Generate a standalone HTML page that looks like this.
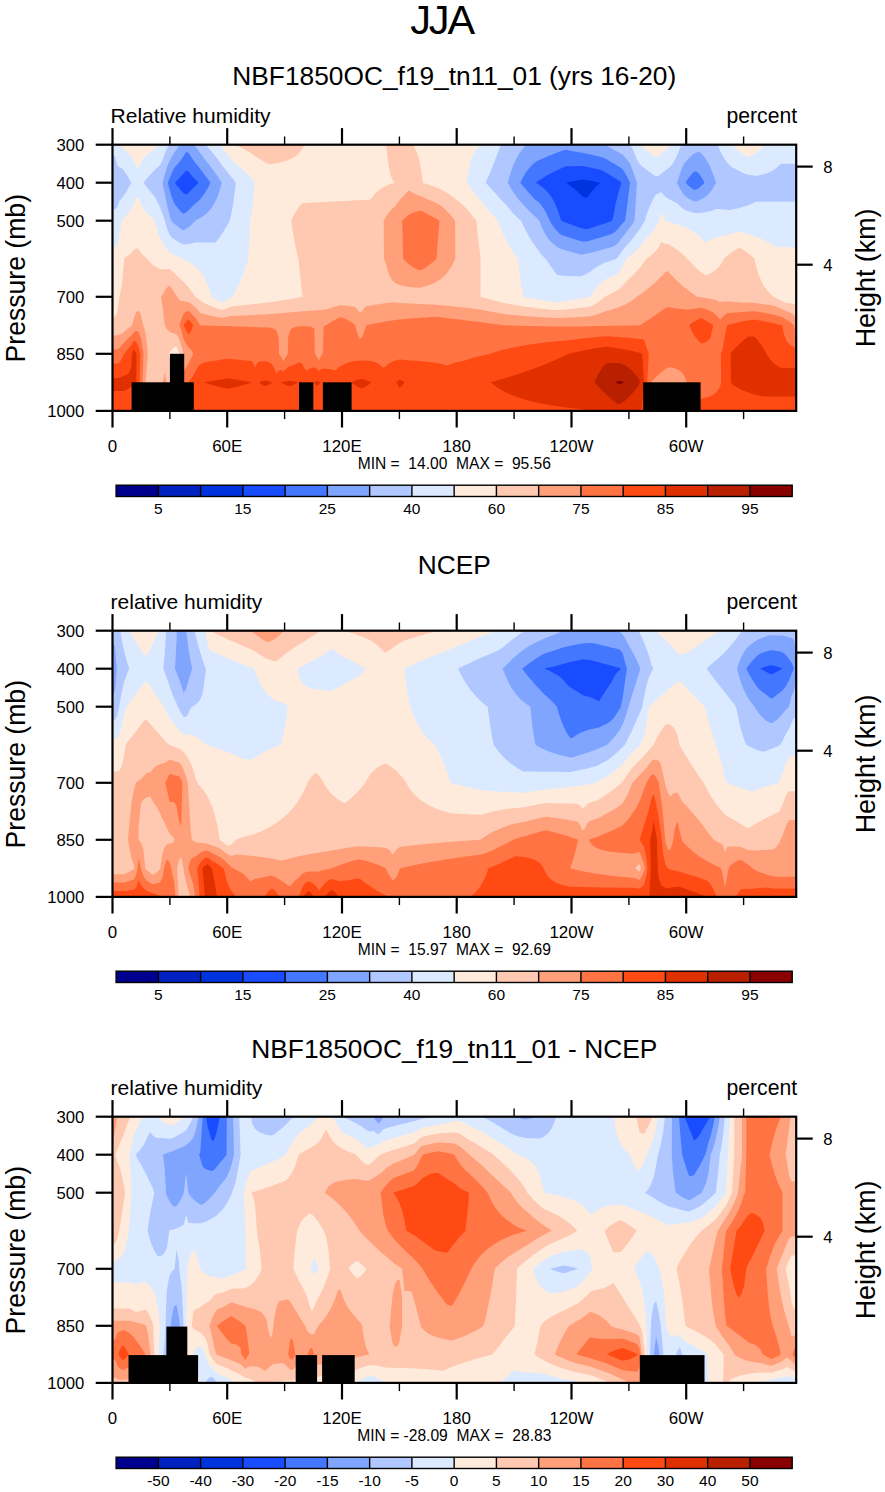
<!DOCTYPE html>
<html><head><meta charset="utf-8"><style>
html,body{margin:0;padding:0;background:#fff;}
svg{display:block;}
text{font-family:"Liberation Sans", sans-serif;fill:#000;}
</style></head><body>
<svg width="885" height="1492" viewBox="0 0 885 1492">
<rect width="885" height="1492" fill="#fff"/>
<text x="441.6" y="33.6" text-anchor="middle" font-size="41.5" letter-spacing="-2.2">JJA</text>
<clipPath id="c0"><rect x="112.5" y="144.7" width="683.7" height="266.2"/></clipPath>
<g clip-path="url(#c0)">
<path fill="#0033e0" fill-rule="evenodd" d="M112.5 144.7H796.2V410.9H112.5Z"/>
<path fill="#1a4cff" fill-rule="evenodd" d="M114.9 144.7 117.2 144.7 119.6 144.7 122.0 144.7 124.4 144.7 126.7 144.7 129.1 144.7 131.5 144.7 133.9 144.7 136.2 144.7 138.6 144.7 141.0 144.7 143.4 144.7 145.7 144.7 148.1 144.7 150.5 144.7 152.9 144.7 155.2 144.7 157.6 144.7 160.0 144.7 162.4 144.7 164.7 144.7 167.1 144.7 169.5 144.7 171.8 144.7 174.2 144.7 176.6 144.7 179.0 144.7 181.3 144.7 183.7 144.7 186.1 144.7 188.5 144.7 190.8 144.7 193.2 144.7 195.6 144.7 198.0 144.7 200.3 144.7 202.7 144.7 205.1 144.7 207.5 144.7 209.8 144.7 212.2 144.7 214.6 144.7 217.0 144.7 219.3 144.7 221.7 144.7 224.1 144.7 226.4 144.7 228.8 144.7 231.2 144.7 233.6 144.7 235.9 144.7 238.3 144.7 240.7 144.7 243.1 144.7 245.4 144.7 247.8 144.7 250.2 144.7 252.6 144.7 254.9 144.7 257.3 144.7 259.7 144.7 262.1 144.7 264.4 144.7 266.8 144.7 269.2 144.7 271.6 144.7 273.9 144.7 276.3 144.7 278.7 144.7 281.1 144.7 283.4 144.7 285.8 144.7 288.2 144.7 290.5 144.7 292.9 144.7 295.3 144.7 297.7 144.7 300.0 144.7 302.4 144.7 304.8 144.7 307.2 144.7 309.5 144.7 311.9 144.7 314.3 144.7 316.7 144.7 319.0 144.7 321.4 144.7 323.8 144.7 326.2 144.7 328.5 144.7 330.9 144.7 333.3 144.7 335.7 144.7 338.0 144.7 340.4 144.7 342.8 144.7 345.1 144.7 347.5 144.7 349.9 144.7 352.3 144.7 354.6 144.7 357.0 144.7 359.4 144.7 361.8 144.7 364.1 144.7 366.5 144.7 368.9 144.7 371.3 144.7 373.6 144.7 376.0 144.7 378.4 144.7 380.8 144.7 383.1 144.7 385.5 144.7 387.9 144.7 390.3 144.7 392.6 144.7 395.0 144.7 397.4 144.7 399.7 144.7 402.1 144.7 404.5 144.7 406.9 144.7 409.2 144.7 411.6 144.7 414.0 144.7 416.4 144.7 418.7 144.7 421.1 144.7 423.5 144.7 425.9 144.7 428.2 144.7 430.6 144.7 433.0 144.7 435.4 144.7 437.7 144.7 440.1 144.7 442.5 144.7 444.9 144.7 447.2 144.7 449.6 144.7 452.0 144.7 454.4 144.7 456.7 144.7 459.1 144.7 461.5 144.7 463.8 144.7 466.2 144.7 468.6 144.7 471.0 144.7 473.3 144.7 475.7 144.7 478.1 144.7 480.5 144.7 482.8 144.7 485.2 144.7 487.6 144.7 490.0 144.7 492.3 144.7 494.7 144.7 497.1 144.7 499.5 144.7 501.8 144.7 504.2 144.7 506.6 144.7 509.0 144.7 511.3 144.7 513.7 144.7 516.1 144.7 518.4 144.7 520.8 144.7 523.2 144.7 525.6 144.7 527.9 144.7 530.3 144.7 532.7 144.7 535.1 144.7 537.4 144.7 539.8 144.7 542.2 144.7 544.6 144.7 546.9 144.7 549.3 144.7 551.7 144.7 554.1 144.7 556.4 144.7 558.8 144.7 561.2 144.7 563.6 144.7 565.9 144.7 568.3 144.7 570.7 144.7 573.0 144.7 575.4 144.7 577.8 144.7 580.2 144.7 582.5 144.7 584.9 144.7 587.3 144.7 589.7 144.7 592.0 144.7 594.4 144.7 596.8 144.7 599.2 144.7 601.5 144.7 603.9 144.7 606.3 144.7 608.7 144.7 611.0 144.7 613.4 144.7 615.8 144.7 618.2 144.7 620.5 144.7 622.9 144.7 625.3 144.7 627.6 144.7 630.0 144.7 632.4 144.7 634.8 144.7 637.1 144.7 639.5 144.7 641.9 144.7 644.3 144.7 646.6 144.7 649.0 144.7 651.4 144.7 653.8 144.7 656.1 144.7 658.5 144.7 660.9 144.7 663.3 144.7 665.6 144.7 668.0 144.7 670.4 144.7 672.8 144.7 675.1 144.7 677.5 144.7 679.9 144.7 682.2 144.7 684.6 144.7 687.0 144.7 689.4 144.7 691.7 144.7 694.1 144.7 696.5 144.7 698.9 144.7 701.2 144.7 703.6 144.7 706.0 144.7 708.4 144.7 710.7 144.7 713.1 144.7 715.5 144.7 717.9 144.7 720.2 144.7 722.6 144.7 725.0 144.7 727.4 144.7 729.7 144.7 732.1 144.7 734.5 144.7 736.9 144.7 739.2 144.7 741.6 144.7 744.0 144.7 746.3 144.7 748.7 144.7 751.1 144.7 753.5 144.7 755.8 144.7 758.2 144.7 760.6 144.7 763.0 144.7 765.3 144.7 767.7 144.7 770.1 144.7 772.5 144.7 774.8 144.7 777.2 144.7 779.6 144.7 782.0 144.7 784.3 144.7 786.7 144.7 789.1 144.7 791.5 144.7 793.8 144.7 796.2 144.7 796.2 182.7 796.2 220.7 796.2 258.7 796.2 296.8 796.2 325.3 796.2 353.8 796.2 382.3 796.2 410.9 793.8 410.9 791.5 410.9 789.1 410.9 786.7 410.9 784.3 410.9 782.0 410.9 779.6 410.9 777.2 410.9 774.8 410.9 772.5 410.9 770.1 410.9 767.7 410.9 765.3 410.9 763.0 410.9 760.6 410.9 758.2 410.9 755.8 410.9 753.5 410.9 751.1 410.9 748.7 410.9 746.3 410.9 744.0 410.9 741.6 410.9 739.2 410.9 736.9 410.9 734.5 410.9 732.1 410.9 729.7 410.9 727.4 410.9 725.0 410.9 722.6 410.9 720.2 410.9 717.9 410.9 715.5 410.9 713.1 410.9 710.7 410.9 708.4 410.9 706.0 410.9 703.6 410.9 701.2 410.9 698.9 410.9 696.5 410.9 694.1 410.9 691.7 410.9 689.4 410.9 687.0 410.9 684.6 410.9 682.2 410.9 679.9 410.9 677.5 410.9 675.1 410.9 672.8 410.9 670.4 410.9 668.0 410.9 665.6 410.9 663.3 410.9 660.9 410.9 658.5 410.9 656.1 410.9 653.8 410.9 651.4 410.9 649.0 410.9 646.6 410.9 644.3 410.9 641.9 410.9 639.5 410.9 637.1 410.9 634.8 410.9 632.4 410.9 630.0 410.9 627.6 410.9 625.3 410.9 622.9 410.9 620.5 410.9 618.2 410.9 615.8 410.9 613.4 410.9 611.0 410.9 608.7 410.9 606.3 410.9 603.9 410.9 601.5 410.9 599.2 410.9 596.8 410.9 594.4 410.9 592.0 410.9 589.7 410.9 587.3 410.9 584.9 410.9 582.5 410.9 580.2 410.9 577.8 410.9 575.4 410.9 573.0 410.9 570.7 410.9 568.3 410.9 565.9 410.9 563.6 410.9 561.2 410.9 558.8 410.9 556.4 410.9 554.1 410.9 551.7 410.9 549.3 410.9 546.9 410.9 544.6 410.9 542.2 410.9 539.8 410.9 537.4 410.9 535.1 410.9 532.7 410.9 530.3 410.9 527.9 410.9 525.6 410.9 523.2 410.9 520.8 410.9 518.4 410.9 516.1 410.9 513.7 410.9 511.3 410.9 509.0 410.9 506.6 410.9 504.2 410.9 501.8 410.9 499.5 410.9 497.1 410.9 494.7 410.9 492.3 410.9 490.0 410.9 487.6 410.9 485.2 410.9 482.8 410.9 480.5 410.9 478.1 410.9 475.7 410.9 473.3 410.9 471.0 410.9 468.6 410.9 466.2 410.9 463.8 410.9 461.5 410.9 459.1 410.9 456.7 410.9 454.4 410.9 452.0 410.9 449.6 410.9 447.2 410.9 444.9 410.9 442.5 410.9 440.1 410.9 437.7 410.9 435.4 410.9 433.0 410.9 430.6 410.9 428.2 410.9 425.9 410.9 423.5 410.9 421.1 410.9 418.7 410.9 416.4 410.9 414.0 410.9 411.6 410.9 409.2 410.9 406.9 410.9 404.5 410.9 402.1 410.9 399.7 410.9 397.4 410.9 395.0 410.9 392.6 410.9 390.3 410.9 387.9 410.9 385.5 410.9 383.1 410.9 380.8 410.9 378.4 410.9 376.0 410.9 373.6 410.9 371.3 410.9 368.9 410.9 366.5 410.9 364.1 410.9 361.8 410.9 359.4 410.9 357.0 410.9 354.6 410.9 352.3 410.9 349.9 410.9 347.5 410.9 345.1 410.9 342.8 410.9 340.4 410.9 338.0 410.9 335.7 410.9 333.3 410.9 330.9 410.9 328.5 410.9 326.2 410.9 323.8 410.9 321.4 410.9 319.0 410.9 316.7 410.9 314.3 410.9 311.9 410.9 309.5 410.9 307.2 410.9 304.8 410.9 302.4 410.9 300.0 410.9 297.7 410.9 295.3 410.9 292.9 410.9 290.5 410.9 288.2 410.9 285.8 410.9 283.4 410.9 281.1 410.9 278.7 410.9 276.3 410.9 273.9 410.9 271.6 410.9 269.2 410.9 266.8 410.9 264.4 410.9 262.1 410.9 259.7 410.9 257.3 410.9 254.9 410.9 252.6 410.9 250.2 410.9 247.8 410.9 245.4 410.9 243.1 410.9 240.7 410.9 238.3 410.9 235.9 410.9 233.6 410.9 231.2 410.9 228.8 410.9 226.4 410.9 224.1 410.9 221.7 410.9 219.3 410.9 217.0 410.9 214.6 410.9 212.2 410.9 209.8 410.9 207.5 410.9 205.1 410.9 202.7 410.9 200.3 410.9 198.0 410.9 195.6 410.9 193.2 410.9 190.8 410.9 188.5 410.9 186.1 410.9 183.7 410.9 181.3 410.9 179.0 410.9 176.6 410.9 174.2 410.9 171.8 410.9 169.5 410.9 167.1 410.9 164.7 410.9 162.4 410.9 160.0 410.9 157.6 410.9 155.2 410.9 152.9 410.9 150.5 410.9 148.1 410.9 145.7 410.9 143.4 410.9 141.0 410.9 138.6 410.9 136.2 410.9 133.9 410.9 131.5 410.9 129.1 410.9 126.7 410.9 124.4 410.9 122.0 410.9 119.6 410.9 117.2 410.9 114.9 410.9 112.5 410.9 112.5 382.3 112.5 353.8 112.5 325.3 112.5 296.8 112.5 258.7 112.5 220.7 112.5 182.7 112.5 144.7 114.9 144.7ZM566.1 182.7 568.3 184.2 570.7 185.9 573.0 187.7 575.4 189.6 577.8 191.8 580.2 194.1 582.5 196.6 584.9 197.6 587.3 197.2 589.7 193.9 592.0 191.0 594.4 188.4 596.8 186.0 599.2 183.9 599.9 182.7 599.2 182.4 596.8 182.0 594.4 181.5 592.0 181.1 589.7 180.6 587.3 180.2 584.9 179.7 582.5 179.5 580.2 179.9 577.8 180.3 575.4 180.7 573.0 181.2 570.7 181.6 568.3 182.2 566.1 182.7Z"/>
<path fill="#4477ff" fill-rule="evenodd" d="M114.9 144.7 117.2 144.7 119.6 144.7 122.0 144.7 124.4 144.7 126.7 144.7 129.1 144.7 131.5 144.7 133.9 144.7 136.2 144.7 138.6 144.7 141.0 144.7 143.4 144.7 145.7 144.7 148.1 144.7 150.5 144.7 152.9 144.7 155.2 144.7 157.6 144.7 160.0 144.7 162.4 144.7 164.7 144.7 167.1 144.7 169.5 144.7 171.8 144.7 174.2 144.7 176.6 144.7 179.0 144.7 181.3 144.7 183.7 144.7 186.1 144.7 188.5 144.7 190.8 144.7 193.2 144.7 195.6 144.7 198.0 144.7 200.3 144.7 202.7 144.7 205.1 144.7 207.5 144.7 209.8 144.7 212.2 144.7 214.6 144.7 217.0 144.7 219.3 144.7 221.7 144.7 224.1 144.7 226.4 144.7 228.8 144.7 231.2 144.7 233.6 144.7 235.9 144.7 238.3 144.7 240.7 144.7 243.1 144.7 245.4 144.7 247.8 144.7 250.2 144.7 252.6 144.7 254.9 144.7 257.3 144.7 259.7 144.7 262.1 144.7 264.4 144.7 266.8 144.7 269.2 144.7 271.6 144.7 273.9 144.7 276.3 144.7 278.7 144.7 281.1 144.7 283.4 144.7 285.8 144.7 288.2 144.7 290.5 144.7 292.9 144.7 295.3 144.7 297.7 144.7 300.0 144.7 302.4 144.7 304.8 144.7 307.2 144.7 309.5 144.7 311.9 144.7 314.3 144.7 316.7 144.7 319.0 144.7 321.4 144.7 323.8 144.7 326.2 144.7 328.5 144.7 330.9 144.7 333.3 144.7 335.7 144.7 338.0 144.7 340.4 144.7 342.8 144.7 345.1 144.7 347.5 144.7 349.9 144.7 352.3 144.7 354.6 144.7 357.0 144.7 359.4 144.7 361.8 144.7 364.1 144.7 366.5 144.7 368.9 144.7 371.3 144.7 373.6 144.7 376.0 144.7 378.4 144.7 380.8 144.7 383.1 144.7 385.5 144.7 387.9 144.7 390.3 144.7 392.6 144.7 395.0 144.7 397.4 144.7 399.7 144.7 402.1 144.7 404.5 144.7 406.9 144.7 409.2 144.7 411.6 144.7 414.0 144.7 416.4 144.7 418.7 144.7 421.1 144.7 423.5 144.7 425.9 144.7 428.2 144.7 430.6 144.7 433.0 144.7 435.4 144.7 437.7 144.7 440.1 144.7 442.5 144.7 444.9 144.7 447.2 144.7 449.6 144.7 452.0 144.7 454.4 144.7 456.7 144.7 459.1 144.7 461.5 144.7 463.8 144.7 466.2 144.7 468.6 144.7 471.0 144.7 473.3 144.7 475.7 144.7 478.1 144.7 480.5 144.7 482.8 144.7 485.2 144.7 487.6 144.7 490.0 144.7 492.3 144.7 494.7 144.7 497.1 144.7 499.5 144.7 501.8 144.7 504.2 144.7 506.6 144.7 509.0 144.7 511.3 144.7 513.7 144.7 516.1 144.7 518.4 144.7 520.8 144.7 523.2 144.7 525.6 144.7 527.9 144.7 530.3 144.7 532.7 144.7 535.1 144.7 537.4 144.7 539.8 144.7 542.2 144.7 544.6 144.7 546.9 144.7 549.3 144.7 551.7 144.7 554.1 144.7 556.4 144.7 558.8 144.7 561.2 144.7 563.6 144.7 565.9 144.7 568.3 144.7 570.7 144.7 573.0 144.7 575.4 144.7 577.8 144.7 580.2 144.7 582.5 144.7 584.9 144.7 587.3 144.7 589.7 144.7 592.0 144.7 594.4 144.7 596.8 144.7 599.2 144.7 601.5 144.7 603.9 144.7 606.3 144.7 608.7 144.7 611.0 144.7 613.4 144.7 615.8 144.7 618.2 144.7 620.5 144.7 622.9 144.7 625.3 144.7 627.6 144.7 630.0 144.7 632.4 144.7 634.8 144.7 637.1 144.7 639.5 144.7 641.9 144.7 644.3 144.7 646.6 144.7 649.0 144.7 651.4 144.7 653.8 144.7 656.1 144.7 658.5 144.7 660.9 144.7 663.3 144.7 665.6 144.7 668.0 144.7 670.4 144.7 672.8 144.7 675.1 144.7 677.5 144.7 679.9 144.7 682.2 144.7 684.6 144.7 687.0 144.7 689.4 144.7 691.7 144.7 694.1 144.7 696.5 144.7 698.9 144.7 701.2 144.7 703.6 144.7 706.0 144.7 708.4 144.7 710.7 144.7 713.1 144.7 715.5 144.7 717.9 144.7 720.2 144.7 722.6 144.7 725.0 144.7 727.4 144.7 729.7 144.7 732.1 144.7 734.5 144.7 736.9 144.7 739.2 144.7 741.6 144.7 744.0 144.7 746.3 144.7 748.7 144.7 751.1 144.7 753.5 144.7 755.8 144.7 758.2 144.7 760.6 144.7 763.0 144.7 765.3 144.7 767.7 144.7 770.1 144.7 772.5 144.7 774.8 144.7 777.2 144.7 779.6 144.7 782.0 144.7 784.3 144.7 786.7 144.7 789.1 144.7 791.5 144.7 793.8 144.7 796.2 144.7 796.2 182.7 796.2 220.7 796.2 258.7 796.2 296.8 796.2 325.3 796.2 353.8 796.2 382.3 796.2 410.9 793.8 410.9 791.5 410.9 789.1 410.9 786.7 410.9 784.3 410.9 782.0 410.9 779.6 410.9 777.2 410.9 774.8 410.9 772.5 410.9 770.1 410.9 767.7 410.9 765.3 410.9 763.0 410.9 760.6 410.9 758.2 410.9 755.8 410.9 753.5 410.9 751.1 410.9 748.7 410.9 746.3 410.9 744.0 410.9 741.6 410.9 739.2 410.9 736.9 410.9 734.5 410.9 732.1 410.9 729.7 410.9 727.4 410.9 725.0 410.9 722.6 410.9 720.2 410.9 717.9 410.9 715.5 410.9 713.1 410.9 710.7 410.9 708.4 410.9 706.0 410.9 703.6 410.9 701.2 410.9 698.9 410.9 696.5 410.9 694.1 410.9 691.7 410.9 689.4 410.9 687.0 410.9 684.6 410.9 682.2 410.9 679.9 410.9 677.5 410.9 675.1 410.9 672.8 410.9 670.4 410.9 668.0 410.9 665.6 410.9 663.3 410.9 660.9 410.9 658.5 410.9 656.1 410.9 653.8 410.9 651.4 410.9 649.0 410.9 646.6 410.9 644.3 410.9 641.9 410.9 639.5 410.9 637.1 410.9 634.8 410.9 632.4 410.9 630.0 410.9 627.6 410.9 625.3 410.9 622.9 410.9 620.5 410.9 618.2 410.9 615.8 410.9 613.4 410.9 611.0 410.9 608.7 410.9 606.3 410.9 603.9 410.9 601.5 410.9 599.2 410.9 596.8 410.9 594.4 410.9 592.0 410.9 589.7 410.9 587.3 410.9 584.9 410.9 582.5 410.9 580.2 410.9 577.8 410.9 575.4 410.9 573.0 410.9 570.7 410.9 568.3 410.9 565.9 410.9 563.6 410.9 561.2 410.9 558.8 410.9 556.4 410.9 554.1 410.9 551.7 410.9 549.3 410.9 546.9 410.9 544.6 410.9 542.2 410.9 539.8 410.9 537.4 410.9 535.1 410.9 532.7 410.9 530.3 410.9 527.9 410.9 525.6 410.9 523.2 410.9 520.8 410.9 518.4 410.9 516.1 410.9 513.7 410.9 511.3 410.9 509.0 410.9 506.6 410.9 504.2 410.9 501.8 410.9 499.5 410.9 497.1 410.9 494.7 410.9 492.3 410.9 490.0 410.9 487.6 410.9 485.2 410.9 482.8 410.9 480.5 410.9 478.1 410.9 475.7 410.9 473.3 410.9 471.0 410.9 468.6 410.9 466.2 410.9 463.8 410.9 461.5 410.9 459.1 410.9 456.7 410.9 454.4 410.9 452.0 410.9 449.6 410.9 447.2 410.9 444.9 410.9 442.5 410.9 440.1 410.9 437.7 410.9 435.4 410.9 433.0 410.9 430.6 410.9 428.2 410.9 425.9 410.9 423.5 410.9 421.1 410.9 418.7 410.9 416.4 410.9 414.0 410.9 411.6 410.9 409.2 410.9 406.9 410.9 404.5 410.9 402.1 410.9 399.7 410.9 397.4 410.9 395.0 410.9 392.6 410.9 390.3 410.9 387.9 410.9 385.5 410.9 383.1 410.9 380.8 410.9 378.4 410.9 376.0 410.9 373.6 410.9 371.3 410.9 368.9 410.9 366.5 410.9 364.1 410.9 361.8 410.9 359.4 410.9 357.0 410.9 354.6 410.9 352.3 410.9 349.9 410.9 347.5 410.9 345.1 410.9 342.8 410.9 340.4 410.9 338.0 410.9 335.7 410.9 333.3 410.9 330.9 410.9 328.5 410.9 326.2 410.9 323.8 410.9 321.4 410.9 319.0 410.9 316.7 410.9 314.3 410.9 311.9 410.9 309.5 410.9 307.2 410.9 304.8 410.9 302.4 410.9 300.0 410.9 297.7 410.9 295.3 410.9 292.9 410.9 290.5 410.9 288.2 410.9 285.8 410.9 283.4 410.9 281.1 410.9 278.7 410.9 276.3 410.9 273.9 410.9 271.6 410.9 269.2 410.9 266.8 410.9 264.4 410.9 262.1 410.9 259.7 410.9 257.3 410.9 254.9 410.9 252.6 410.9 250.2 410.9 247.8 410.9 245.4 410.9 243.1 410.9 240.7 410.9 238.3 410.9 235.9 410.9 233.6 410.9 231.2 410.9 228.8 410.9 226.4 410.9 224.1 410.9 221.7 410.9 219.3 410.9 217.0 410.9 214.6 410.9 212.2 410.9 209.8 410.9 207.5 410.9 205.1 410.9 202.7 410.9 200.3 410.9 198.0 410.9 195.6 410.9 193.2 410.9 190.8 410.9 188.5 410.9 186.1 410.9 183.7 410.9 181.3 410.9 179.0 410.9 176.6 410.9 174.2 410.9 171.8 410.9 169.5 410.9 167.1 410.9 164.7 410.9 162.4 410.9 160.0 410.9 157.6 410.9 155.2 410.9 152.9 410.9 150.5 410.9 148.1 410.9 145.7 410.9 143.4 410.9 141.0 410.9 138.6 410.9 136.2 410.9 133.9 410.9 131.5 410.9 129.1 410.9 126.7 410.9 124.4 410.9 122.0 410.9 119.6 410.9 117.2 410.9 114.9 410.9 112.5 410.9 112.5 382.3 112.5 353.8 112.5 325.3 112.5 296.8 112.5 258.7 112.5 220.7 112.5 182.7 112.5 144.7 114.9 144.7ZM175.0 182.7 176.6 185.2 179.0 188.1 181.3 191.0 183.7 193.5 186.1 194.5 188.5 193.0 190.8 190.6 193.2 188.2 195.6 185.8 198.0 183.5 198.5 182.7 198.0 182.0 195.6 179.7 193.2 177.2 190.8 174.5 188.5 171.5 186.1 170.4 183.7 173.4 181.3 176.1 179.0 178.6 176.6 180.9 175.0 182.7ZM535.7 182.7 537.4 183.8 539.8 185.3 542.2 187.0 544.6 189.0 546.9 191.4 549.3 194.3 551.7 197.6 554.1 201.7 556.4 206.8 558.8 213.3 561.1 220.7 561.2 220.8 563.6 221.7 565.9 222.6 568.3 223.5 570.7 224.3 573.0 225.2 575.4 226.0 577.8 226.9 580.2 227.7 582.5 228.4 584.9 228.9 587.3 229.1 589.7 228.4 592.0 227.6 594.4 226.9 596.8 226.1 599.2 225.3 601.5 224.6 603.9 223.8 606.3 223.0 608.7 222.1 611.0 221.3 612.1 220.7 613.4 216.2 615.8 203.1 618.2 193.5 620.5 186.1 621.3 182.7 620.5 181.8 618.2 180.2 615.8 178.7 613.4 177.2 611.0 175.7 608.7 174.2 606.3 172.7 603.9 171.4 601.5 170.2 599.2 169.4 596.8 168.9 594.4 168.4 592.0 168.0 589.7 167.5 587.3 167.0 584.9 166.5 582.5 166.1 580.2 166.1 577.8 166.2 575.4 166.2 573.0 166.2 570.7 166.2 568.3 166.2 565.9 166.2 563.6 167.2 561.2 168.3 558.8 169.4 556.4 170.5 554.1 171.7 551.7 173.0 549.3 174.2 546.9 175.6 544.6 176.9 542.2 178.4 539.8 179.8 537.4 181.4 535.7 182.7Z"/>
<path fill="#80a5ff" fill-rule="evenodd" d="M114.9 144.7 117.2 144.7 119.6 144.7 122.0 144.7 124.4 144.7 126.7 144.7 129.1 144.7 131.5 144.7 133.9 144.7 136.2 144.7 138.6 144.7 141.0 144.7 143.4 144.7 145.7 144.7 148.1 144.7 150.5 144.7 152.9 144.7 155.2 144.7 157.6 144.7 160.0 144.7 162.4 144.7 164.7 144.7 167.1 144.7 169.5 144.7 171.8 144.7 174.2 144.7 176.6 144.7 179.0 144.7 181.3 144.7 183.7 144.7 186.1 144.7 188.5 144.7 190.8 144.7 193.2 144.7 195.6 144.7 198.0 144.7 200.3 144.7 202.7 144.7 205.1 144.7 207.5 144.7 209.8 144.7 212.2 144.7 214.6 144.7 217.0 144.7 219.3 144.7 221.7 144.7 224.1 144.7 226.4 144.7 228.8 144.7 231.2 144.7 233.6 144.7 235.9 144.7 238.3 144.7 240.7 144.7 243.1 144.7 245.4 144.7 247.8 144.7 250.2 144.7 252.6 144.7 254.9 144.7 257.3 144.7 259.7 144.7 262.1 144.7 264.4 144.7 266.8 144.7 269.2 144.7 271.6 144.7 273.9 144.7 276.3 144.7 278.7 144.7 281.1 144.7 283.4 144.7 285.8 144.7 288.2 144.7 290.5 144.7 292.9 144.7 295.3 144.7 297.7 144.7 300.0 144.7 302.4 144.7 304.8 144.7 307.2 144.7 309.5 144.7 311.9 144.7 314.3 144.7 316.7 144.7 319.0 144.7 321.4 144.7 323.8 144.7 326.2 144.7 328.5 144.7 330.9 144.7 333.3 144.7 335.7 144.7 338.0 144.7 340.4 144.7 342.8 144.7 345.1 144.7 347.5 144.7 349.9 144.7 352.3 144.7 354.6 144.7 357.0 144.7 359.4 144.7 361.8 144.7 364.1 144.7 366.5 144.7 368.9 144.7 371.3 144.7 373.6 144.7 376.0 144.7 378.4 144.7 380.8 144.7 383.1 144.7 385.5 144.7 387.9 144.7 390.3 144.7 392.6 144.7 395.0 144.7 397.4 144.7 399.7 144.7 402.1 144.7 404.5 144.7 406.9 144.7 409.2 144.7 411.6 144.7 414.0 144.7 416.4 144.7 418.7 144.7 421.1 144.7 423.5 144.7 425.9 144.7 428.2 144.7 430.6 144.7 433.0 144.7 435.4 144.7 437.7 144.7 440.1 144.7 442.5 144.7 444.9 144.7 447.2 144.7 449.6 144.7 452.0 144.7 454.4 144.7 456.7 144.7 459.1 144.7 461.5 144.7 463.8 144.7 466.2 144.7 468.6 144.7 471.0 144.7 473.3 144.7 475.7 144.7 478.1 144.7 480.5 144.7 482.8 144.7 485.2 144.7 487.6 144.7 490.0 144.7 492.3 144.7 494.7 144.7 497.1 144.7 499.5 144.7 501.8 144.7 504.2 144.7 506.6 144.7 509.0 144.7 511.3 144.7 513.7 144.7 516.1 144.7 518.4 144.7 520.8 144.7 523.2 144.7 525.6 144.7 527.9 144.7 530.3 144.7 532.7 144.7 535.1 144.7 537.4 144.7 539.8 144.7 542.2 144.7 544.6 144.7 546.9 144.7 549.3 144.7 551.7 144.7 554.1 144.7 556.4 144.7 558.8 144.7 561.2 144.7 563.6 144.7 565.9 144.7 568.3 144.7 570.7 144.7 573.0 144.7 575.4 144.7 577.8 144.7 580.2 144.7 582.5 144.7 584.9 144.7 587.3 144.7 589.7 144.7 592.0 144.7 594.4 144.7 596.8 144.7 599.2 144.7 601.5 144.7 603.9 144.7 606.3 144.7 608.7 144.7 611.0 144.7 613.4 144.7 615.8 144.7 618.2 144.7 620.5 144.7 622.9 144.7 625.3 144.7 627.6 144.7 630.0 144.7 632.4 144.7 634.8 144.7 637.1 144.7 639.5 144.7 641.9 144.7 644.3 144.7 646.6 144.7 649.0 144.7 651.4 144.7 653.8 144.7 656.1 144.7 658.5 144.7 660.9 144.7 663.3 144.7 665.6 144.7 668.0 144.7 670.4 144.7 672.8 144.7 675.1 144.7 677.5 144.7 679.9 144.7 682.2 144.7 684.6 144.7 687.0 144.7 689.4 144.7 691.7 144.7 694.1 144.7 696.5 144.7 698.9 144.7 701.2 144.7 703.6 144.7 706.0 144.7 708.4 144.7 710.7 144.7 713.1 144.7 715.5 144.7 717.9 144.7 720.2 144.7 722.6 144.7 725.0 144.7 727.4 144.7 729.7 144.7 732.1 144.7 734.5 144.7 736.9 144.7 739.2 144.7 741.6 144.7 744.0 144.7 746.3 144.7 748.7 144.7 751.1 144.7 753.5 144.7 755.8 144.7 758.2 144.7 760.6 144.7 763.0 144.7 765.3 144.7 767.7 144.7 770.1 144.7 772.5 144.7 774.8 144.7 777.2 144.7 779.6 144.7 782.0 144.7 784.3 144.7 786.7 144.7 789.1 144.7 791.5 144.7 793.8 144.7 796.2 144.7 796.2 182.7 796.2 220.7 796.2 258.7 796.2 296.8 796.2 325.3 796.2 353.8 796.2 382.3 796.2 410.9 793.8 410.9 791.5 410.9 789.1 410.9 786.7 410.9 784.3 410.9 782.0 410.9 779.6 410.9 777.2 410.9 774.8 410.9 772.5 410.9 770.1 410.9 767.7 410.9 765.3 410.9 763.0 410.9 760.6 410.9 758.2 410.9 755.8 410.9 753.5 410.9 751.1 410.9 748.7 410.9 746.3 410.9 744.0 410.9 741.6 410.9 739.2 410.9 736.9 410.9 734.5 410.9 732.1 410.9 729.7 410.9 727.4 410.9 725.0 410.9 722.6 410.9 720.2 410.9 717.9 410.9 715.5 410.9 713.1 410.9 710.7 410.9 708.4 410.9 706.0 410.9 703.6 410.9 701.2 410.9 698.9 410.9 696.5 410.9 694.1 410.9 691.7 410.9 689.4 410.9 687.0 410.9 684.6 410.9 682.2 410.9 679.9 410.9 677.5 410.9 675.1 410.9 672.8 410.9 670.4 410.9 668.0 410.9 665.6 410.9 663.3 410.9 660.9 410.9 658.5 410.9 656.1 410.9 653.8 410.9 651.4 410.9 649.0 410.9 646.6 410.9 644.3 410.9 641.9 410.9 639.5 410.9 637.1 410.9 634.8 410.9 632.4 410.9 630.0 410.9 627.6 410.9 625.3 410.9 622.9 410.9 620.5 410.9 618.2 410.9 615.8 410.9 613.4 410.9 611.0 410.9 608.7 410.9 606.3 410.9 603.9 410.9 601.5 410.9 599.2 410.9 596.8 410.9 594.4 410.9 592.0 410.9 589.7 410.9 587.3 410.9 584.9 410.9 582.5 410.9 580.2 410.9 577.8 410.9 575.4 410.9 573.0 410.9 570.7 410.9 568.3 410.9 565.9 410.9 563.6 410.9 561.2 410.9 558.8 410.9 556.4 410.9 554.1 410.9 551.7 410.9 549.3 410.9 546.9 410.9 544.6 410.9 542.2 410.9 539.8 410.9 537.4 410.9 535.1 410.9 532.7 410.9 530.3 410.9 527.9 410.9 525.6 410.9 523.2 410.9 520.8 410.9 518.4 410.9 516.1 410.9 513.7 410.9 511.3 410.9 509.0 410.9 506.6 410.9 504.2 410.9 501.8 410.9 499.5 410.9 497.1 410.9 494.7 410.9 492.3 410.9 490.0 410.9 487.6 410.9 485.2 410.9 482.8 410.9 480.5 410.9 478.1 410.9 475.7 410.9 473.3 410.9 471.0 410.9 468.6 410.9 466.2 410.9 463.8 410.9 461.5 410.9 459.1 410.9 456.7 410.9 454.4 410.9 452.0 410.9 449.6 410.9 447.2 410.9 444.9 410.9 442.5 410.9 440.1 410.9 437.7 410.9 435.4 410.9 433.0 410.9 430.6 410.9 428.2 410.9 425.9 410.9 423.5 410.9 421.1 410.9 418.7 410.9 416.4 410.9 414.0 410.9 411.6 410.9 409.2 410.9 406.9 410.9 404.5 410.9 402.1 410.9 399.7 410.9 397.4 410.9 395.0 410.9 392.6 410.9 390.3 410.9 387.9 410.9 385.5 410.9 383.1 410.9 380.8 410.9 378.4 410.9 376.0 410.9 373.6 410.9 371.3 410.9 368.9 410.9 366.5 410.9 364.1 410.9 361.8 410.9 359.4 410.9 357.0 410.9 354.6 410.9 352.3 410.9 349.9 410.9 347.5 410.9 345.1 410.9 342.8 410.9 340.4 410.9 338.0 410.9 335.7 410.9 333.3 410.9 330.9 410.9 328.5 410.9 326.2 410.9 323.8 410.9 321.4 410.9 319.0 410.9 316.7 410.9 314.3 410.9 311.9 410.9 309.5 410.9 307.2 410.9 304.8 410.9 302.4 410.9 300.0 410.9 297.7 410.9 295.3 410.9 292.9 410.9 290.5 410.9 288.2 410.9 285.8 410.9 283.4 410.9 281.1 410.9 278.7 410.9 276.3 410.9 273.9 410.9 271.6 410.9 269.2 410.9 266.8 410.9 264.4 410.9 262.1 410.9 259.7 410.9 257.3 410.9 254.9 410.9 252.6 410.9 250.2 410.9 247.8 410.9 245.4 410.9 243.1 410.9 240.7 410.9 238.3 410.9 235.9 410.9 233.6 410.9 231.2 410.9 228.8 410.9 226.4 410.9 224.1 410.9 221.7 410.9 219.3 410.9 217.0 410.9 214.6 410.9 212.2 410.9 209.8 410.9 207.5 410.9 205.1 410.9 202.7 410.9 200.3 410.9 198.0 410.9 195.6 410.9 193.2 410.9 190.8 410.9 188.5 410.9 186.1 410.9 183.7 410.9 181.3 410.9 179.0 410.9 176.6 410.9 174.2 410.9 171.8 410.9 169.5 410.9 167.1 410.9 164.7 410.9 162.4 410.9 160.0 410.9 157.6 410.9 155.2 410.9 152.9 410.9 150.5 410.9 148.1 410.9 145.7 410.9 143.4 410.9 141.0 410.9 138.6 410.9 136.2 410.9 133.9 410.9 131.5 410.9 129.1 410.9 126.7 410.9 124.4 410.9 122.0 410.9 119.6 410.9 117.2 410.9 114.9 410.9 112.5 410.9 112.5 382.3 112.5 353.8 112.5 325.3 112.5 296.8 112.5 258.7 112.5 220.7 112.5 182.7 112.5 144.7 114.9 144.7ZM167.9 182.7 169.5 189.2 171.8 197.5 174.2 203.2 176.6 206.5 179.0 209.4 181.3 212.3 183.7 213.8 186.1 212.3 188.5 210.2 190.8 207.9 193.2 205.5 195.6 203.2 198.0 201.4 200.3 199.0 202.7 196.1 205.1 192.7 207.5 188.8 209.8 184.1 210.5 182.7 209.8 181.8 207.5 178.6 205.1 175.5 202.7 172.3 200.3 169.0 198.0 166.0 195.6 163.2 193.2 160.1 190.8 156.6 188.5 152.8 186.1 152.1 183.7 155.9 181.3 159.4 179.0 162.4 176.6 165.2 174.2 168.1 171.8 173.0 169.5 178.4 167.9 182.7ZM520.3 182.7 520.8 183.4 523.2 186.2 525.6 189.0 527.9 191.7 530.3 194.3 532.7 196.9 535.1 199.4 537.4 201.3 539.8 203.3 542.2 206.5 544.6 210.1 546.9 214.5 549.3 219.8 549.7 220.7 551.7 224.0 554.1 227.4 556.4 230.3 558.8 232.8 561.2 234.9 563.6 235.7 565.9 236.5 568.3 237.3 570.7 238.1 573.0 238.8 575.4 239.6 577.8 240.3 580.2 241.1 582.5 241.4 584.9 241.5 587.3 241.4 589.7 240.7 592.0 240.0 594.4 239.3 596.8 238.6 599.2 237.9 601.5 237.2 603.9 236.5 606.3 235.8 608.7 235.0 611.0 234.3 613.4 233.2 615.8 231.2 618.2 228.6 620.5 225.8 622.9 223.1 625.0 220.7 625.3 219.4 627.6 202.2 630.0 182.7 630.0 182.7 630.0 182.7 627.6 177.6 625.3 173.4 622.9 169.8 620.5 167.6 618.2 166.2 615.8 164.7 613.4 163.3 611.0 161.9 608.7 160.5 606.3 159.1 603.9 157.9 601.5 157.1 599.2 156.4 596.8 155.9 594.4 155.4 592.0 154.8 589.7 154.3 587.3 153.8 584.9 153.2 582.5 152.8 580.2 152.4 577.8 152.0 575.4 151.6 573.0 151.2 570.7 150.7 568.3 150.3 565.9 149.7 563.6 150.3 561.2 151.1 558.8 152.0 556.4 152.8 554.1 153.7 551.7 154.7 549.3 155.6 546.9 156.6 544.6 157.7 542.2 158.7 539.8 159.8 537.4 161.0 535.1 162.3 532.7 164.4 530.3 166.9 527.9 169.7 525.6 173.0 523.2 177.1 520.8 181.6 520.3 182.7ZM685.6 182.7 687.0 184.3 689.4 186.4 691.7 188.3 694.1 190.0 696.5 189.6 698.9 187.9 701.2 186.0 703.6 183.8 704.5 182.7 703.6 180.8 701.2 176.9 698.9 173.5 696.5 171.5 694.1 171.4 691.7 174.1 689.4 177.0 687.0 180.2 685.6 182.7Z"/>
<path fill="#b0c8ff" fill-rule="evenodd" d="M114.9 144.7 117.2 144.7 119.6 144.7 122.0 144.7 124.4 144.7 126.7 144.7 129.1 144.7 131.5 144.7 133.9 144.7 136.2 144.7 138.6 144.7 141.0 144.7 143.4 144.7 145.7 144.7 148.1 144.7 150.5 144.7 152.9 144.7 155.2 144.7 157.6 144.7 160.0 144.7 162.4 144.7 164.7 144.7 167.1 144.7 169.5 144.7 171.8 144.7 174.2 144.7 176.6 144.7 179.0 144.7 180.0 144.7 179.0 146.3 176.6 149.6 174.2 152.7 171.8 156.7 169.5 161.1 167.1 166.7 164.7 174.8 162.5 182.7 164.7 193.3 167.1 205.0 169.5 215.1 171.3 220.7 171.8 221.7 174.2 223.8 176.6 225.7 179.0 227.6 181.3 229.4 183.7 230.2 186.1 228.8 188.5 227.2 190.8 225.4 193.2 223.1 195.4 220.7 195.6 220.6 198.0 219.3 200.3 218.0 202.7 216.4 205.1 214.5 207.5 212.4 209.8 209.9 212.2 206.8 214.6 202.9 217.0 198.0 219.3 191.6 221.7 182.7 221.7 182.7 221.7 182.7 219.3 179.0 217.0 175.4 214.6 172.0 212.2 168.8 209.8 165.6 207.5 162.7 205.1 159.7 202.7 156.5 200.3 153.2 198.0 150.0 195.6 146.7 194.2 144.7 195.6 144.7 198.0 144.7 200.3 144.7 202.7 144.7 205.1 144.7 207.5 144.7 209.8 144.7 212.2 144.7 214.6 144.7 217.0 144.7 219.3 144.7 221.7 144.7 224.1 144.7 226.4 144.7 228.8 144.7 231.2 144.7 233.6 144.7 235.9 144.7 238.3 144.7 240.7 144.7 243.1 144.7 245.4 144.7 247.8 144.7 250.2 144.7 252.6 144.7 254.9 144.7 257.3 144.7 259.7 144.7 262.1 144.7 264.4 144.7 266.8 144.7 269.2 144.7 271.6 144.7 273.9 144.7 276.3 144.7 278.7 144.7 281.1 144.7 283.4 144.7 285.8 144.7 288.2 144.7 290.5 144.7 292.9 144.7 295.3 144.7 297.7 144.7 300.0 144.7 302.4 144.7 304.8 144.7 307.2 144.7 309.5 144.7 311.9 144.7 314.3 144.7 316.7 144.7 319.0 144.7 321.4 144.7 323.8 144.7 326.2 144.7 328.5 144.7 330.9 144.7 333.3 144.7 335.7 144.7 338.0 144.7 340.4 144.7 342.8 144.7 345.1 144.7 347.5 144.7 349.9 144.7 352.3 144.7 354.6 144.7 357.0 144.7 359.4 144.7 361.8 144.7 364.1 144.7 366.5 144.7 368.9 144.7 371.3 144.7 373.6 144.7 376.0 144.7 378.4 144.7 380.8 144.7 383.1 144.7 385.5 144.7 387.9 144.7 390.3 144.7 392.6 144.7 395.0 144.7 397.4 144.7 399.7 144.7 402.1 144.7 404.5 144.7 406.9 144.7 409.2 144.7 411.6 144.7 414.0 144.7 416.4 144.7 418.7 144.7 421.1 144.7 423.5 144.7 425.9 144.7 428.2 144.7 430.6 144.7 433.0 144.7 435.4 144.7 437.7 144.7 440.1 144.7 442.5 144.7 444.9 144.7 447.2 144.7 449.6 144.7 452.0 144.7 454.4 144.7 456.7 144.7 459.1 144.7 461.5 144.7 463.8 144.7 466.2 144.7 468.6 144.7 471.0 144.7 473.3 144.7 475.7 144.7 478.1 144.7 480.5 144.7 482.8 144.7 485.2 144.7 487.6 144.7 490.0 144.7 492.3 144.7 494.7 144.7 497.1 144.7 499.5 144.7 501.8 144.7 504.2 144.7 506.6 144.7 509.0 144.7 511.3 144.7 513.7 144.7 516.1 144.7 518.4 144.7 520.8 144.7 523.2 144.7 525.6 144.7 526.8 144.7 525.6 145.5 523.2 148.2 520.8 151.2 518.4 154.8 516.1 159.1 513.7 164.2 511.3 170.5 509.0 178.5 507.6 182.7 509.0 184.7 511.3 188.9 513.7 192.7 516.1 196.1 518.4 199.2 520.8 201.9 523.2 204.5 525.6 207.0 527.9 209.5 530.3 211.9 532.7 214.3 535.1 216.6 537.4 218.8 539.2 220.7 539.8 221.8 542.2 228.1 544.6 233.1 546.9 237.0 549.3 240.1 551.7 242.5 554.1 244.5 556.4 246.2 558.8 247.7 561.2 249.0 563.6 249.7 565.9 250.4 568.3 251.1 570.7 251.8 573.0 252.5 575.4 253.1 577.8 253.8 580.2 254.5 582.5 254.5 584.9 254.1 587.3 253.6 589.7 253.0 592.0 252.4 594.4 251.8 596.8 251.2 599.2 250.5 601.5 249.9 603.9 249.3 606.3 248.6 608.7 247.9 611.0 247.3 613.4 246.4 615.8 245.1 618.2 242.8 620.5 239.6 622.9 236.6 625.3 233.7 627.6 230.6 630.0 227.4 632.4 224.0 634.4 220.7 634.8 216.4 637.0 182.7 634.8 176.4 632.4 169.4 630.0 163.5 627.6 160.2 625.3 157.5 622.9 155.1 620.5 153.4 618.2 152.1 615.8 150.7 613.4 149.4 611.0 148.1 608.7 146.8 606.3 145.6 604.3 144.7 606.3 144.7 608.7 144.7 611.0 144.7 613.4 144.7 615.8 144.7 618.2 144.7 620.5 144.7 622.9 144.7 625.3 144.7 627.6 144.7 630.0 144.7 632.4 144.7 634.8 144.7 637.1 144.7 639.5 144.7 641.9 144.7 644.3 144.7 646.6 144.7 649.0 144.7 651.4 144.7 653.8 144.7 656.1 144.7 658.5 144.7 660.9 144.7 663.3 144.7 665.6 144.7 668.0 144.7 670.4 144.7 672.8 144.7 675.1 144.7 677.5 144.7 679.9 144.7 682.2 144.7 684.6 144.7 687.0 144.7 689.4 144.7 691.7 144.7 694.1 144.7 696.5 144.7 698.9 144.7 701.2 144.7 703.6 144.7 706.0 144.7 708.4 144.7 710.7 144.7 713.1 144.7 715.5 144.7 717.9 144.7 720.2 144.7 722.6 144.7 725.0 144.7 727.4 144.7 729.7 144.7 732.1 144.7 734.5 144.7 736.9 144.7 739.2 144.7 741.6 144.7 744.0 144.7 746.3 144.7 748.7 144.7 751.1 144.7 753.5 144.7 755.8 144.7 758.2 144.7 760.6 144.7 763.0 144.7 765.3 144.7 767.7 144.7 770.1 144.7 772.5 144.7 774.8 144.7 777.2 144.7 779.6 144.7 782.0 144.7 784.3 144.7 786.7 144.7 789.1 144.7 791.5 144.7 793.8 144.7 796.2 144.7 796.2 182.7 796.2 220.7 796.2 258.7 796.2 296.8 796.2 325.3 796.2 353.8 796.2 382.3 796.2 410.9 793.8 410.9 791.5 410.9 789.1 410.9 786.7 410.9 784.3 410.9 782.0 410.9 779.6 410.9 777.2 410.9 774.8 410.9 772.5 410.9 770.1 410.9 767.7 410.9 765.3 410.9 763.0 410.9 760.6 410.9 758.2 410.9 755.8 410.9 753.5 410.9 751.1 410.9 748.7 410.9 746.3 410.9 744.0 410.9 741.6 410.9 739.2 410.9 736.9 410.9 734.5 410.9 732.1 410.9 729.7 410.9 727.4 410.9 725.0 410.9 722.6 410.9 720.2 410.9 717.9 410.9 715.5 410.9 713.1 410.9 710.7 410.9 708.4 410.9 706.0 410.9 703.6 410.9 701.2 410.9 698.9 410.9 696.5 410.9 694.1 410.9 691.7 410.9 689.4 410.9 687.0 410.9 684.6 410.9 682.2 410.9 679.9 410.9 677.5 410.9 675.1 410.9 672.8 410.9 670.4 410.9 668.0 410.9 665.6 410.9 663.3 410.9 660.9 410.9 658.5 410.9 656.1 410.9 653.8 410.9 651.4 410.9 649.0 410.9 646.6 410.9 644.3 410.9 641.9 410.9 639.5 410.9 637.1 410.9 634.8 410.9 632.4 410.9 630.0 410.9 627.6 410.9 625.3 410.9 622.9 410.9 620.5 410.9 618.2 410.9 615.8 410.9 613.4 410.9 611.0 410.9 608.7 410.9 606.3 410.9 603.9 410.9 601.5 410.9 599.2 410.9 596.8 410.9 594.4 410.9 592.0 410.9 589.7 410.9 587.3 410.9 584.9 410.9 582.5 410.9 580.2 410.9 577.8 410.9 575.4 410.9 573.0 410.9 570.7 410.9 568.3 410.9 565.9 410.9 563.6 410.9 561.2 410.9 558.8 410.9 556.4 410.9 554.1 410.9 551.7 410.9 549.3 410.9 546.9 410.9 544.6 410.9 542.2 410.9 539.8 410.9 537.4 410.9 535.1 410.9 532.7 410.9 530.3 410.9 527.9 410.9 525.6 410.9 523.2 410.9 520.8 410.9 518.4 410.9 516.1 410.9 513.7 410.9 511.3 410.9 509.0 410.9 506.6 410.9 504.2 410.9 501.8 410.9 499.5 410.9 497.1 410.9 494.7 410.9 492.3 410.9 490.0 410.9 487.6 410.9 485.2 410.9 482.8 410.9 480.5 410.9 478.1 410.9 475.7 410.9 473.3 410.9 471.0 410.9 468.6 410.9 466.2 410.9 463.8 410.9 461.5 410.9 459.1 410.9 456.7 410.9 454.4 410.9 452.0 410.9 449.6 410.9 447.2 410.9 444.9 410.9 442.5 410.9 440.1 410.9 437.7 410.9 435.4 410.9 433.0 410.9 430.6 410.9 428.2 410.9 425.9 410.9 423.5 410.9 421.1 410.9 418.7 410.9 416.4 410.9 414.0 410.9 411.6 410.9 409.2 410.9 406.9 410.9 404.5 410.9 402.1 410.9 399.7 410.9 397.4 410.9 395.0 410.9 392.6 410.9 390.3 410.9 387.9 410.9 385.5 410.9 383.1 410.9 380.8 410.9 378.4 410.9 376.0 410.9 373.6 410.9 371.3 410.9 368.9 410.9 366.5 410.9 364.1 410.9 361.8 410.9 359.4 410.9 357.0 410.9 354.6 410.9 352.3 410.9 349.9 410.9 347.5 410.9 345.1 410.9 342.8 410.9 340.4 410.9 338.0 410.9 335.7 410.9 333.3 410.9 330.9 410.9 328.5 410.9 326.2 410.9 323.8 410.9 321.4 410.9 319.0 410.9 316.7 410.9 314.3 410.9 311.9 410.9 309.5 410.9 307.2 410.9 304.8 410.9 302.4 410.9 300.0 410.9 297.7 410.9 295.3 410.9 292.9 410.9 290.5 410.9 288.2 410.9 285.8 410.9 283.4 410.9 281.1 410.9 278.7 410.9 276.3 410.9 273.9 410.9 271.6 410.9 269.2 410.9 266.8 410.9 264.4 410.9 262.1 410.9 259.7 410.9 257.3 410.9 254.9 410.9 252.6 410.9 250.2 410.9 247.8 410.9 245.4 410.9 243.1 410.9 240.7 410.9 238.3 410.9 235.9 410.9 233.6 410.9 231.2 410.9 228.8 410.9 226.4 410.9 224.1 410.9 221.7 410.9 219.3 410.9 217.0 410.9 214.6 410.9 212.2 410.9 209.8 410.9 207.5 410.9 205.1 410.9 202.7 410.9 200.3 410.9 198.0 410.9 195.6 410.9 193.2 410.9 190.8 410.9 188.5 410.9 186.1 410.9 183.7 410.9 181.3 410.9 179.0 410.9 176.6 410.9 174.2 410.9 171.8 410.9 169.5 410.9 167.1 410.9 164.7 410.9 162.4 410.9 160.0 410.9 157.6 410.9 155.2 410.9 152.9 410.9 150.5 410.9 148.1 410.9 145.7 410.9 143.4 410.9 141.0 410.9 138.6 410.9 136.2 410.9 133.9 410.9 131.5 410.9 129.1 410.9 126.7 410.9 124.4 410.9 122.0 410.9 119.6 410.9 117.2 410.9 114.9 410.9 112.5 410.9 112.5 382.3 112.5 353.8 112.5 325.3 112.5 296.8 112.5 258.7 112.5 220.7 112.5 182.7 112.5 144.7 114.9 144.7ZM676.5 182.7 677.5 183.6 679.9 188.6 682.2 192.5 684.6 195.6 687.0 197.5 689.4 199.0 691.7 200.3 694.1 201.5 696.5 201.3 698.9 200.4 701.2 199.3 703.6 198.1 706.0 196.5 708.4 194.3 710.7 191.6 713.1 188.1 715.5 183.6 716.7 182.7 715.5 181.3 713.1 173.9 710.7 168.1 708.4 163.3 706.0 159.3 703.6 156.0 701.2 153.3 698.9 151.7 696.5 152.5 694.1 153.6 691.7 155.6 689.4 157.8 687.0 160.2 684.6 163.1 682.2 167.6 679.9 173.9 677.5 181.4 676.5 182.7Z"/>
<path fill="#dceaff" fill-rule="evenodd" d="M114.9 144.7 117.2 144.7 119.6 144.7 122.0 144.7 124.4 144.7 126.7 144.7 129.1 144.7 131.5 144.7 133.9 144.7 136.2 144.7 138.6 144.7 141.0 144.7 143.4 144.7 145.7 144.7 148.1 144.7 150.5 144.7 152.9 144.7 155.2 144.7 157.6 144.7 160.0 144.7 162.4 144.7 164.7 144.7 167.1 144.7 169.0 144.7 167.1 148.3 164.7 154.1 162.4 160.8 160.0 165.0 157.6 167.3 155.2 169.6 152.9 171.9 150.5 174.5 148.1 177.1 145.7 179.9 143.6 182.7 145.7 185.7 148.1 188.7 150.5 191.7 152.9 194.5 155.2 197.6 157.6 202.0 160.0 207.2 162.4 213.3 164.7 220.7 164.7 220.7 167.1 228.8 169.5 234.4 171.8 237.7 174.2 239.3 176.6 240.8 179.0 242.3 181.3 243.7 183.7 244.6 186.1 244.3 188.5 243.9 190.8 243.6 193.2 243.1 195.6 242.6 198.0 242.6 200.3 242.6 202.7 242.6 205.1 242.6 207.5 242.6 209.8 242.6 212.2 242.6 214.6 242.7 217.0 241.0 219.3 237.7 221.7 234.2 224.1 230.6 226.4 226.7 228.8 222.6 229.6 220.7 231.2 214.5 233.6 200.9 235.9 182.7 235.9 182.7 235.9 182.7 233.6 179.7 231.2 176.7 228.8 173.8 226.4 170.8 224.1 167.8 221.7 164.9 219.3 161.5 217.0 158.3 214.6 155.3 212.2 152.3 209.8 149.5 207.5 146.8 205.6 144.7 207.5 144.7 209.8 144.7 212.2 144.7 214.6 144.7 217.0 144.7 219.3 144.7 221.7 144.7 224.1 144.7 226.4 144.7 228.8 144.7 231.2 144.7 233.6 144.7 235.9 144.7 238.3 144.7 240.7 144.7 243.1 144.7 245.4 144.7 247.8 144.7 250.2 144.7 252.6 144.7 254.9 144.7 257.3 144.7 259.7 144.7 262.1 144.7 264.4 144.7 266.8 144.7 269.2 144.7 271.6 144.7 273.9 144.7 276.3 144.7 278.7 144.7 281.1 144.7 283.4 144.7 285.8 144.7 288.2 144.7 290.5 144.7 292.9 144.7 295.3 144.7 297.7 144.7 300.0 144.7 302.4 144.7 304.8 144.7 307.2 144.7 309.5 144.7 311.9 144.7 314.3 144.7 316.7 144.7 319.0 144.7 321.4 144.7 323.8 144.7 326.2 144.7 328.5 144.7 330.9 144.7 333.3 144.7 335.7 144.7 338.0 144.7 340.4 144.7 342.8 144.7 345.1 144.7 347.5 144.7 349.9 144.7 352.3 144.7 354.6 144.7 357.0 144.7 359.4 144.7 361.8 144.7 364.1 144.7 366.5 144.7 368.9 144.7 371.3 144.7 373.6 144.7 376.0 144.7 378.4 144.7 380.8 144.7 383.1 144.7 385.5 144.7 387.9 144.7 390.3 144.7 392.6 144.7 395.0 144.7 397.4 144.7 399.7 144.7 402.1 144.7 404.5 144.7 406.9 144.7 409.2 144.7 411.6 144.7 414.0 144.7 416.4 144.7 418.7 144.7 421.1 144.7 423.5 144.7 425.9 144.7 428.2 144.7 430.6 144.7 433.0 144.7 435.4 144.7 437.7 144.7 440.1 144.7 442.5 144.7 444.9 144.7 447.2 144.7 449.6 144.7 452.0 144.7 454.4 144.7 456.7 144.7 459.1 144.7 461.5 144.7 463.8 144.7 466.2 144.7 468.6 144.7 471.0 144.7 473.3 144.7 475.7 144.7 478.1 144.7 480.5 144.7 482.8 144.7 485.2 144.7 487.6 144.7 490.0 144.7 492.3 144.7 494.7 144.7 497.1 144.7 499.5 144.7 501.0 144.7 499.5 148.5 497.1 154.8 494.7 160.9 492.3 166.9 490.0 172.7 487.6 178.3 485.8 182.7 487.6 184.8 490.0 187.4 492.3 190.0 494.7 192.6 497.1 195.3 499.5 197.9 501.8 200.4 504.2 203.0 506.6 205.5 509.0 208.3 511.3 211.3 513.7 213.9 516.1 216.3 518.4 218.4 520.8 220.4 521.1 220.7 523.2 225.2 525.6 230.1 527.9 234.6 530.3 238.7 532.7 242.5 535.1 246.0 537.4 249.3 539.8 252.4 542.2 255.4 544.6 257.9 545.9 258.7 546.9 260.7 549.3 264.1 551.7 267.5 554.1 270.9 556.4 274.3 558.8 275.2 561.2 275.5 563.6 275.7 565.9 275.8 568.3 276.0 570.7 276.1 573.0 276.2 575.4 276.2 577.8 276.3 580.2 276.4 582.5 275.7 584.9 274.5 587.3 273.3 589.7 272.1 592.0 270.3 594.4 268.5 596.8 266.9 599.2 265.5 601.5 264.2 603.9 263.1 606.3 262.3 608.7 261.4 611.0 260.6 613.4 259.9 615.8 259.1 616.1 258.7 618.2 256.9 620.5 253.4 622.9 250.1 625.3 246.9 627.6 244.2 630.0 241.8 632.4 239.1 634.8 236.1 637.1 233.0 639.5 229.5 641.9 225.7 644.3 221.4 644.8 220.7 646.6 214.4 649.0 208.0 651.4 202.7 653.8 198.1 656.1 194.2 658.5 193.4 660.9 191.9 663.3 194.2 665.6 197.2 668.0 198.6 670.4 199.9 672.8 201.1 675.1 202.2 677.5 203.6 679.9 206.1 682.2 208.1 684.6 209.7 687.0 210.7 689.4 211.5 691.7 212.3 694.1 212.9 696.5 213.0 698.9 212.9 701.2 212.7 703.6 212.4 706.0 212.1 708.4 211.6 710.7 210.9 713.1 210.2 715.5 209.1 717.9 209.0 720.2 209.2 722.6 209.3 725.0 209.5 727.4 209.7 729.7 209.9 732.1 209.5 734.5 209.0 736.9 208.5 739.2 207.9 741.6 207.3 744.0 206.6 746.3 205.9 748.7 205.0 751.1 204.1 753.5 203.0 755.8 201.8 758.2 201.7 760.6 201.7 763.0 201.7 765.3 201.7 767.7 201.7 770.1 201.7 772.5 201.7 774.8 201.7 777.2 201.7 779.6 201.7 782.0 201.7 784.3 201.7 786.7 201.7 789.1 201.7 791.5 201.7 793.8 201.7 796.2 201.7 796.2 220.7 796.2 258.7 796.2 296.8 796.2 325.3 796.2 353.8 796.2 382.3 796.2 410.9 793.8 410.9 791.5 410.9 789.1 410.9 786.7 410.9 784.3 410.9 782.0 410.9 779.6 410.9 777.2 410.9 774.8 410.9 772.5 410.9 770.1 410.9 767.7 410.9 765.3 410.9 763.0 410.9 760.6 410.9 758.2 410.9 755.8 410.9 753.5 410.9 751.1 410.9 748.7 410.9 746.3 410.9 744.0 410.9 741.6 410.9 739.2 410.9 736.9 410.9 734.5 410.9 732.1 410.9 729.7 410.9 727.4 410.9 725.0 410.9 722.6 410.9 720.2 410.9 717.9 410.9 715.5 410.9 713.1 410.9 710.7 410.9 708.4 410.9 706.0 410.9 703.6 410.9 701.2 410.9 698.9 410.9 696.5 410.9 694.1 410.9 691.7 410.9 689.4 410.9 687.0 410.9 684.6 410.9 682.2 410.9 679.9 410.9 677.5 410.9 675.1 410.9 672.8 410.9 670.4 410.9 668.0 410.9 665.6 410.9 663.3 410.9 660.9 410.9 658.5 410.9 656.1 410.9 653.8 410.9 651.4 410.9 649.0 410.9 646.6 410.9 644.3 410.9 641.9 410.9 639.5 410.9 637.1 410.9 634.8 410.9 632.4 410.9 630.0 410.9 627.6 410.9 625.3 410.9 622.9 410.9 620.5 410.9 618.2 410.9 615.8 410.9 613.4 410.9 611.0 410.9 608.7 410.9 606.3 410.9 603.9 410.9 601.5 410.9 599.2 410.9 596.8 410.9 594.4 410.9 592.0 410.9 589.7 410.9 587.3 410.9 584.9 410.9 582.5 410.9 580.2 410.9 577.8 410.9 575.4 410.9 573.0 410.9 570.7 410.9 568.3 410.9 565.9 410.9 563.6 410.9 561.2 410.9 558.8 410.9 556.4 410.9 554.1 410.9 551.7 410.9 549.3 410.9 546.9 410.9 544.6 410.9 542.2 410.9 539.8 410.9 537.4 410.9 535.1 410.9 532.7 410.9 530.3 410.9 527.9 410.9 525.6 410.9 523.2 410.9 520.8 410.9 518.4 410.9 516.1 410.9 513.7 410.9 511.3 410.9 509.0 410.9 506.6 410.9 504.2 410.9 501.8 410.9 499.5 410.9 497.1 410.9 494.7 410.9 492.3 410.9 490.0 410.9 487.6 410.9 485.2 410.9 482.8 410.9 480.5 410.9 478.1 410.9 475.7 410.9 473.3 410.9 471.0 410.9 468.6 410.9 466.2 410.9 463.8 410.9 461.5 410.9 459.1 410.9 456.7 410.9 454.4 410.9 452.0 410.9 449.6 410.9 447.2 410.9 444.9 410.9 442.5 410.9 440.1 410.9 437.7 410.9 435.4 410.9 433.0 410.9 430.6 410.9 428.2 410.9 425.9 410.9 423.5 410.9 421.1 410.9 418.7 410.9 416.4 410.9 414.0 410.9 411.6 410.9 409.2 410.9 406.9 410.9 404.5 410.9 402.1 410.9 399.7 410.9 397.4 410.9 395.0 410.9 392.6 410.9 390.3 410.9 387.9 410.9 385.5 410.9 383.1 410.9 380.8 410.9 378.4 410.9 376.0 410.9 373.6 410.9 371.3 410.9 368.9 410.9 366.5 410.9 364.1 410.9 361.8 410.9 359.4 410.9 357.0 410.9 354.6 410.9 352.3 410.9 349.9 410.9 347.5 410.9 345.1 410.9 342.8 410.9 340.4 410.9 338.0 410.9 335.7 410.9 333.3 410.9 330.9 410.9 328.5 410.9 326.2 410.9 323.8 410.9 321.4 410.9 319.0 410.9 316.7 410.9 314.3 410.9 311.9 410.9 309.5 410.9 307.2 410.9 304.8 410.9 302.4 410.9 300.0 410.9 297.7 410.9 295.3 410.9 292.9 410.9 290.5 410.9 288.2 410.9 285.8 410.9 283.4 410.9 281.1 410.9 278.7 410.9 276.3 410.9 273.9 410.9 271.6 410.9 269.2 410.9 266.8 410.9 264.4 410.9 262.1 410.9 259.7 410.9 257.3 410.9 254.9 410.9 252.6 410.9 250.2 410.9 247.8 410.9 245.4 410.9 243.1 410.9 240.7 410.9 238.3 410.9 235.9 410.9 233.6 410.9 231.2 410.9 228.8 410.9 226.4 410.9 224.1 410.9 221.7 410.9 219.3 410.9 217.0 410.9 214.6 410.9 212.2 410.9 209.8 410.9 207.5 410.9 205.1 410.9 202.7 410.9 200.3 410.9 198.0 410.9 195.6 410.9 193.2 410.9 190.8 410.9 188.5 410.9 186.1 410.9 183.7 410.9 181.3 410.9 179.0 410.9 176.6 410.9 174.2 410.9 171.8 410.9 169.5 410.9 167.1 410.9 164.7 410.9 162.4 410.9 160.0 410.9 157.6 410.9 155.2 410.9 152.9 410.9 150.5 410.9 148.1 410.9 145.7 410.9 143.4 410.9 141.0 410.9 138.6 410.9 136.2 410.9 133.9 410.9 131.5 410.9 129.1 410.9 126.7 410.9 124.4 410.9 122.0 410.9 119.6 410.9 117.2 410.9 114.9 410.9 112.5 410.9 112.5 382.3 112.5 353.8 112.5 325.3 112.5 296.8 112.5 258.7 112.5 220.7 112.5 209.3 114.9 209.3 117.2 207.4 119.6 200.8 122.0 197.9 124.4 194.6 126.7 190.9 129.1 186.8 131.2 182.7 129.1 178.7 126.7 174.8 124.4 171.3 122.0 168.3 119.6 167.5 117.2 165.0 114.9 156.1 112.5 156.1 112.5 144.7 114.9 144.7ZM632.4 144.7 634.8 144.7 637.1 144.7 639.5 144.7 641.9 144.7 644.3 144.7 646.6 144.7 649.0 144.7 651.4 144.7 653.8 144.7 656.1 144.7 658.5 144.7 660.9 144.7 663.3 144.7 665.6 144.7 668.0 144.7 670.4 144.7 672.8 144.7 675.1 144.7 677.5 144.7 679.9 144.7 681.6 144.7 679.9 147.9 677.5 154.4 675.1 159.5 672.8 163.5 670.4 166.5 668.0 168.4 665.6 170.3 663.3 172.1 660.9 173.9 658.5 175.7 656.1 176.5 653.8 175.0 651.4 173.3 649.0 171.6 646.6 169.8 644.3 168.0 641.9 166.2 639.5 163.7 637.1 160.1 634.8 154.3 632.4 148.8 630.2 144.7 632.4 144.7ZM717.9 144.7 720.2 144.7 722.6 144.7 725.0 144.7 727.4 144.7 729.7 144.7 732.1 144.7 734.5 144.7 736.9 144.7 739.2 144.7 741.6 144.7 744.0 144.7 746.3 144.7 748.7 144.7 751.1 144.7 753.5 144.7 755.8 144.7 758.2 144.7 760.6 144.7 763.0 144.7 765.3 144.7 767.7 144.7 770.1 144.7 772.5 144.7 774.8 144.7 777.2 144.7 779.6 144.7 782.0 144.7 784.3 144.7 786.7 144.7 789.1 144.7 791.5 144.7 793.8 144.7 796.2 144.7 796.2 163.7 793.8 163.7 791.5 163.7 789.1 163.7 786.7 163.7 784.3 163.7 782.0 163.7 779.6 164.8 777.2 167.3 774.8 169.2 772.5 170.7 770.1 171.9 767.7 172.9 765.3 173.7 763.0 174.4 760.6 174.9 758.2 175.4 755.8 175.8 753.5 175.5 751.1 175.2 748.7 174.9 746.3 174.2 744.0 173.2 741.6 172.2 739.2 171.0 736.9 169.8 734.5 168.6 732.1 167.2 729.7 165.3 727.4 162.7 725.0 159.6 722.6 155.8 720.2 151.0 717.9 144.9 717.7 144.7 717.9 144.7Z"/>
<path fill="#ffebdc" fill-rule="evenodd" d="M119.6 144.7 122.0 144.7 124.4 144.7 126.7 144.7 129.1 144.7 131.5 144.7 133.9 144.7 136.2 144.7 138.6 144.7 141.0 144.7 143.4 144.7 145.7 144.7 148.1 144.7 150.5 144.7 152.9 144.7 155.2 144.7 157.6 144.7 159.5 144.7 157.6 146.2 155.2 148.0 152.9 149.8 150.5 151.7 148.1 153.8 145.7 155.9 143.4 158.3 141.0 162.5 138.6 167.8 136.2 167.0 133.9 161.0 131.5 156.7 129.1 153.9 126.7 151.5 124.4 149.3 122.0 147.4 119.6 145.8 119.1 144.7 119.6 144.7ZM221.7 144.7 224.1 144.7 226.4 144.7 228.8 144.7 231.2 144.7 233.6 144.7 235.9 144.7 238.3 144.7 240.7 144.7 243.1 144.7 245.4 144.7 247.8 144.7 250.2 144.7 252.6 144.7 254.9 144.7 257.3 144.7 259.7 144.7 262.1 144.7 264.4 144.7 266.8 144.7 269.2 144.7 271.6 144.7 273.9 144.7 276.3 144.7 278.7 144.7 281.1 144.7 283.4 144.7 285.8 144.7 288.2 144.7 290.5 144.7 292.9 144.7 295.3 144.7 297.7 144.7 300.0 144.7 302.4 144.7 304.8 144.7 307.2 144.7 309.5 144.7 311.9 144.7 314.3 144.7 316.7 144.7 319.0 144.7 321.4 144.7 323.8 144.7 326.2 144.7 328.5 144.7 330.9 144.7 333.3 144.7 335.7 144.7 338.0 144.7 340.4 144.7 342.8 144.7 345.1 144.7 347.5 144.7 349.9 144.7 352.3 144.7 354.6 144.7 357.0 144.7 359.4 144.7 361.8 144.7 364.1 144.7 366.5 144.7 368.9 144.7 371.3 144.7 373.6 144.7 376.0 144.7 378.4 144.7 380.8 144.7 383.1 144.7 385.5 144.7 387.9 144.7 390.3 144.7 392.6 144.7 395.0 144.7 397.4 144.7 399.7 144.7 402.1 144.7 404.5 144.7 406.9 144.7 409.2 144.7 411.6 144.7 414.0 144.7 416.4 144.7 418.7 144.7 421.1 144.7 423.5 144.7 425.9 144.7 428.2 144.7 430.6 144.7 433.0 144.7 435.4 144.7 437.7 144.7 440.1 144.7 442.5 144.7 444.9 144.7 447.2 144.7 449.6 144.7 452.0 144.7 454.4 144.7 456.7 144.7 459.1 144.7 461.5 144.7 463.8 144.7 466.2 144.7 468.6 144.7 471.0 144.7 473.3 144.7 475.7 144.7 478.1 144.7 480.5 144.7 480.5 144.7 480.5 144.7 478.1 146.9 475.7 149.7 473.3 153.9 471.0 160.3 468.6 171.6 466.8 182.7 468.6 184.6 471.0 187.9 473.3 191.2 475.7 194.4 478.1 197.5 480.5 200.5 482.8 203.5 485.2 206.4 487.6 209.1 490.0 211.8 492.3 214.4 494.7 217.1 497.1 219.8 497.9 220.7 499.5 225.4 501.8 231.4 504.2 236.8 506.6 241.6 509.0 245.8 511.3 249.6 513.7 253.1 516.1 256.2 518.1 258.7 518.4 261.9 520.8 282.6 523.2 296.3 523.3 296.8 525.6 297.2 527.9 297.7 530.3 298.1 532.7 298.5 535.1 299.0 537.4 299.4 539.8 299.8 542.2 300.1 544.6 300.5 546.9 300.9 549.3 301.2 551.7 301.6 554.1 301.9 556.4 302.2 558.8 302.0 561.2 301.7 563.6 301.4 565.9 301.0 568.3 300.7 570.7 300.3 573.0 299.9 575.4 299.5 577.8 299.1 580.2 298.7 582.5 298.3 584.9 297.8 587.3 297.4 589.7 296.9 589.9 296.8 592.0 293.9 594.4 290.5 596.8 287.4 599.2 284.8 601.5 282.4 603.9 280.4 606.3 279.1 608.7 278.0 611.0 277.1 613.4 276.1 615.8 275.1 618.2 273.1 620.5 269.8 622.9 265.8 625.3 261.0 626.7 258.7 627.6 257.8 630.0 256.1 632.4 254.2 634.8 252.0 637.1 249.7 639.5 247.2 641.9 244.4 644.3 241.2 646.6 238.4 649.0 235.8 651.4 233.0 653.8 230.0 656.1 226.6 658.5 222.9 659.0 220.7 660.9 213.0 663.3 216.3 665.4 220.7 665.6 221.2 668.0 221.7 670.4 222.3 672.8 223.0 675.1 223.7 677.5 224.4 679.9 225.2 682.2 226.1 684.6 227.1 687.0 228.1 689.4 229.3 691.7 230.7 694.1 232.2 696.5 233.9 698.9 235.8 701.2 238.1 703.6 240.7 706.0 243.1 708.4 241.2 710.7 239.8 713.1 238.7 715.5 237.7 717.9 237.0 720.2 236.3 722.6 235.8 725.0 235.3 727.4 234.7 729.7 234.2 732.1 233.6 734.5 232.9 736.9 232.3 739.2 231.8 741.6 232.3 744.0 232.9 746.3 233.6 748.7 234.3 751.1 235.1 753.5 236.0 755.8 236.8 758.2 237.6 760.6 238.5 763.0 239.5 765.3 240.7 767.7 241.9 770.1 243.4 772.5 245.0 774.8 246.9 777.2 247.3 779.6 247.3 782.0 247.3 784.3 247.3 786.7 247.3 789.1 247.3 791.5 247.3 793.8 247.3 796.2 247.3 796.2 258.7 796.2 296.8 796.2 325.3 796.2 353.8 796.2 382.3 796.2 410.9 793.8 410.9 791.5 410.9 789.1 410.9 786.7 410.9 784.3 410.9 782.0 410.9 779.6 410.9 777.2 410.9 774.8 410.9 772.5 410.9 770.1 410.9 767.7 410.9 765.3 410.9 763.0 410.9 760.6 410.9 758.2 410.9 755.8 410.9 753.5 410.9 751.1 410.9 748.7 410.9 746.3 410.9 744.0 410.9 741.6 410.9 739.2 410.9 736.9 410.9 734.5 410.9 732.1 410.9 729.7 410.9 727.4 410.9 725.0 410.9 722.6 410.9 720.2 410.9 717.9 410.9 715.5 410.9 713.1 410.9 710.7 410.9 708.4 410.9 706.0 410.9 703.6 410.9 701.2 410.9 698.9 410.9 696.5 410.9 694.1 410.9 691.7 410.9 689.4 410.9 687.0 410.9 684.6 410.9 682.2 410.9 679.9 410.9 677.5 410.9 675.1 410.9 672.8 410.9 670.4 410.9 668.0 410.9 665.6 410.9 663.3 410.9 660.9 410.9 658.5 410.9 656.1 410.9 653.8 410.9 651.4 410.9 649.0 410.9 646.6 410.9 644.3 410.9 641.9 410.9 639.5 410.9 637.1 410.9 634.8 410.9 632.4 410.9 630.0 410.9 627.6 410.9 625.3 410.9 622.9 410.9 620.5 410.9 618.2 410.9 615.8 410.9 613.4 410.9 611.0 410.9 608.7 410.9 606.3 410.9 603.9 410.9 601.5 410.9 599.2 410.9 596.8 410.9 594.4 410.9 592.0 410.9 589.7 410.9 587.3 410.9 584.9 410.9 582.5 410.9 580.2 410.9 577.8 410.9 575.4 410.9 573.0 410.9 570.7 410.9 568.3 410.9 565.9 410.9 563.6 410.9 561.2 410.9 558.8 410.9 556.4 410.9 554.1 410.9 551.7 410.9 549.3 410.9 546.9 410.9 544.6 410.9 542.2 410.9 539.8 410.9 537.4 410.9 535.1 410.9 532.7 410.9 530.3 410.9 527.9 410.9 525.6 410.9 523.2 410.9 520.8 410.9 518.4 410.9 516.1 410.9 513.7 410.9 511.3 410.9 509.0 410.9 506.6 410.9 504.2 410.9 501.8 410.9 499.5 410.9 497.1 410.9 494.7 410.9 492.3 410.9 490.0 410.9 487.6 410.9 485.2 410.9 482.8 410.9 480.5 410.9 478.1 410.9 475.7 410.9 473.3 410.9 471.0 410.9 468.6 410.9 466.2 410.9 463.8 410.9 461.5 410.9 459.1 410.9 456.7 410.9 454.4 410.9 452.0 410.9 449.6 410.9 447.2 410.9 444.9 410.9 442.5 410.9 440.1 410.9 437.7 410.9 435.4 410.9 433.0 410.9 430.6 410.9 428.2 410.9 425.9 410.9 423.5 410.9 421.1 410.9 418.7 410.9 416.4 410.9 414.0 410.9 411.6 410.9 409.2 410.9 406.9 410.9 404.5 410.9 402.1 410.9 399.7 410.9 397.4 410.9 395.0 410.9 392.6 410.9 390.3 410.9 387.9 410.9 385.5 410.9 383.1 410.9 380.8 410.9 378.4 410.9 376.0 410.9 373.6 410.9 371.3 410.9 368.9 410.9 366.5 410.9 364.1 410.9 361.8 410.9 359.4 410.9 357.0 410.9 354.6 410.9 352.3 410.9 349.9 410.9 347.5 410.9 345.1 410.9 342.8 410.9 340.4 410.9 338.0 410.9 335.7 410.9 333.3 410.9 330.9 410.9 328.5 410.9 326.2 410.9 323.8 410.9 321.4 410.9 319.0 410.9 316.7 410.9 314.3 410.9 311.9 410.9 309.5 410.9 307.2 410.9 304.8 410.9 302.4 410.9 300.0 410.9 297.7 410.9 295.3 410.9 292.9 410.9 290.5 410.9 288.2 410.9 285.8 410.9 283.4 410.9 281.1 410.9 278.7 410.9 276.3 410.9 273.9 410.9 271.6 410.9 269.2 410.9 266.8 410.9 264.4 410.9 262.1 410.9 259.7 410.9 257.3 410.9 254.9 410.9 252.6 410.9 250.2 410.9 247.8 410.9 245.4 410.9 243.1 410.9 240.7 410.9 238.3 410.9 235.9 410.9 233.6 410.9 231.2 410.9 228.8 410.9 226.4 410.9 224.1 410.9 221.7 410.9 219.3 410.9 217.0 410.9 214.6 410.9 212.2 410.9 209.8 410.9 207.5 410.9 205.1 410.9 202.7 410.9 200.3 410.9 198.0 410.9 195.6 410.9 193.2 410.9 190.8 410.9 188.5 410.9 186.1 410.9 183.7 410.9 181.3 410.9 179.0 410.9 176.6 410.9 174.2 410.9 171.8 410.9 169.5 410.9 167.1 410.9 164.7 410.9 162.4 410.9 160.0 410.9 157.6 410.9 155.2 410.9 152.9 410.9 150.5 410.9 148.1 410.9 145.7 410.9 143.4 410.9 141.0 410.9 138.6 410.9 136.2 410.9 133.9 410.9 131.5 410.9 129.1 410.9 126.7 410.9 124.4 410.9 122.0 410.9 119.6 410.9 117.2 410.9 114.9 410.9 112.5 410.9 112.5 382.3 112.5 353.8 112.5 325.3 112.5 296.8 112.5 258.7 112.5 247.3 114.9 247.3 117.2 246.4 119.6 232.2 121.7 220.7 122.0 219.8 124.4 217.5 126.7 215.0 129.1 212.2 131.5 209.0 133.9 204.3 136.2 198.1 138.6 197.8 141.0 203.9 143.4 208.5 145.7 211.2 148.1 213.9 150.5 216.4 152.9 218.9 154.2 220.7 155.2 223.3 157.6 231.8 160.0 237.8 162.4 242.3 164.7 245.8 167.1 249.5 169.5 252.0 171.8 253.7 174.2 254.9 176.6 256.0 179.0 257.0 181.3 258.0 183.3 258.7 183.7 259.0 186.1 260.3 188.5 261.7 190.8 263.2 193.2 264.9 195.6 266.9 198.0 269.2 200.3 272.0 202.7 275.3 205.1 279.3 207.5 284.3 209.8 290.6 211.6 296.8 212.2 297.1 214.6 298.6 217.0 299.9 219.3 301.1 221.7 302.2 224.1 301.2 226.4 300.0 228.8 298.7 231.2 297.3 232.8 296.8 233.6 294.2 235.9 290.1 238.3 285.5 240.7 280.4 243.1 274.6 245.4 268.0 247.8 260.4 248.3 258.7 250.2 220.7 250.2 220.7 252.6 206.6 254.6 182.7 252.6 180.1 250.2 177.1 247.8 174.4 245.4 171.9 243.1 169.7 240.7 167.6 238.3 165.8 235.9 164.0 233.6 161.9 231.2 158.9 228.8 155.9 226.4 153.0 224.1 150.0 221.7 147.0 219.8 144.7 221.7 144.7ZM641.9 144.7 644.3 144.7 646.6 144.7 649.0 144.7 651.4 144.7 653.8 144.7 656.1 144.7 658.5 144.7 660.9 144.7 663.3 144.7 665.6 144.7 668.0 144.7 670.4 144.7 670.7 144.7 670.4 145.3 668.0 147.6 665.6 149.8 663.3 151.9 660.9 154.0 658.5 156.0 656.1 157.6 653.8 156.1 651.4 154.2 649.0 152.2 646.6 150.2 644.3 148.1 641.9 146.0 640.9 144.7 641.9 144.7ZM732.1 144.7 734.5 144.7 736.9 144.7 739.2 144.7 741.6 144.7 744.0 144.7 746.3 144.7 748.7 144.7 751.1 144.7 753.5 144.7 755.8 144.7 758.2 144.7 760.6 144.7 763.0 144.7 764.6 144.7 763.0 146.6 760.6 149.1 758.2 151.2 755.8 153.0 753.5 154.5 751.1 155.7 748.7 156.7 746.3 156.2 744.0 154.6 741.6 153.0 739.2 151.4 736.9 149.6 734.5 147.6 732.1 145.6 731.4 144.7 732.1 144.7Z"/>
<path fill="#ffc8b0" fill-rule="evenodd" d="M235.9 144.7 238.3 144.7 240.7 144.7 243.1 144.7 245.4 144.7 247.8 144.7 250.2 144.7 252.6 144.7 254.9 144.7 257.3 144.7 259.7 144.7 262.1 144.7 264.4 144.7 266.8 144.7 269.2 144.7 271.6 144.7 273.9 144.7 276.3 144.7 278.7 144.7 281.1 144.7 283.4 144.7 285.8 144.7 288.2 144.7 290.5 144.7 292.9 144.7 295.3 144.7 297.7 144.7 300.0 144.7 302.4 144.7 304.4 144.7 302.4 148.4 300.0 152.0 297.7 154.5 295.3 156.4 292.9 157.9 290.5 159.1 288.2 160.1 285.8 160.9 283.4 161.6 281.1 162.2 278.7 162.8 276.3 163.2 273.9 163.6 271.6 164.0 269.2 164.3 266.8 163.3 264.4 162.3 262.1 160.6 259.7 159.0 257.3 157.5 254.9 156.0 252.6 154.2 250.2 152.6 247.8 151.1 245.4 149.7 243.1 148.5 240.7 147.3 238.3 146.3 235.9 145.4 234.7 144.7 235.9 144.7ZM387.9 144.7 390.3 144.7 392.6 144.7 395.0 144.7 397.4 144.7 399.7 144.7 402.1 144.7 404.5 144.7 406.9 144.7 409.2 144.7 411.6 144.7 412.9 144.7 414.0 146.9 416.4 150.9 418.7 157.5 421.1 169.7 422.9 182.7 423.5 183.0 425.9 183.8 428.2 184.6 430.6 185.4 433.0 186.3 435.4 187.2 437.7 188.1 440.1 189.0 442.5 190.2 444.9 191.5 447.2 192.9 449.6 194.5 452.0 196.2 454.4 198.2 456.7 200.0 459.1 201.8 461.5 203.8 463.8 206.0 466.2 208.3 468.6 211.1 471.0 214.1 473.3 217.1 475.7 219.9 476.4 220.7 478.1 237.9 480.5 258.0 480.6 258.7 480.5 296.8 482.8 297.4 485.2 298.1 487.6 298.8 490.0 299.4 492.3 300.0 494.7 300.6 497.1 301.2 499.5 301.8 501.8 302.4 504.2 302.9 506.6 303.4 509.0 303.9 511.3 304.3 513.7 304.8 516.1 305.2 518.4 305.6 520.8 306.0 523.2 306.4 525.6 306.7 527.9 307.0 530.3 307.3 532.7 307.6 535.1 307.9 537.4 308.2 539.8 308.4 542.2 308.7 544.6 308.9 546.9 309.2 549.3 309.4 551.7 309.7 554.1 309.9 556.4 310.1 558.8 310.0 561.2 309.8 563.6 309.6 565.9 309.4 568.3 309.1 570.7 308.9 573.0 308.7 575.4 308.4 577.8 308.1 580.2 307.8 582.5 307.5 584.9 307.2 587.3 306.9 589.7 306.6 592.0 305.7 594.4 304.5 596.8 303.1 599.2 301.4 601.5 299.6 603.9 297.4 605.0 296.8 606.3 295.9 608.7 294.7 611.0 293.5 613.4 292.3 615.8 291.2 618.2 289.7 620.5 287.8 622.9 285.5 625.3 282.7 627.6 280.2 630.0 278.0 632.4 275.7 634.8 273.2 637.1 270.7 639.5 268.1 641.9 265.2 644.3 262.1 646.6 258.7 646.6 258.7 649.0 257.0 651.4 255.1 653.8 253.0 656.1 250.8 658.5 248.3 660.9 242.1 663.3 242.9 665.6 243.9 668.0 244.0 670.4 245.3 672.8 246.8 675.1 248.4 677.5 250.1 679.9 251.9 682.2 253.9 684.6 256.0 687.0 258.4 687.3 258.7 689.4 261.0 691.7 263.6 694.1 266.1 696.5 268.4 698.9 270.5 701.2 272.4 703.6 274.1 706.0 275.4 708.4 274.4 710.7 273.2 713.1 271.8 715.5 270.1 717.9 268.0 720.2 265.3 722.6 261.6 723.9 258.7 725.0 257.8 727.4 255.6 729.7 253.7 732.1 251.9 734.5 250.4 736.9 248.9 739.2 247.7 741.6 248.9 744.0 250.4 746.3 251.9 748.7 253.7 751.1 255.6 753.5 257.8 754.6 258.7 755.8 265.2 758.2 273.4 760.6 279.5 763.0 284.2 765.3 287.9 767.7 291.0 770.1 293.6 772.5 295.7 773.0 296.8 774.8 297.3 777.2 298.6 779.6 299.8 782.0 300.9 784.3 302.2 786.7 302.8 789.1 303.2 791.5 303.6 793.8 304.1 796.2 306.8 796.2 325.3 796.2 353.8 796.2 382.3 796.2 410.9 793.8 410.9 791.5 410.9 789.1 410.9 786.7 410.9 784.3 410.9 782.0 410.9 779.6 410.9 777.2 410.9 774.8 410.9 772.5 410.9 770.1 410.9 767.7 410.9 765.3 410.9 763.0 410.9 760.6 410.9 758.2 410.9 755.8 410.9 753.5 410.9 751.1 410.9 748.7 410.9 746.3 410.9 744.0 410.9 741.6 410.9 739.2 410.9 736.9 410.9 734.5 410.9 732.1 410.9 729.7 410.9 727.4 410.9 725.0 410.9 722.6 410.9 720.2 410.9 717.9 410.9 715.5 410.9 713.1 410.9 710.7 410.9 708.4 410.9 706.0 410.9 703.6 410.9 701.2 410.9 698.9 410.9 696.5 410.9 694.1 410.9 691.7 410.9 689.4 410.9 687.0 410.9 684.6 410.9 682.2 410.9 679.9 410.9 677.5 410.9 675.1 410.9 672.8 410.9 670.4 410.9 668.0 410.9 665.6 410.9 663.3 410.9 660.9 410.9 658.5 410.9 656.1 410.9 653.8 410.9 651.4 410.9 649.0 410.9 646.6 410.9 644.3 410.9 641.9 410.9 639.5 410.9 637.1 410.9 634.8 410.9 632.4 410.9 630.0 410.9 627.6 410.9 625.3 410.9 622.9 410.9 620.5 410.9 618.2 410.9 615.8 410.9 613.4 410.9 611.0 410.9 608.7 410.9 606.3 410.9 603.9 410.9 601.5 410.9 599.2 410.9 596.8 410.9 594.4 410.9 592.0 410.9 589.7 410.9 587.3 410.9 584.9 410.9 582.5 410.9 580.2 410.9 577.8 410.9 575.4 410.9 573.0 410.9 570.7 410.9 568.3 410.9 565.9 410.9 563.6 410.9 561.2 410.9 558.8 410.9 556.4 410.9 554.1 410.9 551.7 410.9 549.3 410.9 546.9 410.9 544.6 410.9 542.2 410.9 539.8 410.9 537.4 410.9 535.1 410.9 532.7 410.9 530.3 410.9 527.9 410.9 525.6 410.9 523.2 410.9 520.8 410.9 518.4 410.9 516.1 410.9 513.7 410.9 511.3 410.9 509.0 410.9 506.6 410.9 504.2 410.9 501.8 410.9 499.5 410.9 497.1 410.9 494.7 410.9 492.3 410.9 490.0 410.9 487.6 410.9 485.2 410.9 482.8 410.9 480.5 410.9 478.1 410.9 475.7 410.9 473.3 410.9 471.0 410.9 468.6 410.9 466.2 410.9 463.8 410.9 461.5 410.9 459.1 410.9 456.7 410.9 454.4 410.9 452.0 410.9 449.6 410.9 447.2 410.9 444.9 410.9 442.5 410.9 440.1 410.9 437.7 410.9 435.4 410.9 433.0 410.9 430.6 410.9 428.2 410.9 425.9 410.9 423.5 410.9 421.1 410.9 418.7 410.9 416.4 410.9 414.0 410.9 411.6 410.9 409.2 410.9 406.9 410.9 404.5 410.9 402.1 410.9 399.7 410.9 397.4 410.9 395.0 410.9 392.6 410.9 390.3 410.9 387.9 410.9 385.5 410.9 383.1 410.9 380.8 410.9 378.4 410.9 376.0 410.9 373.6 410.9 371.3 410.9 368.9 410.9 366.5 410.9 364.1 410.9 361.8 410.9 359.4 410.9 357.0 410.9 354.6 410.9 352.3 410.9 349.9 410.9 347.5 410.9 345.1 410.9 342.8 410.9 340.4 410.9 338.0 410.9 335.7 410.9 333.3 410.9 330.9 410.9 328.5 410.9 326.2 410.9 323.8 410.9 321.4 410.9 319.0 410.9 316.7 410.9 314.3 410.9 311.9 410.9 309.5 410.9 307.2 410.9 304.8 410.9 302.4 410.9 300.0 410.9 297.7 410.9 295.3 410.9 292.9 410.9 290.5 410.9 288.2 410.9 285.8 410.9 283.4 410.9 281.1 410.9 278.7 410.9 276.3 410.9 273.9 410.9 271.6 410.9 269.2 410.9 266.8 410.9 264.4 410.9 262.1 410.9 259.7 410.9 257.3 410.9 254.9 410.9 252.6 410.9 250.2 410.9 247.8 410.9 245.4 410.9 243.1 410.9 240.7 410.9 238.3 410.9 235.9 410.9 233.6 410.9 231.2 410.9 228.8 410.9 226.4 410.9 224.1 410.9 221.7 410.9 219.3 410.9 217.0 410.9 214.6 410.9 212.2 410.9 209.8 410.9 207.5 410.9 205.1 410.9 202.7 410.9 200.3 410.9 198.0 410.9 195.6 410.9 193.2 410.9 190.8 410.9 188.5 410.9 186.1 410.9 183.7 410.9 181.3 410.9 179.0 410.9 176.6 410.9 174.2 410.9 171.8 410.9 169.5 410.9 167.1 410.9 164.7 410.9 162.4 410.9 160.0 410.9 157.6 410.9 155.2 410.9 152.9 410.9 150.5 410.9 148.1 410.9 145.7 410.9 143.4 410.9 141.0 410.9 138.6 410.9 136.2 410.9 133.9 410.9 131.5 410.9 129.1 410.9 126.7 410.9 124.4 410.9 122.0 410.9 119.6 410.9 117.2 410.9 114.9 410.9 112.5 410.9 112.5 382.3 112.5 353.8 112.5 325.3 112.5 316.7 114.9 316.7 117.2 312.5 119.5 296.8 119.6 295.5 122.0 284.5 124.2 258.7 124.4 258.1 126.7 256.6 129.1 254.9 131.5 252.9 133.9 250.3 136.2 248.3 138.6 249.3 141.0 252.8 143.4 255.4 145.7 257.5 147.0 258.7 148.1 259.8 150.5 262.7 152.9 264.8 155.2 266.5 157.6 267.8 160.0 268.9 162.4 269.5 164.7 269.2 167.1 269.0 169.5 268.9 171.8 270.8 174.2 272.9 176.6 275.4 179.0 277.6 181.3 279.8 183.7 282.1 186.1 284.5 188.5 287.2 190.8 290.2 193.2 293.5 195.3 296.8 195.6 297.0 198.0 298.7 200.3 300.6 202.7 302.1 205.1 303.4 207.5 304.5 209.8 305.6 212.2 306.6 214.6 307.5 217.0 308.4 219.3 309.2 221.7 309.9 224.1 309.3 226.4 308.5 228.8 307.6 231.2 306.7 233.6 306.2 235.9 306.0 238.3 305.8 240.7 305.6 243.1 305.3 245.4 305.1 247.8 304.8 250.2 304.6 252.6 304.3 254.9 304.1 257.3 303.8 259.7 303.5 262.1 303.2 264.4 302.9 266.8 302.6 269.2 302.3 271.6 302.0 273.9 301.7 276.3 301.3 278.7 301.0 281.1 300.6 283.4 300.2 285.8 299.8 288.2 299.4 290.5 299.0 292.9 298.6 295.3 298.2 297.7 297.7 300.0 297.3 302.4 296.8 302.4 296.8 302.4 296.8 300.0 273.3 298.5 258.7 297.7 256.4 295.3 245.4 292.9 232.1 291.2 220.7 292.9 217.0 295.3 212.6 297.7 208.8 300.0 205.5 302.4 203.1 304.8 203.0 307.2 202.9 309.5 202.8 311.9 202.6 314.3 202.5 316.7 202.4 319.0 202.3 321.4 202.2 323.8 202.0 326.2 201.9 328.5 201.8 330.9 201.7 333.3 201.5 335.7 201.4 338.0 201.3 340.4 201.2 342.8 201.1 345.1 200.9 347.5 200.8 349.9 200.7 352.3 200.6 354.6 200.4 357.0 200.3 359.4 200.2 361.8 200.1 364.1 199.9 366.5 199.8 368.9 199.7 371.3 198.8 373.6 195.4 376.0 192.7 378.4 190.6 380.8 188.8 383.1 187.4 385.5 186.1 387.9 185.1 390.3 184.1 392.6 183.4 394.6 182.7 392.6 179.8 390.3 174.4 387.9 161.2 386.1 144.7 387.9 144.7ZM168.5 353.8 169.5 356.5 171.8 363.3 174.2 362.2 176.6 361.3 179.0 354.6 179.2 353.8 179.0 353.0 176.6 346.5 174.2 347.0 171.8 349.2 169.5 352.7 168.5 353.8Z"/>
<path fill="#ffa07a" fill-rule="evenodd" d="M385.5 217.6 387.9 214.1 390.3 211.1 392.6 208.5 395.0 206.2 397.4 203.3 399.7 200.3 402.1 197.4 404.5 194.9 406.9 192.2 409.2 190.5 411.6 192.2 414.0 193.5 416.4 194.5 418.7 195.4 421.1 196.2 423.5 197.5 425.9 198.5 428.2 199.5 430.6 200.5 433.0 201.6 435.4 202.7 437.7 203.8 440.1 205.1 442.5 207.0 444.9 209.1 447.2 211.4 449.6 213.9 452.0 216.7 454.4 219.9 455.1 220.7 455.3 258.7 454.4 260.6 452.0 265.6 449.6 269.5 447.2 272.7 444.9 275.3 442.5 277.6 440.1 279.4 437.7 281.1 435.4 282.4 433.0 283.4 430.6 284.4 428.2 285.2 425.9 286.0 423.5 286.8 421.1 287.5 418.7 287.7 416.4 287.6 414.0 287.4 411.6 287.2 409.2 286.9 406.9 286.6 404.5 286.3 402.1 285.8 399.7 285.0 397.4 284.0 395.0 282.7 392.6 280.8 390.3 277.4 387.9 271.5 385.5 262.4 384.0 258.7 383.7 220.7 385.5 217.6ZM162.4 295.2 164.7 290.8 167.1 287.6 169.5 285.4 171.8 288.4 174.2 291.9 176.6 295.9 177.3 296.8 179.0 299.7 181.3 301.1 183.7 301.2 186.1 301.7 188.5 302.1 190.8 303.7 193.2 305.5 195.6 307.6 198.0 310.2 200.3 312.9 202.7 313.7 205.1 314.3 207.5 314.9 209.8 315.5 212.2 316.0 214.6 316.5 217.0 316.9 219.3 317.3 221.7 317.7 224.1 317.4 226.5 317.0 228.8 316.6 231.2 316.1 233.6 315.9 235.9 315.8 238.3 315.7 240.7 315.6 243.1 315.5 245.4 315.4 247.8 315.3 250.2 315.2 252.6 315.0 254.9 314.9 257.3 314.8 259.7 314.7 262.1 314.5 264.4 314.4 266.8 314.2 269.2 314.1 271.6 313.9 273.9 313.7 276.3 313.5 278.7 313.4 281.1 313.2 283.4 313.0 285.8 312.8 288.2 312.6 290.5 312.3 292.9 312.1 295.3 311.9 297.7 311.7 300.0 311.4 302.4 311.2 304.8 311.0 307.2 310.9 309.5 310.7 311.9 310.6 314.3 310.4 316.7 310.2 319.0 310.1 321.4 309.9 323.8 309.7 326.2 309.6 328.5 308.7 330.9 307.9 333.3 307.1 335.7 306.4 338.0 305.8 340.4 305.2 342.8 305.3 345.1 305.5 347.5 305.8 349.9 306.2 352.3 306.6 354.6 307.1 357.0 308.7 359.4 312.3 361.8 311.9 364.1 307.8 366.5 306.2 368.9 305.8 371.3 305.4 373.6 305.0 376.0 304.6 378.4 304.3 380.8 303.9 383.1 303.5 385.5 303.2 387.9 302.8 390.3 302.4 392.6 302.3 395.0 302.5 397.4 302.7 399.7 302.9 402.1 303.0 404.5 303.2 406.9 303.3 409.2 303.5 411.6 303.6 414.0 303.7 416.4 303.8 418.7 303.9 421.1 304.0 423.5 304.2 425.9 304.3 428.2 304.4 430.6 304.4 433.0 304.5 435.4 304.6 437.7 304.9 440.1 305.1 442.5 305.4 444.9 305.6 447.2 305.8 449.6 306.1 452.0 306.3 454.4 306.6 456.7 306.9 459.1 307.1 461.5 307.4 463.8 307.6 466.2 307.9 468.6 308.1 471.0 308.4 473.3 308.7 475.7 308.9 478.1 309.2 480.5 309.4 482.8 310.0 485.2 310.5 487.6 310.9 490.0 311.4 492.3 311.9 494.7 312.3 497.1 312.8 499.5 313.2 501.8 313.6 504.2 314.0 506.6 314.4 509.0 314.6 511.3 314.9 513.7 315.1 516.1 315.3 518.4 315.5 520.8 315.7 523.2 316.0 525.6 316.1 527.9 316.3 530.3 316.5 532.7 316.6 535.1 316.8 537.4 316.9 539.8 317.1 542.2 317.2 544.6 317.4 546.9 317.5 549.3 317.6 551.7 317.8 554.1 317.9 556.4 318.0 558.8 318.0 561.2 317.9 563.6 317.8 565.9 317.7 568.3 317.6 570.7 317.5 573.0 317.4 575.4 317.3 577.8 317.1 580.2 317.0 582.5 316.8 584.9 316.7 587.3 316.5 589.7 316.3 592.0 315.9 594.4 315.2 596.8 314.5 599.2 313.7 601.5 312.8 603.9 311.8 606.3 311.0 608.7 310.4 611.0 309.7 613.4 309.0 615.8 308.3 618.2 307.4 620.5 306.5 622.9 305.5 625.3 304.4 627.6 303.1 630.0 301.7 632.4 300.2 634.8 298.4 636.8 296.8 637.1 296.5 639.5 295.0 641.9 293.4 644.3 291.6 646.6 289.7 649.0 287.8 651.4 285.8 653.8 283.7 656.1 281.5 658.5 279.3 660.9 276.9 663.3 274.4 665.6 271.7 668.0 271.3 670.4 274.0 672.8 276.5 675.1 278.9 677.5 281.2 679.9 283.4 682.2 285.4 684.6 287.4 687.0 289.3 689.4 291.2 691.7 292.9 694.1 294.6 696.5 296.2 697.8 296.8 698.9 297.0 701.2 297.3 703.6 297.6 706.0 298.0 708.4 298.5 710.7 298.9 713.1 299.4 715.5 300.1 717.9 301.0 720.2 302.0 722.6 301.7 725.0 301.5 727.4 301.4 729.7 301.6 732.1 301.8 734.5 301.9 736.9 302.1 739.2 302.2 741.6 302.4 744.0 302.5 746.3 302.6 748.7 302.7 751.1 302.8 753.5 302.9 755.8 303.1 758.2 303.4 760.6 303.8 763.0 304.1 765.3 304.4 767.7 304.8 770.1 305.1 772.5 305.4 774.8 306.1 777.2 307.1 779.6 308.1 782.0 309.0 784.3 310.3 786.7 311.3 789.1 312.3 791.5 313.3 793.8 314.6 796.2 321.0 796.2 325.3 796.2 353.8 796.2 382.3 796.2 410.9 793.8 410.9 791.5 410.9 789.1 410.9 786.7 410.9 784.3 410.9 782.0 410.9 779.6 410.9 777.2 410.9 774.8 410.9 772.5 410.9 770.1 410.9 767.7 410.9 765.3 410.9 763.0 410.9 760.6 410.9 758.2 410.9 755.8 410.9 753.5 410.9 751.1 410.9 748.7 410.9 746.3 410.9 744.0 410.9 741.6 410.9 739.2 410.9 736.9 410.9 734.5 410.9 732.1 410.9 729.7 410.9 727.4 410.9 725.0 410.9 722.6 410.9 720.2 410.9 717.9 410.9 715.5 410.9 713.1 410.9 710.7 410.9 708.4 410.9 706.0 410.9 703.6 410.9 701.2 410.9 698.9 410.9 696.5 410.9 694.1 410.9 691.7 410.9 689.4 410.9 687.0 410.9 684.6 410.9 682.2 410.9 679.9 410.9 677.5 410.9 675.1 410.9 672.8 410.9 670.4 410.9 668.0 410.9 665.6 410.9 663.3 410.9 660.9 410.9 658.5 410.9 656.1 410.9 653.8 410.9 651.4 410.9 649.0 410.9 646.6 410.9 644.3 410.9 641.9 410.9 639.5 410.9 637.1 410.9 634.8 410.9 632.4 410.9 630.0 410.9 627.6 410.9 625.3 410.9 622.9 410.9 620.5 410.9 618.2 410.9 615.8 410.9 613.4 410.9 611.0 410.9 608.7 410.9 606.3 410.9 603.9 410.9 601.5 410.9 599.2 410.9 596.8 410.9 594.4 410.9 592.0 410.9 589.7 410.9 587.3 410.9 584.9 410.9 582.5 410.9 580.2 410.9 577.8 410.9 575.4 410.9 573.0 410.9 570.7 410.9 568.3 410.9 565.9 410.9 563.6 410.9 561.2 410.9 558.8 410.9 556.4 410.9 554.1 410.9 551.7 410.9 549.3 410.9 546.9 410.9 544.6 410.9 542.2 410.9 539.8 410.9 537.4 410.9 535.1 410.9 532.7 410.9 530.3 410.9 527.9 410.9 525.6 410.9 523.2 410.9 520.8 410.9 518.4 410.9 516.1 410.9 513.7 410.9 511.3 410.9 509.0 410.9 506.6 410.9 504.2 410.9 501.8 410.9 499.5 410.9 497.1 410.9 494.7 410.9 492.3 410.9 490.0 410.9 487.6 410.9 485.2 410.9 482.8 410.9 480.5 410.9 478.1 410.9 475.7 410.9 473.3 410.9 471.0 410.9 468.6 410.9 466.2 410.9 463.8 410.9 461.5 410.9 459.1 410.9 456.7 410.9 454.4 410.9 452.0 410.9 449.6 410.9 447.2 410.9 444.9 410.9 442.5 410.9 440.1 410.9 437.7 410.9 435.4 410.9 433.0 410.9 430.6 410.9 428.2 410.9 425.9 410.9 423.5 410.9 421.1 410.9 418.7 410.9 416.4 410.9 414.0 410.9 411.6 410.9 409.2 410.9 406.9 410.9 404.5 410.9 402.1 410.9 399.7 410.9 397.4 410.9 395.0 410.9 392.6 410.9 390.3 410.9 387.9 410.9 385.5 410.9 383.1 410.9 380.8 410.9 378.4 410.9 376.0 410.9 373.6 410.9 371.3 410.9 368.9 410.9 366.5 410.9 364.1 410.9 361.8 410.9 359.4 410.9 357.0 410.9 354.6 410.9 352.3 410.9 349.9 410.9 347.5 410.9 345.1 410.9 342.8 410.9 340.4 410.9 338.0 410.9 335.7 410.9 333.3 410.9 330.9 410.9 328.5 410.9 326.2 410.9 323.8 410.9 321.4 410.9 319.0 410.9 316.7 410.9 314.3 410.9 311.9 410.9 309.5 410.9 307.2 410.9 304.8 410.9 302.4 410.9 300.0 410.9 297.7 410.9 295.3 410.9 292.9 410.9 290.5 410.9 288.2 410.9 285.8 410.9 283.4 410.9 281.1 410.9 278.7 410.9 276.3 410.9 273.9 410.9 271.6 410.9 269.2 410.9 266.8 410.9 264.4 410.9 262.1 410.9 259.7 410.9 257.3 410.9 254.9 410.9 252.6 410.9 250.2 410.9 247.8 410.9 245.4 410.9 243.1 410.9 240.7 410.9 238.3 410.9 235.9 410.9 233.6 410.9 231.2 410.9 228.8 410.9 226.4 410.9 224.1 410.9 221.7 410.9 219.3 410.9 217.0 410.9 214.6 410.9 212.2 410.9 209.8 410.9 207.5 410.9 205.1 410.9 202.7 410.9 200.3 410.9 198.0 410.9 195.6 410.9 193.2 410.9 190.8 410.9 188.5 410.9 186.1 410.9 183.7 410.9 181.3 410.9 179.0 410.9 176.6 410.9 174.2 410.9 171.8 410.9 169.5 410.9 167.1 410.9 164.7 410.9 162.4 410.9 160.0 410.9 157.6 410.9 155.2 410.9 152.9 410.9 150.5 410.9 148.1 410.9 145.7 410.9 143.4 410.9 141.0 410.9 138.6 410.9 136.2 410.9 133.9 410.9 131.5 410.9 129.1 410.9 126.7 410.9 124.4 410.9 122.0 410.9 119.6 410.9 117.2 410.9 114.9 410.9 112.5 410.9 112.5 382.3 112.5 353.8 112.5 335.3 114.9 335.3 117.2 335.3 119.6 334.5 122.0 333.5 124.4 331.4 126.7 329.4 129.1 327.5 131.5 325.8 132.0 325.3 133.9 318.4 136.2 312.1 138.6 310.6 141.0 315.1 143.2 325.3 143.4 325.8 145.7 333.5 147.9 353.8 145.7 382.3 145.7 382.3 145.7 382.3 148.1 384.5 150.5 386.3 152.9 387.9 155.2 388.7 157.6 387.3 160.0 385.6 162.4 383.6 162.8 382.3 164.7 371.9 166.8 382.3 167.1 383.3 169.5 387.1 171.8 386.9 173.4 382.3 174.2 378.5 176.6 373.6 179.0 368.0 181.3 361.3 183.6 353.8 181.3 345.8 179.0 338.5 176.6 334.5 174.2 333.5 171.8 332.8 169.5 331.7 167.1 329.4 164.7 325.3 164.7 325.3 162.4 304.8 160.9 296.8 162.4 295.2Z"/>
<path fill="#ff7442" fill-rule="evenodd" d="M404.5 218.6 406.9 216.4 409.2 214.4 411.6 213.3 414.0 212.4 416.4 211.6 418.7 211.0 421.1 210.7 423.5 212.0 425.9 213.1 428.2 214.4 430.6 215.6 433.0 216.9 435.4 218.2 437.7 219.5 439.5 220.7 437.7 242.3 436.5 258.7 435.4 260.0 433.0 262.0 430.6 263.9 428.2 265.6 425.9 267.2 423.5 268.7 421.1 270.1 418.7 270.2 416.4 269.0 414.0 267.7 411.6 266.2 409.2 264.5 406.9 262.6 404.5 260.3 403.2 258.7 402.1 220.7 404.5 218.6ZM181.3 319.6 183.7 313.2 186.1 311.8 188.5 310.7 190.8 312.9 193.2 315.4 195.6 318.3 198.0 321.8 200.3 325.3 200.3 325.3 202.7 325.4 205.1 325.5 207.5 325.6 209.8 325.7 212.2 325.7 214.6 325.8 217.0 325.9 219.3 325.9 221.7 326.0 224.1 326.0 226.4 326.1 228.8 326.1 231.2 326.2 233.6 326.3 235.9 326.4 238.3 326.5 240.7 326.6 243.1 326.6 245.4 326.7 247.8 326.8 250.2 326.9 252.6 327.0 254.9 327.1 257.3 327.2 259.7 327.3 262.1 327.4 264.4 327.4 266.8 327.4 269.2 327.5 271.6 327.9 273.9 328.8 276.3 330.6 278.7 337.6 279.1 353.8 281.1 357.1 283.4 361.1 285.8 357.0 287.8 353.8 288.2 336.5 290.5 329.5 292.9 327.8 295.3 327.0 297.7 326.5 300.0 326.2 302.4 326.1 304.8 326.2 307.2 326.3 309.5 326.5 311.9 326.9 314.3 328.7 314.9 353.8 316.7 356.5 319.0 360.5 321.4 355.0 322.6 353.8 323.8 326.0 326.2 325.3 326.2 325.3 328.5 323.7 330.9 322.2 333.3 320.8 335.7 319.5 338.0 318.3 340.4 317.2 342.8 317.7 345.1 318.7 347.5 319.9 349.9 321.2 352.3 322.7 354.6 324.5 355.1 325.3 357.0 332.2 359.4 338.3 361.8 338.1 364.1 331.7 366.4 325.3 366.5 325.1 368.9 324.7 371.3 324.2 373.6 323.8 376.0 323.3 378.4 322.9 380.8 322.5 383.1 322.0 385.5 321.6 387.9 321.2 390.3 320.8 392.6 320.4 395.0 320.1 397.4 319.8 399.7 319.6 402.1 319.3 404.5 319.1 406.9 318.9 409.2 318.6 411.6 318.4 414.0 318.2 416.4 318.1 418.7 317.9 421.1 317.7 423.5 317.5 425.9 317.4 428.2 317.2 430.6 317.1 433.0 316.9 435.4 316.8 437.7 317.0 440.1 317.3 442.5 317.6 444.9 317.9 447.2 318.1 449.6 318.4 452.0 318.7 454.4 319.0 456.7 319.3 459.1 319.5 461.5 319.8 463.8 320.1 466.2 320.4 468.6 320.7 471.0 321.0 473.3 321.3 475.7 321.5 478.1 321.8 480.5 322.1 482.8 322.5 485.2 322.8 487.6 323.1 490.0 323.4 492.3 323.7 494.7 324.0 497.1 324.3 499.5 324.6 501.8 324.9 504.2 325.2 506.3 325.3 506.6 325.3 509.0 325.4 511.3 325.5 513.7 325.6 516.1 325.6 518.4 325.7 520.8 325.8 523.2 325.8 525.6 325.9 527.9 325.9 530.3 326.0 532.7 326.0 535.1 326.1 537.4 326.1 539.8 326.2 542.2 326.2 544.6 326.2 546.9 326.3 549.3 326.3 551.7 326.4 554.1 326.4 556.4 326.4 558.8 326.5 561.2 326.5 563.6 326.5 565.9 326.5 568.3 326.6 570.7 326.6 573.0 326.6 575.4 326.5 577.8 326.5 580.2 326.4 582.5 326.3 584.9 326.3 587.3 326.2 589.7 326.2 592.0 326.1 594.4 326.1 596.8 326.0 599.2 326.0 601.5 325.9 603.9 325.9 606.3 325.8 608.7 325.8 611.0 325.8 613.4 325.7 615.8 325.7 618.2 325.7 620.5 325.6 622.9 325.6 625.3 325.6 627.6 325.5 630.0 325.5 632.4 325.4 634.8 325.4 637.1 325.4 639.5 325.3 639.6 325.3 641.9 324.0 644.3 322.5 646.6 321.0 649.0 319.4 651.4 317.9 653.8 316.3 656.1 314.6 658.5 313.0 660.9 311.3 663.3 309.6 665.6 307.9 668.0 307.1 670.4 307.6 672.8 308.0 675.1 308.3 677.5 308.6 679.9 308.9 682.2 309.1 684.6 309.3 687.0 309.4 689.4 309.5 691.7 309.1 694.1 308.7 696.5 308.4 698.9 308.0 701.2 307.7 703.6 308.4 706.0 309.3 708.4 310.2 710.7 311.2 713.1 312.3 715.5 314.4 717.9 317.0 720.2 319.7 722.6 316.8 725.0 314.7 727.4 313.3 729.7 313.0 732.1 312.8 734.5 312.6 736.9 312.4 739.2 312.2 741.6 312.0 744.0 311.9 746.3 311.7 748.7 311.6 751.1 311.4 753.5 311.3 755.8 311.4 758.2 311.8 760.6 312.2 763.0 312.6 765.3 313.0 767.7 313.4 770.1 313.8 772.5 314.3 774.8 314.9 777.2 315.7 779.6 316.4 782.0 317.1 784.3 318.5 786.7 319.9 789.1 321.4 791.5 323.1 793.8 325.0 793.9 325.3 796.2 335.3 796.2 353.8 796.2 382.3 796.2 410.9 793.8 410.9 791.5 410.9 789.1 410.9 786.7 410.9 784.3 410.9 782.0 410.9 779.6 410.9 777.2 410.9 774.8 410.9 772.5 410.9 770.1 410.9 767.7 410.9 765.3 410.9 763.0 410.9 760.6 410.9 758.2 410.9 755.8 410.9 753.5 410.9 751.1 410.9 748.7 410.9 746.3 410.9 744.0 410.9 741.6 410.9 739.2 410.9 736.9 410.9 734.5 410.9 732.1 410.9 729.7 410.9 727.4 410.9 725.0 410.9 722.6 410.9 720.2 410.9 717.9 410.9 715.5 410.9 713.1 410.9 710.7 410.9 708.4 410.9 706.0 410.9 703.6 410.9 701.2 410.9 698.9 410.9 696.5 410.9 694.1 410.9 691.7 410.9 689.4 410.9 687.0 410.9 684.6 410.9 682.2 410.9 679.9 410.9 677.5 410.9 675.1 410.9 672.8 410.9 670.4 410.9 668.0 410.9 665.6 410.9 663.3 410.9 660.9 410.9 658.5 410.9 656.1 410.9 653.8 410.9 651.4 410.9 649.0 410.9 646.6 410.9 644.3 410.9 641.9 410.9 639.5 410.9 637.1 410.9 634.8 410.9 632.4 410.9 630.0 410.9 627.6 410.9 625.3 410.9 622.9 410.9 620.5 410.9 618.2 410.9 615.8 410.9 613.4 410.9 611.0 410.9 608.7 410.9 606.3 410.9 603.9 410.9 601.5 410.9 599.2 410.9 596.8 410.9 594.4 410.9 592.0 410.9 589.7 410.9 587.3 410.9 584.9 410.9 582.5 410.9 580.2 410.9 577.8 410.9 575.4 410.9 573.0 410.9 570.7 410.9 568.3 410.9 565.9 410.9 563.6 410.9 561.2 410.9 558.8 410.9 556.4 410.9 554.1 410.9 551.7 410.9 549.3 410.9 546.9 410.9 544.6 410.9 542.2 410.9 539.8 410.9 537.4 410.9 535.1 410.9 532.7 410.9 530.3 410.9 527.9 410.9 525.6 410.9 523.2 410.9 520.8 410.9 518.4 410.9 516.1 410.9 513.7 410.9 511.3 410.9 509.0 410.9 506.6 410.9 504.2 410.9 501.8 410.9 499.5 410.9 497.1 410.9 494.7 410.9 492.3 410.9 490.0 410.9 487.6 410.9 485.2 410.9 482.8 410.9 480.5 410.9 478.1 410.9 475.7 410.9 473.3 410.9 471.0 410.9 468.6 410.9 466.2 410.9 463.8 410.9 461.5 410.9 459.1 410.9 456.7 410.9 454.4 410.9 452.0 410.9 449.6 410.9 447.2 410.9 444.9 410.9 442.5 410.9 440.1 410.9 437.7 410.9 435.4 410.9 433.0 410.9 430.6 410.9 428.2 410.9 425.9 410.9 423.5 410.9 421.1 410.9 418.7 410.9 416.4 410.9 414.0 410.9 411.6 410.9 409.2 410.9 406.9 410.9 404.5 410.9 402.1 410.9 399.7 410.9 397.4 410.9 395.0 410.9 392.6 410.9 390.3 410.9 387.9 410.9 385.5 410.9 383.1 410.9 380.8 410.9 378.4 410.9 376.0 410.9 373.6 410.9 371.3 410.9 368.9 410.9 366.5 410.9 364.1 410.9 361.8 410.9 359.4 410.9 357.0 410.9 354.6 410.9 352.3 410.9 349.9 410.9 347.5 410.9 345.1 410.9 342.8 410.9 340.4 410.9 338.0 410.9 335.7 410.9 333.3 410.9 330.9 410.9 328.5 410.9 326.2 410.9 323.8 410.9 321.4 410.9 319.0 410.9 316.7 410.9 314.3 410.9 311.9 410.9 309.5 410.9 307.2 410.9 304.8 410.9 302.4 410.9 300.0 410.9 297.7 410.9 295.3 410.9 292.9 410.9 290.5 410.9 288.2 410.9 285.8 410.9 283.4 410.9 281.1 410.9 278.7 410.9 276.3 410.9 273.9 410.9 271.6 410.9 269.2 410.9 266.8 410.9 264.4 410.9 262.1 410.9 259.7 410.9 257.3 410.9 254.9 410.9 252.6 410.9 250.2 410.9 247.8 410.9 245.4 410.9 243.1 410.9 240.7 410.9 238.3 410.9 235.9 410.9 233.6 410.9 231.2 410.9 228.8 410.9 226.4 410.9 224.1 410.9 221.7 410.9 219.3 410.9 217.0 410.9 214.6 410.9 212.2 410.9 209.8 410.9 207.5 410.9 205.1 410.9 202.7 410.9 200.3 410.9 198.0 410.9 195.6 410.9 193.2 410.9 190.8 410.9 188.5 410.9 186.1 410.9 183.7 410.9 181.3 410.9 179.0 410.9 176.6 410.9 174.2 410.9 171.8 410.9 169.5 410.9 167.1 410.9 164.7 410.9 162.4 410.9 160.0 410.9 157.6 410.9 155.2 410.9 152.9 410.9 150.5 410.9 148.1 410.9 145.7 410.9 143.4 410.9 141.0 410.9 138.6 410.9 136.2 410.9 133.9 410.9 131.5 410.9 129.1 410.9 126.7 410.9 124.4 410.9 122.0 410.9 119.6 410.9 117.2 410.9 114.9 410.9 112.5 410.9 112.5 382.3 112.5 353.8 112.5 349.5 114.9 349.5 117.2 349.5 119.6 347.7 122.0 345.1 124.4 342.4 126.7 339.9 129.1 337.6 131.5 335.4 133.9 332.1 136.2 330.7 138.6 331.7 141.0 338.8 143.4 353.0 143.5 353.8 143.4 356.8 142.5 382.3 143.4 387.2 145.7 394.7 148.1 395.9 150.5 397.0 152.9 397.9 155.2 398.3 157.6 397.5 160.0 396.6 162.4 395.5 164.7 390.6 167.1 395.3 169.5 397.5 171.8 397.3 174.2 392.9 176.6 387.5 178.5 382.3 179.0 381.4 181.3 376.0 183.7 371.0 186.1 367.3 188.5 363.2 190.8 358.7 193.2 353.8 190.8 349.5 188.5 347.5 186.1 343.8 183.7 339.7 181.3 330.1 179.5 325.3 181.3 319.6ZM651.3 382.3 651.4 382.5 653.8 383.9 656.1 385.1 658.5 386.3 660.9 387.4 663.3 388.4 665.6 389.4 668.0 390.3 670.4 390.1 672.8 389.3 675.1 388.4 677.5 387.5 679.9 386.4 682.2 385.1 684.6 383.7 686.7 382.3 684.6 376.5 682.2 372.9 679.9 370.8 677.5 369.5 675.1 368.5 672.8 367.8 670.4 367.3 668.0 367.5 665.6 369.1 663.3 370.8 660.9 372.7 658.5 374.7 656.1 376.9 653.8 379.3 651.4 382.0 651.3 382.3Z"/>
<path fill="#ff4a14" fill-rule="evenodd" d="M186.1 321.8 188.5 319.3 190.8 322.1 193.2 325.3 190.8 331.6 188.5 334.4 186.1 330.1 183.7 325.3 186.1 321.8ZM689.4 325.2 691.7 323.2 694.1 321.6 696.5 320.3 698.9 319.1 701.2 318.0 703.6 319.2 706.0 320.5 708.4 322.0 710.7 323.5 713.1 325.2 713.2 325.3 713.1 326.2 710.7 336.9 708.4 340.3 706.0 342.0 703.6 342.9 701.2 343.6 698.9 341.4 696.5 338.6 694.1 335.3 691.7 331.1 689.4 325.6 689.1 325.3 689.4 325.2ZM727.4 325.2 729.7 324.5 732.1 323.8 734.5 323.3 736.9 322.7 739.2 322.2 741.6 321.7 744.0 321.2 746.3 320.8 748.7 320.4 751.1 320.0 753.5 319.7 755.8 319.7 758.2 320.2 760.6 320.7 763.0 321.1 765.3 321.6 767.7 322.1 770.1 322.6 772.5 323.1 774.8 323.6 777.2 324.2 779.6 324.7 782.0 325.2 782.1 325.3 784.3 335.6 786.7 341.1 789.1 344.0 791.5 345.9 793.8 347.1 796.2 349.5 796.2 353.8 796.2 382.3 796.2 410.9 793.8 410.9 791.5 410.9 789.1 410.9 786.7 410.9 784.3 410.9 782.0 410.9 779.6 410.9 777.2 410.9 774.8 410.9 772.5 410.9 770.1 410.9 767.7 410.9 765.3 410.9 763.0 410.9 760.6 410.9 758.2 410.9 755.8 410.9 753.5 410.9 751.1 410.9 748.7 410.9 746.3 410.9 744.0 410.9 741.6 410.9 739.2 410.9 736.9 410.9 734.5 410.9 732.1 410.9 729.7 410.9 727.4 410.9 725.0 410.9 722.6 410.9 720.2 410.9 717.9 410.9 715.5 410.9 713.1 410.9 710.7 410.9 708.4 410.9 706.0 410.9 703.6 410.9 701.2 410.9 698.9 410.9 696.5 410.9 694.1 410.9 691.7 410.9 689.4 410.9 687.0 410.9 684.6 410.9 682.2 410.9 679.9 410.9 677.5 410.9 675.1 410.9 672.8 410.9 670.4 410.9 668.0 410.9 665.6 410.9 663.3 410.9 660.9 410.9 658.5 410.9 656.1 410.9 653.8 410.9 651.4 410.9 649.0 410.9 646.6 410.9 644.3 410.9 641.9 410.9 639.5 410.9 637.1 410.9 634.8 410.9 632.4 410.9 630.0 410.9 627.6 410.9 625.3 410.9 622.9 410.9 620.5 410.9 618.2 410.9 615.8 410.9 613.4 410.9 611.0 410.9 608.7 410.9 606.3 410.9 603.9 410.9 601.5 410.9 599.2 410.9 596.8 410.9 594.4 410.9 592.0 410.9 589.7 410.9 587.3 410.9 584.9 410.9 582.5 410.9 580.2 410.9 577.8 410.9 575.4 410.9 573.0 410.9 570.7 410.9 568.3 410.9 565.9 410.9 563.6 410.9 561.2 410.9 558.8 410.9 556.4 410.9 554.1 410.9 551.7 410.9 549.3 410.9 546.9 410.9 544.6 410.9 542.2 410.9 539.8 410.9 537.4 410.9 535.1 410.9 532.7 410.9 530.3 410.9 527.9 410.9 525.6 410.9 523.2 410.9 520.8 410.9 518.4 410.9 516.1 410.9 513.7 410.9 511.3 410.9 509.0 410.9 506.6 410.9 504.2 410.9 501.8 410.9 499.5 410.9 497.1 410.9 494.7 410.9 492.3 410.9 490.0 410.9 487.6 410.9 485.2 410.9 482.8 410.9 480.5 410.9 478.1 410.9 475.7 410.9 473.3 410.9 471.0 410.9 468.6 410.9 466.2 410.9 463.8 410.9 461.5 410.9 459.1 410.9 456.7 410.9 454.4 410.9 452.0 410.9 449.6 410.9 447.2 410.9 444.9 410.9 442.5 410.9 440.1 410.9 437.7 410.9 435.4 410.9 433.0 410.9 430.6 410.9 428.2 410.9 425.9 410.9 423.5 410.9 421.1 410.9 418.7 410.9 416.4 410.9 414.0 410.9 411.6 410.9 409.2 410.9 406.9 410.9 404.5 410.9 402.1 410.9 399.7 410.9 397.4 410.9 395.0 410.9 392.6 410.9 390.3 410.9 387.9 410.9 385.5 410.9 383.1 410.9 380.8 410.9 378.4 410.9 376.0 410.9 373.6 410.9 371.3 410.9 368.9 410.9 366.5 410.9 364.1 410.9 361.8 410.9 359.4 410.9 357.0 410.9 354.6 410.9 352.3 410.9 349.9 410.9 347.5 410.9 345.1 410.9 342.8 410.9 340.4 410.9 338.0 410.9 335.7 410.9 333.3 410.9 330.9 410.9 328.5 410.9 326.2 410.9 323.8 410.9 321.4 410.9 319.0 410.9 316.7 410.9 314.3 410.9 311.9 410.9 309.5 410.9 307.2 410.9 304.8 410.9 302.4 410.9 300.0 410.9 297.7 410.9 295.3 410.9 292.9 410.9 290.5 410.9 288.2 410.9 285.8 410.9 283.4 410.9 281.1 410.9 278.7 410.9 276.3 410.9 273.9 410.9 271.6 410.9 269.2 410.9 266.8 410.9 264.4 410.9 262.1 410.9 259.7 410.9 257.3 410.9 254.9 410.9 252.6 410.9 250.2 410.9 247.8 410.9 245.4 410.9 243.1 410.9 240.7 410.9 238.3 410.9 235.9 410.9 233.6 410.9 231.2 410.9 228.8 410.9 226.4 410.9 224.1 410.9 221.7 410.9 219.3 410.9 217.0 410.9 214.6 410.9 212.2 410.9 209.8 410.9 207.5 410.9 205.1 410.9 202.7 410.9 200.3 410.9 198.0 410.9 195.6 410.9 193.2 410.9 190.8 410.9 188.5 410.9 186.1 410.9 183.7 410.9 181.3 410.9 179.0 410.9 176.6 410.9 174.2 410.9 171.8 410.9 169.5 410.9 167.1 410.9 164.7 410.9 162.4 410.9 160.0 410.9 157.6 410.9 155.2 410.9 152.9 410.9 150.5 410.9 148.1 410.9 145.7 410.9 143.4 410.9 141.0 410.9 138.6 410.9 136.2 410.9 133.9 410.9 131.5 410.9 129.1 410.9 126.7 410.9 124.4 410.9 122.0 410.9 119.6 410.9 117.2 410.9 114.9 410.9 112.5 410.9 112.5 382.3 112.5 363.8 114.9 363.8 117.2 363.8 119.6 362.2 122.0 358.5 124.1 353.8 124.4 353.4 126.7 350.4 129.1 347.6 131.5 345.1 133.9 340.6 136.2 341.9 138.6 346.9 140.3 353.8 139.5 382.3 141.0 400.2 143.4 405.4 145.7 407.1 148.1 407.4 150.5 407.7 152.9 407.9 155.2 408.0 157.6 407.8 160.0 407.6 162.4 407.3 164.7 406.2 167.1 407.3 169.5 407.8 171.8 407.7 174.2 406.7 176.6 405.5 179.0 403.9 181.3 401.0 183.7 397.8 186.1 393.0 188.5 382.3 188.5 382.3 190.8 379.1 193.2 375.4 195.6 371.3 198.0 366.4 200.3 364.6 202.7 363.1 205.1 362.4 207.5 362.0 209.8 361.6 212.2 361.2 214.6 360.8 217.0 360.4 219.3 360.0 221.7 359.6 224.1 359.2 226.4 358.8 228.8 358.9 231.2 359.1 233.6 359.3 235.9 359.5 238.3 359.7 240.7 360.0 243.1 360.2 245.4 360.4 247.8 360.7 250.2 360.9 252.6 361.5 254.9 367.4 257.3 363.0 259.7 361.4 262.1 361.3 264.4 361.2 266.8 361.4 269.2 362.3 271.6 364.1 273.9 367.4 276.3 373.6 278.7 370.8 281.1 369.7 283.4 371.5 285.8 369.3 288.2 367.0 290.5 366.1 292.9 365.3 295.3 364.3 297.7 363.1 300.0 362.6 302.4 364.0 304.8 369.1 307.2 370.5 309.5 368.8 311.9 367.8 314.3 367.4 316.7 368.8 319.0 371.1 321.4 368.9 323.8 368.6 326.2 368.8 328.5 369.0 330.9 369.3 333.3 369.8 335.7 370.5 338.0 368.1 340.4 366.3 342.8 364.9 345.1 363.7 347.5 362.8 349.9 362.0 352.3 361.4 354.6 361.1 357.0 360.9 359.4 360.6 361.8 360.4 364.1 360.5 366.5 360.7 368.9 360.8 371.3 361.0 373.6 361.7 376.0 362.6 378.4 363.8 380.8 365.4 383.1 367.7 385.5 366.4 387.9 364.3 390.3 362.8 392.6 361.6 395.0 360.7 397.4 360.1 399.7 359.6 402.1 359.8 404.5 360.1 406.9 360.2 409.2 360.4 411.6 360.5 414.0 360.7 416.4 360.8 418.7 361.0 421.1 361.2 423.5 361.4 425.9 361.6 428.2 361.9 430.6 362.2 433.0 362.5 435.4 362.8 437.7 363.2 440.1 363.7 442.5 364.2 444.9 364.8 447.2 365.4 449.6 364.6 452.0 363.8 454.4 363.0 456.7 362.3 459.1 361.7 461.5 361.2 463.8 360.7 466.2 359.9 468.6 359.2 471.0 358.4 473.3 357.8 475.7 357.1 478.1 356.5 480.5 356.0 482.8 355.4 485.2 354.9 487.6 354.4 490.0 353.9 490.4 353.8 492.3 353.1 494.7 352.2 497.1 351.5 499.5 350.8 501.8 350.1 504.2 349.6 506.6 349.0 509.0 348.4 511.3 347.9 513.7 347.4 516.1 346.9 518.4 346.5 520.8 346.0 523.2 345.6 525.6 345.2 527.9 344.8 530.3 344.5 532.7 344.1 535.1 343.8 537.4 343.5 539.8 343.2 542.2 342.9 544.6 342.6 546.9 342.3 549.3 342.0 551.7 341.8 554.1 341.6 556.4 341.3 558.8 341.1 561.2 340.9 563.6 340.7 565.9 340.5 568.3 340.3 570.7 340.0 573.0 339.7 575.4 339.4 577.8 339.1 580.2 338.8 582.5 338.5 584.9 338.3 587.3 338.0 589.7 337.7 592.0 337.5 594.4 337.3 596.8 337.0 599.2 336.8 601.5 336.6 603.9 336.4 606.3 336.2 608.7 336.3 611.0 336.5 613.4 336.7 615.8 336.8 618.2 337.0 620.5 337.2 622.9 337.4 625.3 337.6 627.6 337.8 630.0 338.1 632.4 338.3 634.8 338.5 637.1 338.8 639.5 339.0 641.9 339.0 644.3 340.3 646.6 347.4 648.8 353.8 647.2 382.3 649.0 392.3 651.4 397.7 653.8 398.5 656.1 399.2 658.5 399.9 660.9 400.5 663.3 401.1 665.6 401.7 668.0 402.2 670.4 402.3 672.8 402.1 675.1 401.9 677.5 401.7 679.9 401.5 682.2 401.2 684.6 400.9 687.0 400.6 689.4 400.4 691.7 400.1 694.1 399.9 696.5 399.5 698.9 399.2 701.2 398.8 703.6 398.2 706.0 397.6 708.4 396.9 710.7 395.9 713.1 394.7 715.5 393.0 717.9 390.3 720.2 386.3 721.1 382.3 720.9 353.8 722.6 349.3 725.0 335.1 727.2 325.3 727.4 325.2Z"/>
<path fill="#e03000" fill-rule="evenodd" d="M133.9 349.2 136.2 353.1 136.5 353.8 136.3 382.3 136.2 382.5 133.9 384.7 131.5 386.6 129.1 388.3 126.7 389.7 124.4 390.9 122.0 390.9 119.6 390.9 117.2 390.9 114.9 390.9 112.5 390.9 112.5 382.3 112.5 378.1 114.9 378.1 117.2 378.1 119.6 377.7 122.0 376.8 124.4 375.6 126.7 374.8 129.1 373.1 131.5 366.1 131.8 353.8 133.9 349.2ZM570.7 353.4 573.0 352.8 575.4 352.3 577.8 351.7 580.2 351.2 582.5 350.7 584.9 350.2 587.3 349.8 589.7 349.3 592.0 348.9 594.4 348.5 596.8 348.1 599.2 347.7 601.5 347.3 603.9 346.9 606.3 346.6 608.7 346.9 611.0 347.3 613.4 347.6 615.8 348.0 618.2 348.4 620.5 348.8 622.9 349.2 625.3 349.7 627.6 350.1 630.0 350.6 632.4 351.1 634.8 351.7 637.1 352.2 639.5 352.8 641.9 353.4 642.2 353.8 643.9 382.3 641.9 408.7 639.5 410.2 637.1 410.7 637.0 410.9 634.8 410.9 632.4 410.9 630.0 410.9 627.6 410.9 625.3 410.9 622.9 410.9 620.5 410.9 618.2 410.9 615.8 410.9 613.4 410.9 611.0 410.9 608.7 410.9 606.3 410.9 603.9 410.9 601.5 410.9 599.4 410.9 599.2 410.8 596.8 410.6 594.4 410.4 592.0 410.2 589.7 410.0 587.3 409.7 584.9 409.5 582.5 409.3 580.2 409.0 577.8 408.8 575.4 408.5 573.0 408.3 570.7 408.0 568.3 407.7 565.9 407.4 563.6 407.1 561.2 406.8 558.8 406.5 556.4 406.1 554.1 405.7 551.7 405.4 549.3 405.0 546.9 404.6 544.6 404.1 542.2 403.7 539.8 403.2 537.4 402.7 535.1 402.2 532.7 401.6 530.3 401.0 527.9 400.4 525.6 399.7 523.2 399.0 520.8 398.3 518.4 397.5 516.1 396.7 513.7 395.8 511.3 394.8 509.0 393.8 506.6 392.7 504.2 391.5 501.8 390.2 499.5 388.8 497.1 387.3 494.7 385.6 492.3 383.8 490.9 382.3 492.3 381.9 494.7 381.2 497.1 380.5 499.5 379.8 501.8 379.2 504.2 378.4 506.6 377.7 509.0 377.0 511.3 376.3 513.7 375.5 516.1 374.7 518.4 374.0 520.8 373.2 523.2 372.4 525.6 371.6 527.9 370.7 530.3 369.9 532.7 369.0 535.1 368.2 537.4 367.3 539.8 366.4 542.2 365.5 544.6 364.5 546.9 363.6 549.3 362.6 551.7 361.6 554.1 360.6 556.4 359.6 558.8 358.6 561.2 357.5 563.6 356.4 565.9 355.3 568.3 354.2 568.9 353.8 570.7 353.4ZM732.1 351.5 734.5 348.9 736.9 346.5 739.2 344.2 741.6 342.1 744.0 340.0 746.3 338.1 748.7 336.6 751.1 336.6 753.5 336.6 755.8 338.0 758.2 341.0 760.6 344.2 763.0 347.7 765.3 351.6 766.4 353.8 767.7 355.9 770.1 359.3 772.5 361.9 774.8 364.0 777.2 365.7 779.6 367.2 782.0 368.1 784.3 368.1 786.7 368.1 789.1 368.1 791.5 368.1 793.8 368.1 796.2 368.1 796.2 382.3 796.2 396.6 793.8 396.6 791.5 396.6 789.1 396.6 786.7 396.6 784.3 396.6 782.0 396.6 779.6 396.6 777.2 396.6 774.8 396.6 772.5 396.6 770.1 396.6 767.7 396.6 765.3 396.6 763.0 396.6 760.6 396.0 758.2 395.4 755.8 394.8 753.5 394.2 751.1 393.4 748.7 392.6 746.3 391.7 744.0 390.8 741.6 389.7 739.2 388.5 736.9 387.2 734.5 385.7 732.1 384.0 731.0 382.3 730.6 353.8 732.1 351.5ZM205.1 382.1 207.5 381.7 209.8 381.3 212.2 380.9 214.6 380.5 217.0 380.2 219.3 379.8 221.7 379.4 224.1 379.0 226.5 378.6 228.8 378.6 231.2 378.9 233.6 379.3 235.9 379.6 238.3 380.0 240.7 380.4 243.1 380.8 245.4 381.2 247.8 381.6 250.2 382.0 250.7 382.3 250.2 383.0 247.8 383.8 245.4 384.5 243.1 385.1 240.7 385.7 238.3 386.3 235.9 386.9 233.6 387.5 231.2 388.0 228.8 388.5 226.5 388.4 224.1 387.9 221.7 387.4 219.3 386.8 217.0 386.2 214.6 385.6 212.2 385.0 209.8 384.3 207.5 383.6 205.1 382.9 204.6 382.3 205.1 382.1ZM259.7 381.9 262.1 381.1 264.4 380.4 266.8 380.5 269.2 381.2 271.6 382.0 271.7 382.3 271.6 383.0 269.2 384.5 266.8 385.8 264.4 386.0 262.1 384.7 259.7 383.2 259.5 382.3 259.7 381.9ZM281.1 382.3 283.4 382.0 285.8 381.5 288.2 380.9 290.5 380.8 292.9 381.2 295.3 381.6 297.7 382.2 297.8 382.3 297.7 382.7 295.3 383.9 292.9 385.0 290.5 386.1 288.2 386.0 285.8 384.9 283.4 383.8 281.1 382.5 281.0 382.3 281.1 382.3ZM314.3 382.0 316.7 381.1 319.0 381.8 320.5 382.3 319.0 384.4 316.7 386.0 314.3 383.2 314.0 382.3 314.3 382.0ZM352.3 381.9 354.6 381.0 357.0 380.1 359.4 379.3 361.8 378.8 364.1 379.6 366.5 380.4 368.9 381.3 371.3 382.2 371.4 382.3 371.3 382.6 368.9 384.4 366.5 386.0 364.1 387.4 361.8 388.6 359.4 387.7 357.0 386.3 354.6 384.8 352.3 383.2 351.7 382.3 352.3 381.9ZM397.4 381.3 399.7 379.6 402.1 380.7 404.4 382.3 402.1 385.7 399.7 387.8 397.4 384.5 396.3 382.3 397.4 381.3Z"/>
<path fill="#b82000" fill-rule="evenodd" d="M596.8 376.9 599.2 372.5 601.5 368.9 603.9 366.0 606.3 363.5 608.7 363.3 611.0 363.1 613.4 362.9 615.8 362.9 618.2 363.2 620.5 363.6 622.9 364.4 625.3 365.3 627.6 366.9 630.0 368.8 632.4 371.0 634.8 373.7 637.1 376.8 639.5 380.6 639.8 382.3 639.5 383.9 637.1 387.3 634.8 390.4 632.4 393.2 630.0 395.8 627.6 398.2 625.3 400.4 622.9 402.0 620.5 403.5 618.2 404.4 615.8 402.7 613.4 400.9 611.0 398.8 608.7 396.7 606.3 394.5 603.9 392.2 601.5 389.9 599.2 387.6 596.8 385.2 594.4 382.3 596.8 376.9Z"/>
<path fill="#8a0000" fill-rule="evenodd" d="M615.8 382.0 618.2 381.2 620.5 380.8 622.9 381.7 624.4 382.3 622.9 383.1 620.5 384.0 618.2 383.7 615.8 382.7 615.3 382.3 615.8 382.0Z"/>
<rect x="131.6" y="382.3" width="62.2" height="28.5" fill="#000"/>
<rect x="169.9" y="353.8" width="14.3" height="57.0" fill="#000"/>
<rect x="299.0" y="382.3" width="14.3" height="28.5" fill="#000"/>
<rect x="322.9" y="382.3" width="28.7" height="28.5" fill="#000"/>
<rect x="643.2" y="382.3" width="57.4" height="28.5" fill="#000"/>
</g>
<rect x="112.5" y="144.7" width="683.7" height="266.2" fill="none" stroke="#000" stroke-width="2.2"/>
<g stroke="#000"><line x1="112.5" y1="144.7" x2="112.5" y2="128.1" stroke-width="2.2"/><line x1="112.5" y1="410.9" x2="112.5" y2="427.5" stroke-width="2.2"/><line x1="169.9" y1="144.7" x2="169.9" y2="136.5" stroke-width="1.4"/><line x1="169.9" y1="410.9" x2="169.9" y2="419.1" stroke-width="1.4"/><line x1="227.2" y1="144.7" x2="227.2" y2="128.1" stroke-width="2.2"/><line x1="227.2" y1="410.9" x2="227.2" y2="427.5" stroke-width="2.2"/><line x1="284.6" y1="144.7" x2="284.6" y2="136.5" stroke-width="1.4"/><line x1="284.6" y1="410.9" x2="284.6" y2="419.1" stroke-width="1.4"/><line x1="342.0" y1="144.7" x2="342.0" y2="128.1" stroke-width="2.2"/><line x1="342.0" y1="410.9" x2="342.0" y2="427.5" stroke-width="2.2"/><line x1="399.4" y1="144.7" x2="399.4" y2="136.5" stroke-width="1.4"/><line x1="399.4" y1="410.9" x2="399.4" y2="419.1" stroke-width="1.4"/><line x1="456.7" y1="144.7" x2="456.7" y2="128.1" stroke-width="2.2"/><line x1="456.7" y1="410.9" x2="456.7" y2="427.5" stroke-width="2.2"/><line x1="514.1" y1="144.7" x2="514.1" y2="136.5" stroke-width="1.4"/><line x1="514.1" y1="410.9" x2="514.1" y2="419.1" stroke-width="1.4"/><line x1="571.5" y1="144.7" x2="571.5" y2="128.1" stroke-width="2.2"/><line x1="571.5" y1="410.9" x2="571.5" y2="427.5" stroke-width="2.2"/><line x1="628.9" y1="144.7" x2="628.9" y2="136.5" stroke-width="1.4"/><line x1="628.9" y1="410.9" x2="628.9" y2="419.1" stroke-width="1.4"/><line x1="686.2" y1="144.7" x2="686.2" y2="128.1" stroke-width="2.2"/><line x1="686.2" y1="410.9" x2="686.2" y2="427.5" stroke-width="2.2"/><line x1="743.6" y1="144.7" x2="743.6" y2="136.5" stroke-width="1.4"/><line x1="743.6" y1="410.9" x2="743.6" y2="419.1" stroke-width="1.4"/><line x1="112.5" y1="144.7" x2="95.7" y2="144.7" stroke-width="2.2"/><line x1="112.5" y1="182.7" x2="95.7" y2="182.7" stroke-width="2.2"/><line x1="112.5" y1="220.7" x2="95.7" y2="220.7" stroke-width="2.2"/><line x1="112.5" y1="296.8" x2="95.7" y2="296.8" stroke-width="2.2"/><line x1="112.5" y1="353.8" x2="95.7" y2="353.8" stroke-width="2.2"/><line x1="112.5" y1="410.9" x2="95.7" y2="410.9" stroke-width="2.2"/><line x1="796.2" y1="166.6" x2="812.7" y2="166.6" stroke-width="2.2"/><line x1="796.2" y1="264.7" x2="812.7" y2="264.7" stroke-width="2.2"/></g>
<text x="84.3" y="150.7" text-anchor="end" font-size="16.7">300</text><text x="84.3" y="188.7" text-anchor="end" font-size="16.7">400</text><text x="84.3" y="226.7" text-anchor="end" font-size="16.7">500</text><text x="84.3" y="302.8" text-anchor="end" font-size="16.7">700</text><text x="84.3" y="359.8" text-anchor="end" font-size="16.7">850</text><text x="84.3" y="416.9" text-anchor="end" font-size="16.7">1000</text><text x="823.3" y="172.6" font-size="16.7">8</text><text x="823.3" y="270.7" font-size="16.7">4</text><text x="112.5" y="451.8" text-anchor="middle" font-size="16.9">0</text><text x="227.2" y="451.8" text-anchor="middle" font-size="16.9">60E</text><text x="342.0" y="451.8" text-anchor="middle" font-size="16.9">120E</text><text x="456.7" y="451.8" text-anchor="middle" font-size="16.9">180</text><text x="571.5" y="451.8" text-anchor="middle" font-size="16.9">120W</text><text x="686.2" y="451.8" text-anchor="middle" font-size="16.9">60W</text><text x="454.3" y="468.5" text-anchor="middle" font-size="15.6" xml:space="preserve">MIN =  14.00  MAX =  95.56</text><text x="110.6" y="122.5" font-size="21">Relative humidity</text><text x="797.1" y="122.5" text-anchor="end" font-size="21.2">percent</text><text x="454.3" y="84.5" text-anchor="middle" font-size="26.3">NBF1850OC_f19_tn11_01 (yrs 16-20)</text><text transform="translate(25.3 278.2) rotate(-90) scale(0.94 1)" text-anchor="middle" font-size="28.3">Pressure (mb)</text><text transform="translate(874.6 277.9) rotate(-90) scale(0.95 1)" text-anchor="middle" font-size="28.3">Height (km)</text>
<rect x="116.10" y="485.2" width="42.26" height="11.3" fill="#00008f"/><rect x="158.36" y="485.2" width="42.26" height="11.3" fill="#0022c0"/><rect x="200.61" y="485.2" width="42.26" height="11.3" fill="#0033e0"/><rect x="242.87" y="485.2" width="42.26" height="11.3" fill="#1a4cff"/><rect x="285.12" y="485.2" width="42.26" height="11.3" fill="#4477ff"/><rect x="327.38" y="485.2" width="42.26" height="11.3" fill="#80a5ff"/><rect x="369.64" y="485.2" width="42.26" height="11.3" fill="#b0c8ff"/><rect x="411.89" y="485.2" width="42.26" height="11.3" fill="#dceaff"/><rect x="454.15" y="485.2" width="42.26" height="11.3" fill="#ffebdc"/><rect x="496.41" y="485.2" width="42.26" height="11.3" fill="#ffc8b0"/><rect x="538.66" y="485.2" width="42.26" height="11.3" fill="#ffa07a"/><rect x="580.92" y="485.2" width="42.26" height="11.3" fill="#ff7442"/><rect x="623.18" y="485.2" width="42.26" height="11.3" fill="#ff4a14"/><rect x="665.43" y="485.2" width="42.26" height="11.3" fill="#e03000"/><rect x="707.69" y="485.2" width="42.26" height="11.3" fill="#b82000"/><rect x="749.94" y="485.2" width="42.26" height="11.3" fill="#8a0000"/><g stroke="#000" stroke-width="1.4" fill="none"><rect x="116.1" y="485.2" width="676.1" height="11.3"/><line x1="158.36" y1="485.2" x2="158.36" y2="496.5"/><line x1="200.61" y1="485.2" x2="200.61" y2="496.5"/><line x1="242.87" y1="485.2" x2="242.87" y2="496.5"/><line x1="285.12" y1="485.2" x2="285.12" y2="496.5"/><line x1="327.38" y1="485.2" x2="327.38" y2="496.5"/><line x1="369.64" y1="485.2" x2="369.64" y2="496.5"/><line x1="411.89" y1="485.2" x2="411.89" y2="496.5"/><line x1="454.15" y1="485.2" x2="454.15" y2="496.5"/><line x1="496.41" y1="485.2" x2="496.41" y2="496.5"/><line x1="538.66" y1="485.2" x2="538.66" y2="496.5"/><line x1="580.92" y1="485.2" x2="580.92" y2="496.5"/><line x1="623.18" y1="485.2" x2="623.18" y2="496.5"/><line x1="665.43" y1="485.2" x2="665.43" y2="496.5"/><line x1="707.69" y1="485.2" x2="707.69" y2="496.5"/><line x1="749.94" y1="485.2" x2="749.94" y2="496.5"/></g><text x="158.36" y="514.0" text-anchor="middle" font-size="15.5">5</text><text x="242.87" y="514.0" text-anchor="middle" font-size="15.5">15</text><text x="327.38" y="514.0" text-anchor="middle" font-size="15.5">25</text><text x="411.89" y="514.0" text-anchor="middle" font-size="15.5">40</text><text x="496.41" y="514.0" text-anchor="middle" font-size="15.5">60</text><text x="580.92" y="514.0" text-anchor="middle" font-size="15.5">75</text><text x="665.43" y="514.0" text-anchor="middle" font-size="15.5">85</text><text x="749.94" y="514.0" text-anchor="middle" font-size="15.5">95</text>
<clipPath id="c1"><rect x="112.5" y="630.7" width="683.7" height="266.2"/></clipPath>
<g clip-path="url(#c1)">
<path fill="#1a4cff" fill-rule="evenodd" d="M112.5 630.7H796.2V896.9H112.5Z"/>
<path fill="#4477ff" fill-rule="evenodd" d="M114.9 630.7 117.2 630.7 119.6 630.7 122.0 630.7 124.4 630.7 126.7 630.7 129.1 630.7 131.5 630.7 133.9 630.7 136.2 630.7 138.6 630.7 141.0 630.7 143.4 630.7 145.7 630.7 148.1 630.7 150.5 630.7 152.9 630.7 155.2 630.7 157.6 630.7 160.0 630.7 162.4 630.7 164.7 630.7 167.1 630.7 169.5 630.7 171.8 630.7 174.2 630.7 176.6 630.7 179.0 630.7 181.3 630.7 183.7 630.7 186.1 630.7 188.5 630.7 190.8 630.7 193.2 630.7 195.6 630.7 198.0 630.7 200.3 630.7 202.7 630.7 205.1 630.7 207.5 630.7 209.8 630.7 212.2 630.7 214.6 630.7 217.0 630.7 219.3 630.7 221.7 630.7 224.1 630.7 226.4 630.7 228.8 630.7 231.2 630.7 233.6 630.7 235.9 630.7 238.3 630.7 240.7 630.7 243.1 630.7 245.4 630.7 247.8 630.7 250.2 630.7 252.6 630.7 254.9 630.7 257.3 630.7 259.7 630.7 262.1 630.7 264.4 630.7 266.8 630.7 269.2 630.7 271.6 630.7 273.9 630.7 276.3 630.7 278.7 630.7 281.1 630.7 283.4 630.7 285.8 630.7 288.2 630.7 290.5 630.7 292.9 630.7 295.3 630.7 297.7 630.7 300.0 630.7 302.4 630.7 304.8 630.7 307.2 630.7 309.5 630.7 311.9 630.7 314.3 630.7 316.7 630.7 319.0 630.7 321.4 630.7 323.8 630.7 326.2 630.7 328.5 630.7 330.9 630.7 333.3 630.7 335.7 630.7 338.0 630.7 340.4 630.7 342.8 630.7 345.1 630.7 347.5 630.7 349.9 630.7 352.3 630.7 354.6 630.7 357.0 630.7 359.4 630.7 361.8 630.7 364.1 630.7 366.5 630.7 368.9 630.7 371.3 630.7 373.6 630.7 376.0 630.7 378.4 630.7 380.8 630.7 383.1 630.7 385.5 630.7 387.9 630.7 390.3 630.7 392.6 630.7 395.0 630.7 397.4 630.7 399.7 630.7 402.1 630.7 404.5 630.7 406.9 630.7 409.2 630.7 411.6 630.7 414.0 630.7 416.4 630.7 418.7 630.7 421.1 630.7 423.5 630.7 425.9 630.7 428.2 630.7 430.6 630.7 433.0 630.7 435.4 630.7 437.7 630.7 440.1 630.7 442.5 630.7 444.9 630.7 447.2 630.7 449.6 630.7 452.0 630.7 454.4 630.7 456.7 630.7 459.1 630.7 461.5 630.7 463.8 630.7 466.2 630.7 468.6 630.7 471.0 630.7 473.3 630.7 475.7 630.7 478.1 630.7 480.5 630.7 482.8 630.7 485.2 630.7 487.6 630.7 490.0 630.7 492.3 630.7 494.7 630.7 497.1 630.7 499.5 630.7 501.8 630.7 504.2 630.7 506.6 630.7 509.0 630.7 511.3 630.7 513.7 630.7 516.1 630.7 518.4 630.7 520.8 630.7 523.2 630.7 525.6 630.7 527.9 630.7 530.3 630.7 532.7 630.7 535.1 630.7 537.4 630.7 539.8 630.7 542.2 630.7 544.6 630.7 546.9 630.7 549.3 630.7 551.7 630.7 554.1 630.7 556.4 630.7 558.8 630.7 561.2 630.7 563.6 630.7 565.9 630.7 568.3 630.7 570.7 630.7 573.0 630.7 575.4 630.7 577.8 630.7 580.2 630.7 582.5 630.7 584.9 630.7 587.3 630.7 589.7 630.7 592.0 630.7 594.4 630.7 596.8 630.7 599.2 630.7 601.5 630.7 603.9 630.7 606.3 630.7 608.7 630.7 611.0 630.7 613.4 630.7 615.8 630.7 618.2 630.7 620.5 630.7 622.9 630.7 625.3 630.7 627.6 630.7 630.0 630.7 632.4 630.7 634.8 630.7 637.1 630.7 639.5 630.7 641.9 630.7 644.3 630.7 646.6 630.7 649.0 630.7 651.4 630.7 653.8 630.7 656.1 630.7 658.5 630.7 660.9 630.7 663.3 630.7 665.6 630.7 668.0 630.7 670.4 630.7 672.8 630.7 675.1 630.7 677.5 630.7 679.9 630.7 682.2 630.7 684.6 630.7 687.0 630.7 689.4 630.7 691.7 630.7 694.1 630.7 696.5 630.7 698.9 630.7 701.2 630.7 703.6 630.7 706.0 630.7 708.4 630.7 710.7 630.7 713.1 630.7 715.5 630.7 717.9 630.7 720.2 630.7 722.6 630.7 725.0 630.7 727.4 630.7 729.7 630.7 732.1 630.7 734.5 630.7 736.9 630.7 739.2 630.7 741.6 630.7 744.0 630.7 746.3 630.7 748.7 630.7 751.1 630.7 753.5 630.7 755.8 630.7 758.2 630.7 760.6 630.7 763.0 630.7 765.3 630.7 767.7 630.7 770.1 630.7 772.5 630.7 774.8 630.7 777.2 630.7 779.6 630.7 782.0 630.7 784.3 630.7 786.7 630.7 789.1 630.7 791.5 630.7 793.8 630.7 796.2 630.7 796.2 668.7 796.2 706.7 796.2 744.7 796.2 782.8 796.2 839.8 796.2 868.3 796.2 896.9 793.8 896.9 791.5 896.9 789.1 896.9 786.7 896.9 784.3 896.9 782.0 896.9 779.6 896.9 777.2 896.9 774.8 896.9 772.5 896.9 770.1 896.9 767.7 896.9 765.3 896.9 763.0 896.9 760.6 896.9 758.2 896.9 755.8 896.9 753.5 896.9 751.1 896.9 748.7 896.9 746.3 896.9 744.0 896.9 741.6 896.9 739.2 896.9 736.9 896.9 734.5 896.9 732.1 896.9 729.7 896.9 727.4 896.9 725.0 896.9 722.6 896.9 720.2 896.9 717.9 896.9 715.5 896.9 713.1 896.9 710.7 896.9 708.4 896.9 706.0 896.9 703.6 896.9 701.2 896.9 698.9 896.9 696.5 896.9 694.1 896.9 691.7 896.9 689.4 896.9 687.0 896.9 684.6 896.9 682.2 896.9 679.9 896.9 677.5 896.9 675.1 896.9 672.8 896.9 670.4 896.9 668.0 896.9 665.6 896.9 663.3 896.9 660.9 896.9 658.5 896.9 656.1 896.9 653.8 896.9 651.4 896.9 649.0 896.9 646.6 896.9 644.3 896.9 641.9 896.9 639.5 896.9 637.1 896.9 634.8 896.9 632.4 896.9 630.0 896.9 627.6 896.9 625.3 896.9 622.9 896.9 620.5 896.9 618.2 896.9 615.8 896.9 613.4 896.9 611.0 896.9 608.7 896.9 606.3 896.9 603.9 896.9 601.5 896.9 599.2 896.9 596.8 896.9 594.4 896.9 592.0 896.9 589.7 896.9 587.3 896.9 584.9 896.9 582.5 896.9 580.2 896.9 577.8 896.9 575.4 896.9 573.0 896.9 570.7 896.9 568.3 896.9 565.9 896.9 563.6 896.9 561.2 896.9 558.8 896.9 556.4 896.9 554.1 896.9 551.7 896.9 549.3 896.9 546.9 896.9 544.6 896.9 542.2 896.9 539.8 896.9 537.4 896.9 535.1 896.9 532.7 896.9 530.3 896.9 527.9 896.9 525.6 896.9 523.2 896.9 520.8 896.9 518.4 896.9 516.1 896.9 513.7 896.9 511.3 896.9 509.0 896.9 506.6 896.9 504.2 896.9 501.8 896.9 499.5 896.9 497.1 896.9 494.7 896.9 492.3 896.9 490.0 896.9 487.6 896.9 485.2 896.9 482.8 896.9 480.5 896.9 478.1 896.9 475.7 896.9 473.3 896.9 471.0 896.9 468.6 896.9 466.2 896.9 463.8 896.9 461.5 896.9 459.1 896.9 456.7 896.9 454.4 896.9 452.0 896.9 449.6 896.9 447.2 896.9 444.9 896.9 442.5 896.9 440.1 896.9 437.7 896.9 435.4 896.9 433.0 896.9 430.6 896.9 428.2 896.9 425.9 896.9 423.5 896.9 421.1 896.9 418.7 896.9 416.4 896.9 414.0 896.9 411.6 896.9 409.2 896.9 406.9 896.9 404.5 896.9 402.1 896.9 399.7 896.9 397.4 896.9 395.0 896.9 392.6 896.9 390.3 896.9 387.9 896.9 385.5 896.9 383.1 896.9 380.8 896.9 378.4 896.9 376.0 896.9 373.6 896.9 371.3 896.9 368.9 896.9 366.5 896.9 364.1 896.9 361.8 896.9 359.4 896.9 357.0 896.9 354.6 896.9 352.3 896.9 349.9 896.9 347.5 896.9 345.1 896.9 342.8 896.9 340.4 896.9 338.0 896.9 335.7 896.9 333.3 896.9 330.9 896.9 328.5 896.9 326.2 896.9 323.8 896.9 321.4 896.9 319.0 896.9 316.7 896.9 314.3 896.9 311.9 896.9 309.5 896.9 307.2 896.9 304.8 896.9 302.4 896.9 300.0 896.9 297.7 896.9 295.3 896.9 292.9 896.9 290.5 896.9 288.2 896.9 285.8 896.9 283.4 896.9 281.1 896.9 278.7 896.9 276.3 896.9 273.9 896.9 271.6 896.9 269.2 896.9 266.8 896.9 264.4 896.9 262.1 896.9 259.7 896.9 257.3 896.9 254.9 896.9 252.6 896.9 250.2 896.9 247.8 896.9 245.4 896.9 243.1 896.9 240.7 896.9 238.3 896.9 235.9 896.9 233.6 896.9 231.2 896.9 228.8 896.9 226.4 896.9 224.1 896.9 221.7 896.9 219.3 896.9 217.0 896.9 214.6 896.9 212.2 896.9 209.8 896.9 207.5 896.9 205.1 896.9 202.7 896.9 200.3 896.9 198.0 896.9 195.6 896.9 193.2 896.9 190.8 896.9 188.5 896.9 186.1 896.9 183.7 896.9 181.3 896.9 179.0 896.9 176.6 896.9 174.2 896.9 171.8 896.9 169.5 896.9 167.1 896.9 164.7 896.9 162.4 896.9 160.0 896.9 157.6 896.9 155.2 896.9 152.9 896.9 150.5 896.9 148.1 896.9 145.7 896.9 143.4 896.9 141.0 896.9 138.6 896.9 136.2 896.9 133.9 896.9 131.5 896.9 129.1 896.9 126.7 896.9 124.4 896.9 122.0 896.9 119.6 896.9 117.2 896.9 114.9 896.9 112.5 896.9 112.5 868.3 112.5 839.8 112.5 782.8 112.5 744.7 112.5 706.7 112.5 668.7 112.5 630.7 114.9 630.7ZM544.6 668.7 544.6 668.7 546.9 669.7 549.3 670.8 551.7 671.9 554.1 673.2 556.4 674.5 558.8 676.1 561.2 678.0 563.6 680.2 565.9 682.8 568.3 685.8 570.7 687.4 573.0 689.0 575.4 690.5 577.8 692.0 580.2 693.5 582.5 695.0 584.9 695.8 587.3 696.4 589.7 697.1 592.0 698.0 594.4 699.1 596.8 700.6 599.2 701.3 601.5 697.3 603.9 693.5 606.3 689.8 608.7 686.3 611.0 682.9 613.4 677.9 615.8 673.9 618.2 671.3 620.5 669.5 620.7 668.7 620.5 668.3 618.2 667.6 615.8 666.9 613.4 666.3 611.0 665.6 608.7 665.0 606.3 664.3 603.9 663.7 601.5 663.0 599.2 662.4 596.8 661.8 594.4 661.2 592.0 660.6 589.7 660.1 587.3 659.7 584.9 659.4 582.5 659.3 580.2 659.8 577.8 660.4 575.4 660.9 573.0 661.5 570.7 662.1 568.3 662.6 565.9 663.2 563.6 663.8 561.2 664.5 558.8 665.1 556.4 665.7 554.1 666.4 551.7 667.0 549.3 667.5 546.9 668.1 544.6 668.7ZM760.2 668.7 760.6 669.2 763.0 670.3 765.3 671.5 767.7 672.8 770.1 674.1 772.5 674.2 774.8 672.8 777.2 671.5 779.6 670.3 782.0 669.1 782.3 668.7 782.0 668.4 779.6 667.5 777.2 666.8 774.8 666.0 772.5 665.3 770.1 665.3 767.7 666.0 765.3 666.8 763.0 667.6 760.6 668.4 760.2 668.7Z"/>
<path fill="#80a5ff" fill-rule="evenodd" d="M114.9 630.7 117.2 630.7 119.6 630.7 122.0 630.7 124.4 630.7 126.7 630.7 129.1 630.7 131.5 630.7 133.9 630.7 136.2 630.7 138.6 630.7 141.0 630.7 143.4 630.7 145.7 630.7 148.1 630.7 150.5 630.7 152.9 630.7 155.2 630.7 157.6 630.7 160.0 630.7 162.4 630.7 164.7 630.7 167.1 630.7 169.5 630.7 171.8 630.7 174.2 630.7 176.6 630.7 179.0 630.7 181.3 630.7 183.7 630.7 186.1 630.7 188.5 630.7 190.8 630.7 193.2 630.7 195.6 630.7 198.0 630.7 200.3 630.7 202.7 630.7 205.1 630.7 207.5 630.7 209.8 630.7 212.2 630.7 214.6 630.7 217.0 630.7 219.3 630.7 221.7 630.7 224.1 630.7 226.4 630.7 228.8 630.7 231.2 630.7 233.6 630.7 235.9 630.7 238.3 630.7 240.7 630.7 243.1 630.7 245.4 630.7 247.8 630.7 250.2 630.7 252.6 630.7 254.9 630.7 257.3 630.7 259.7 630.7 262.1 630.7 264.4 630.7 266.8 630.7 269.2 630.7 271.6 630.7 273.9 630.7 276.3 630.7 278.7 630.7 281.1 630.7 283.4 630.7 285.8 630.7 288.2 630.7 290.5 630.7 292.9 630.7 295.3 630.7 297.7 630.7 300.0 630.7 302.4 630.7 304.8 630.7 307.2 630.7 309.5 630.7 311.9 630.7 314.3 630.7 316.7 630.7 319.0 630.7 321.4 630.7 323.8 630.7 326.2 630.7 328.5 630.7 330.9 630.7 333.3 630.7 335.7 630.7 338.0 630.7 340.4 630.7 342.8 630.7 345.1 630.7 347.5 630.7 349.9 630.7 352.3 630.7 354.6 630.7 357.0 630.7 359.4 630.7 361.8 630.7 364.1 630.7 366.5 630.7 368.9 630.7 371.3 630.7 373.6 630.7 376.0 630.7 378.4 630.7 380.8 630.7 383.1 630.7 385.5 630.7 387.9 630.7 390.3 630.7 392.6 630.7 395.0 630.7 397.4 630.7 399.7 630.7 402.1 630.7 404.5 630.7 406.9 630.7 409.2 630.7 411.6 630.7 414.0 630.7 416.4 630.7 418.7 630.7 421.1 630.7 423.5 630.7 425.9 630.7 428.2 630.7 430.6 630.7 433.0 630.7 435.4 630.7 437.7 630.7 440.1 630.7 442.5 630.7 444.9 630.7 447.2 630.7 449.6 630.7 452.0 630.7 454.4 630.7 456.7 630.7 459.1 630.7 461.5 630.7 463.8 630.7 466.2 630.7 468.6 630.7 471.0 630.7 473.3 630.7 475.7 630.7 478.1 630.7 480.5 630.7 482.8 630.7 485.2 630.7 487.6 630.7 490.0 630.7 492.3 630.7 494.7 630.7 497.1 630.7 499.5 630.7 501.8 630.7 504.2 630.7 506.6 630.7 509.0 630.7 511.3 630.7 513.7 630.7 516.1 630.7 518.4 630.7 520.8 630.7 523.2 630.7 525.6 630.7 527.9 630.7 530.3 630.7 532.7 630.7 535.1 630.7 537.4 630.7 539.8 630.7 542.2 630.7 544.6 630.7 546.9 630.7 549.3 630.7 551.7 630.7 554.1 630.7 556.4 630.7 558.8 630.7 561.2 630.7 563.6 630.7 565.9 630.7 568.3 630.7 570.7 630.7 573.0 630.7 575.4 630.7 577.8 630.7 580.2 630.7 582.5 630.7 584.9 630.7 587.3 630.7 589.7 630.7 592.0 630.7 594.4 630.7 596.8 630.7 599.2 630.7 601.5 630.7 603.9 630.7 606.3 630.7 608.7 630.7 611.0 630.7 613.4 630.7 615.8 630.7 618.2 630.7 620.5 630.7 622.9 630.7 625.3 630.7 627.6 630.7 630.0 630.7 632.4 630.7 634.8 630.7 637.1 630.7 639.5 630.7 641.9 630.7 644.3 630.7 646.6 630.7 649.0 630.7 651.4 630.7 653.8 630.7 656.1 630.7 658.5 630.7 660.9 630.7 663.3 630.7 665.6 630.7 668.0 630.7 670.4 630.7 672.8 630.7 675.1 630.7 677.5 630.7 679.9 630.7 682.2 630.7 684.6 630.7 687.0 630.7 689.4 630.7 691.7 630.7 694.1 630.7 696.5 630.7 698.9 630.7 701.2 630.7 703.6 630.7 706.0 630.7 708.4 630.7 710.7 630.7 713.1 630.7 715.5 630.7 717.9 630.7 720.2 630.7 722.6 630.7 725.0 630.7 727.4 630.7 729.7 630.7 732.1 630.7 734.5 630.7 736.9 630.7 739.2 630.7 741.6 630.7 744.0 630.7 746.3 630.7 748.7 630.7 751.1 630.7 753.5 630.7 755.8 630.7 758.2 630.7 760.6 630.7 763.0 630.7 765.3 630.7 767.7 630.7 770.1 630.7 772.5 630.7 774.8 630.7 777.2 630.7 779.6 630.7 782.0 630.7 784.3 630.7 786.7 630.7 789.1 630.7 791.5 630.7 793.8 630.7 796.2 630.7 796.2 668.7 796.2 706.7 796.2 744.7 796.2 782.8 796.2 839.8 796.2 868.3 796.2 896.9 793.8 896.9 791.5 896.9 789.1 896.9 786.7 896.9 784.3 896.9 782.0 896.9 779.6 896.9 777.2 896.9 774.8 896.9 772.5 896.9 770.1 896.9 767.7 896.9 765.3 896.9 763.0 896.9 760.6 896.9 758.2 896.9 755.8 896.9 753.5 896.9 751.1 896.9 748.7 896.9 746.3 896.9 744.0 896.9 741.6 896.9 739.2 896.9 736.9 896.9 734.5 896.9 732.1 896.9 729.7 896.9 727.4 896.9 725.0 896.9 722.6 896.9 720.2 896.9 717.9 896.9 715.5 896.9 713.1 896.9 710.7 896.9 708.4 896.9 706.0 896.9 703.6 896.9 701.2 896.9 698.9 896.9 696.5 896.9 694.1 896.9 691.7 896.9 689.4 896.9 687.0 896.9 684.6 896.9 682.2 896.9 679.9 896.9 677.5 896.9 675.1 896.9 672.8 896.9 670.4 896.9 668.0 896.9 665.6 896.9 663.3 896.9 660.9 896.9 658.5 896.9 656.1 896.9 653.8 896.9 651.4 896.9 649.0 896.9 646.6 896.9 644.3 896.9 641.9 896.9 639.5 896.9 637.1 896.9 634.8 896.9 632.4 896.9 630.0 896.9 627.6 896.9 625.3 896.9 622.9 896.9 620.5 896.9 618.2 896.9 615.8 896.9 613.4 896.9 611.0 896.9 608.7 896.9 606.3 896.9 603.9 896.9 601.5 896.9 599.2 896.9 596.8 896.9 594.4 896.9 592.0 896.9 589.7 896.9 587.3 896.9 584.9 896.9 582.5 896.9 580.2 896.9 577.8 896.9 575.4 896.9 573.0 896.9 570.7 896.9 568.3 896.9 565.9 896.9 563.6 896.9 561.2 896.9 558.8 896.9 556.4 896.9 554.1 896.9 551.7 896.9 549.3 896.9 546.9 896.9 544.6 896.9 542.2 896.9 539.8 896.9 537.4 896.9 535.1 896.9 532.7 896.9 530.3 896.9 527.9 896.9 525.6 896.9 523.2 896.9 520.8 896.9 518.4 896.9 516.1 896.9 513.7 896.9 511.3 896.9 509.0 896.9 506.6 896.9 504.2 896.9 501.8 896.9 499.5 896.9 497.1 896.9 494.7 896.9 492.3 896.9 490.0 896.9 487.6 896.9 485.2 896.9 482.8 896.9 480.5 896.9 478.1 896.9 475.7 896.9 473.3 896.9 471.0 896.9 468.6 896.9 466.2 896.9 463.8 896.9 461.5 896.9 459.1 896.9 456.7 896.9 454.4 896.9 452.0 896.9 449.6 896.9 447.2 896.9 444.9 896.9 442.5 896.9 440.1 896.9 437.7 896.9 435.4 896.9 433.0 896.9 430.6 896.9 428.2 896.9 425.9 896.9 423.5 896.9 421.1 896.9 418.7 896.9 416.4 896.9 414.0 896.9 411.6 896.9 409.2 896.9 406.9 896.9 404.5 896.9 402.1 896.9 399.7 896.9 397.4 896.9 395.0 896.9 392.6 896.9 390.3 896.9 387.9 896.9 385.5 896.9 383.1 896.9 380.8 896.9 378.4 896.9 376.0 896.9 373.6 896.9 371.3 896.9 368.9 896.9 366.5 896.9 364.1 896.9 361.8 896.9 359.4 896.9 357.0 896.9 354.6 896.9 352.3 896.9 349.9 896.9 347.5 896.9 345.1 896.9 342.8 896.9 340.4 896.9 338.0 896.9 335.7 896.9 333.3 896.9 330.9 896.9 328.5 896.9 326.2 896.9 323.8 896.9 321.4 896.9 319.0 896.9 316.7 896.9 314.3 896.9 311.9 896.9 309.5 896.9 307.2 896.9 304.8 896.9 302.4 896.9 300.0 896.9 297.7 896.9 295.3 896.9 292.9 896.9 290.5 896.9 288.2 896.9 285.8 896.9 283.4 896.9 281.1 896.9 278.7 896.9 276.3 896.9 273.9 896.9 271.6 896.9 269.2 896.9 266.8 896.9 264.4 896.9 262.1 896.9 259.7 896.9 257.3 896.9 254.9 896.9 252.6 896.9 250.2 896.9 247.8 896.9 245.4 896.9 243.1 896.9 240.7 896.9 238.3 896.9 235.9 896.9 233.6 896.9 231.2 896.9 228.8 896.9 226.4 896.9 224.1 896.9 221.7 896.9 219.3 896.9 217.0 896.9 214.6 896.9 212.2 896.9 209.8 896.9 207.5 896.9 205.1 896.9 202.7 896.9 200.3 896.9 198.0 896.9 195.6 896.9 193.2 896.9 190.8 896.9 188.5 896.9 186.1 896.9 183.7 896.9 181.3 896.9 179.0 896.9 176.6 896.9 174.2 896.9 171.8 896.9 169.5 896.9 167.1 896.9 164.7 896.9 162.4 896.9 160.0 896.9 157.6 896.9 155.2 896.9 152.9 896.9 150.5 896.9 148.1 896.9 145.7 896.9 143.4 896.9 141.0 896.9 138.6 896.9 136.2 896.9 133.9 896.9 131.5 896.9 129.1 896.9 126.7 896.9 124.4 896.9 122.0 896.9 119.6 896.9 117.2 896.9 114.9 896.9 112.5 896.9 112.5 868.3 112.5 839.8 112.5 782.8 112.5 744.7 112.5 706.7 112.5 668.7 112.5 630.7 114.9 630.7ZM522.2 668.7 523.2 670.1 525.6 673.3 527.9 676.2 530.3 678.8 532.7 681.6 535.1 684.4 537.4 687.0 539.8 689.6 542.2 692.2 544.6 694.7 546.9 696.6 549.3 698.7 551.7 701.0 554.1 703.5 556.4 706.2 556.8 706.7 558.8 713.6 561.2 720.6 563.6 726.4 565.9 731.2 568.3 735.3 570.7 738.2 573.0 737.8 575.4 735.8 577.8 734.3 580.2 733.0 582.5 731.9 584.9 731.0 587.3 730.2 589.7 729.6 592.0 729.0 594.4 728.4 596.8 728.0 599.2 727.4 601.5 726.3 603.9 725.1 606.3 724.0 608.7 722.6 611.0 721.0 613.4 718.3 615.8 714.9 618.2 711.2 620.5 707.4 620.8 706.7 622.9 696.8 625.3 678.9 626.9 668.7 625.3 663.3 622.9 654.0 620.5 650.3 618.2 649.1 615.8 648.5 613.4 647.9 611.0 647.4 608.7 646.8 606.3 646.3 603.9 645.7 601.5 645.2 599.2 644.6 596.8 644.1 594.4 643.6 592.0 643.1 589.7 643.0 587.3 643.1 584.9 643.2 582.5 643.4 580.2 643.8 577.8 644.3 575.4 644.8 573.0 645.3 570.7 645.8 568.3 646.3 565.9 646.8 563.6 647.3 561.2 648.1 558.8 649.0 556.4 649.7 554.1 650.5 551.7 651.3 549.3 652.0 546.9 652.8 544.6 653.5 542.2 654.8 539.8 656.3 537.4 657.7 535.1 659.2 532.7 660.8 530.3 662.5 527.9 664.2 525.6 666.0 523.2 667.9 522.2 668.7ZM746.3 668.7 746.3 668.9 748.7 673.4 751.1 677.6 753.5 681.6 755.8 685.2 758.2 688.3 760.6 690.6 763.0 692.3 765.3 694.1 767.7 696.0 770.1 698.0 772.5 698.6 774.8 696.6 777.2 694.6 779.6 692.8 782.0 691.0 784.3 688.4 786.7 684.7 789.1 680.3 791.5 673.9 793.8 669.2 793.9 668.7 793.8 668.0 791.5 662.8 789.1 658.9 786.7 655.9 784.3 653.4 782.0 652.0 779.6 651.5 777.2 651.1 774.8 650.7 772.5 650.3 770.1 650.2 767.7 650.9 765.3 651.8 763.0 652.6 760.6 653.4 758.2 654.9 755.8 657.1 753.5 659.5 751.1 662.2 748.7 665.2 746.3 668.5 746.3 668.7Z"/>
<path fill="#b0c8ff" fill-rule="evenodd" d="M114.9 630.7 117.2 630.7 119.6 630.7 122.0 630.7 124.4 630.7 126.7 630.7 129.1 630.7 131.5 630.7 133.9 630.7 136.2 630.7 138.6 630.7 141.0 630.7 143.4 630.7 145.7 630.7 148.1 630.7 150.5 630.7 152.9 630.7 155.2 630.7 157.6 630.7 160.0 630.7 162.4 630.7 164.7 630.7 167.1 630.7 169.5 630.7 171.8 630.7 174.2 630.7 176.6 630.7 176.9 630.7 176.6 640.0 175.0 668.7 176.6 672.7 179.0 678.7 181.3 685.5 183.7 692.8 186.1 688.7 188.5 680.3 190.8 672.8 192.3 668.7 190.8 662.3 188.5 648.7 186.2 630.7 188.5 630.7 190.8 630.7 193.2 630.7 195.6 630.7 198.0 630.7 200.3 630.7 202.7 630.7 205.1 630.7 207.5 630.7 209.8 630.7 212.2 630.7 214.6 630.7 217.0 630.7 219.3 630.7 221.7 630.7 224.1 630.7 226.4 630.7 228.8 630.7 231.2 630.7 233.6 630.7 235.9 630.7 238.3 630.7 240.7 630.7 243.1 630.7 245.4 630.7 247.8 630.7 250.2 630.7 252.6 630.7 254.9 630.7 257.3 630.7 259.7 630.7 262.1 630.7 264.4 630.7 266.8 630.7 269.2 630.7 271.6 630.7 273.9 630.7 276.3 630.7 278.7 630.7 281.1 630.7 283.4 630.7 285.8 630.7 288.2 630.7 290.5 630.7 292.9 630.7 295.3 630.7 297.7 630.7 300.0 630.7 302.4 630.7 304.8 630.7 307.2 630.7 309.5 630.7 311.9 630.7 314.3 630.7 316.7 630.7 319.0 630.7 321.4 630.7 323.8 630.7 326.2 630.7 328.5 630.7 330.9 630.7 333.3 630.7 335.7 630.7 338.0 630.7 340.4 630.7 342.8 630.7 345.1 630.7 347.5 630.7 349.9 630.7 352.3 630.7 354.6 630.7 357.0 630.7 359.4 630.7 361.8 630.7 364.1 630.7 366.5 630.7 368.9 630.7 371.3 630.7 373.6 630.7 376.0 630.7 378.4 630.7 380.8 630.7 383.1 630.7 385.5 630.7 387.9 630.7 390.3 630.7 392.6 630.7 395.0 630.7 397.4 630.7 399.7 630.7 402.1 630.7 404.5 630.7 406.9 630.7 409.2 630.7 411.6 630.7 414.0 630.7 416.4 630.7 418.7 630.7 421.1 630.7 423.5 630.7 425.9 630.7 428.2 630.7 430.6 630.7 433.0 630.7 435.4 630.7 437.7 630.7 440.1 630.7 442.5 630.7 444.9 630.7 447.2 630.7 449.6 630.7 452.0 630.7 454.4 630.7 456.7 630.7 459.1 630.7 461.5 630.7 463.8 630.7 466.2 630.7 468.6 630.7 471.0 630.7 473.3 630.7 475.7 630.7 478.1 630.7 480.5 630.7 482.8 630.7 485.2 630.7 487.6 630.7 490.0 630.7 492.3 630.7 494.7 630.7 497.1 630.7 499.5 630.7 501.8 630.7 504.2 630.7 506.6 630.7 509.0 630.7 511.3 630.7 513.7 630.7 516.1 630.7 518.4 630.7 520.8 630.7 523.2 630.7 525.6 630.7 527.9 630.7 530.3 630.7 532.7 630.7 535.1 630.7 537.4 630.7 539.8 630.7 542.2 630.7 544.6 630.7 546.9 630.7 549.3 630.7 551.7 630.7 554.1 630.7 556.4 630.7 558.8 630.7 561.2 630.7 563.6 630.7 564.3 630.7 563.6 630.8 561.2 631.8 558.8 632.8 556.4 633.8 554.1 634.7 551.7 635.6 549.3 636.5 546.9 637.4 544.6 638.3 542.2 639.4 539.8 640.5 537.4 641.7 535.1 642.9 532.7 644.1 530.3 645.4 527.9 646.8 525.6 648.2 523.2 649.9 520.8 651.7 518.4 653.7 516.1 655.7 513.7 657.8 511.3 660.1 509.0 662.4 506.6 664.8 504.2 667.3 502.5 668.7 504.2 672.3 506.6 678.3 509.0 683.3 511.3 687.5 513.7 691.1 516.1 694.2 518.4 697.0 520.8 699.4 523.2 701.5 525.6 703.4 527.9 705.1 530.3 706.7 530.3 706.7 532.7 728.6 535.1 742.9 535.4 744.7 537.4 746.0 539.8 747.4 542.2 748.6 544.6 749.7 546.9 750.8 549.3 751.7 551.7 752.5 554.1 753.3 556.4 754.0 558.8 754.7 561.2 755.3 563.6 755.9 565.9 756.5 568.3 757.0 570.7 757.4 573.0 757.2 575.4 756.5 577.8 755.8 580.2 755.0 582.5 754.3 584.9 753.5 587.3 752.7 589.7 751.9 592.0 751.0 594.4 750.2 596.8 749.2 599.2 748.2 601.5 747.2 603.9 746.2 606.3 745.3 607.1 744.7 608.7 743.5 611.0 740.8 613.4 738.1 615.8 735.2 618.2 732.0 620.5 728.8 622.9 723.9 625.3 717.6 627.6 709.4 628.7 706.7 630.0 701.4 632.4 693.9 634.8 686.5 637.1 679.1 639.5 671.7 640.4 668.7 639.5 666.4 637.1 661.0 634.8 656.1 632.4 651.5 630.0 647.2 627.6 643.3 625.3 638.7 622.9 634.7 620.5 632.2 618.3 630.7 620.5 630.7 622.9 630.7 625.3 630.7 627.6 630.7 630.0 630.7 632.4 630.7 634.8 630.7 637.1 630.7 639.5 630.7 641.9 630.7 644.3 630.7 646.6 630.7 649.0 630.7 651.4 630.7 653.8 630.7 656.1 630.7 658.5 630.7 660.9 630.7 663.3 630.7 665.6 630.7 668.0 630.7 670.4 630.7 672.8 630.7 675.1 630.7 677.5 630.7 679.9 630.7 682.2 630.7 684.6 630.7 687.0 630.7 689.4 630.7 691.7 630.7 694.1 630.7 696.5 630.7 698.9 630.7 701.2 630.7 703.6 630.7 706.0 630.7 708.4 630.7 710.7 630.7 713.1 630.7 715.5 630.7 717.9 630.7 720.2 630.7 722.6 630.7 725.0 630.7 727.4 630.7 729.7 630.7 732.1 630.7 734.5 630.7 736.9 630.7 739.2 630.7 741.6 630.7 744.0 630.7 746.3 630.7 748.7 630.7 751.1 630.7 753.5 630.7 755.8 630.7 758.2 630.7 760.6 630.7 763.0 630.7 765.3 630.7 767.7 630.7 770.1 630.7 772.5 630.7 774.8 630.7 777.2 630.7 779.6 630.7 782.0 630.7 784.3 630.7 786.7 630.7 789.1 630.7 791.5 630.7 793.8 630.7 796.2 630.7 796.2 649.7 793.8 639.3 791.5 638.1 789.1 637.2 786.7 636.5 784.3 635.9 782.0 635.6 779.6 635.5 777.2 635.4 774.8 635.3 772.5 635.2 770.1 635.2 767.7 635.8 765.3 636.7 763.0 637.6 760.6 638.5 758.2 639.6 755.8 641.1 753.5 642.6 751.1 644.4 748.7 646.3 746.3 648.5 744.0 652.0 741.6 656.4 739.2 662.3 736.9 668.7 739.2 676.9 741.6 684.3 744.0 690.2 746.3 695.1 748.7 698.8 751.1 702.2 753.5 705.5 754.6 706.7 755.8 709.0 758.2 712.5 760.6 715.5 763.0 718.1 765.3 720.0 767.7 721.5 770.1 722.7 772.5 722.9 774.8 721.2 777.2 719.4 779.6 717.3 782.0 714.6 784.3 711.5 786.7 708.9 788.7 706.7 789.1 706.2 791.5 696.1 793.8 691.3 796.2 680.1 796.2 706.7 796.2 744.7 796.2 782.8 796.2 839.8 796.2 868.3 796.2 896.9 793.8 896.9 791.5 896.9 789.1 896.9 786.7 896.9 784.3 896.9 782.0 896.9 779.6 896.9 777.2 896.9 774.8 896.9 772.5 896.9 770.1 896.9 767.7 896.9 765.3 896.9 763.0 896.9 760.6 896.9 758.2 896.9 755.8 896.9 753.5 896.9 751.1 896.9 748.7 896.9 746.3 896.9 744.0 896.9 741.6 896.9 739.2 896.9 736.9 896.9 734.5 896.9 732.1 896.9 729.7 896.9 727.4 896.9 725.0 896.9 722.6 896.9 720.2 896.9 717.9 896.9 715.5 896.9 713.1 896.9 710.7 896.9 708.4 896.9 706.0 896.9 703.6 896.9 701.2 896.9 698.9 896.9 696.5 896.9 694.1 896.9 691.7 896.9 689.4 896.9 687.0 896.9 684.6 896.9 682.2 896.9 679.9 896.9 677.5 896.9 675.1 896.9 672.8 896.9 670.4 896.9 668.0 896.9 665.6 896.9 663.3 896.9 660.9 896.9 658.5 896.9 656.1 896.9 653.8 896.9 651.4 896.9 649.0 896.9 646.6 896.9 644.3 896.9 641.9 896.9 639.5 896.9 637.1 896.9 634.8 896.9 632.4 896.9 630.0 896.9 627.6 896.9 625.3 896.9 622.9 896.9 620.5 896.9 618.2 896.9 615.8 896.9 613.4 896.9 611.0 896.9 608.7 896.9 606.3 896.9 603.9 896.9 601.5 896.9 599.2 896.9 596.8 896.9 594.4 896.9 592.0 896.9 589.7 896.9 587.3 896.9 584.9 896.9 582.5 896.9 580.2 896.9 577.8 896.9 575.4 896.9 573.0 896.9 570.7 896.9 568.3 896.9 565.9 896.9 563.6 896.9 561.2 896.9 558.8 896.9 556.4 896.9 554.1 896.9 551.7 896.9 549.3 896.9 546.9 896.9 544.6 896.9 542.2 896.9 539.8 896.9 537.4 896.9 535.1 896.9 532.7 896.9 530.3 896.9 527.9 896.9 525.6 896.9 523.2 896.9 520.8 896.9 518.4 896.9 516.1 896.9 513.7 896.9 511.3 896.9 509.0 896.9 506.6 896.9 504.2 896.9 501.8 896.9 499.5 896.9 497.1 896.9 494.7 896.9 492.3 896.9 490.0 896.9 487.6 896.9 485.2 896.9 482.8 896.9 480.5 896.9 478.1 896.9 475.7 896.9 473.3 896.9 471.0 896.9 468.6 896.9 466.2 896.9 463.8 896.9 461.5 896.9 459.1 896.9 456.7 896.9 454.4 896.9 452.0 896.9 449.6 896.9 447.2 896.9 444.9 896.9 442.5 896.9 440.1 896.9 437.7 896.9 435.4 896.9 433.0 896.9 430.6 896.9 428.2 896.9 425.9 896.9 423.5 896.9 421.1 896.9 418.7 896.9 416.4 896.9 414.0 896.9 411.6 896.9 409.2 896.9 406.9 896.9 404.5 896.9 402.1 896.9 399.7 896.9 397.4 896.9 395.0 896.9 392.6 896.9 390.3 896.9 387.9 896.9 385.5 896.9 383.1 896.9 380.8 896.9 378.4 896.9 376.0 896.9 373.6 896.9 371.3 896.9 368.9 896.9 366.5 896.9 364.1 896.9 361.8 896.9 359.4 896.9 357.0 896.9 354.6 896.9 352.3 896.9 349.9 896.9 347.5 896.9 345.1 896.9 342.8 896.9 340.4 896.9 338.0 896.9 335.7 896.9 333.3 896.9 330.9 896.9 328.5 896.9 326.2 896.9 323.8 896.9 321.4 896.9 319.0 896.9 316.7 896.9 314.3 896.9 311.9 896.9 309.5 896.9 307.2 896.9 304.8 896.9 302.4 896.9 300.0 896.9 297.7 896.9 295.3 896.9 292.9 896.9 290.5 896.9 288.2 896.9 285.8 896.9 283.4 896.9 281.1 896.9 278.7 896.9 276.3 896.9 273.9 896.9 271.6 896.9 269.2 896.9 266.8 896.9 264.4 896.9 262.1 896.9 259.7 896.9 257.3 896.9 254.9 896.9 252.6 896.9 250.2 896.9 247.8 896.9 245.4 896.9 243.1 896.9 240.7 896.9 238.3 896.9 235.9 896.9 233.6 896.9 231.2 896.9 228.8 896.9 226.4 896.9 224.1 896.9 221.7 896.9 219.3 896.9 217.0 896.9 214.6 896.9 212.2 896.9 209.8 896.9 207.5 896.9 205.1 896.9 202.7 896.9 200.3 896.9 198.0 896.9 195.6 896.9 193.2 896.9 190.8 896.9 188.5 896.9 186.1 896.9 183.7 896.9 181.3 896.9 179.0 896.9 176.6 896.9 174.2 896.9 171.8 896.9 169.5 896.9 167.1 896.9 164.7 896.9 162.4 896.9 160.0 896.9 157.6 896.9 155.2 896.9 152.9 896.9 150.5 896.9 148.1 896.9 145.7 896.9 143.4 896.9 141.0 896.9 138.6 896.9 136.2 896.9 133.9 896.9 131.5 896.9 129.1 896.9 126.7 896.9 124.4 896.9 122.0 896.9 119.6 896.9 117.2 896.9 114.9 896.9 112.5 896.9 112.5 868.3 112.5 839.8 112.5 782.8 112.5 744.7 112.5 706.7 112.5 695.3 114.9 691.0 116.8 668.7 114.9 646.3 112.5 642.1 112.5 630.7 114.9 630.7Z"/>
<path fill="#dceaff" fill-rule="evenodd" d="M122.0 630.7 124.4 630.7 126.7 630.7 129.1 630.7 131.5 630.7 133.9 630.7 136.2 630.7 138.6 630.7 141.0 630.7 143.4 630.7 145.7 630.7 148.1 630.7 150.5 630.7 152.9 630.7 155.2 630.7 157.6 630.7 160.0 630.7 162.4 630.7 164.7 630.7 166.1 630.7 164.7 655.4 163.3 668.7 164.7 671.9 167.1 679.3 169.5 686.1 171.8 692.4 174.2 698.3 176.6 703.6 177.8 706.7 179.0 708.8 181.3 713.3 183.7 717.1 186.1 716.8 188.5 713.2 190.8 708.0 192.5 706.7 193.2 705.9 195.6 704.6 198.0 702.6 200.3 699.4 202.7 693.2 205.1 676.3 206.2 668.7 205.1 667.3 202.7 660.2 200.3 652.6 198.0 644.4 195.6 635.5 194.5 630.7 195.6 630.7 198.0 630.7 200.3 630.7 202.7 630.7 205.1 630.7 207.5 630.7 209.8 630.7 212.2 630.7 214.6 630.7 217.0 630.7 219.3 630.7 221.7 630.7 224.1 630.7 226.4 630.7 228.8 630.7 231.2 630.7 233.6 630.7 235.9 630.7 238.3 630.7 240.7 630.7 243.1 630.7 245.4 630.7 247.8 630.7 250.2 630.7 252.6 630.7 254.9 630.7 257.3 630.7 259.7 630.7 262.1 630.7 264.4 630.7 266.8 630.7 269.2 630.7 271.6 630.7 273.9 630.7 276.3 630.7 278.7 630.7 281.1 630.7 283.4 630.7 285.8 630.7 288.2 630.7 290.5 630.7 292.9 630.7 295.3 630.7 297.7 630.7 300.0 630.7 302.4 630.7 304.8 630.7 307.2 630.7 309.5 630.7 311.9 630.7 314.3 630.7 316.7 630.7 319.0 630.7 321.4 630.7 323.8 630.7 326.2 630.7 328.5 630.7 330.9 630.7 333.3 630.7 335.7 630.7 338.0 630.7 340.4 630.7 342.8 630.7 345.1 630.7 347.5 630.7 349.9 630.7 352.3 630.7 354.6 630.7 357.0 630.7 359.4 630.7 361.8 630.7 364.1 630.7 366.5 630.7 368.9 630.7 371.3 630.7 373.6 630.7 376.0 630.7 378.4 630.7 380.8 630.7 383.1 630.7 385.5 630.7 387.9 630.7 390.3 630.7 392.6 630.7 395.0 630.7 397.4 630.7 399.7 630.7 402.1 630.7 404.5 630.7 406.9 630.7 409.2 630.7 411.6 630.7 414.0 630.7 416.4 630.7 418.7 630.7 421.1 630.7 423.5 630.7 425.9 630.7 428.2 630.7 430.6 630.7 433.0 630.7 435.4 630.7 437.7 630.7 440.1 630.7 442.5 630.7 444.9 630.7 447.2 630.7 449.6 630.7 452.0 630.7 454.4 630.7 456.7 630.7 459.1 630.7 461.5 630.7 463.8 630.7 466.2 630.7 468.6 630.7 471.0 630.7 473.3 630.7 475.7 630.7 478.1 630.7 480.5 630.7 482.8 630.7 485.2 630.7 487.6 630.7 490.0 630.7 492.3 630.7 494.7 630.7 497.1 630.7 499.5 630.7 501.8 630.7 504.2 630.7 506.6 630.7 509.0 630.7 511.3 630.7 513.7 630.7 516.1 630.7 518.4 630.7 520.8 630.7 523.2 630.7 525.3 630.7 523.2 631.9 520.8 633.5 518.4 635.1 516.1 636.7 513.7 638.5 511.3 640.3 509.0 642.2 506.6 644.2 504.2 646.2 501.8 648.0 499.5 649.5 497.1 650.9 494.7 651.9 492.3 652.9 490.0 653.9 487.6 654.9 485.2 655.9 482.8 657.0 480.5 658.0 478.1 659.1 475.7 660.2 473.3 661.3 471.0 662.4 468.6 663.5 466.2 664.7 463.8 665.8 461.5 667.0 459.1 668.2 458.0 668.7 459.1 670.8 461.5 675.5 463.8 679.8 466.2 683.7 468.6 687.2 471.0 690.4 473.3 693.3 475.7 696.0 478.1 698.5 480.5 700.8 482.8 702.9 485.2 704.9 487.6 706.7 487.6 706.7 490.0 724.6 492.3 738.3 493.5 744.7 494.7 746.3 497.1 749.6 499.5 752.6 501.8 755.3 504.2 757.8 506.6 760.0 509.0 762.0 511.3 763.9 513.7 765.6 516.1 767.2 518.4 768.7 520.8 770.1 523.2 771.4 525.6 771.5 527.9 771.6 530.3 771.6 532.7 771.6 535.1 771.6 537.4 771.7 539.8 771.7 542.2 771.7 544.6 771.7 546.9 771.8 549.3 771.8 551.7 771.8 554.1 771.8 556.4 771.8 558.8 771.8 561.2 771.8 563.6 771.9 565.9 771.9 568.3 771.9 570.7 771.9 573.0 771.6 575.4 771.1 577.8 770.6 580.2 770.1 582.5 769.5 584.9 769.0 587.3 768.4 589.7 767.8 592.0 767.2 594.4 766.6 596.8 765.9 599.2 764.6 601.5 763.4 603.9 762.1 606.3 761.0 608.7 759.5 611.0 757.6 613.4 755.6 615.8 753.5 618.2 751.4 620.5 749.1 622.9 746.7 624.9 744.7 625.3 744.1 627.6 739.4 630.0 734.4 632.4 729.4 634.8 724.3 637.1 719.1 639.5 713.8 641.9 708.3 642.2 706.7 644.3 695.7 646.6 684.8 649.0 677.3 651.4 672.0 653.2 668.7 651.4 664.2 649.0 656.3 646.6 649.3 644.3 643.1 641.9 637.5 639.5 632.5 638.5 630.7 639.5 630.7 641.9 630.7 644.3 630.7 646.6 630.7 649.0 630.7 651.4 630.7 653.8 630.7 656.1 630.7 658.5 630.7 660.9 630.7 663.3 630.7 665.6 630.7 668.0 630.7 670.4 630.7 672.8 630.7 675.1 630.7 677.5 630.7 679.9 630.7 682.2 630.7 684.6 630.7 687.0 630.7 689.4 630.7 691.7 630.7 694.1 630.7 696.5 630.7 698.9 630.7 701.2 630.7 703.6 630.7 706.0 630.7 708.4 630.7 710.7 630.7 713.1 630.7 715.5 630.7 717.9 630.7 720.2 630.7 722.6 630.7 725.0 630.7 727.4 630.7 729.7 630.7 732.1 630.7 734.5 630.7 736.9 630.7 739.2 630.7 741.6 630.7 742.6 630.7 741.6 631.4 739.2 634.4 736.9 638.1 734.5 641.1 732.1 644.0 729.7 646.8 727.4 649.5 725.0 652.0 722.6 654.5 720.2 656.8 717.9 658.7 715.5 660.7 713.1 662.7 710.7 664.8 708.4 667.0 706.5 668.7 708.4 671.1 710.7 674.2 713.1 677.3 715.5 680.4 717.9 683.5 720.2 686.5 722.6 689.6 725.0 692.6 727.4 695.6 729.7 698.6 732.1 701.6 734.5 704.6 735.9 706.7 736.9 710.7 739.2 722.6 741.6 731.8 744.0 739.1 746.3 744.7 746.3 744.8 748.7 746.1 751.1 747.3 753.5 748.5 755.8 749.4 758.2 750.3 760.6 751.1 763.0 751.8 765.3 751.3 767.7 750.3 770.1 749.3 772.5 748.4 774.8 747.4 777.2 746.4 779.6 745.3 780.0 744.7 782.0 742.3 784.3 737.0 786.7 732.4 789.1 728.9 791.5 722.9 793.8 718.1 796.2 718.1 796.2 744.7 796.2 782.8 796.2 839.8 796.2 868.3 796.2 896.9 793.8 896.9 791.5 896.9 789.1 896.9 786.7 896.9 784.3 896.9 782.0 896.9 779.6 896.9 777.2 896.9 774.8 896.9 772.5 896.9 770.1 896.9 767.7 896.9 765.3 896.9 763.0 896.9 760.6 896.9 758.2 896.9 755.8 896.9 753.5 896.9 751.1 896.9 748.7 896.9 746.3 896.9 744.0 896.9 741.6 896.9 739.2 896.9 736.9 896.9 734.5 896.9 732.1 896.9 729.7 896.9 727.4 896.9 725.0 896.9 722.6 896.9 720.2 896.9 717.9 896.9 715.5 896.9 713.1 896.9 710.7 896.9 708.4 896.9 706.0 896.9 703.6 896.9 701.2 896.9 698.9 896.9 696.5 896.9 694.1 896.9 691.7 896.9 689.4 896.9 687.0 896.9 684.6 896.9 682.2 896.9 679.9 896.9 677.5 896.9 675.1 896.9 672.8 896.9 670.4 896.9 668.0 896.9 665.6 896.9 663.3 896.9 660.9 896.9 658.5 896.9 656.1 896.9 653.8 896.9 651.4 896.9 649.0 896.9 646.6 896.9 644.3 896.9 641.9 896.9 639.5 896.9 637.1 896.9 634.8 896.9 632.4 896.9 630.0 896.9 627.6 896.9 625.3 896.9 622.9 896.9 620.5 896.9 618.2 896.9 615.8 896.9 613.4 896.9 611.0 896.9 608.7 896.9 606.3 896.9 603.9 896.9 601.5 896.9 599.2 896.9 596.8 896.9 594.4 896.9 592.0 896.9 589.7 896.9 587.3 896.9 584.9 896.9 582.5 896.9 580.2 896.9 577.8 896.9 575.4 896.9 573.0 896.9 570.7 896.9 568.3 896.9 565.9 896.9 563.6 896.9 561.2 896.9 558.8 896.9 556.4 896.9 554.1 896.9 551.7 896.9 549.3 896.9 546.9 896.9 544.6 896.9 542.2 896.9 539.8 896.9 537.4 896.9 535.1 896.9 532.7 896.9 530.3 896.9 527.9 896.9 525.6 896.9 523.2 896.9 520.8 896.9 518.4 896.9 516.1 896.9 513.7 896.9 511.3 896.9 509.0 896.9 506.6 896.9 504.2 896.9 501.8 896.9 499.5 896.9 497.1 896.9 494.7 896.9 492.3 896.9 490.0 896.9 487.6 896.9 485.2 896.9 482.8 896.9 480.5 896.9 478.1 896.9 475.7 896.9 473.3 896.9 471.0 896.9 468.6 896.9 466.2 896.9 463.8 896.9 461.5 896.9 459.1 896.9 456.7 896.9 454.4 896.9 452.0 896.9 449.6 896.9 447.2 896.9 444.9 896.9 442.5 896.9 440.1 896.9 437.7 896.9 435.4 896.9 433.0 896.9 430.6 896.9 428.2 896.9 425.9 896.9 423.5 896.9 421.1 896.9 418.7 896.9 416.4 896.9 414.0 896.9 411.6 896.9 409.2 896.9 406.9 896.9 404.5 896.9 402.1 896.9 399.7 896.9 397.4 896.9 395.0 896.9 392.6 896.9 390.3 896.9 387.9 896.9 385.5 896.9 383.1 896.9 380.8 896.9 378.4 896.9 376.0 896.9 373.6 896.9 371.3 896.9 368.9 896.9 366.5 896.9 364.1 896.9 361.8 896.9 359.4 896.9 357.0 896.9 354.6 896.9 352.3 896.9 349.9 896.9 347.5 896.9 345.1 896.9 342.8 896.9 340.4 896.9 338.0 896.9 335.7 896.9 333.3 896.9 330.9 896.9 328.5 896.9 326.2 896.9 323.8 896.9 321.4 896.9 319.0 896.9 316.7 896.9 314.3 896.9 311.9 896.9 309.5 896.9 307.2 896.9 304.8 896.9 302.4 896.9 300.0 896.9 297.7 896.9 295.3 896.9 292.9 896.9 290.5 896.9 288.2 896.9 285.8 896.9 283.4 896.9 281.1 896.9 278.7 896.9 276.3 896.9 273.9 896.9 271.6 896.9 269.2 896.9 266.8 896.9 264.4 896.9 262.1 896.9 259.7 896.9 257.3 896.9 254.9 896.9 252.6 896.9 250.2 896.9 247.8 896.9 245.4 896.9 243.1 896.9 240.7 896.9 238.3 896.9 235.9 896.9 233.6 896.9 231.2 896.9 228.8 896.9 226.4 896.9 224.1 896.9 221.7 896.9 219.3 896.9 217.0 896.9 214.6 896.9 212.2 896.9 209.8 896.9 207.5 896.9 205.1 896.9 202.7 896.9 200.3 896.9 198.0 896.9 195.6 896.9 193.2 896.9 190.8 896.9 188.5 896.9 186.1 896.9 183.7 896.9 181.3 896.9 179.0 896.9 176.6 896.9 174.2 896.9 171.8 896.9 169.5 896.9 167.1 896.9 164.7 896.9 162.4 896.9 160.0 896.9 157.6 896.9 155.2 896.9 152.9 896.9 150.5 896.9 148.1 896.9 145.7 896.9 143.4 896.9 141.0 896.9 138.6 896.9 136.2 896.9 133.9 896.9 131.5 896.9 129.1 896.9 126.7 896.9 124.4 896.9 122.0 896.9 119.6 896.9 117.2 896.9 114.9 896.9 112.5 896.9 112.5 868.3 112.5 839.8 112.5 782.8 112.5 744.7 112.5 720.0 114.9 720.0 117.2 715.7 119.3 706.7 119.6 703.5 122.0 690.5 124.4 681.2 126.7 674.5 129.1 668.9 129.3 668.7 129.1 668.4 126.7 661.0 124.4 652.1 122.0 641.2 120.3 630.7 122.0 630.7Z"/>
<path fill="#ffebdc" fill-rule="evenodd" d="M131.5 630.7 133.9 630.7 136.2 630.7 138.6 630.7 141.0 630.7 143.4 630.7 145.7 630.7 148.1 630.7 150.5 630.7 152.9 630.7 155.2 630.7 157.6 630.7 158.1 630.7 157.6 633.0 155.2 638.2 152.9 643.2 150.5 648.0 148.1 652.7 145.7 655.4 143.4 653.9 141.0 650.3 138.6 646.6 136.2 642.8 133.9 638.8 131.5 634.7 129.3 630.7 131.5 630.7ZM207.5 630.7 209.8 630.7 212.2 630.7 214.6 630.7 217.0 630.7 219.3 630.7 221.7 630.7 224.1 630.7 226.4 630.7 228.8 630.7 231.2 630.7 233.6 630.7 235.9 630.7 238.3 630.7 240.7 630.7 243.1 630.7 245.4 630.7 247.8 630.7 250.2 630.7 252.6 630.7 254.9 630.7 257.3 630.7 259.7 630.7 262.1 630.7 264.4 630.7 266.8 630.7 269.2 630.7 271.6 630.7 273.9 630.7 276.3 630.7 278.7 630.7 281.1 630.7 283.4 630.7 285.8 630.7 288.2 630.7 290.5 630.7 292.9 630.7 295.3 630.7 297.7 630.7 300.0 630.7 302.4 630.7 304.8 630.7 307.2 630.7 309.5 630.7 311.9 630.7 314.3 630.7 316.7 630.7 319.0 630.7 321.4 630.7 323.8 630.7 326.2 630.7 328.5 630.7 330.9 630.7 333.3 630.7 335.7 630.7 338.0 630.7 340.4 630.7 342.8 630.7 345.1 630.7 347.5 630.7 349.9 630.7 352.3 630.7 354.6 630.7 357.0 630.7 359.4 630.7 361.8 630.7 364.1 630.7 366.5 630.7 368.9 630.7 371.3 630.7 373.6 630.7 376.0 630.7 378.4 630.7 380.8 630.7 383.1 630.7 385.5 630.7 387.9 630.7 390.3 630.7 392.6 630.7 395.0 630.7 397.4 630.7 399.7 630.7 402.1 630.7 404.5 630.7 406.9 630.7 409.2 630.7 411.6 630.7 414.0 630.7 416.4 630.7 418.7 630.7 421.1 630.7 423.5 630.7 425.9 630.7 428.2 630.7 430.6 630.7 433.0 630.7 435.4 630.7 437.7 630.7 440.1 630.7 442.5 630.7 444.9 630.7 447.2 630.7 449.6 630.7 452.0 630.7 454.4 630.7 456.7 630.7 459.1 630.7 461.5 630.7 463.8 630.7 466.2 630.7 468.6 630.7 471.0 630.7 473.3 630.7 475.7 630.7 478.1 630.7 480.5 630.7 482.8 630.7 485.2 630.7 487.6 630.7 490.0 630.7 492.3 630.7 494.7 630.7 496.4 630.7 494.7 631.4 492.3 632.2 490.0 633.1 487.6 634.0 485.2 634.8 482.8 635.7 480.5 636.7 478.1 637.6 475.7 638.5 473.3 639.5 471.0 640.4 468.6 641.4 466.2 642.4 463.8 643.4 461.5 644.4 459.1 645.4 456.7 646.4 454.4 647.4 452.0 648.4 449.6 649.3 447.2 650.3 444.9 651.3 442.5 652.3 440.1 653.3 437.7 654.2 435.4 655.1 433.0 656.0 430.6 656.9 428.2 657.8 425.9 658.8 423.5 659.7 421.1 660.7 418.7 661.8 416.4 662.8 414.0 663.9 411.6 665.0 409.2 666.2 406.9 667.3 404.5 668.5 404.3 668.7 404.5 671.5 406.9 689.9 409.2 702.4 410.2 706.7 411.6 710.6 414.0 716.7 416.4 721.9 418.7 726.3 421.1 730.1 423.5 733.4 425.9 736.4 428.2 739.0 430.6 741.3 433.0 743.4 434.1 744.7 435.4 746.1 437.7 750.7 440.1 755.5 442.5 760.9 444.9 766.6 447.2 772.9 449.6 779.8 451.0 782.8 452.0 783.2 454.4 783.9 456.7 784.5 459.1 785.1 461.5 785.7 463.8 786.3 466.2 786.9 468.6 787.4 471.0 788.0 473.3 788.5 475.7 789.0 478.1 789.5 480.5 789.9 482.8 790.2 485.2 790.4 487.6 790.7 490.0 790.9 492.3 791.1 494.7 791.2 497.1 791.4 499.5 791.5 501.8 791.7 504.2 791.8 506.6 792.0 509.0 792.1 511.3 792.2 513.7 792.3 516.1 792.5 518.4 792.6 520.8 792.8 523.2 792.9 525.6 792.6 527.9 792.2 530.3 791.8 532.7 791.4 535.1 791.0 537.4 790.7 539.8 790.3 542.2 789.9 544.6 789.6 546.9 789.3 549.3 789.1 551.7 788.9 554.1 788.7 556.4 788.5 558.8 788.2 561.2 788.0 563.6 787.7 565.9 787.5 568.3 787.2 570.7 786.9 573.0 786.6 575.4 786.3 577.8 786.0 580.2 785.9 582.5 785.8 584.9 785.2 587.3 784.5 589.7 784.0 592.0 783.5 594.4 783.1 595.7 782.8 596.8 782.5 599.2 781.0 601.5 779.5 603.9 778.1 606.3 776.7 608.7 775.2 611.0 773.6 613.4 771.9 615.8 770.1 618.2 768.3 620.5 766.4 622.9 763.9 625.3 760.9 627.6 757.9 630.0 755.1 632.4 752.6 634.8 750.2 637.1 747.9 639.5 745.6 640.4 744.7 641.9 741.2 644.3 733.9 646.6 722.5 648.9 706.7 649.0 706.4 651.4 704.5 653.8 702.3 656.1 700.2 658.5 698.1 660.9 696.1 663.3 694.0 665.6 691.9 668.0 689.7 670.4 687.6 672.8 685.5 675.1 683.4 677.5 681.7 679.9 681.3 682.2 683.8 684.6 686.3 687.0 688.7 689.4 691.2 691.7 693.6 694.1 696.1 696.5 698.5 698.9 700.9 701.2 703.3 703.6 705.7 704.5 706.7 706.0 711.9 708.4 720.6 710.7 728.8 713.1 736.4 715.5 743.6 715.8 744.7 717.9 750.6 720.2 758.5 722.6 767.5 725.0 778.1 726.8 782.8 727.4 783.2 729.7 784.0 732.1 784.8 734.5 785.6 736.9 786.4 739.2 787.3 741.6 788.2 744.0 789.1 746.3 790.0 748.7 790.7 751.1 791.2 753.5 791.0 755.8 790.1 758.2 789.2 760.6 788.4 763.0 787.6 765.3 786.8 767.7 786.1 770.1 785.3 772.5 784.6 774.8 783.9 777.2 783.2 777.8 782.8 779.6 780.9 782.0 774.7 784.3 768.0 786.7 761.1 789.1 756.2 791.5 756.2 793.8 756.2 796.2 756.2 796.2 782.8 796.2 839.8 796.2 868.3 796.2 896.9 793.8 896.9 791.5 896.9 789.1 896.9 786.7 896.9 784.3 896.9 782.0 896.9 779.6 896.9 777.2 896.9 774.8 896.9 772.5 896.9 770.1 896.9 767.7 896.9 765.3 896.9 763.0 896.9 760.6 896.9 758.2 896.9 755.8 896.9 753.5 896.9 751.1 896.9 748.7 896.9 746.3 896.9 744.0 896.9 741.6 896.9 739.2 896.9 736.9 896.9 734.5 896.9 732.1 896.9 729.7 896.9 727.4 896.9 725.0 896.9 722.6 896.9 720.2 896.9 717.9 896.9 715.5 896.9 713.1 896.9 710.7 896.9 708.4 896.9 706.0 896.9 703.6 896.9 701.2 896.9 698.9 896.9 696.5 896.9 694.1 896.9 691.7 896.9 689.4 896.9 687.0 896.9 684.6 896.9 682.2 896.9 679.9 896.9 677.5 896.9 675.1 896.9 672.8 896.9 670.4 896.9 668.0 896.9 665.6 896.9 663.3 896.9 660.9 896.9 658.5 896.9 656.1 896.9 653.8 896.9 651.4 896.9 649.0 896.9 646.6 896.9 644.3 896.9 641.9 896.9 639.5 896.9 637.1 896.9 634.8 896.9 632.4 896.9 630.0 896.9 627.6 896.9 625.3 896.9 622.9 896.9 620.5 896.9 618.2 896.9 615.8 896.9 613.4 896.9 611.0 896.9 608.7 896.9 606.3 896.9 603.9 896.9 601.5 896.9 599.2 896.9 596.8 896.9 594.4 896.9 592.0 896.9 589.7 896.9 587.3 896.9 584.9 896.9 582.5 896.9 580.2 896.9 577.8 896.9 575.4 896.9 573.0 896.9 570.7 896.9 568.3 896.9 565.9 896.9 563.6 896.9 561.2 896.9 558.8 896.9 556.4 896.9 554.1 896.9 551.7 896.9 549.3 896.9 546.9 896.9 544.6 896.9 542.2 896.9 539.8 896.9 537.4 896.9 535.1 896.9 532.7 896.9 530.3 896.9 527.9 896.9 525.6 896.9 523.2 896.9 520.8 896.9 518.4 896.9 516.1 896.9 513.7 896.9 511.3 896.9 509.0 896.9 506.6 896.9 504.2 896.9 501.8 896.9 499.5 896.9 497.1 896.9 494.7 896.9 492.3 896.9 490.0 896.9 487.6 896.9 485.2 896.9 482.8 896.9 480.5 896.9 478.1 896.9 475.7 896.9 473.3 896.9 471.0 896.9 468.6 896.9 466.2 896.9 463.8 896.9 461.5 896.9 459.1 896.9 456.7 896.9 454.4 896.9 452.0 896.9 449.6 896.9 447.2 896.9 444.9 896.9 442.5 896.9 440.1 896.9 437.7 896.9 435.4 896.9 433.0 896.9 430.6 896.9 428.2 896.9 425.9 896.9 423.5 896.9 421.1 896.9 418.7 896.9 416.4 896.9 414.0 896.9 411.6 896.9 409.2 896.9 406.9 896.9 404.5 896.9 402.1 896.9 399.7 896.9 397.4 896.9 395.0 896.9 392.6 896.9 390.3 896.9 387.9 896.9 385.5 896.9 383.1 896.9 380.8 896.9 378.4 896.9 376.0 896.9 373.6 896.9 371.3 896.9 368.9 896.9 366.5 896.9 364.1 896.9 361.8 896.9 359.4 896.9 357.0 896.9 354.6 896.9 352.3 896.9 349.9 896.9 347.5 896.9 345.1 896.9 342.8 896.9 340.4 896.9 338.0 896.9 335.7 896.9 333.3 896.9 330.9 896.9 328.5 896.9 326.2 896.9 323.8 896.9 321.4 896.9 319.0 896.9 316.7 896.9 314.3 896.9 311.9 896.9 309.5 896.9 307.2 896.9 304.8 896.9 302.4 896.9 300.0 896.9 297.7 896.9 295.3 896.9 292.9 896.9 290.5 896.9 288.2 896.9 285.8 896.9 283.4 896.9 281.1 896.9 278.7 896.9 276.3 896.9 273.9 896.9 271.6 896.9 269.2 896.9 266.8 896.9 264.4 896.9 262.1 896.9 259.7 896.9 257.3 896.9 254.9 896.9 252.6 896.9 250.2 896.9 247.8 896.9 245.4 896.9 243.1 896.9 240.7 896.9 238.3 896.9 235.9 896.9 233.6 896.9 231.2 896.9 228.8 896.9 226.4 896.9 224.1 896.9 221.7 896.9 219.3 896.9 217.0 896.9 214.6 896.9 212.2 896.9 209.8 896.9 207.5 896.9 205.1 896.9 202.7 896.9 200.3 896.9 198.0 896.9 195.6 896.9 193.2 896.9 190.8 896.9 188.5 896.9 186.1 896.9 183.7 896.9 181.3 896.9 179.0 896.9 176.6 896.9 174.2 896.9 171.8 896.9 169.5 896.9 167.1 896.9 164.7 896.9 162.4 896.9 160.0 896.9 157.6 896.9 155.2 896.9 152.9 896.9 150.5 896.9 148.1 896.9 145.7 896.9 143.4 896.9 141.0 896.9 138.6 896.9 136.2 896.9 133.9 896.9 131.5 896.9 129.1 896.9 126.7 896.9 124.4 896.9 122.0 896.9 119.6 896.9 117.2 896.9 114.9 896.9 112.5 896.9 112.5 868.3 112.5 839.8 112.5 782.8 112.5 744.7 112.5 739.0 114.9 739.0 117.2 738.0 119.6 733.7 122.0 725.0 124.4 715.1 126.6 706.7 126.7 706.0 129.1 703.0 131.5 699.9 133.9 696.8 136.2 693.6 138.6 690.4 141.0 687.2 143.4 683.9 145.7 681.2 148.1 683.3 150.5 687.0 152.9 690.7 155.2 694.3 157.6 697.8 160.0 701.3 162.4 704.7 163.4 706.7 164.7 708.8 167.1 713.6 169.5 717.7 171.8 721.2 174.2 724.3 176.6 727.0 179.0 729.6 181.3 732.3 183.7 734.4 186.1 735.0 188.5 734.7 190.8 734.2 193.2 735.0 195.6 736.3 198.0 737.8 200.3 739.6 202.7 741.7 205.1 744.2 206.3 744.7 207.5 745.3 209.8 746.0 212.2 746.7 214.6 747.5 217.0 748.3 219.3 749.1 221.7 749.9 224.1 750.8 226.4 751.7 228.8 752.6 231.2 753.6 233.6 754.6 235.9 755.7 238.3 756.7 240.7 757.9 243.1 759.1 245.4 759.2 247.8 759.3 250.2 759.4 252.6 759.2 254.9 757.6 257.3 756.1 259.7 754.7 262.1 753.3 264.4 752.0 266.8 750.8 269.2 749.7 271.6 748.6 273.9 747.5 276.3 746.5 278.7 745.6 280.8 744.7 281.1 743.8 283.4 734.5 285.8 722.3 288.0 706.7 285.8 704.6 283.4 703.1 281.1 702.2 278.7 701.5 276.3 701.0 273.9 699.7 271.6 697.9 269.2 695.8 266.8 693.4 264.4 690.5 262.1 687.1 259.7 682.8 257.3 677.5 254.9 670.6 254.1 668.7 252.6 668.0 250.2 667.1 247.8 666.2 245.4 665.3 243.1 664.4 240.7 663.5 238.3 662.5 235.9 661.6 233.6 660.6 231.2 659.7 228.8 658.7 226.4 657.7 224.1 656.7 221.7 655.7 219.3 654.7 217.0 653.7 214.6 652.7 212.2 651.7 209.8 650.6 207.5 643.3 205.3 630.7 207.5 630.7ZM297.4 668.7 297.7 671.2 300.0 679.7 302.4 683.5 304.8 685.6 307.2 686.9 309.5 687.9 311.9 688.6 314.3 689.1 316.7 689.5 319.0 689.9 321.4 690.1 323.8 690.4 326.2 690.6 328.5 690.8 330.9 690.9 333.3 690.0 335.7 688.8 338.0 687.5 340.4 686.2 342.8 684.9 345.1 683.5 347.5 682.0 349.9 680.7 352.3 679.7 354.6 678.5 357.0 677.1 359.4 675.4 361.8 673.3 364.1 670.6 365.1 668.7 364.1 667.9 361.8 666.4 359.4 665.0 357.0 663.7 354.6 662.4 352.3 661.2 349.9 659.9 347.5 658.8 345.1 657.7 342.8 656.5 340.4 654.9 338.0 653.2 335.7 651.4 333.3 649.5 330.9 648.9 328.5 650.8 326.2 652.5 323.8 654.2 321.4 655.9 319.0 657.3 316.7 658.6 314.3 660.0 311.9 661.3 309.5 662.5 307.2 663.8 304.8 665.0 302.4 666.2 300.0 667.4 297.7 668.5 297.4 668.7ZM656.1 630.7 658.5 630.7 660.9 630.7 663.3 630.7 665.6 630.7 668.0 630.7 670.4 630.7 672.8 630.7 675.1 630.7 677.5 630.7 679.9 630.7 682.2 630.7 684.6 630.7 687.0 630.7 689.4 630.7 691.7 630.7 694.1 630.7 696.5 630.7 698.9 630.7 701.2 630.7 703.6 630.7 706.0 630.7 708.4 630.7 710.7 630.7 713.1 630.7 715.5 630.7 717.9 630.7 719.6 630.7 717.9 631.8 715.5 633.3 713.1 634.8 710.7 636.3 708.4 637.9 706.0 639.6 703.6 641.2 701.2 642.8 698.9 644.5 696.5 646.2 694.1 647.9 691.7 649.6 689.4 651.4 687.0 652.8 684.6 653.3 682.2 653.9 679.9 654.7 677.5 652.5 675.1 649.9 672.8 647.3 670.4 644.9 668.0 642.4 665.6 640.1 663.3 637.7 660.9 635.5 658.5 633.3 656.1 631.1 655.9 630.7 656.1 630.7Z"/>
<path fill="#ffc8b0" fill-rule="evenodd" d="M209.8 630.7 212.2 630.7 214.6 630.7 217.0 630.7 219.3 630.7 221.7 630.7 224.1 630.7 226.4 630.7 228.8 630.7 231.2 630.7 233.6 630.7 235.9 630.7 238.3 630.7 240.7 630.7 243.1 630.7 245.4 630.7 247.8 630.7 250.2 630.7 252.6 630.7 254.9 630.7 257.3 630.7 259.7 630.7 262.1 630.7 264.4 630.7 266.8 630.7 269.2 630.7 271.6 630.7 273.9 630.7 276.3 630.7 278.7 630.7 281.1 630.7 283.4 630.7 285.8 630.7 288.2 630.7 290.5 630.7 292.9 630.7 295.3 630.7 297.7 630.7 300.0 630.7 302.4 630.7 304.8 630.7 307.2 630.7 309.5 630.7 311.9 630.7 314.3 630.7 316.7 630.7 319.0 630.7 320.5 630.7 319.0 631.8 316.7 633.4 314.3 635.0 311.9 636.6 309.5 638.1 307.2 639.6 304.8 641.0 302.4 642.5 300.0 643.9 297.7 645.2 295.3 646.8 292.9 648.5 290.5 650.2 288.2 651.9 285.8 653.6 283.4 655.4 281.1 657.5 278.7 659.4 276.3 661.4 273.9 661.0 271.6 660.2 269.2 659.5 266.8 658.8 264.4 657.4 262.1 655.9 259.7 654.5 257.3 653.0 254.9 651.5 252.6 650.2 250.2 648.8 247.8 647.9 245.4 646.9 243.1 645.9 240.7 644.9 238.3 643.8 235.9 642.8 233.6 641.8 231.2 640.7 228.8 639.7 226.4 638.6 224.1 637.5 221.7 636.4 219.3 635.3 217.0 634.2 214.6 633.1 212.2 631.9 209.8 630.8 209.8 630.7 209.8 630.7ZM345.1 630.7 347.5 630.7 349.9 630.7 352.3 630.7 354.6 630.7 357.0 630.7 359.4 630.7 361.8 630.7 364.1 630.7 366.5 630.7 368.9 630.7 371.3 630.7 373.6 630.7 376.0 630.7 378.4 630.7 380.8 630.7 383.1 630.7 385.5 630.7 387.9 630.7 390.3 630.7 392.6 630.7 395.0 630.7 397.4 630.7 399.7 630.7 402.1 630.7 404.5 630.7 406.9 630.7 409.2 630.7 411.6 630.7 414.0 630.7 416.4 630.7 418.7 630.7 421.1 630.7 423.5 630.7 425.9 630.7 428.2 630.7 430.6 630.7 433.0 630.7 435.4 630.7 437.7 630.7 438.5 630.7 437.7 630.9 435.4 631.5 433.0 632.1 430.6 632.7 428.2 633.4 425.9 634.0 423.5 634.7 421.1 635.3 418.7 636.0 416.4 636.8 414.0 637.5 411.6 638.3 409.2 639.0 406.9 639.8 404.5 640.6 402.1 641.8 399.7 643.1 397.4 644.5 395.0 646.1 392.6 647.9 390.3 649.6 387.9 650.9 385.5 652.6 383.1 651.1 380.8 648.5 378.4 646.2 376.0 644.2 373.6 642.5 371.3 641.0 368.9 639.6 366.5 638.4 364.1 637.4 361.8 636.5 359.4 635.7 357.0 634.9 354.6 634.1 352.3 633.3 349.9 632.6 347.5 631.9 345.1 631.2 343.5 630.7 345.1 630.7ZM126.7 742.9 129.1 740.1 131.5 737.1 133.9 734.1 136.2 731.0 138.6 727.9 141.0 724.6 143.4 721.3 145.7 719.4 148.1 721.3 150.5 724.2 152.9 727.1 155.2 729.9 157.6 732.6 160.0 735.2 162.4 737.8 164.7 740.5 167.1 743.0 169.0 744.7 169.5 745.0 171.8 745.9 174.2 746.8 176.6 747.7 179.0 748.6 181.3 749.9 183.7 752.0 186.1 755.0 188.5 759.0 190.8 763.3 193.2 769.4 195.6 778.4 197.6 782.8 198.0 784.2 200.3 786.6 202.7 789.4 205.1 792.7 207.5 796.6 209.8 801.3 212.2 807.1 214.6 814.4 217.0 823.9 219.3 836.7 219.5 839.8 221.7 841.2 224.1 843.0 226.4 844.9 228.8 845.7 231.2 844.5 233.6 842.5 235.9 839.8 235.9 839.8 238.3 838.8 240.7 837.9 243.1 837.1 245.4 836.4 247.8 835.8 250.2 835.3 252.6 834.7 254.9 833.8 257.3 832.9 259.7 831.9 262.1 830.9 264.4 829.7 266.8 828.6 269.2 827.3 271.6 826.0 273.9 824.5 276.3 823.0 278.7 821.3 281.1 819.5 283.4 817.6 285.8 815.5 288.2 813.2 290.5 810.7 292.9 808.0 295.3 805.0 297.7 801.6 300.0 797.9 302.4 793.7 304.8 789.0 307.2 783.7 307.3 782.8 309.5 779.6 311.9 776.3 314.3 773.5 316.7 773.1 319.0 775.7 321.4 778.8 323.8 782.8 323.8 783.0 326.2 787.0 328.5 790.3 330.9 793.2 333.3 795.5 335.7 797.6 338.0 799.4 340.4 801.0 342.8 802.4 345.1 802.9 347.5 801.0 349.9 799.1 352.3 797.0 354.6 794.8 357.0 792.5 359.4 790.0 361.8 787.3 364.1 784.5 364.9 782.8 366.5 780.5 368.9 776.3 371.3 773.1 373.6 770.7 376.0 768.7 378.4 767.1 380.8 765.8 383.1 764.6 385.5 763.6 387.9 764.7 390.3 766.3 392.6 768.0 395.0 769.8 397.4 772.0 399.7 774.4 402.1 777.1 404.5 780.3 406.3 782.8 406.9 784.1 409.2 787.9 411.6 791.2 414.0 794.0 416.4 796.4 418.7 798.5 421.1 800.4 423.5 802.0 425.9 803.5 428.2 804.9 430.6 806.1 433.0 807.2 435.4 808.3 437.7 809.2 440.1 810.1 442.5 810.9 444.9 811.6 447.2 812.3 449.6 812.9 452.0 813.3 454.4 813.4 456.7 813.6 459.1 813.7 461.5 813.9 463.8 814.0 466.2 814.1 468.6 814.3 471.0 814.4 473.3 814.5 475.7 814.7 478.1 814.8 480.5 814.9 482.8 814.2 485.2 813.5 487.6 812.8 490.0 812.2 492.3 811.7 494.7 811.2 497.1 810.7 499.5 810.2 501.8 809.8 504.2 809.4 506.6 809.0 509.0 808.7 511.3 808.4 513.7 808.1 516.1 807.9 518.4 807.8 520.8 807.6 523.2 807.5 525.6 807.0 527.9 806.5 530.3 806.0 532.7 805.6 535.1 805.1 537.4 804.6 539.8 804.1 542.2 803.7 544.6 803.2 546.9 803.1 549.3 803.1 551.7 803.2 554.1 803.2 556.4 803.3 558.8 803.3 561.2 803.4 563.6 803.4 565.9 803.5 568.3 803.6 570.7 803.6 573.0 803.7 575.4 803.8 577.8 803.9 580.2 805.6 582.5 808.3 584.9 806.8 587.3 803.9 589.7 802.4 592.0 801.9 594.4 801.3 596.8 800.6 599.2 799.2 601.5 797.7 603.9 796.1 606.3 794.6 608.7 792.9 611.0 791.2 613.4 789.5 615.8 787.7 618.2 785.8 620.5 783.9 621.3 782.8 622.9 781.1 625.3 777.4 627.6 773.9 630.0 770.7 632.4 767.6 634.8 765.2 637.1 762.8 639.5 760.5 641.9 758.0 644.3 755.4 646.6 752.7 649.0 749.9 651.4 747.2 653.8 744.7 653.8 744.7 656.1 739.5 658.5 735.0 660.9 731.0 663.3 727.6 665.6 724.5 668.0 724.0 670.4 725.1 672.8 726.8 675.1 729.6 677.5 736.1 679.5 744.7 679.9 745.9 682.2 749.8 684.6 753.7 687.0 757.6 689.4 761.4 691.7 765.1 694.1 768.8 696.5 772.4 698.9 776.0 701.2 779.5 703.5 782.8 703.6 783.0 706.0 787.4 708.4 791.7 710.7 795.8 713.1 799.6 715.5 803.1 717.9 806.2 720.2 809.2 722.6 811.9 725.0 814.5 727.4 816.2 729.7 817.5 732.1 818.8 734.5 820.1 736.9 821.6 739.2 823.0 741.6 824.5 744.0 826.1 746.3 827.7 748.7 827.7 751.1 826.5 753.5 825.2 755.8 823.8 758.2 822.4 760.6 821.1 763.0 819.8 765.3 818.5 767.7 817.3 770.1 816.1 772.5 814.9 774.8 813.8 777.2 812.7 779.6 810.9 782.0 806.1 784.3 799.9 786.7 793.9 789.1 791.3 791.5 791.3 793.8 791.3 796.2 791.3 796.2 839.8 796.2 868.3 796.2 896.9 793.8 896.9 791.5 896.9 789.1 896.9 786.7 896.9 784.3 896.9 782.0 896.9 779.6 896.9 777.2 896.9 774.8 896.9 772.5 896.9 770.1 896.9 767.7 896.9 765.3 896.9 763.0 896.9 760.6 896.9 758.2 896.9 755.8 896.9 753.5 896.9 751.1 896.9 748.7 896.9 746.3 896.9 744.0 896.9 741.6 896.9 739.2 896.9 736.9 896.9 734.5 896.9 732.1 896.9 729.7 896.9 727.4 896.9 725.0 896.9 722.6 896.9 720.2 896.9 717.9 896.9 715.5 896.9 713.1 896.9 710.7 896.9 708.4 896.9 706.0 896.9 703.6 896.9 701.2 896.9 698.9 896.9 696.5 896.9 694.1 896.9 691.7 896.9 689.4 896.9 687.0 896.9 684.6 896.9 682.2 896.9 679.9 896.9 677.5 896.9 675.1 896.9 672.8 896.9 670.4 896.9 668.0 896.9 665.6 896.9 663.3 896.9 660.9 896.9 658.5 896.9 656.1 896.9 653.8 896.9 651.4 896.9 649.0 896.9 646.6 896.9 644.3 896.9 641.9 896.9 639.5 896.9 637.1 896.9 634.8 896.9 632.4 896.9 630.0 896.9 627.6 896.9 625.3 896.9 622.9 896.9 620.5 896.9 618.2 896.9 615.8 896.9 613.4 896.9 611.0 896.9 608.7 896.9 606.3 896.9 603.9 896.9 601.5 896.9 599.2 896.9 596.8 896.9 594.4 896.9 592.0 896.9 589.7 896.9 587.3 896.9 584.9 896.9 582.5 896.9 580.2 896.9 577.8 896.9 575.4 896.9 573.0 896.9 570.7 896.9 568.3 896.9 565.9 896.9 563.6 896.9 561.2 896.9 558.8 896.9 556.4 896.9 554.1 896.9 551.7 896.9 549.3 896.9 546.9 896.9 544.6 896.9 542.2 896.9 539.8 896.9 537.4 896.9 535.1 896.9 532.7 896.9 530.3 896.9 527.9 896.9 525.6 896.9 523.2 896.9 520.8 896.9 518.4 896.9 516.1 896.9 513.7 896.9 511.3 896.9 509.0 896.9 506.6 896.9 504.2 896.9 501.8 896.9 499.5 896.9 497.1 896.9 494.7 896.9 492.3 896.9 490.0 896.9 487.6 896.9 485.2 896.9 482.8 896.9 480.5 896.9 478.1 896.9 475.7 896.9 473.3 896.9 471.0 896.9 468.6 896.9 466.2 896.9 463.8 896.9 461.5 896.9 459.1 896.9 456.7 896.9 454.4 896.9 452.0 896.9 449.6 896.9 447.2 896.9 444.9 896.9 442.5 896.9 440.1 896.9 437.7 896.9 435.4 896.9 433.0 896.9 430.6 896.9 428.2 896.9 425.9 896.9 423.5 896.9 421.1 896.9 418.7 896.9 416.4 896.9 414.0 896.9 411.6 896.9 409.2 896.9 406.9 896.9 404.5 896.9 402.1 896.9 399.7 896.9 397.4 896.9 395.0 896.9 392.6 896.9 390.3 896.9 387.9 896.9 385.5 896.9 383.1 896.9 380.8 896.9 378.4 896.9 376.0 896.9 373.6 896.9 371.3 896.9 368.9 896.9 366.5 896.9 364.1 896.9 361.8 896.9 359.4 896.9 357.0 896.9 354.6 896.9 352.3 896.9 349.9 896.9 347.5 896.9 345.1 896.9 342.8 896.9 340.4 896.9 338.0 896.9 335.7 896.9 333.3 896.9 330.9 896.9 328.5 896.9 326.2 896.9 323.8 896.9 321.4 896.9 319.0 896.9 316.7 896.9 314.3 896.9 311.9 896.9 309.5 896.9 307.2 896.9 304.8 896.9 302.4 896.9 300.0 896.9 297.7 896.9 295.3 896.9 292.9 896.9 290.5 896.9 288.2 896.9 285.8 896.9 283.4 896.9 281.1 896.9 278.7 896.9 276.3 896.9 273.9 896.9 271.6 896.9 269.2 896.9 266.8 896.9 264.4 896.9 262.1 896.9 259.7 896.9 257.3 896.9 254.9 896.9 252.6 896.9 250.2 896.9 247.8 896.9 245.4 896.9 243.1 896.9 240.7 896.9 238.3 896.9 235.9 896.9 233.6 896.9 231.2 896.9 228.8 896.9 226.4 896.9 224.1 896.9 221.7 896.9 219.3 896.9 217.0 896.9 214.6 896.9 212.2 896.9 209.8 896.9 207.5 896.9 205.1 896.9 202.7 896.9 200.3 896.9 198.0 896.9 195.6 896.9 193.2 896.9 190.8 896.9 188.5 896.9 186.1 896.9 183.7 896.9 181.3 896.9 179.0 896.9 176.6 896.9 174.2 896.9 171.8 896.9 169.5 896.9 167.1 896.9 164.7 896.9 162.4 896.9 160.0 896.9 157.6 896.9 155.2 896.9 152.9 896.9 150.5 896.9 148.1 896.9 145.7 896.9 143.4 896.9 141.0 896.9 138.6 896.9 136.2 896.9 133.9 896.9 131.5 896.9 129.1 896.9 126.7 896.9 124.4 896.9 122.0 896.9 119.6 896.9 117.2 896.9 114.9 896.9 112.5 896.9 112.5 868.3 112.5 839.8 112.5 782.8 112.5 771.4 114.9 771.4 117.2 771.4 119.6 770.3 122.0 765.4 124.4 753.2 125.9 744.7 126.7 742.9Z"/>
<path fill="#ffa07a" fill-rule="evenodd" d="M252.6 630.7 254.9 630.7 257.3 630.7 259.7 630.7 262.1 630.7 264.4 630.7 266.8 630.7 269.2 630.7 271.6 630.7 273.9 630.7 276.3 630.7 278.7 630.7 281.1 630.7 283.4 630.7 284.2 630.7 283.4 631.2 281.1 633.6 278.7 635.9 276.3 638.1 273.9 639.6 271.6 640.7 269.2 641.7 266.8 642.1 264.4 640.5 262.1 638.9 259.7 637.3 257.3 635.7 254.9 634.0 252.6 632.3 250.3 630.7 252.6 630.7ZM136.2 782.2 138.6 780.7 141.0 778.9 143.4 776.7 145.7 774.0 148.1 772.4 150.5 772.6 152.9 769.0 155.2 766.8 157.6 765.3 160.0 764.3 162.4 763.6 164.7 763.0 167.1 761.4 169.5 759.5 171.8 760.3 174.2 761.0 176.6 761.7 179.0 762.4 181.3 764.9 183.7 770.0 186.1 776.9 187.8 782.8 188.5 795.1 190.8 831.4 192.0 839.8 193.2 840.9 195.6 842.0 198.0 842.7 200.3 842.9 202.7 843.1 205.1 843.4 207.5 843.7 209.8 844.5 212.2 845.5 214.6 846.3 217.0 847.2 219.3 848.2 221.7 849.8 224.1 851.5 226.4 853.6 228.8 855.1 231.2 855.8 233.6 855.6 235.9 854.5 238.3 854.7 240.7 854.8 243.1 855.1 245.4 855.3 247.8 855.5 250.2 855.7 252.6 856.0 254.9 856.2 257.3 856.5 259.7 856.8 262.1 857.1 264.4 857.4 266.8 857.8 269.2 858.2 271.6 858.5 273.9 859.0 276.3 859.4 278.7 859.9 281.1 860.4 283.4 860.2 285.8 859.6 288.2 858.9 290.5 858.3 292.9 857.7 295.3 857.2 297.7 856.6 300.0 856.1 302.4 855.6 304.8 855.1 307.2 854.7 309.5 854.2 311.9 853.8 314.3 853.3 316.7 852.9 319.0 852.5 321.4 852.2 323.8 851.8 326.2 851.4 328.5 851.1 330.9 850.7 333.3 850.3 335.7 849.8 338.0 849.4 340.4 848.9 342.8 848.5 345.1 848.1 347.5 847.8 349.9 847.4 352.3 847.1 354.6 846.8 357.0 846.5 359.4 846.3 361.8 846.4 364.1 846.5 366.5 846.6 368.9 846.7 371.3 846.8 373.6 846.9 376.0 847.1 378.4 847.2 380.8 847.4 383.1 847.5 385.5 847.7 387.9 848.9 390.3 851.0 392.6 854.5 395.0 851.6 397.4 848.8 399.7 847.1 402.1 846.6 404.5 846.3 406.9 846.0 409.2 845.8 411.6 845.5 414.0 845.2 416.4 845.0 418.7 844.7 421.1 844.5 423.5 844.3 425.9 844.0 428.2 843.8 430.6 843.6 433.0 843.4 435.4 843.1 437.7 842.9 440.1 842.7 442.5 842.5 444.9 842.3 447.2 842.1 449.6 842.0 452.0 841.8 454.4 841.6 456.7 841.4 459.1 841.2 461.5 841.1 463.8 840.9 466.2 840.7 468.6 840.6 471.0 840.4 473.3 840.3 475.7 840.1 478.1 840.0 480.5 839.8 480.5 839.8 482.8 838.1 485.2 836.5 487.6 835.0 490.0 833.6 492.3 832.3 494.7 831.1 497.1 830.0 499.5 828.9 501.8 827.9 504.2 827.0 506.6 826.1 509.0 825.3 511.3 824.5 513.7 823.8 516.1 823.4 518.4 822.9 520.8 822.5 523.2 822.1 525.6 821.5 527.9 820.9 530.3 820.3 532.7 819.7 535.1 819.1 537.4 818.6 539.8 818.0 542.2 817.4 544.6 816.9 546.9 816.8 549.3 817.1 551.7 817.4 554.1 817.7 556.4 818.1 558.8 818.4 561.2 818.8 563.6 819.2 565.9 819.6 568.3 820.0 570.7 820.4 573.0 820.8 575.4 821.3 577.8 821.8 580.2 825.4 582.5 830.7 584.9 828.5 587.3 823.4 589.7 820.9 592.0 820.2 594.4 819.5 596.8 818.7 599.2 817.6 601.5 816.4 603.9 815.1 606.3 813.8 608.7 812.5 611.0 811.1 613.4 809.7 615.8 808.2 618.2 806.7 620.5 805.2 622.9 802.7 625.3 798.8 627.6 794.3 630.0 788.9 632.3 782.8 632.4 782.7 634.8 780.2 637.1 777.7 639.5 775.3 641.9 772.8 644.3 770.3 646.6 767.7 649.0 764.3 651.4 761.2 653.8 759.5 656.1 759.9 658.5 760.5 660.9 764.0 663.3 775.4 665.0 782.8 665.6 785.6 668.0 793.1 670.4 796.4 672.8 793.8 675.1 792.7 677.5 792.7 679.9 797.0 682.2 801.3 684.6 803.9 687.0 806.5 689.4 809.2 691.7 811.9 694.1 814.7 696.5 817.5 698.9 820.4 701.2 823.3 703.6 826.3 706.0 829.7 708.4 833.0 710.7 836.1 713.1 839.0 714.0 839.8 715.5 840.7 717.9 841.9 720.2 843.1 722.6 844.7 725.0 852.3 727.4 846.7 729.7 846.4 732.1 846.5 734.5 846.6 736.9 846.7 739.2 846.8 741.6 847.3 744.0 848.3 746.3 849.4 748.7 850.0 751.1 850.2 753.5 850.4 755.8 850.4 758.2 850.3 760.6 850.2 763.0 850.1 765.3 850.0 767.7 849.8 770.1 849.6 772.5 849.2 774.8 848.4 777.2 845.8 779.6 842.4 780.2 839.8 782.0 837.1 784.3 830.5 786.7 824.0 789.1 819.9 791.5 819.9 793.8 819.9 796.2 819.9 796.2 839.8 796.2 868.3 796.2 896.9 793.8 896.9 791.5 896.9 789.1 896.9 786.7 896.9 784.3 896.9 782.0 896.9 779.6 896.9 777.2 896.9 774.8 896.9 772.5 896.9 770.1 896.9 767.7 896.9 765.3 896.9 763.0 896.9 760.6 896.9 758.2 896.9 755.8 896.9 753.5 896.9 751.1 896.9 748.7 896.9 746.3 896.9 744.0 896.9 741.6 896.9 739.2 896.9 736.9 896.9 734.5 896.9 732.1 896.9 729.7 896.9 727.4 896.9 725.0 896.9 722.6 896.9 720.2 896.9 717.9 896.9 715.5 896.9 713.1 896.9 710.7 896.9 708.4 896.9 706.0 896.9 703.6 896.9 701.2 896.9 698.9 896.9 696.5 896.9 694.1 896.9 691.7 896.9 689.4 896.9 687.0 896.9 684.6 896.9 682.2 896.9 679.9 896.9 677.5 896.9 675.1 896.9 672.8 896.9 670.4 896.9 668.0 896.9 665.6 896.9 663.3 896.9 660.9 896.9 658.5 896.9 656.1 896.9 653.8 896.9 651.4 896.9 649.0 896.9 646.6 896.9 644.3 896.9 641.9 896.9 639.5 896.9 637.1 896.9 634.8 896.9 632.4 896.9 630.0 896.9 627.6 896.9 625.3 896.9 622.9 896.9 620.5 896.9 618.2 896.9 615.8 896.9 613.4 896.9 611.0 896.9 608.7 896.9 606.3 896.9 603.9 896.9 601.5 896.9 599.2 896.9 596.8 896.9 594.4 896.9 592.0 896.9 589.7 896.9 587.3 896.9 584.9 896.9 582.5 896.9 580.2 896.9 577.8 896.9 575.4 896.9 573.0 896.9 570.7 896.9 568.3 896.9 565.9 896.9 563.6 896.9 561.2 896.9 558.8 896.9 556.4 896.9 554.1 896.9 551.7 896.9 549.3 896.9 546.9 896.9 544.6 896.9 542.2 896.9 539.8 896.9 537.4 896.9 535.1 896.9 532.7 896.9 530.3 896.9 527.9 896.9 525.6 896.9 523.2 896.9 520.8 896.9 518.4 896.9 516.1 896.9 513.7 896.9 511.3 896.9 509.0 896.9 506.6 896.9 504.2 896.9 501.8 896.9 499.5 896.9 497.1 896.9 494.7 896.9 492.3 896.9 490.0 896.9 487.6 896.9 485.2 896.9 482.8 896.9 480.5 896.9 478.1 896.9 475.7 896.9 473.3 896.9 471.0 896.9 468.6 896.9 466.2 896.9 463.8 896.9 461.5 896.9 459.1 896.9 456.7 896.9 454.4 896.9 452.0 896.9 449.6 896.9 447.2 896.9 444.9 896.9 442.5 896.9 440.1 896.9 437.7 896.9 435.4 896.9 433.0 896.9 430.6 896.9 428.2 896.9 425.9 896.9 423.5 896.9 421.1 896.9 418.7 896.9 416.4 896.9 414.0 896.9 411.6 896.9 409.2 896.9 406.9 896.9 404.5 896.9 402.1 896.9 399.7 896.9 397.4 896.9 395.0 896.9 392.6 896.9 390.3 896.9 387.9 896.9 385.5 896.9 383.1 896.9 380.8 896.9 378.4 896.9 376.0 896.9 373.6 896.9 371.3 896.9 368.9 896.9 366.5 896.9 364.1 896.9 361.8 896.9 359.4 896.9 357.0 896.9 354.6 896.9 352.3 896.9 349.9 896.9 347.5 896.9 345.1 896.9 342.8 896.9 340.4 896.9 338.0 896.9 335.7 896.9 333.3 896.9 330.9 896.9 328.5 896.9 326.2 896.9 323.8 896.9 321.4 896.9 319.0 896.9 316.7 896.9 314.3 896.9 311.9 896.9 309.5 896.9 307.2 896.9 304.8 896.9 302.4 896.9 300.0 896.9 297.7 896.9 295.3 896.9 292.9 896.9 290.5 896.9 288.2 896.9 285.8 896.9 283.4 896.9 281.1 896.9 278.7 896.9 276.3 896.9 273.9 896.9 271.6 896.9 269.2 896.9 266.8 896.9 264.4 896.9 262.1 896.9 259.7 896.9 257.3 896.9 254.9 896.9 252.6 896.9 250.2 896.9 247.8 896.9 245.4 896.9 243.1 896.9 240.7 896.9 238.3 896.9 235.9 896.9 233.6 896.9 231.2 896.9 228.8 896.9 226.4 896.9 224.1 896.9 221.7 896.9 219.3 896.9 217.0 896.9 214.6 896.9 212.2 896.9 209.8 896.9 207.5 896.9 205.1 896.9 202.7 896.9 200.3 896.9 198.0 896.9 195.6 896.9 193.2 896.9 190.8 896.9 190.4 896.9 188.5 890.6 186.1 882.4 183.7 871.0 183.5 868.3 181.3 856.8 179.0 859.9 177.1 868.3 178.6 896.9 176.6 896.9 174.2 896.9 171.8 896.9 169.5 896.9 167.1 896.9 164.7 896.9 162.4 896.9 160.0 896.9 157.6 896.9 155.2 896.9 152.9 896.9 150.5 896.9 148.1 896.9 145.7 896.9 143.4 896.9 141.0 896.9 138.6 896.9 136.2 896.9 133.9 896.9 131.5 896.9 129.1 896.9 126.7 896.9 124.4 896.9 122.0 896.9 119.6 896.9 117.2 896.9 114.9 896.9 112.5 896.9 112.5 874.2 114.9 874.2 117.2 874.2 119.6 874.2 122.0 874.2 124.4 874.0 126.7 873.0 129.1 871.9 131.5 870.6 133.9 869.2 134.2 868.3 133.9 864.8 131.5 858.6 129.1 846.6 128.0 839.8 129.1 826.2 131.5 802.3 133.9 789.8 136.0 782.8 136.2 782.2ZM138.5 839.8 138.6 840.0 141.0 842.4 143.4 849.5 145.3 868.3 145.7 869.2 148.1 871.3 150.5 873.2 152.9 874.8 155.2 873.4 157.6 871.5 160.0 869.2 160.2 868.3 162.4 853.4 164.7 846.9 167.1 844.3 169.5 843.7 171.8 843.1 174.2 841.4 174.4 839.8 174.2 838.8 171.8 835.8 169.5 833.2 167.1 828.4 164.7 823.0 162.4 818.4 160.0 813.6 157.6 808.4 155.2 804.9 152.9 801.8 150.5 796.6 148.1 797.1 145.7 797.9 143.4 799.4 141.0 803.0 138.6 825.5 138.5 839.8ZM635.1 868.3 637.1 869.9 639.5 871.4 640.9 868.3 639.5 864.1 637.1 866.0 635.1 868.3Z"/>
<path fill="#ff7442" fill-rule="evenodd" d="M167.1 779.1 169.5 774.1 171.8 774.6 174.2 775.2 176.6 775.8 179.0 776.3 181.3 780.0 182.3 782.8 181.3 826.2 179.0 821.3 176.6 806.8 174.2 802.2 171.8 801.9 169.5 801.7 167.1 790.5 165.3 782.8 167.1 779.1ZM646.6 782.6 649.0 778.7 651.4 775.1 653.8 774.2 656.1 777.3 658.5 781.9 658.7 782.8 660.9 797.1 663.3 817.6 665.2 839.8 665.6 842.4 668.0 849.7 670.4 849.4 672.8 841.8 673.1 839.8 675.1 827.6 677.5 821.6 679.9 832.2 681.9 839.8 682.2 841.1 684.6 843.7 687.0 846.1 689.4 848.3 691.7 850.4 694.1 852.4 696.5 854.2 698.9 855.9 701.2 857.5 703.6 859.0 706.0 860.4 708.4 861.8 710.7 863.1 713.1 864.3 715.5 865.4 717.9 866.4 720.2 867.5 720.8 868.3 722.6 873.4 725.0 887.0 727.4 874.7 728.6 868.3 729.7 866.2 732.1 864.1 734.5 862.4 736.9 861.0 739.2 859.9 741.6 860.3 744.0 861.8 746.3 863.4 748.7 865.1 751.1 867.0 752.8 868.3 753.5 868.9 755.8 870.3 758.2 871.4 760.6 872.4 763.0 873.2 765.3 873.9 767.7 874.7 770.1 875.4 772.5 876.1 774.8 876.7 777.2 876.7 779.6 876.7 782.0 876.7 784.3 876.7 786.7 876.7 789.1 876.7 791.5 876.7 793.8 876.7 796.2 876.7 796.2 896.9 793.8 896.9 791.5 896.9 789.1 896.9 786.7 896.9 784.3 896.9 782.0 896.9 779.6 896.9 777.2 896.9 774.8 896.9 772.5 896.9 770.1 896.9 767.7 896.9 765.3 896.9 763.0 896.9 760.6 896.9 758.2 896.9 755.8 896.9 753.5 896.9 751.1 896.9 748.7 896.9 746.3 896.9 744.0 896.9 741.6 896.9 739.2 896.9 736.9 896.9 734.5 896.9 732.1 896.9 729.7 896.9 727.4 896.9 725.0 896.9 722.6 896.9 720.2 896.9 717.9 896.9 715.5 896.9 713.1 896.9 710.7 896.9 708.4 896.9 706.0 896.9 703.6 896.9 701.2 896.9 698.9 896.9 696.5 896.9 694.1 896.9 691.7 896.9 689.4 896.9 687.0 896.9 684.6 896.9 682.2 896.9 679.9 896.9 677.5 896.9 675.1 896.9 672.8 896.9 670.4 896.9 668.0 896.9 665.6 896.9 663.3 896.9 660.9 896.9 658.5 896.9 656.1 896.9 653.8 896.9 651.4 896.9 649.0 896.9 646.6 896.9 644.3 896.9 641.9 896.9 639.5 896.9 637.1 896.9 634.8 896.9 632.4 896.9 630.0 896.9 627.6 896.9 625.3 896.9 622.9 896.9 620.5 896.9 618.2 896.9 615.8 896.9 613.4 896.9 611.0 896.9 608.7 896.9 606.3 896.9 603.9 896.9 601.5 896.9 599.2 896.9 596.8 896.9 594.4 896.9 592.0 896.9 589.7 896.9 587.3 896.9 584.9 896.9 582.5 896.9 580.2 896.9 577.8 896.9 575.4 896.9 573.0 896.9 570.7 896.9 568.3 896.9 565.9 896.9 563.6 896.9 561.2 896.9 558.8 896.9 556.4 896.9 554.1 896.9 551.7 896.9 549.3 896.9 546.9 896.9 544.6 896.9 542.2 896.9 539.8 896.9 537.4 896.9 535.1 896.9 532.7 896.9 530.3 896.9 527.9 896.9 525.6 896.9 523.2 896.9 520.8 896.9 518.4 896.9 516.1 896.9 513.7 896.9 511.3 896.9 509.0 896.9 506.6 896.9 504.2 896.9 501.8 896.9 499.5 896.9 497.1 896.9 494.7 896.9 492.3 896.9 490.0 896.9 487.6 896.9 485.2 896.9 482.8 896.9 480.5 896.9 478.1 896.9 475.7 896.9 473.3 896.9 471.0 896.9 468.6 896.9 466.2 896.9 463.8 896.9 461.5 896.9 459.1 896.9 456.7 896.9 454.4 896.9 452.0 896.9 449.6 896.9 447.2 896.9 444.9 896.9 442.5 896.9 440.1 896.9 437.7 896.9 435.4 896.9 433.0 896.9 430.6 896.9 428.2 896.9 425.9 896.9 423.5 896.9 421.1 896.9 418.7 896.9 416.4 896.9 414.0 896.9 411.6 896.9 409.2 896.9 406.9 896.9 404.5 896.9 402.1 896.9 399.7 896.9 397.4 896.9 395.0 896.9 392.6 896.9 390.3 896.9 387.9 896.9 385.5 896.9 383.1 896.9 380.8 896.9 378.4 896.9 376.0 896.9 373.6 896.9 371.3 896.9 368.9 896.9 366.5 896.9 364.1 896.9 361.8 896.9 359.4 896.9 357.0 896.9 354.6 896.9 352.3 896.9 349.9 896.9 347.5 896.9 345.1 896.9 342.8 896.9 340.4 896.9 338.0 896.9 335.7 896.9 333.3 896.9 330.9 896.9 328.5 896.9 326.2 896.9 323.8 896.9 321.4 896.9 319.0 896.9 316.7 896.9 314.3 896.9 311.9 896.9 309.5 896.9 307.2 896.9 304.8 896.9 302.4 896.9 300.0 896.9 297.7 896.9 295.3 896.9 292.9 896.9 290.5 896.9 288.2 896.9 285.8 896.9 283.4 896.9 281.1 896.9 278.7 896.9 276.3 896.9 273.9 896.9 271.6 896.9 269.2 896.9 266.8 896.9 264.4 896.9 262.1 896.9 259.7 896.9 257.3 896.9 254.9 896.9 252.6 896.9 250.2 896.9 247.8 896.9 245.4 896.9 243.1 896.9 240.7 896.9 238.3 896.9 235.9 896.9 233.6 896.9 231.2 896.9 228.8 896.9 226.4 896.9 224.1 896.9 221.7 896.9 219.3 896.9 217.0 896.9 214.6 896.9 212.2 896.9 209.8 896.9 207.5 896.9 205.1 896.9 202.7 896.9 200.3 896.9 198.0 896.9 195.6 896.9 195.1 896.9 193.2 883.7 190.8 877.3 188.5 869.0 188.3 868.3 188.5 867.0 190.8 859.5 193.2 857.5 195.6 856.2 198.0 854.8 200.3 852.8 202.7 851.5 205.1 850.7 207.5 850.4 209.8 851.8 212.2 853.2 214.6 854.3 217.0 855.5 219.3 856.7 221.7 858.3 224.1 860.1 226.4 862.4 228.8 864.6 231.2 867.1 233.2 868.3 233.6 868.8 235.9 869.8 238.3 870.9 240.7 872.2 243.1 873.8 245.4 875.7 247.8 878.2 250.2 881.4 252.6 880.0 254.9 879.0 257.3 878.4 259.7 877.9 262.1 877.5 264.4 877.2 266.8 876.5 269.2 875.9 271.6 875.5 273.9 876.3 276.3 877.5 278.7 879.0 281.1 880.7 283.4 882.1 285.8 883.6 288.2 885.7 290.5 885.7 292.9 882.7 295.3 880.3 297.7 878.4 300.0 876.2 302.4 873.8 304.8 872.6 307.2 871.8 309.5 871.4 311.9 871.5 314.3 871.6 316.7 871.6 319.0 871.7 321.4 870.8 323.8 870.0 326.2 869.4 328.5 868.9 330.9 868.5 331.5 868.3 333.3 867.7 335.7 866.7 338.0 865.7 340.4 864.8 342.8 864.0 345.1 863.2 347.5 862.4 349.9 861.7 352.3 861.0 354.6 860.3 357.0 859.7 359.4 859.4 361.8 859.9 364.1 860.4 366.5 861.0 368.9 861.7 371.3 862.4 373.6 863.2 376.0 864.0 378.4 864.9 380.8 865.8 383.1 866.9 385.5 868.1 385.6 868.3 387.9 872.9 390.3 877.1 392.6 880.3 395.0 878.7 397.4 875.2 399.7 869.3 401.0 868.3 402.1 867.8 404.5 867.3 406.9 866.7 409.2 866.2 411.6 865.7 414.0 865.2 416.4 864.7 418.7 864.2 421.1 863.8 423.5 863.3 425.9 862.8 428.2 862.4 430.6 862.0 433.0 861.6 435.4 861.2 437.7 860.8 440.1 860.4 442.5 860.0 444.9 859.6 447.2 859.2 449.6 858.9 452.0 858.5 454.4 858.2 456.7 857.8 459.1 857.5 461.5 857.2 463.8 856.8 466.2 856.5 468.6 856.2 471.0 855.9 473.3 855.6 475.7 855.3 478.1 855.0 480.5 854.8 482.8 854.0 485.2 853.2 487.6 852.4 490.0 851.4 492.3 850.3 494.7 849.2 497.1 848.0 499.5 846.8 501.8 845.7 504.2 844.5 506.6 843.2 509.0 842.0 511.3 840.7 513.2 839.8 513.7 839.6 516.1 838.8 518.4 838.1 520.8 837.3 523.2 836.6 525.6 835.9 527.9 835.2 530.3 834.5 532.7 833.8 535.1 833.2 537.4 832.5 539.8 831.8 542.2 831.2 544.6 830.6 546.9 830.6 549.3 831.1 551.7 831.7 554.1 832.3 556.4 832.9 558.8 833.5 561.2 834.2 563.6 834.9 565.9 835.6 568.3 836.3 570.7 837.1 573.0 837.9 575.4 838.8 577.8 839.7 577.9 839.8 577.8 841.7 575.4 851.8 573.0 860.0 570.7 866.7 570.4 868.3 570.7 868.5 573.0 869.1 575.4 869.7 577.8 870.3 580.2 870.8 582.5 871.3 584.9 871.8 587.3 872.2 589.7 872.6 592.0 873.0 594.4 873.4 596.8 873.8 599.2 874.1 601.5 874.5 603.9 874.8 606.3 875.1 608.7 875.4 611.0 875.7 613.4 875.9 615.8 876.2 618.2 876.4 620.5 876.7 622.9 876.9 625.3 877.1 627.6 877.3 630.0 877.5 632.4 877.7 634.8 877.9 637.1 879.1 639.5 880.0 641.9 876.2 644.3 870.6 644.7 868.3 644.3 865.3 641.9 857.4 639.5 852.0 637.1 852.6 634.8 853.6 632.4 853.5 630.0 853.4 627.6 853.2 625.3 853.1 622.9 852.9 620.5 852.7 618.2 852.5 615.8 852.3 613.4 852.0 611.0 851.7 608.7 851.4 606.3 851.0 603.9 850.5 601.5 849.8 599.2 849.1 596.8 848.1 594.4 846.7 592.0 844.8 589.7 842.0 589.3 839.8 589.7 839.4 592.0 838.5 594.4 837.7 596.8 836.9 599.2 836.0 601.5 835.0 603.9 834.1 606.3 833.1 608.7 832.1 611.0 831.0 613.4 829.9 615.8 828.8 618.2 827.6 620.5 826.4 622.9 824.9 625.3 822.6 627.6 820.0 630.0 817.0 632.4 813.3 634.8 810.0 637.1 806.1 639.5 801.6 641.9 794.9 644.3 788.5 646.5 782.8 646.6 782.6ZM138.6 858.6 141.0 868.3 141.0 868.3 143.4 876.0 145.7 879.7 148.1 881.4 150.5 882.9 152.9 884.2 155.2 883.7 157.6 883.2 160.0 882.5 162.4 877.5 164.1 868.3 164.7 865.2 167.1 859.2 169.5 861.9 171.4 868.3 171.8 871.7 174.2 882.1 175.5 896.9 174.2 896.9 171.8 896.9 169.5 896.9 167.1 896.9 164.7 896.9 162.4 896.9 160.0 896.9 157.6 896.9 155.2 896.9 152.9 896.9 150.5 896.9 148.1 896.9 145.7 896.9 143.4 896.9 141.0 896.9 138.6 896.9 136.2 896.9 133.9 896.9 131.5 896.9 129.1 896.9 126.7 896.9 124.4 896.9 122.0 896.9 119.6 896.9 117.2 896.9 114.9 896.9 112.5 896.9 112.5 882.6 114.9 882.6 117.2 882.6 119.6 882.6 122.0 882.6 124.4 882.5 126.7 881.8 129.1 881.1 131.5 880.3 133.9 879.5 136.2 874.8 137.4 868.3 138.6 858.6Z"/>
<path fill="#ff4a14" fill-rule="evenodd" d="M641.9 832.0 644.3 824.6 646.6 817.5 649.0 809.0 651.4 798.8 653.8 794.0 656.1 804.1 658.5 816.4 660.9 832.6 661.6 839.8 663.3 854.9 665.6 865.3 667.7 868.3 668.0 868.7 670.4 869.5 672.8 870.2 675.1 870.8 677.5 871.3 679.9 871.9 682.2 872.6 684.6 873.2 687.0 873.9 689.4 874.7 691.7 875.4 694.1 876.1 696.5 876.9 698.9 877.6 701.2 878.4 703.6 879.2 706.0 880.0 708.4 881.7 710.7 884.6 713.1 888.4 715.5 893.9 716.6 896.9 715.5 896.9 713.1 896.9 710.7 896.9 708.4 896.9 706.0 896.9 703.6 896.9 701.2 896.9 698.9 896.9 696.5 896.9 694.1 896.9 691.7 896.9 689.4 896.9 687.0 896.9 684.6 896.9 682.2 896.9 679.9 896.9 677.5 896.9 675.1 896.9 672.8 896.9 670.4 896.9 668.0 896.9 665.6 896.9 663.3 896.9 660.9 896.9 658.5 896.9 656.1 896.9 653.8 896.9 651.4 896.9 649.0 896.9 646.6 896.9 644.3 896.9 641.9 896.9 639.5 896.9 637.1 896.9 634.8 896.9 632.4 896.9 630.0 896.9 627.6 896.9 625.3 896.9 622.9 896.9 620.5 896.9 618.2 896.9 615.8 896.9 613.4 896.9 611.0 896.9 608.7 896.9 606.3 896.9 603.9 896.9 601.5 896.9 599.2 896.9 596.8 896.9 594.4 896.9 592.0 896.9 589.7 896.9 587.3 896.9 584.9 896.9 582.5 896.9 580.2 896.9 577.8 896.9 575.4 896.9 573.0 896.9 570.7 896.9 568.3 896.9 565.9 896.9 563.6 896.9 561.2 896.9 558.8 896.9 556.4 896.9 554.1 896.9 551.7 896.9 549.3 896.9 546.9 896.9 544.6 896.9 542.2 896.9 539.8 896.9 537.4 896.9 535.1 896.9 532.7 896.9 530.3 896.9 527.9 896.9 525.6 896.9 523.2 896.9 520.8 896.9 518.4 896.9 516.1 896.9 513.7 896.9 511.3 896.9 509.0 896.9 506.6 896.9 504.2 896.9 501.8 896.9 499.5 896.9 497.1 896.9 494.7 896.9 492.3 896.9 490.0 896.9 487.6 896.9 485.2 896.9 482.8 896.9 480.5 896.9 478.1 896.9 475.7 896.9 473.3 896.9 471.0 896.9 470.7 896.9 471.0 896.3 473.3 894.3 475.7 891.9 478.1 889.2 480.5 885.9 482.8 882.0 485.2 877.2 487.6 871.2 488.1 868.3 490.0 867.7 492.3 866.8 494.7 865.7 497.1 864.7 499.5 863.7 501.8 862.6 504.2 861.5 506.6 860.4 509.0 859.3 511.3 858.2 513.7 857.1 516.1 856.1 518.4 856.4 520.8 856.6 523.2 857.0 525.6 857.3 527.9 857.8 530.3 858.4 532.7 859.1 535.1 860.0 537.4 861.3 539.8 863.1 542.2 865.8 543.4 868.3 544.6 870.6 546.9 874.8 549.3 877.7 551.7 879.8 554.1 881.4 556.4 882.7 558.8 883.7 561.2 884.5 563.6 885.2 565.9 885.8 568.3 886.4 570.7 886.7 573.0 886.8 575.4 886.8 577.8 886.9 580.2 887.0 582.5 887.0 584.9 887.1 587.3 887.1 589.7 887.2 592.0 887.2 594.4 887.3 596.8 887.3 599.2 887.4 601.5 887.4 603.9 887.4 606.3 887.5 608.7 887.5 611.0 887.5 613.4 887.6 615.8 887.6 618.2 887.6 620.5 887.7 622.9 887.7 625.3 887.7 627.6 887.7 630.0 887.8 632.4 887.8 634.8 887.8 637.1 888.3 639.5 888.7 641.9 886.8 644.3 883.9 646.6 874.9 647.4 868.3 646.6 859.4 644.3 847.4 641.9 842.9 639.5 839.8 641.9 832.0ZM198.0 867.0 200.3 862.7 202.7 859.8 205.1 858.1 207.5 857.2 209.8 859.1 212.2 861.0 214.6 862.3 217.0 863.7 219.3 865.2 221.7 866.9 223.7 868.3 224.1 869.8 226.4 879.4 228.8 885.9 231.2 890.6 233.6 893.7 235.9 896.9 233.6 896.9 231.2 896.9 228.8 896.9 226.4 896.9 224.1 896.9 221.7 896.9 219.3 896.9 217.0 896.9 214.6 896.9 212.2 896.9 209.8 896.9 207.5 896.9 205.1 896.9 202.7 896.9 200.3 896.9 199.7 896.9 198.0 876.0 196.9 868.3 198.0 867.0ZM114.9 891.0 117.2 891.0 119.6 891.0 122.0 891.0 124.4 890.9 126.7 890.7 129.1 890.4 131.5 890.1 133.9 889.7 136.2 887.8 138.6 879.9 141.0 885.1 143.4 888.3 145.7 890.3 148.1 891.5 150.5 892.5 152.9 893.5 155.2 894.1 157.6 894.8 160.0 895.8 162.1 896.9 160.0 896.9 157.6 896.9 155.2 896.9 152.9 896.9 150.5 896.9 148.1 896.9 145.7 896.9 143.4 896.9 141.0 896.9 138.6 896.9 136.2 896.9 133.9 896.9 131.5 896.9 129.1 896.9 126.7 896.9 124.4 896.9 122.0 896.9 119.6 896.9 117.2 896.9 114.9 896.9 112.5 896.9 112.5 891.0 114.9 891.0ZM266.8 893.2 269.2 890.5 271.6 888.4 273.9 889.8 276.3 892.3 278.7 895.4 279.8 896.9 278.7 896.9 276.3 896.9 273.9 896.9 271.6 896.9 269.2 896.9 266.8 896.9 264.4 896.9 266.8 893.2ZM300.0 893.9 302.4 886.9 304.8 883.6 307.2 881.8 309.5 881.3 311.9 882.7 314.3 884.6 316.7 887.0 319.0 890.5 321.4 887.4 323.8 884.4 326.2 882.2 328.5 880.6 330.9 879.3 333.3 879.3 335.7 880.1 338.0 881.0 340.4 881.1 342.8 880.9 345.1 880.6 347.5 880.4 349.9 880.0 352.3 879.6 354.6 879.1 357.0 878.6 359.4 878.4 361.8 880.1 364.1 881.9 366.5 883.6 368.9 885.2 371.3 886.8 373.6 888.4 376.0 889.9 378.4 891.4 380.8 892.8 383.1 894.2 385.5 895.5 387.9 896.9 385.5 896.9 383.1 896.9 380.8 896.9 378.4 896.9 376.0 896.9 373.6 896.9 371.3 896.9 368.9 896.9 366.5 896.9 364.1 896.9 361.8 896.9 359.4 896.9 357.0 896.9 354.6 896.9 352.3 896.9 349.9 896.9 347.5 896.9 345.1 896.9 342.8 896.9 340.4 896.9 338.0 896.9 335.7 896.9 333.3 896.9 330.9 896.9 328.5 896.9 326.2 896.9 323.8 896.9 321.4 896.9 319.0 896.9 316.7 896.9 314.3 896.9 311.9 896.9 309.5 896.9 307.2 896.9 304.8 896.9 302.4 896.9 300.0 896.9 298.7 896.9 300.0 893.9ZM736.9 895.1 739.2 891.2 741.6 889.1 744.0 889.0 746.3 888.9 748.7 888.9 751.1 888.8 753.5 888.7 755.8 888.4 758.2 888.1 760.6 887.9 763.0 887.7 765.3 887.5 767.7 887.7 770.1 888.0 772.5 888.3 774.8 888.5 777.2 888.5 779.6 888.5 782.0 888.5 784.3 888.5 786.7 888.5 789.1 888.5 791.5 888.5 793.8 888.5 796.2 888.5 796.2 896.9 793.8 896.9 791.5 896.9 789.1 896.9 786.7 896.9 784.3 896.9 782.0 896.9 779.6 896.9 777.2 896.9 774.8 896.9 772.5 896.9 770.1 896.9 767.7 896.9 765.3 896.9 763.0 896.9 760.6 896.9 758.2 896.9 755.8 896.9 753.5 896.9 751.1 896.9 748.7 896.9 746.3 896.9 744.0 896.9 741.6 896.9 739.2 896.9 736.9 896.9 736.1 896.9 736.9 895.1Z"/>
<path fill="#e03000" fill-rule="evenodd" d="M651.4 834.4 653.8 821.0 656.1 835.1 656.9 839.8 657.9 868.3 658.5 877.7 660.9 884.6 663.3 886.9 665.6 888.1 668.0 888.2 670.4 887.7 672.8 887.3 675.1 886.9 677.5 886.5 679.9 886.9 682.2 887.7 684.6 888.5 687.0 889.3 689.4 890.2 691.7 891.0 694.1 891.9 696.5 892.8 698.9 893.7 701.2 894.6 703.6 895.5 706.0 896.5 706.3 896.9 706.0 896.9 703.6 896.9 701.2 896.9 698.9 896.9 696.5 896.9 694.1 896.9 691.7 896.9 689.4 896.9 687.0 896.9 684.6 896.9 682.2 896.9 679.9 896.9 677.5 896.9 675.1 896.9 672.8 896.9 670.4 896.9 668.0 896.9 665.6 896.9 663.3 896.9 660.9 896.9 658.5 896.9 656.1 896.9 653.8 896.9 651.4 896.9 649.3 896.9 650.8 868.3 650.2 839.8 651.4 834.4ZM202.7 868.1 205.1 865.4 207.5 864.0 209.8 866.3 211.9 868.3 212.2 870.6 214.6 881.8 217.0 896.9 214.6 896.9 212.2 896.9 209.8 896.9 207.5 896.9 205.1 896.9 204.8 896.9 202.7 870.3 202.6 868.3 202.7 868.1ZM304.8 894.7 307.2 891.8 309.5 891.2 311.9 894.0 313.8 896.9 311.9 896.9 309.5 896.9 307.2 896.9 304.8 896.9 303.7 896.9 304.8 894.7ZM326.2 895.1 328.5 892.4 330.9 890.1 333.3 890.8 335.7 893.1 338.0 896.1 339.4 896.9 338.0 896.9 335.7 896.9 333.3 896.9 330.9 896.9 328.5 896.9 326.2 896.9 325.0 896.9 326.2 895.1Z"/>
</g>
<rect x="112.5" y="630.7" width="683.7" height="266.2" fill="none" stroke="#000" stroke-width="2.2"/>
<g stroke="#000"><line x1="112.5" y1="630.7" x2="112.5" y2="614.1" stroke-width="2.2"/><line x1="112.5" y1="896.9" x2="112.5" y2="913.5" stroke-width="2.2"/><line x1="169.9" y1="630.7" x2="169.9" y2="622.5" stroke-width="1.4"/><line x1="169.9" y1="896.9" x2="169.9" y2="905.1" stroke-width="1.4"/><line x1="227.2" y1="630.7" x2="227.2" y2="614.1" stroke-width="2.2"/><line x1="227.2" y1="896.9" x2="227.2" y2="913.5" stroke-width="2.2"/><line x1="284.6" y1="630.7" x2="284.6" y2="622.5" stroke-width="1.4"/><line x1="284.6" y1="896.9" x2="284.6" y2="905.1" stroke-width="1.4"/><line x1="342.0" y1="630.7" x2="342.0" y2="614.1" stroke-width="2.2"/><line x1="342.0" y1="896.9" x2="342.0" y2="913.5" stroke-width="2.2"/><line x1="399.4" y1="630.7" x2="399.4" y2="622.5" stroke-width="1.4"/><line x1="399.4" y1="896.9" x2="399.4" y2="905.1" stroke-width="1.4"/><line x1="456.7" y1="630.7" x2="456.7" y2="614.1" stroke-width="2.2"/><line x1="456.7" y1="896.9" x2="456.7" y2="913.5" stroke-width="2.2"/><line x1="514.1" y1="630.7" x2="514.1" y2="622.5" stroke-width="1.4"/><line x1="514.1" y1="896.9" x2="514.1" y2="905.1" stroke-width="1.4"/><line x1="571.5" y1="630.7" x2="571.5" y2="614.1" stroke-width="2.2"/><line x1="571.5" y1="896.9" x2="571.5" y2="913.5" stroke-width="2.2"/><line x1="628.9" y1="630.7" x2="628.9" y2="622.5" stroke-width="1.4"/><line x1="628.9" y1="896.9" x2="628.9" y2="905.1" stroke-width="1.4"/><line x1="686.2" y1="630.7" x2="686.2" y2="614.1" stroke-width="2.2"/><line x1="686.2" y1="896.9" x2="686.2" y2="913.5" stroke-width="2.2"/><line x1="743.6" y1="630.7" x2="743.6" y2="622.5" stroke-width="1.4"/><line x1="743.6" y1="896.9" x2="743.6" y2="905.1" stroke-width="1.4"/><line x1="112.5" y1="630.7" x2="95.7" y2="630.7" stroke-width="2.2"/><line x1="112.5" y1="668.7" x2="95.7" y2="668.7" stroke-width="2.2"/><line x1="112.5" y1="706.7" x2="95.7" y2="706.7" stroke-width="2.2"/><line x1="112.5" y1="782.8" x2="95.7" y2="782.8" stroke-width="2.2"/><line x1="112.5" y1="839.8" x2="95.7" y2="839.8" stroke-width="2.2"/><line x1="112.5" y1="896.9" x2="95.7" y2="896.9" stroke-width="2.2"/><line x1="796.2" y1="652.6" x2="812.7" y2="652.6" stroke-width="2.2"/><line x1="796.2" y1="750.7" x2="812.7" y2="750.7" stroke-width="2.2"/></g>
<text x="84.3" y="636.7" text-anchor="end" font-size="16.7">300</text><text x="84.3" y="674.7" text-anchor="end" font-size="16.7">400</text><text x="84.3" y="712.7" text-anchor="end" font-size="16.7">500</text><text x="84.3" y="788.8" text-anchor="end" font-size="16.7">700</text><text x="84.3" y="845.8" text-anchor="end" font-size="16.7">850</text><text x="84.3" y="902.9" text-anchor="end" font-size="16.7">1000</text><text x="823.3" y="658.6" font-size="16.7">8</text><text x="823.3" y="756.7" font-size="16.7">4</text><text x="112.5" y="937.8" text-anchor="middle" font-size="16.9">0</text><text x="227.2" y="937.8" text-anchor="middle" font-size="16.9">60E</text><text x="342.0" y="937.8" text-anchor="middle" font-size="16.9">120E</text><text x="456.7" y="937.8" text-anchor="middle" font-size="16.9">180</text><text x="571.5" y="937.8" text-anchor="middle" font-size="16.9">120W</text><text x="686.2" y="937.8" text-anchor="middle" font-size="16.9">60W</text><text x="454.3" y="954.5" text-anchor="middle" font-size="15.6" xml:space="preserve">MIN =  15.97  MAX =  92.69</text><text x="110.6" y="608.5" font-size="21">relative humidity</text><text x="797.1" y="608.5" text-anchor="end" font-size="21.2">percent</text><text x="454.3" y="574.1" text-anchor="middle" font-size="26.3">NCEP</text><text transform="translate(25.3 764.2) rotate(-90) scale(0.94 1)" text-anchor="middle" font-size="28.3">Pressure (mb)</text><text transform="translate(874.6 763.9) rotate(-90) scale(0.95 1)" text-anchor="middle" font-size="28.3">Height (km)</text>
<rect x="116.10" y="971.2" width="42.26" height="11.3" fill="#00008f"/><rect x="158.36" y="971.2" width="42.26" height="11.3" fill="#0022c0"/><rect x="200.61" y="971.2" width="42.26" height="11.3" fill="#0033e0"/><rect x="242.87" y="971.2" width="42.26" height="11.3" fill="#1a4cff"/><rect x="285.12" y="971.2" width="42.26" height="11.3" fill="#4477ff"/><rect x="327.38" y="971.2" width="42.26" height="11.3" fill="#80a5ff"/><rect x="369.64" y="971.2" width="42.26" height="11.3" fill="#b0c8ff"/><rect x="411.89" y="971.2" width="42.26" height="11.3" fill="#dceaff"/><rect x="454.15" y="971.2" width="42.26" height="11.3" fill="#ffebdc"/><rect x="496.41" y="971.2" width="42.26" height="11.3" fill="#ffc8b0"/><rect x="538.66" y="971.2" width="42.26" height="11.3" fill="#ffa07a"/><rect x="580.92" y="971.2" width="42.26" height="11.3" fill="#ff7442"/><rect x="623.18" y="971.2" width="42.26" height="11.3" fill="#ff4a14"/><rect x="665.43" y="971.2" width="42.26" height="11.3" fill="#e03000"/><rect x="707.69" y="971.2" width="42.26" height="11.3" fill="#b82000"/><rect x="749.94" y="971.2" width="42.26" height="11.3" fill="#8a0000"/><g stroke="#000" stroke-width="1.4" fill="none"><rect x="116.1" y="971.2" width="676.1" height="11.3"/><line x1="158.36" y1="971.2" x2="158.36" y2="982.5"/><line x1="200.61" y1="971.2" x2="200.61" y2="982.5"/><line x1="242.87" y1="971.2" x2="242.87" y2="982.5"/><line x1="285.12" y1="971.2" x2="285.12" y2="982.5"/><line x1="327.38" y1="971.2" x2="327.38" y2="982.5"/><line x1="369.64" y1="971.2" x2="369.64" y2="982.5"/><line x1="411.89" y1="971.2" x2="411.89" y2="982.5"/><line x1="454.15" y1="971.2" x2="454.15" y2="982.5"/><line x1="496.41" y1="971.2" x2="496.41" y2="982.5"/><line x1="538.66" y1="971.2" x2="538.66" y2="982.5"/><line x1="580.92" y1="971.2" x2="580.92" y2="982.5"/><line x1="623.18" y1="971.2" x2="623.18" y2="982.5"/><line x1="665.43" y1="971.2" x2="665.43" y2="982.5"/><line x1="707.69" y1="971.2" x2="707.69" y2="982.5"/><line x1="749.94" y1="971.2" x2="749.94" y2="982.5"/></g><text x="158.36" y="1000.0" text-anchor="middle" font-size="15.5">5</text><text x="242.87" y="1000.0" text-anchor="middle" font-size="15.5">15</text><text x="327.38" y="1000.0" text-anchor="middle" font-size="15.5">25</text><text x="411.89" y="1000.0" text-anchor="middle" font-size="15.5">40</text><text x="496.41" y="1000.0" text-anchor="middle" font-size="15.5">60</text><text x="580.92" y="1000.0" text-anchor="middle" font-size="15.5">75</text><text x="665.43" y="1000.0" text-anchor="middle" font-size="15.5">85</text><text x="749.94" y="1000.0" text-anchor="middle" font-size="15.5">95</text>
<clipPath id="c2"><rect x="112.5" y="1116.7" width="683.7" height="266.2"/></clipPath>
<g clip-path="url(#c2)">
<path fill="#1a4cff" fill-rule="evenodd" d="M112.5 1116.7H796.2V1382.9H112.5Z"/>
<path fill="#4477ff" fill-rule="evenodd" d="M114.9 1116.7 117.2 1116.7 119.6 1116.7 122.0 1116.7 124.4 1116.7 126.7 1116.7 129.1 1116.7 131.5 1116.7 133.9 1116.7 136.2 1116.7 138.6 1116.7 141.0 1116.7 143.4 1116.7 145.7 1116.7 148.1 1116.7 150.5 1116.7 152.9 1116.7 155.2 1116.7 157.6 1116.7 160.0 1116.7 162.4 1116.7 164.7 1116.7 167.1 1116.7 169.5 1116.7 171.8 1116.7 174.2 1116.7 176.6 1116.7 179.0 1116.7 181.3 1116.7 183.7 1116.7 186.1 1116.7 188.5 1116.7 190.8 1116.7 193.2 1116.7 195.6 1116.7 198.0 1116.7 200.3 1116.7 202.7 1116.7 205.1 1116.7 206.2 1116.7 207.5 1125.8 209.8 1134.6 212.2 1141.5 214.6 1138.7 217.0 1130.4 219.3 1119.3 219.7 1116.7 221.7 1116.7 224.1 1116.7 226.4 1116.7 228.8 1116.7 231.2 1116.7 233.6 1116.7 235.9 1116.7 238.3 1116.7 240.7 1116.7 243.1 1116.7 245.4 1116.7 247.8 1116.7 250.2 1116.7 252.6 1116.7 254.9 1116.7 257.3 1116.7 259.7 1116.7 262.1 1116.7 264.4 1116.7 266.8 1116.7 269.2 1116.7 271.6 1116.7 273.9 1116.7 276.3 1116.7 278.7 1116.7 281.1 1116.7 283.4 1116.7 285.8 1116.7 288.2 1116.7 290.5 1116.7 292.9 1116.7 295.3 1116.7 297.7 1116.7 300.0 1116.7 302.4 1116.7 304.8 1116.7 307.2 1116.7 309.5 1116.7 311.9 1116.7 314.3 1116.7 316.7 1116.7 319.0 1116.7 321.4 1116.7 323.8 1116.7 326.2 1116.7 328.5 1116.7 330.9 1116.7 333.3 1116.7 335.7 1116.7 338.0 1116.7 340.4 1116.7 342.8 1116.7 345.1 1116.7 347.5 1116.7 349.9 1116.7 352.3 1116.7 354.6 1116.7 357.0 1116.7 359.4 1116.7 361.8 1116.7 364.1 1116.7 366.5 1116.7 368.9 1116.7 371.3 1116.7 373.6 1116.7 376.0 1116.7 378.4 1116.7 380.8 1116.7 383.1 1116.7 385.5 1116.7 387.9 1116.7 390.3 1116.7 392.6 1116.7 395.0 1116.7 397.4 1116.7 399.7 1116.7 402.1 1116.7 404.5 1116.7 406.9 1116.7 409.2 1116.7 411.6 1116.7 414.0 1116.7 416.4 1116.7 418.7 1116.7 421.1 1116.7 423.5 1116.7 425.9 1116.7 428.2 1116.7 430.6 1116.7 433.0 1116.7 435.4 1116.7 437.7 1116.7 440.1 1116.7 442.5 1116.7 444.9 1116.7 447.2 1116.7 449.6 1116.7 452.0 1116.7 454.4 1116.7 456.7 1116.7 459.1 1116.7 461.5 1116.7 463.8 1116.7 466.2 1116.7 468.6 1116.7 471.0 1116.7 473.3 1116.7 475.7 1116.7 478.1 1116.7 480.5 1116.7 482.8 1116.7 485.2 1116.7 487.6 1116.7 490.0 1116.7 492.3 1116.7 494.7 1116.7 497.1 1116.7 499.5 1116.7 501.8 1116.7 504.2 1116.7 506.6 1116.7 509.0 1116.7 511.3 1116.7 513.7 1116.7 516.1 1116.7 518.4 1116.7 520.8 1116.7 523.2 1116.7 525.6 1116.7 527.9 1116.7 530.3 1116.7 532.7 1116.7 535.1 1116.7 537.4 1116.7 539.8 1116.7 542.2 1116.7 544.6 1116.7 546.9 1116.7 549.3 1116.7 551.7 1116.7 554.1 1116.7 556.4 1116.7 558.8 1116.7 561.2 1116.7 563.6 1116.7 565.9 1116.7 568.3 1116.7 570.7 1116.7 573.0 1116.7 575.4 1116.7 577.8 1116.7 580.2 1116.7 582.5 1116.7 584.9 1116.7 587.3 1116.7 589.7 1116.7 592.0 1116.7 594.4 1116.7 596.8 1116.7 599.2 1116.7 601.5 1116.7 603.9 1116.7 606.3 1116.7 608.7 1116.7 611.0 1116.7 613.4 1116.7 615.8 1116.7 618.2 1116.7 620.5 1116.7 622.9 1116.7 625.3 1116.7 627.6 1116.7 630.0 1116.7 632.4 1116.7 634.8 1116.7 637.1 1116.7 639.5 1116.7 641.9 1116.7 644.3 1116.7 646.6 1116.7 649.0 1116.7 651.4 1116.7 653.8 1116.7 656.1 1116.7 658.5 1116.7 660.9 1116.7 663.3 1116.7 665.6 1116.7 668.0 1116.7 670.4 1116.7 672.8 1116.7 675.1 1116.7 677.5 1116.7 679.9 1116.7 682.2 1116.7 684.5 1116.7 684.6 1117.3 687.0 1122.9 689.4 1128.7 691.7 1134.8 694.1 1140.4 696.5 1139.0 698.9 1136.2 701.2 1132.1 703.6 1128.1 706.0 1123.9 708.4 1119.5 710.7 1116.7 710.7 1116.7 713.1 1116.7 715.5 1116.7 717.9 1116.7 720.2 1116.7 722.6 1116.7 725.0 1116.7 727.4 1116.7 729.7 1116.7 732.1 1116.7 734.5 1116.7 736.9 1116.7 739.2 1116.7 741.6 1116.7 744.0 1116.7 746.3 1116.7 748.7 1116.7 751.1 1116.7 753.5 1116.7 755.8 1116.7 758.2 1116.7 760.6 1116.7 763.0 1116.7 765.3 1116.7 767.7 1116.7 770.1 1116.7 772.5 1116.7 774.8 1116.7 777.2 1116.7 779.6 1116.7 782.0 1116.7 784.3 1116.7 786.7 1116.7 789.1 1116.7 791.5 1116.7 793.8 1116.7 796.2 1116.7 796.2 1154.7 796.2 1192.7 796.2 1230.7 796.2 1268.8 796.2 1297.3 796.2 1316.3 796.2 1325.8 796.2 1354.3 796.2 1382.9 793.8 1382.9 791.5 1382.9 789.1 1382.9 786.7 1382.9 784.3 1382.9 782.0 1382.9 779.6 1382.9 777.2 1382.9 774.8 1382.9 772.5 1382.9 770.1 1382.9 767.7 1382.9 765.3 1382.9 763.0 1382.9 760.6 1382.9 758.2 1382.9 755.8 1382.9 753.5 1382.9 751.1 1382.9 748.7 1382.9 746.3 1382.9 744.0 1382.9 741.6 1382.9 739.2 1382.9 736.9 1382.9 734.5 1382.9 732.1 1382.9 729.7 1382.9 727.4 1382.9 725.0 1382.9 722.6 1382.9 720.2 1382.9 717.9 1382.9 715.5 1382.9 713.1 1382.9 710.7 1382.9 708.4 1382.9 706.0 1382.9 703.6 1382.9 701.2 1382.9 698.9 1382.9 696.5 1382.9 694.1 1382.9 691.7 1382.9 689.4 1382.9 687.0 1382.9 684.6 1382.9 682.2 1382.9 679.9 1382.9 677.5 1382.9 675.1 1382.9 672.8 1382.9 670.4 1382.9 668.0 1382.9 665.6 1382.9 663.3 1382.9 660.9 1382.9 658.5 1382.9 656.1 1382.9 653.8 1382.9 651.4 1382.9 649.0 1382.9 646.6 1382.9 644.3 1382.9 641.9 1382.9 639.5 1382.9 637.1 1382.9 634.8 1382.9 632.4 1382.9 630.0 1382.9 627.6 1382.9 625.3 1382.9 622.9 1382.9 620.5 1382.9 618.2 1382.9 615.8 1382.9 613.4 1382.9 611.0 1382.9 608.7 1382.9 606.3 1382.9 603.9 1382.9 601.5 1382.9 599.2 1382.9 596.8 1382.9 594.4 1382.9 592.0 1382.9 589.7 1382.9 587.3 1382.9 584.9 1382.9 582.5 1382.9 580.2 1382.9 577.8 1382.9 575.4 1382.9 573.0 1382.9 570.7 1382.9 568.3 1382.9 565.9 1382.9 563.6 1382.9 561.2 1382.9 558.8 1382.9 556.4 1382.9 554.1 1382.9 551.7 1382.9 549.3 1382.9 546.9 1382.9 544.6 1382.9 542.2 1382.9 539.8 1382.9 537.4 1382.9 535.1 1382.9 532.7 1382.9 530.3 1382.9 527.9 1382.9 525.6 1382.9 523.2 1382.9 520.8 1382.9 518.4 1382.9 516.1 1382.9 513.7 1382.9 511.3 1382.9 509.0 1382.9 506.6 1382.9 504.2 1382.9 501.8 1382.9 499.5 1382.9 497.1 1382.9 494.7 1382.9 492.3 1382.9 490.0 1382.9 487.6 1382.9 485.2 1382.9 482.8 1382.9 480.5 1382.9 478.1 1382.9 475.7 1382.9 473.3 1382.9 471.0 1382.9 468.6 1382.9 466.2 1382.9 463.8 1382.9 461.5 1382.9 459.1 1382.9 456.7 1382.9 454.4 1382.9 452.0 1382.9 449.6 1382.9 447.2 1382.9 444.9 1382.9 442.5 1382.9 440.1 1382.9 437.7 1382.9 435.4 1382.9 433.0 1382.9 430.6 1382.9 428.2 1382.9 425.9 1382.9 423.5 1382.9 421.1 1382.9 418.7 1382.9 416.4 1382.9 414.0 1382.9 411.6 1382.9 409.2 1382.9 406.9 1382.9 404.5 1382.9 402.1 1382.9 399.7 1382.9 397.4 1382.9 395.0 1382.9 392.6 1382.9 390.3 1382.9 387.9 1382.9 385.5 1382.9 383.1 1382.9 380.8 1382.9 378.4 1382.9 376.0 1382.9 373.6 1382.9 371.3 1382.9 368.9 1382.9 366.5 1382.9 364.1 1382.9 361.8 1382.9 359.4 1382.9 357.0 1382.9 354.6 1382.9 352.3 1382.9 349.9 1382.9 347.5 1382.9 345.1 1382.9 342.8 1382.9 340.4 1382.9 338.0 1382.9 335.7 1382.9 333.3 1382.9 330.9 1382.9 328.5 1382.9 326.2 1382.9 323.8 1382.9 321.4 1382.9 319.0 1382.9 316.7 1382.9 314.3 1382.9 311.9 1382.9 309.5 1382.9 307.2 1382.9 304.8 1382.9 302.4 1382.9 300.0 1382.9 297.7 1382.9 295.3 1382.9 292.9 1382.9 290.5 1382.9 288.2 1382.9 285.8 1382.9 283.4 1382.9 281.1 1382.9 278.7 1382.9 276.3 1382.9 273.9 1382.9 271.6 1382.9 269.2 1382.9 266.8 1382.9 264.4 1382.9 262.1 1382.9 259.7 1382.9 257.3 1382.9 254.9 1382.9 252.6 1382.9 250.2 1382.9 247.8 1382.9 245.4 1382.9 243.1 1382.9 240.7 1382.9 238.3 1382.9 235.9 1382.9 233.6 1382.9 231.2 1382.9 228.8 1382.9 226.4 1382.9 224.1 1382.9 221.7 1382.9 219.3 1382.9 217.0 1382.9 214.6 1382.9 212.2 1382.9 209.8 1382.9 207.5 1382.9 205.1 1382.9 202.7 1382.9 200.3 1382.9 198.0 1382.9 195.6 1382.9 193.2 1382.9 190.8 1382.9 188.5 1382.9 186.1 1382.9 183.7 1382.9 181.3 1382.9 179.0 1382.9 176.6 1382.9 174.2 1382.9 171.8 1382.9 169.5 1382.9 167.1 1382.9 164.7 1382.9 162.4 1382.9 160.0 1382.9 157.6 1382.9 155.2 1382.9 152.9 1382.9 150.5 1382.9 148.1 1382.9 145.7 1382.9 143.4 1382.9 141.0 1382.9 138.6 1382.9 136.2 1382.9 133.9 1382.9 131.5 1382.9 129.1 1382.9 126.7 1382.9 124.4 1382.9 122.0 1382.9 119.6 1382.9 117.2 1382.9 114.9 1382.9 112.5 1382.9 112.5 1354.3 112.5 1325.8 112.5 1316.3 112.5 1297.3 112.5 1268.8 112.5 1230.7 112.5 1192.7 112.5 1154.7 112.5 1116.7 114.9 1116.7Z"/>
<path fill="#80a5ff" fill-rule="evenodd" d="M114.9 1116.7 117.2 1116.7 119.6 1116.7 122.0 1116.7 124.4 1116.7 126.7 1116.7 129.1 1116.7 131.5 1116.7 133.9 1116.7 136.2 1116.7 138.6 1116.7 141.0 1116.7 143.4 1116.7 145.7 1116.7 148.1 1116.7 150.5 1116.7 152.9 1116.7 155.2 1116.7 157.6 1116.7 160.0 1116.7 162.4 1116.7 164.7 1116.7 167.1 1116.7 169.5 1116.7 171.8 1116.7 174.2 1116.7 176.6 1116.7 179.0 1116.7 181.3 1116.7 183.7 1116.7 186.1 1116.7 188.5 1116.7 190.8 1116.7 193.2 1116.7 195.6 1116.7 198.0 1116.7 200.3 1116.7 202.7 1116.7 200.3 1151.9 199.1 1154.7 200.3 1158.8 202.7 1166.5 205.1 1168.7 207.5 1169.8 209.8 1170.5 212.2 1171.0 214.6 1169.4 217.0 1166.4 219.3 1163.5 221.7 1160.7 224.1 1157.9 226.4 1155.1 226.6 1154.7 226.8 1116.7 228.8 1116.7 231.2 1116.7 233.6 1116.7 235.9 1116.7 238.3 1116.7 240.7 1116.7 243.1 1116.7 245.4 1116.7 247.8 1116.7 250.2 1116.7 252.6 1116.7 254.9 1116.7 257.3 1116.7 259.7 1116.7 262.1 1116.7 264.4 1116.7 266.8 1116.7 269.2 1116.7 271.6 1116.7 273.9 1116.7 276.3 1116.7 278.7 1116.7 281.1 1116.7 283.4 1116.7 285.8 1116.7 288.2 1116.7 290.5 1116.7 292.9 1116.7 295.3 1116.7 297.7 1116.7 300.0 1116.7 302.4 1116.7 304.8 1116.7 307.2 1116.7 309.5 1116.7 311.9 1116.7 314.3 1116.7 316.7 1116.7 319.0 1116.7 321.4 1116.7 323.8 1116.7 326.2 1116.7 328.5 1116.7 330.9 1116.7 333.3 1116.7 335.7 1116.7 338.0 1116.7 340.4 1116.7 342.8 1116.7 345.1 1116.7 347.5 1116.7 349.9 1116.7 352.3 1116.7 354.6 1116.7 357.0 1116.7 359.4 1116.7 361.8 1116.7 364.1 1116.7 366.5 1116.7 368.9 1116.7 371.3 1116.7 373.6 1116.7 376.0 1116.7 378.4 1116.7 380.8 1116.7 383.1 1116.7 385.5 1116.7 387.9 1116.7 390.3 1116.7 392.6 1116.7 395.0 1116.7 397.4 1116.7 399.7 1116.7 402.1 1116.7 404.5 1116.7 406.9 1116.7 409.2 1116.7 411.6 1116.7 414.0 1116.7 416.4 1116.7 418.7 1116.7 421.1 1116.7 423.5 1116.7 425.9 1116.7 428.2 1116.7 430.6 1116.7 433.0 1116.7 435.4 1116.7 437.7 1116.7 440.1 1116.7 442.5 1116.7 444.9 1116.7 447.2 1116.7 449.6 1116.7 452.0 1116.7 454.4 1116.7 456.7 1116.7 459.1 1116.7 461.5 1116.7 463.8 1116.7 466.2 1116.7 468.6 1116.7 471.0 1116.7 473.3 1116.7 475.7 1116.7 478.1 1116.7 480.5 1116.7 482.8 1116.7 485.2 1116.7 487.6 1116.7 490.0 1116.7 492.3 1116.7 494.7 1116.7 497.1 1116.7 499.5 1116.7 501.8 1116.7 504.2 1116.7 506.6 1116.7 509.0 1116.7 511.3 1116.7 513.7 1116.7 516.1 1116.7 518.4 1116.7 520.8 1116.7 523.2 1116.7 525.6 1116.7 527.9 1116.7 530.3 1116.7 532.7 1116.7 535.1 1116.7 537.4 1116.7 539.8 1116.7 542.2 1116.7 544.6 1116.7 546.9 1116.7 549.3 1116.7 551.7 1116.7 554.1 1116.7 556.4 1116.7 558.8 1116.7 561.2 1116.7 563.6 1116.7 565.9 1116.7 568.3 1116.7 570.7 1116.7 573.0 1116.7 575.4 1116.7 577.8 1116.7 580.2 1116.7 582.5 1116.7 584.9 1116.7 587.3 1116.7 589.7 1116.7 592.0 1116.7 594.4 1116.7 596.8 1116.7 599.2 1116.7 601.5 1116.7 603.9 1116.7 606.3 1116.7 608.7 1116.7 611.0 1116.7 613.4 1116.7 615.8 1116.7 618.2 1116.7 620.5 1116.7 622.9 1116.7 625.3 1116.7 627.6 1116.7 630.0 1116.7 632.4 1116.7 634.8 1116.7 637.1 1116.7 639.5 1116.7 641.9 1116.7 644.3 1116.7 646.6 1116.7 649.0 1116.7 651.4 1116.7 653.8 1116.7 656.1 1116.7 658.5 1116.7 660.9 1116.7 663.3 1116.7 665.6 1116.7 668.0 1116.7 670.4 1116.7 672.8 1116.7 675.1 1116.7 677.5 1116.7 679.0 1116.7 679.9 1130.3 682.2 1154.7 682.2 1154.7 684.6 1162.7 687.0 1170.4 689.4 1176.2 691.7 1175.8 694.1 1175.2 696.5 1171.1 698.9 1167.0 701.2 1162.7 703.6 1158.3 705.1 1154.7 706.0 1152.6 708.4 1142.4 710.7 1135.7 713.1 1125.9 714.8 1116.7 715.5 1116.7 717.9 1116.7 720.2 1116.7 722.6 1116.7 725.0 1116.7 727.4 1116.7 729.7 1116.7 732.1 1116.7 734.5 1116.7 736.9 1116.7 739.2 1116.7 741.6 1116.7 744.0 1116.7 746.3 1116.7 748.7 1116.7 751.1 1116.7 753.5 1116.7 755.8 1116.7 758.2 1116.7 760.6 1116.7 763.0 1116.7 765.3 1116.7 767.7 1116.7 770.1 1116.7 772.5 1116.7 774.8 1116.7 777.2 1116.7 779.6 1116.7 782.0 1116.7 784.3 1116.7 786.7 1116.7 789.1 1116.7 791.5 1116.7 793.8 1116.7 796.2 1116.7 796.2 1154.7 796.2 1192.7 796.2 1230.7 796.2 1268.8 796.2 1297.3 796.2 1316.3 796.2 1325.8 796.2 1354.3 796.2 1382.9 793.8 1382.9 791.5 1382.9 789.1 1382.9 786.7 1382.9 784.3 1382.9 782.0 1382.9 779.6 1382.9 777.2 1382.9 774.8 1382.9 772.5 1382.9 770.1 1382.9 767.7 1382.9 765.3 1382.9 763.0 1382.9 760.6 1382.9 758.2 1382.9 755.8 1382.9 753.5 1382.9 751.1 1382.9 748.7 1382.9 746.3 1382.9 744.0 1382.9 741.6 1382.9 739.2 1382.9 736.9 1382.9 734.5 1382.9 732.1 1382.9 729.7 1382.9 727.4 1382.9 725.0 1382.9 722.6 1382.9 720.2 1382.9 717.9 1382.9 715.5 1382.9 713.1 1382.9 710.7 1382.9 708.4 1382.9 706.0 1382.9 703.6 1382.9 701.2 1382.9 698.9 1382.9 696.5 1382.9 694.1 1382.9 691.7 1382.9 689.4 1382.9 687.0 1382.9 684.6 1382.9 682.2 1382.9 679.9 1382.9 677.5 1382.9 675.1 1382.9 672.8 1382.9 670.4 1382.9 668.0 1382.9 665.6 1382.9 663.3 1382.9 660.9 1382.9 658.5 1382.9 656.1 1382.9 653.8 1382.9 651.4 1382.9 649.0 1382.9 646.6 1382.9 644.3 1382.9 641.9 1382.9 639.5 1382.9 637.1 1382.9 634.8 1382.9 632.4 1382.9 630.0 1382.9 627.6 1382.9 625.3 1382.9 622.9 1382.9 620.5 1382.9 618.2 1382.9 615.8 1382.9 613.4 1382.9 611.0 1382.9 608.7 1382.9 606.3 1382.9 603.9 1382.9 601.5 1382.9 599.2 1382.9 596.8 1382.9 594.4 1382.9 592.0 1382.9 589.7 1382.9 587.3 1382.9 584.9 1382.9 582.5 1382.9 580.2 1382.9 577.8 1382.9 575.4 1382.9 573.0 1382.9 570.7 1382.9 568.3 1382.9 565.9 1382.9 563.6 1382.9 561.2 1382.9 558.8 1382.9 556.4 1382.9 554.1 1382.9 551.7 1382.9 549.3 1382.9 546.9 1382.9 544.6 1382.9 542.2 1382.9 539.8 1382.9 537.4 1382.9 535.1 1382.9 532.7 1382.9 530.3 1382.9 527.9 1382.9 525.6 1382.9 523.2 1382.9 520.8 1382.9 518.4 1382.9 516.1 1382.9 513.7 1382.9 511.3 1382.9 509.0 1382.9 506.6 1382.9 504.2 1382.9 501.8 1382.9 499.5 1382.9 497.1 1382.9 494.7 1382.9 492.3 1382.9 490.0 1382.9 487.6 1382.9 485.2 1382.9 482.8 1382.9 480.5 1382.9 478.1 1382.9 475.7 1382.9 473.3 1382.9 471.0 1382.9 468.6 1382.9 466.2 1382.9 463.8 1382.9 461.5 1382.9 459.1 1382.9 456.7 1382.9 454.4 1382.9 452.0 1382.9 449.6 1382.9 447.2 1382.9 444.9 1382.9 442.5 1382.9 440.1 1382.9 437.7 1382.9 435.4 1382.9 433.0 1382.9 430.6 1382.9 428.2 1382.9 425.9 1382.9 423.5 1382.9 421.1 1382.9 418.7 1382.9 416.4 1382.9 414.0 1382.9 411.6 1382.9 409.2 1382.9 406.9 1382.9 404.5 1382.9 402.1 1382.9 399.7 1382.9 397.4 1382.9 395.0 1382.9 392.6 1382.9 390.3 1382.9 387.9 1382.9 385.5 1382.9 383.1 1382.9 380.8 1382.9 378.4 1382.9 376.0 1382.9 373.6 1382.9 371.3 1382.9 368.9 1382.9 366.5 1382.9 364.1 1382.9 361.8 1382.9 359.4 1382.9 357.0 1382.9 354.6 1382.9 352.3 1382.9 349.9 1382.9 347.5 1382.9 345.1 1382.9 342.8 1382.9 340.4 1382.9 338.0 1382.9 335.7 1382.9 333.3 1382.9 330.9 1382.9 328.5 1382.9 326.2 1382.9 323.8 1382.9 321.4 1382.9 319.0 1382.9 316.7 1382.9 314.3 1382.9 311.9 1382.9 309.5 1382.9 307.2 1382.9 304.8 1382.9 302.4 1382.9 300.0 1382.9 297.7 1382.9 295.3 1382.9 292.9 1382.9 290.5 1382.9 288.2 1382.9 285.8 1382.9 283.4 1382.9 281.1 1382.9 278.7 1382.9 276.3 1382.9 273.9 1382.9 271.6 1382.9 269.2 1382.9 266.8 1382.9 264.4 1382.9 262.1 1382.9 259.7 1382.9 257.3 1382.9 254.9 1382.9 252.6 1382.9 250.2 1382.9 247.8 1382.9 245.4 1382.9 243.1 1382.9 240.7 1382.9 238.3 1382.9 235.9 1382.9 233.6 1382.9 231.2 1382.9 228.8 1382.9 226.4 1382.9 224.1 1382.9 221.7 1382.9 219.3 1382.9 217.0 1382.9 214.6 1382.9 212.2 1382.9 209.8 1382.9 207.5 1382.9 205.1 1382.9 202.7 1382.9 200.3 1382.9 198.0 1382.9 195.6 1382.9 193.2 1382.9 190.8 1382.9 188.5 1382.9 186.1 1382.9 183.7 1382.9 181.3 1382.9 179.0 1382.9 176.6 1382.9 174.2 1382.9 171.8 1382.9 169.5 1382.9 167.1 1382.9 164.7 1382.9 162.4 1382.9 160.0 1382.9 157.6 1382.9 155.2 1382.9 152.9 1382.9 150.5 1382.9 148.1 1382.9 145.7 1382.9 143.4 1382.9 141.0 1382.9 138.6 1382.9 136.2 1382.9 133.9 1382.9 131.5 1382.9 129.1 1382.9 126.7 1382.9 124.4 1382.9 122.0 1382.9 119.6 1382.9 117.2 1382.9 114.9 1382.9 112.5 1382.9 112.5 1354.3 112.5 1325.8 112.5 1316.3 112.5 1297.3 112.5 1268.8 112.5 1230.7 112.5 1192.7 112.5 1154.7 112.5 1116.7 114.9 1116.7Z"/>
<path fill="#b0c8ff" fill-rule="evenodd" d="M114.9 1116.7 117.2 1116.7 119.6 1116.7 122.0 1116.7 124.4 1116.7 126.7 1116.7 129.1 1116.7 131.5 1116.7 133.9 1116.7 136.2 1116.7 138.6 1116.7 141.0 1116.7 143.4 1116.7 145.7 1116.7 148.1 1116.7 150.5 1116.7 152.9 1116.7 155.2 1116.7 157.6 1116.7 160.0 1116.7 162.4 1116.7 164.7 1116.7 167.1 1116.7 169.5 1116.7 171.8 1116.7 174.2 1116.7 176.6 1116.7 179.0 1116.7 181.3 1116.7 183.7 1116.7 186.1 1116.7 188.5 1116.7 190.8 1116.7 193.2 1116.7 195.6 1116.7 198.0 1116.7 198.3 1116.7 198.0 1119.5 195.6 1131.3 193.2 1137.7 190.8 1140.7 188.5 1143.1 186.1 1145.1 183.7 1146.5 181.3 1147.6 179.0 1148.6 176.6 1149.6 174.2 1150.5 171.8 1151.5 169.5 1152.2 167.1 1153.0 164.7 1153.9 162.9 1154.7 164.7 1167.5 166.0 1192.7 167.1 1196.4 169.5 1200.9 171.8 1204.4 174.2 1207.0 176.6 1205.8 179.0 1202.5 181.3 1198.6 183.7 1193.6 183.8 1192.7 186.1 1173.2 188.4 1192.7 188.5 1193.0 190.8 1196.4 193.2 1199.0 195.6 1201.2 198.0 1203.1 200.3 1204.6 202.7 1204.4 205.1 1202.5 207.5 1200.5 209.8 1198.2 212.2 1195.7 214.6 1192.8 214.7 1192.7 217.0 1189.7 219.3 1186.5 221.7 1183.5 224.1 1180.4 226.4 1177.5 228.8 1172.5 231.2 1165.8 233.6 1156.8 234.0 1154.7 233.6 1137.3 233.1 1116.7 233.6 1116.7 235.9 1116.7 238.3 1116.7 240.7 1116.7 243.1 1116.7 245.4 1116.7 247.8 1116.7 250.2 1116.7 252.6 1116.7 254.9 1116.7 257.3 1116.7 259.7 1116.7 262.1 1116.7 264.4 1116.7 266.8 1116.7 269.2 1116.7 271.6 1116.7 273.9 1116.7 276.3 1116.7 278.7 1116.7 281.1 1116.7 283.4 1116.7 285.8 1116.7 288.2 1116.7 290.5 1116.7 292.9 1116.7 295.3 1116.7 297.7 1116.7 300.0 1116.7 302.4 1116.7 304.8 1116.7 307.2 1116.7 309.5 1116.7 311.9 1116.7 314.3 1116.7 316.7 1116.7 319.0 1116.7 321.4 1116.7 323.8 1116.7 326.2 1116.7 328.5 1116.7 330.9 1116.7 333.3 1116.7 335.7 1116.7 338.0 1116.7 340.4 1116.7 342.8 1116.7 345.1 1116.7 347.5 1116.7 349.9 1116.7 352.3 1116.7 354.6 1116.7 357.0 1116.7 359.4 1116.7 361.8 1116.7 364.1 1116.7 366.5 1116.7 368.9 1116.7 371.3 1116.7 373.6 1116.7 373.6 1116.7 376.0 1120.7 378.4 1123.7 380.8 1121.2 383.1 1117.6 384.8 1116.7 385.5 1116.7 387.9 1116.7 390.3 1116.7 392.6 1116.7 395.0 1116.7 397.4 1116.7 399.7 1116.7 402.1 1116.7 404.5 1116.7 406.9 1116.7 409.2 1116.7 411.6 1116.7 414.0 1116.7 416.4 1116.7 418.7 1116.7 421.1 1116.7 423.5 1116.7 425.9 1116.7 428.2 1116.7 430.6 1116.7 433.0 1116.7 435.4 1116.7 437.7 1116.7 440.1 1116.7 442.5 1116.7 444.9 1116.7 447.2 1116.7 449.6 1116.7 452.0 1116.7 454.4 1116.7 456.7 1116.7 459.1 1116.7 461.5 1116.7 463.8 1116.7 466.2 1116.7 468.6 1116.7 471.0 1116.7 473.3 1116.7 475.7 1116.7 478.1 1116.7 480.5 1116.7 482.8 1116.7 485.2 1116.7 487.6 1116.7 490.0 1116.7 492.3 1116.7 494.7 1116.7 497.1 1116.7 499.5 1116.7 501.8 1116.7 504.2 1116.7 506.6 1116.7 509.0 1116.7 511.2 1116.7 511.3 1116.7 513.7 1117.2 516.1 1117.6 518.4 1118.1 520.8 1118.6 523.2 1119.0 525.6 1119.4 527.9 1119.0 530.3 1118.5 532.7 1118.1 535.1 1117.6 537.4 1117.1 538.6 1116.7 539.8 1116.7 542.2 1116.7 544.6 1116.7 546.9 1116.7 549.3 1116.7 551.7 1116.7 554.1 1116.7 556.4 1116.7 558.8 1116.7 561.2 1116.7 563.6 1116.7 565.9 1116.7 568.3 1116.7 570.7 1116.7 573.0 1116.7 575.4 1116.7 577.8 1116.7 580.2 1116.7 582.5 1116.7 584.9 1116.7 587.3 1116.7 589.7 1116.7 592.0 1116.7 594.4 1116.7 596.8 1116.7 599.2 1116.7 601.5 1116.7 603.9 1116.7 606.3 1116.7 608.7 1116.7 611.0 1116.7 613.4 1116.7 615.8 1116.7 618.2 1116.7 620.5 1116.7 622.9 1116.7 625.3 1116.7 627.6 1116.7 630.0 1116.7 632.4 1116.7 634.8 1116.7 637.1 1116.7 639.5 1116.7 641.9 1116.7 644.3 1116.7 646.6 1116.7 649.0 1116.7 651.4 1116.7 653.8 1116.7 656.1 1116.7 658.5 1116.7 660.9 1116.7 663.3 1116.7 665.6 1116.7 668.0 1116.7 670.4 1116.7 672.0 1116.7 671.8 1154.7 672.8 1169.8 675.1 1188.9 675.9 1192.7 677.5 1193.8 679.9 1195.5 682.2 1197.1 684.6 1198.4 687.0 1199.6 689.4 1200.2 691.7 1198.9 694.1 1197.5 696.5 1196.1 698.9 1194.6 701.2 1193.0 701.5 1192.7 703.6 1188.5 706.0 1183.3 708.4 1173.5 710.7 1154.7 710.7 1154.7 713.1 1148.7 715.5 1140.3 717.9 1129.3 719.9 1116.7 720.2 1116.7 722.6 1116.7 725.0 1116.7 727.4 1116.7 729.7 1116.7 732.1 1116.7 734.5 1116.7 736.9 1116.7 739.2 1116.7 741.6 1116.7 744.0 1116.7 746.3 1116.7 748.7 1116.7 751.1 1116.7 753.5 1116.7 755.8 1116.7 758.2 1116.7 760.6 1116.7 763.0 1116.7 765.3 1116.7 767.7 1116.7 770.1 1116.7 772.5 1116.7 774.8 1116.7 777.2 1116.7 779.6 1116.7 782.0 1116.7 784.3 1116.7 786.7 1116.7 789.1 1116.7 791.5 1116.7 793.8 1116.7 796.2 1116.7 796.2 1154.7 796.2 1192.7 796.2 1230.7 796.2 1268.8 796.2 1297.3 796.2 1316.3 796.2 1325.8 796.2 1354.3 796.2 1382.9 793.8 1382.9 791.5 1382.9 789.1 1382.9 786.7 1382.9 784.3 1382.9 782.0 1382.9 779.6 1382.9 777.2 1382.9 774.8 1382.9 772.5 1382.9 770.1 1382.9 767.7 1382.9 765.3 1382.9 763.0 1382.9 760.6 1382.9 758.2 1382.9 755.8 1382.9 753.5 1382.9 751.1 1382.9 748.7 1382.9 746.3 1382.9 744.0 1382.9 741.6 1382.9 739.2 1382.9 736.9 1382.9 734.5 1382.9 732.1 1382.9 729.7 1382.9 727.4 1382.9 725.0 1382.9 722.6 1382.9 720.2 1382.9 717.9 1382.9 715.5 1382.9 713.1 1382.9 710.7 1382.9 708.4 1382.9 706.0 1382.9 703.6 1382.9 701.2 1382.9 698.9 1382.9 696.5 1382.9 694.1 1382.9 691.7 1382.9 689.4 1382.9 687.0 1382.9 684.6 1382.9 682.2 1382.9 679.9 1382.9 677.5 1382.9 675.1 1382.9 672.8 1382.9 670.4 1382.9 668.0 1382.9 665.6 1382.9 663.3 1382.9 660.9 1382.9 658.5 1382.9 656.1 1382.9 653.8 1382.9 651.4 1382.9 649.0 1382.9 646.6 1382.9 644.3 1382.9 641.9 1382.9 639.5 1382.9 637.1 1382.9 634.8 1382.9 632.4 1382.9 630.0 1382.9 627.6 1382.9 625.3 1382.9 622.9 1382.9 620.5 1382.9 618.2 1382.9 615.8 1382.9 613.4 1382.9 611.0 1382.9 608.7 1382.9 606.3 1382.9 603.9 1382.9 601.5 1382.9 599.2 1382.9 596.8 1382.9 594.4 1382.9 592.0 1382.9 589.7 1382.9 587.3 1382.9 584.9 1382.9 582.5 1382.9 580.2 1382.9 577.8 1382.9 575.4 1382.9 573.0 1382.9 570.7 1382.9 568.3 1382.9 565.9 1382.9 563.6 1382.9 561.2 1382.9 558.8 1382.9 556.4 1382.9 554.1 1382.9 551.7 1382.9 549.3 1382.9 546.9 1382.9 544.6 1382.9 542.2 1382.9 539.8 1382.9 537.4 1382.9 535.1 1382.9 532.7 1382.9 530.3 1382.9 527.9 1382.9 525.6 1382.9 523.2 1382.9 520.8 1382.9 518.4 1382.9 516.1 1382.9 513.7 1382.9 511.3 1382.9 509.0 1382.9 506.6 1382.9 504.2 1382.9 501.8 1382.9 499.5 1382.9 497.1 1382.9 494.7 1382.9 492.3 1382.9 490.0 1382.9 487.6 1382.9 485.2 1382.9 482.8 1382.9 480.5 1382.9 478.1 1382.9 475.7 1382.9 473.3 1382.9 471.0 1382.9 468.6 1382.9 466.2 1382.9 463.8 1382.9 461.5 1382.9 459.1 1382.9 456.7 1382.9 454.4 1382.9 452.0 1382.9 449.6 1382.9 447.2 1382.9 444.9 1382.9 442.5 1382.9 440.1 1382.9 437.7 1382.9 435.4 1382.9 433.0 1382.9 430.6 1382.9 428.2 1382.9 425.9 1382.9 423.5 1382.9 421.1 1382.9 418.7 1382.9 416.4 1382.9 414.0 1382.9 411.6 1382.9 409.2 1382.9 406.9 1382.9 404.5 1382.9 402.1 1382.9 399.7 1382.9 397.4 1382.9 395.0 1382.9 392.6 1382.9 390.3 1382.9 387.9 1382.9 385.5 1382.9 383.1 1382.9 380.8 1382.9 378.4 1382.9 376.0 1382.9 373.6 1382.9 371.3 1382.9 368.9 1382.9 366.5 1382.9 364.1 1382.9 361.8 1382.9 359.4 1382.9 357.0 1382.9 354.6 1382.9 352.3 1382.9 349.9 1382.9 347.5 1382.9 345.1 1382.9 342.8 1382.9 340.4 1382.9 338.0 1382.9 335.7 1382.9 333.3 1382.9 330.9 1382.9 328.5 1382.9 326.2 1382.9 323.8 1382.9 321.4 1382.9 319.0 1382.9 316.7 1382.9 314.3 1382.9 311.9 1382.9 309.5 1382.9 307.2 1382.9 304.8 1382.9 302.4 1382.9 300.0 1382.9 297.7 1382.9 295.3 1382.9 292.9 1382.9 290.5 1382.9 288.2 1382.9 285.8 1382.9 283.4 1382.9 281.1 1382.9 278.7 1382.9 276.3 1382.9 273.9 1382.9 271.6 1382.9 269.2 1382.9 266.8 1382.9 264.4 1382.9 262.1 1382.9 259.7 1382.9 257.3 1382.9 254.9 1382.9 252.6 1382.9 250.2 1382.9 247.8 1382.9 245.4 1382.9 243.1 1382.9 240.7 1382.9 238.3 1382.9 235.9 1382.9 233.6 1382.9 231.2 1382.9 228.8 1382.9 226.4 1382.9 224.1 1382.9 221.7 1382.9 219.3 1382.9 217.0 1382.9 214.6 1382.9 212.2 1382.9 209.8 1382.9 207.5 1382.9 205.1 1382.9 202.7 1382.9 200.3 1382.9 198.0 1382.9 195.6 1382.9 193.2 1382.9 190.8 1382.9 188.5 1382.9 186.1 1382.9 183.7 1382.9 181.3 1382.9 179.0 1382.9 176.6 1382.9 174.2 1382.9 171.8 1382.9 169.5 1382.9 167.1 1382.9 164.7 1382.9 162.4 1382.9 160.0 1382.9 157.6 1382.9 155.2 1382.9 152.9 1382.9 150.5 1382.9 148.1 1382.9 145.7 1382.9 143.4 1382.9 141.0 1382.9 138.6 1382.9 136.2 1382.9 133.9 1382.9 131.5 1382.9 129.1 1382.9 126.7 1382.9 124.4 1382.9 122.0 1382.9 119.6 1382.9 117.2 1382.9 114.9 1382.9 112.5 1382.9 112.5 1354.3 112.5 1325.8 112.5 1316.3 112.5 1297.3 112.5 1268.8 112.5 1230.7 112.5 1192.7 112.5 1154.7 112.5 1116.7 114.9 1116.7ZM171.9 1316.3 171.8 1316.6 170.6 1325.8 171.8 1335.6 174.2 1342.2 176.6 1338.0 179.0 1330.0 179.9 1325.8 179.0 1317.6 178.8 1316.3 176.6 1305.2 174.2 1305.8 171.9 1316.3ZM653.8 1354.3 653.8 1354.3 656.1 1358.0 658.5 1356.0 659.4 1354.3 658.5 1347.1 656.1 1336.6 653.8 1354.3Z"/>
<path fill="#dceaff" fill-rule="evenodd" d="M114.9 1116.7 117.2 1116.7 119.6 1116.7 122.0 1116.7 124.4 1116.7 126.7 1116.7 129.1 1116.7 131.5 1116.7 133.9 1116.7 136.2 1116.7 138.6 1116.7 141.0 1116.7 143.4 1116.7 145.7 1116.7 148.1 1116.7 150.5 1116.7 152.9 1116.7 155.2 1116.7 157.6 1116.7 160.0 1116.7 162.4 1116.7 164.7 1116.7 167.1 1116.7 169.5 1116.7 171.8 1116.7 174.2 1116.7 176.6 1116.7 179.0 1116.7 181.3 1116.7 183.7 1116.7 186.1 1116.7 188.5 1116.7 190.8 1116.7 193.2 1116.7 193.3 1116.7 193.2 1117.1 190.8 1122.4 188.5 1126.6 186.1 1130.1 183.7 1132.1 181.3 1133.5 179.0 1134.8 176.6 1136.0 174.2 1137.2 171.8 1138.4 169.5 1138.7 167.1 1138.5 164.7 1138.3 162.4 1138.1 160.0 1138.1 157.6 1138.1 155.2 1137.2 152.9 1135.4 150.5 1132.3 148.1 1135.3 145.7 1141.1 143.4 1145.5 141.0 1148.8 138.6 1151.5 136.2 1153.8 136.0 1154.7 136.2 1156.3 138.6 1160.4 141.0 1164.6 143.4 1169.0 145.7 1173.6 148.1 1178.4 150.5 1183.4 152.9 1188.6 154.3 1192.7 152.9 1199.7 150.5 1211.3 148.1 1226.9 147.5 1230.7 148.1 1232.9 150.5 1241.5 152.9 1247.7 155.2 1252.3 157.6 1255.9 160.0 1256.2 162.4 1255.0 164.7 1252.8 167.1 1247.3 169.3 1230.7 169.5 1230.5 171.8 1229.8 174.2 1229.2 176.6 1228.5 179.0 1227.5 181.3 1226.3 183.7 1224.8 186.1 1215.5 188.5 1223.1 190.8 1223.1 193.2 1223.2 195.6 1223.2 198.0 1223.2 200.3 1223.2 202.7 1222.7 205.1 1221.7 207.5 1220.7 209.8 1219.5 212.2 1218.1 214.6 1216.7 217.0 1214.9 219.3 1212.8 221.7 1210.4 224.1 1207.5 226.4 1204.1 228.8 1199.9 231.2 1194.7 231.8 1192.7 233.6 1188.5 235.9 1180.4 238.3 1168.5 240.6 1154.7 239.3 1116.7 240.7 1116.7 243.1 1116.7 245.4 1116.7 247.8 1116.7 250.2 1116.7 250.8 1116.7 252.6 1124.4 254.9 1128.5 257.3 1130.8 259.7 1132.3 262.1 1133.3 264.4 1134.1 266.8 1134.7 269.2 1135.2 271.6 1135.6 273.9 1134.5 276.3 1132.7 278.7 1130.8 281.1 1128.9 283.4 1126.9 285.8 1124.8 288.2 1122.1 290.5 1119.7 292.9 1117.7 294.1 1116.7 295.3 1116.7 297.7 1116.7 300.0 1116.7 302.4 1116.7 304.8 1116.7 307.2 1116.7 309.5 1116.7 311.9 1116.7 314.3 1116.7 316.7 1116.7 319.0 1116.7 321.4 1116.7 323.8 1116.7 326.2 1116.7 328.5 1116.7 330.9 1116.7 333.3 1116.7 335.7 1116.7 338.0 1116.7 340.4 1116.7 342.8 1116.7 343.5 1116.7 345.1 1117.8 347.5 1119.0 349.9 1120.2 352.3 1121.4 354.6 1122.6 357.0 1123.8 359.4 1125.3 361.8 1126.8 364.1 1128.5 366.5 1130.2 368.9 1131.3 371.3 1131.2 373.6 1131.1 376.0 1132.9 378.4 1134.3 380.8 1132.2 383.1 1129.6 385.5 1128.4 387.9 1127.7 390.3 1127.1 392.6 1126.5 395.0 1125.8 397.4 1125.2 399.7 1124.6 402.1 1124.0 404.5 1123.5 406.9 1122.9 409.2 1122.3 411.6 1121.7 414.0 1121.2 416.4 1120.4 418.7 1119.7 421.1 1119.1 423.5 1118.6 425.9 1118.2 428.2 1117.8 430.6 1117.4 433.0 1116.9 434.4 1116.7 435.4 1116.7 437.7 1116.7 440.1 1116.7 442.5 1116.7 444.9 1116.7 447.2 1116.7 449.6 1116.7 452.0 1116.7 454.4 1116.7 456.7 1116.7 459.1 1116.7 461.5 1116.7 463.8 1116.7 466.2 1116.7 468.6 1116.7 471.0 1116.7 473.3 1116.7 475.7 1116.7 478.1 1116.7 480.5 1116.7 482.4 1116.7 482.8 1116.9 485.2 1118.2 487.6 1119.5 490.0 1120.8 492.3 1122.1 494.7 1123.5 497.1 1124.9 499.5 1126.3 501.8 1127.7 504.2 1129.2 506.6 1130.7 509.0 1132.2 511.3 1133.6 513.7 1134.6 516.1 1135.7 518.4 1136.5 520.8 1137.0 523.2 1137.6 525.6 1138.0 527.9 1138.1 530.3 1138.2 532.7 1138.3 535.1 1138.5 537.4 1138.6 539.8 1138.5 542.2 1137.4 544.6 1136.0 546.9 1134.2 549.3 1131.7 551.7 1128.2 554.1 1122.8 556.2 1116.7 556.4 1116.7 558.8 1116.7 561.2 1116.7 563.6 1116.7 565.9 1116.7 568.3 1116.7 570.7 1116.7 573.0 1116.7 575.4 1116.7 577.8 1116.7 580.2 1116.7 582.5 1116.7 584.9 1116.7 587.3 1116.7 589.7 1116.7 592.0 1116.7 594.4 1116.7 596.8 1116.7 599.2 1116.7 601.5 1116.7 603.9 1116.7 606.3 1116.7 608.7 1116.7 611.0 1116.7 613.4 1116.7 615.8 1116.7 618.2 1116.7 620.5 1116.7 622.9 1116.7 625.3 1116.7 627.6 1116.7 630.0 1116.7 632.4 1116.7 634.8 1116.7 637.1 1116.7 639.5 1116.7 641.9 1116.7 644.3 1116.7 646.6 1116.7 649.0 1116.7 651.4 1116.7 653.8 1116.7 656.1 1116.7 658.5 1116.7 660.9 1116.7 663.3 1116.7 665.0 1116.7 663.3 1131.1 660.9 1144.0 658.5 1152.5 657.9 1154.7 656.1 1165.9 653.8 1176.4 651.4 1183.2 649.0 1187.9 646.6 1191.5 644.9 1192.7 646.6 1193.4 649.0 1195.0 651.4 1196.6 653.8 1198.1 656.1 1199.5 658.5 1201.0 660.9 1202.3 663.3 1203.7 665.6 1205.0 668.0 1206.3 670.4 1207.1 672.8 1207.6 675.1 1208.0 677.5 1208.7 679.9 1209.4 682.2 1210.1 684.6 1210.7 687.0 1211.2 689.4 1211.4 691.7 1210.3 694.1 1209.2 696.5 1208.1 698.9 1206.9 701.2 1205.6 703.6 1203.7 706.0 1201.6 708.4 1199.5 710.7 1197.4 713.1 1195.2 715.5 1193.1 715.8 1192.7 717.9 1174.6 719.8 1154.7 720.2 1152.9 722.6 1138.7 725.0 1116.7 725.0 1116.7 727.4 1116.7 729.7 1116.7 732.1 1116.7 734.5 1116.7 736.9 1116.7 739.2 1116.7 741.6 1116.7 744.0 1116.7 746.3 1116.7 748.7 1116.7 751.1 1116.7 753.5 1116.7 755.8 1116.7 758.2 1116.7 760.6 1116.7 763.0 1116.7 765.3 1116.7 767.7 1116.7 770.1 1116.7 772.5 1116.7 774.8 1116.7 777.2 1116.7 779.6 1116.7 782.0 1116.7 784.3 1116.7 786.7 1116.7 789.1 1116.7 791.5 1116.7 793.8 1116.7 796.2 1116.7 796.2 1154.7 796.2 1192.7 796.2 1230.7 796.2 1268.8 796.2 1297.3 796.2 1316.3 796.2 1325.8 796.2 1354.3 796.2 1382.9 793.8 1382.9 791.5 1382.9 789.1 1382.9 786.7 1382.9 784.3 1382.9 782.0 1382.9 779.6 1382.9 777.2 1382.9 774.8 1382.9 772.5 1382.9 770.1 1382.9 767.7 1382.9 765.3 1382.9 763.0 1382.9 760.6 1382.9 758.2 1382.9 755.8 1382.9 753.5 1382.9 751.1 1382.9 748.7 1382.9 746.3 1382.9 744.0 1382.9 741.6 1382.9 739.2 1382.9 736.9 1382.9 734.5 1382.9 732.1 1382.9 729.7 1382.9 727.4 1382.9 725.0 1382.9 722.6 1382.9 720.2 1382.9 717.9 1382.9 715.5 1382.9 713.1 1382.9 710.7 1382.9 708.4 1382.9 706.0 1382.9 703.6 1382.9 701.2 1382.9 698.9 1382.9 696.5 1382.9 694.1 1382.9 691.7 1382.9 689.4 1382.9 687.0 1382.9 684.6 1382.9 682.2 1382.9 679.9 1382.9 677.5 1382.9 675.1 1382.9 672.8 1382.9 670.4 1382.9 668.0 1382.9 665.6 1382.9 663.3 1382.9 660.9 1382.9 658.5 1382.9 656.1 1382.9 653.8 1382.9 651.4 1382.9 649.0 1382.9 646.6 1382.9 644.3 1382.9 641.9 1382.9 639.5 1382.9 637.1 1382.9 634.8 1382.9 632.4 1382.9 630.0 1382.9 627.6 1382.9 625.3 1382.9 622.9 1382.9 620.5 1382.9 618.2 1382.9 615.8 1382.9 613.4 1382.9 611.0 1382.9 608.7 1382.9 606.3 1382.9 603.9 1382.9 601.5 1382.9 599.2 1382.9 596.8 1382.9 594.4 1382.9 592.0 1382.9 589.7 1382.9 587.3 1382.9 584.9 1382.9 582.5 1382.9 580.2 1382.9 577.8 1382.9 575.4 1382.9 573.0 1382.9 570.7 1382.9 568.3 1382.9 565.9 1382.9 563.6 1382.9 561.2 1382.9 558.8 1382.9 556.4 1382.9 554.1 1382.9 551.7 1382.9 549.3 1382.9 546.9 1382.9 544.6 1382.9 542.2 1382.9 539.8 1382.9 537.4 1382.9 535.1 1382.9 532.7 1382.9 530.3 1382.9 527.9 1382.9 525.6 1382.9 523.2 1382.9 520.8 1382.9 518.4 1382.9 516.1 1382.9 513.7 1382.9 511.3 1382.9 509.0 1382.9 506.6 1382.9 504.2 1382.9 501.8 1382.9 499.5 1382.9 497.1 1382.9 494.7 1382.9 492.3 1382.9 490.0 1382.9 487.6 1382.9 485.2 1382.9 482.8 1382.9 480.5 1382.9 478.1 1382.9 475.7 1382.9 473.3 1382.9 471.0 1382.9 468.6 1382.9 466.2 1382.9 463.8 1382.9 461.5 1382.9 459.1 1382.9 456.7 1382.9 454.4 1382.9 452.0 1382.9 449.6 1382.9 447.2 1382.9 444.9 1382.9 442.5 1382.9 440.1 1382.9 437.7 1382.9 435.4 1382.9 433.0 1382.9 430.6 1382.9 428.2 1382.9 425.9 1382.9 423.5 1382.9 421.1 1382.9 418.7 1382.9 416.4 1382.9 414.0 1382.9 411.6 1382.9 409.2 1382.9 406.9 1382.9 404.5 1382.9 402.1 1382.9 399.7 1382.9 397.4 1382.9 395.0 1382.9 392.6 1382.9 390.3 1382.9 387.9 1382.9 385.5 1382.9 383.1 1382.9 380.8 1382.9 378.4 1382.9 376.0 1382.9 373.6 1382.9 371.3 1382.9 368.9 1382.9 366.5 1382.9 364.1 1382.9 361.8 1382.9 359.4 1382.9 357.0 1382.9 354.6 1382.9 352.3 1382.9 349.9 1382.9 347.5 1382.9 345.1 1382.9 342.8 1382.9 340.4 1382.9 338.0 1382.9 335.7 1382.9 333.3 1382.9 330.9 1382.9 328.5 1382.9 326.2 1382.9 323.8 1382.9 321.4 1382.9 319.0 1382.9 316.7 1382.9 314.3 1382.9 311.9 1382.9 309.5 1382.9 307.2 1382.9 304.8 1382.9 302.4 1382.9 300.0 1382.9 297.7 1382.9 295.3 1382.9 292.9 1382.9 290.5 1382.9 288.2 1382.9 285.8 1382.9 283.4 1382.9 281.1 1382.9 278.7 1382.9 276.3 1382.9 273.9 1382.9 271.6 1382.9 269.2 1382.9 266.8 1382.9 264.4 1382.9 262.1 1382.9 259.7 1382.9 257.3 1382.9 254.9 1382.9 252.6 1382.9 250.2 1382.9 247.8 1382.9 245.4 1382.9 243.1 1382.9 240.7 1382.9 238.3 1382.9 235.9 1382.9 233.6 1382.9 231.2 1382.9 228.8 1382.9 226.4 1382.9 224.1 1382.9 221.7 1382.9 219.3 1382.9 218.1 1382.9 217.0 1382.1 214.6 1379.6 212.2 1377.0 209.8 1377.3 207.5 1379.2 205.6 1382.9 205.1 1382.9 202.7 1382.9 200.3 1382.9 198.0 1382.9 195.6 1382.9 193.2 1382.9 190.8 1382.9 188.5 1382.9 186.1 1382.9 183.7 1382.9 181.3 1382.9 179.0 1382.9 176.6 1382.9 174.2 1382.9 171.8 1382.9 169.5 1382.9 167.1 1382.9 164.7 1382.9 162.4 1382.9 160.0 1382.9 157.6 1382.9 155.2 1382.9 152.9 1382.9 150.5 1382.9 148.1 1382.9 145.7 1382.9 143.4 1382.9 141.0 1382.9 138.6 1382.9 136.2 1382.9 133.9 1382.9 131.5 1382.9 129.1 1382.9 126.7 1382.9 124.4 1382.9 122.0 1382.9 119.6 1382.9 117.2 1382.9 114.9 1382.9 112.5 1382.9 112.5 1354.3 112.5 1325.8 112.5 1316.3 112.5 1297.3 112.5 1268.8 112.5 1230.7 112.5 1192.7 112.5 1154.7 112.5 1116.7 114.9 1116.7ZM174.6 1268.8 174.2 1269.4 171.8 1271.6 169.5 1275.6 167.1 1288.2 166.4 1297.3 165.8 1316.3 165.6 1325.8 164.7 1342.0 163.4 1354.3 164.7 1355.8 167.1 1357.4 169.5 1359.0 171.8 1360.4 174.2 1360.4 176.6 1358.1 179.0 1355.0 179.4 1354.3 181.3 1347.6 183.5 1325.8 183.2 1316.3 182.3 1297.3 181.3 1283.6 179.2 1268.8 179.0 1262.2 176.6 1249.5 174.6 1268.8ZM550.3 1268.8 551.7 1269.6 554.1 1270.5 556.4 1271.3 558.8 1272.0 561.2 1272.7 563.6 1273.3 565.9 1272.7 568.3 1271.9 570.7 1271.1 573.0 1270.4 575.4 1269.6 577.8 1268.9 577.9 1268.8 577.8 1268.6 575.4 1267.9 573.0 1267.3 570.7 1266.7 568.3 1266.2 565.9 1265.7 563.6 1265.4 561.2 1266.1 558.8 1266.7 556.4 1267.2 554.1 1267.8 551.7 1268.3 550.3 1268.8ZM651.6 1316.3 651.4 1317.9 651.0 1325.8 650.0 1354.3 651.4 1357.2 653.8 1361.2 656.1 1364.2 658.5 1363.0 660.9 1359.8 663.3 1354.3 663.3 1354.3 663.3 1354.3 660.9 1326.6 660.8 1325.8 659.3 1316.3 658.5 1311.9 656.1 1301.0 653.8 1304.5 651.6 1316.3ZM676.1 1354.3 677.5 1357.6 679.9 1361.6 682.2 1354.3 682.2 1354.3 682.2 1354.3 679.9 1347.1 677.5 1350.7 676.1 1354.3Z"/>
<path fill="#ffebdc" fill-rule="evenodd" d="M114.9 1116.7 117.2 1116.7 119.6 1116.7 122.0 1116.7 124.4 1116.7 126.7 1116.7 129.1 1116.7 131.5 1116.7 133.9 1116.7 136.2 1116.7 138.6 1116.7 141.0 1116.7 142.4 1116.7 141.0 1120.2 138.6 1125.0 136.2 1129.2 133.9 1135.4 131.5 1146.1 129.6 1154.7 131.4 1192.7 129.1 1226.6 128.6 1230.7 126.7 1241.9 124.4 1250.4 122.0 1254.8 119.6 1257.5 117.2 1260.3 114.9 1261.5 112.5 1261.5 112.5 1230.7 112.5 1192.7 112.5 1154.7 112.5 1116.7 114.9 1116.7ZM157.6 1116.7 160.0 1116.7 162.4 1116.7 164.7 1116.7 167.1 1116.7 169.5 1116.7 171.8 1116.7 174.2 1116.7 176.6 1116.7 179.0 1116.7 181.3 1116.7 183.7 1116.7 184.7 1116.7 183.7 1117.7 181.3 1119.4 179.0 1120.9 176.6 1122.4 174.2 1123.9 171.8 1125.3 169.5 1125.1 167.1 1124.0 164.7 1122.8 162.4 1121.3 160.0 1119.6 157.6 1117.5 157.1 1116.7 157.6 1116.7ZM288.2 1149.9 290.5 1145.3 292.9 1141.4 295.3 1137.9 297.7 1134.7 300.0 1132.7 302.4 1131.0 304.8 1129.2 307.2 1127.3 309.5 1125.3 311.9 1123.3 314.3 1121.1 316.7 1118.8 318.4 1116.7 319.0 1116.7 321.4 1116.7 323.8 1116.7 326.2 1116.7 328.5 1116.7 330.9 1116.7 332.8 1116.7 333.3 1117.8 335.7 1122.6 338.0 1126.6 340.4 1129.9 342.8 1132.7 345.1 1134.0 347.5 1135.1 349.9 1136.2 352.3 1137.3 354.6 1138.3 357.0 1139.6 359.4 1141.5 361.8 1143.5 364.1 1145.6 366.5 1147.8 368.9 1148.6 371.3 1146.9 373.6 1145.5 376.0 1145.2 378.4 1144.9 380.8 1143.3 383.1 1141.5 385.5 1140.5 387.9 1139.8 390.3 1139.1 392.6 1138.4 395.0 1137.7 397.4 1137.0 399.7 1136.3 402.1 1135.6 404.5 1135.0 406.9 1134.3 409.2 1133.7 411.6 1133.0 414.0 1132.4 416.4 1130.9 418.7 1129.5 421.1 1128.3 423.5 1127.6 425.9 1127.1 428.2 1126.7 430.6 1126.2 433.0 1125.8 435.4 1125.3 437.7 1124.7 440.1 1124.3 442.5 1123.9 444.9 1123.4 447.2 1123.0 449.6 1122.5 452.0 1121.9 454.4 1121.4 456.7 1120.9 459.1 1120.7 461.5 1121.7 463.8 1122.8 466.2 1124.0 468.6 1125.2 471.0 1126.4 473.3 1127.5 475.7 1128.7 478.1 1129.9 480.5 1131.1 482.8 1132.3 485.2 1133.7 487.6 1135.1 490.0 1136.5 492.3 1138.0 494.7 1139.5 497.1 1141.0 499.5 1142.5 501.8 1144.0 504.2 1145.6 506.6 1147.2 509.0 1148.8 511.3 1150.5 513.7 1152.1 516.1 1153.8 517.9 1154.7 518.4 1155.1 520.8 1155.9 523.2 1156.8 525.6 1157.9 527.9 1159.3 530.3 1161.0 532.7 1163.2 535.1 1166.0 537.4 1169.8 539.8 1175.4 542.2 1184.3 544.3 1192.7 544.6 1192.9 546.9 1193.3 549.3 1193.7 551.7 1194.2 554.1 1194.7 556.4 1195.2 558.8 1195.7 561.2 1196.4 563.6 1197.0 565.9 1197.7 568.3 1198.5 570.7 1199.3 573.0 1200.3 575.4 1201.3 577.8 1202.5 580.2 1204.0 582.5 1205.8 584.9 1207.9 587.3 1210.6 589.7 1213.8 592.0 1214.4 594.4 1212.1 596.8 1210.4 599.2 1209.1 601.5 1208.0 603.9 1207.2 606.3 1206.5 608.7 1206.1 611.0 1205.6 613.4 1205.3 615.8 1205.0 618.2 1204.7 620.5 1204.4 622.9 1205.2 625.3 1206.0 627.6 1206.9 630.0 1207.8 632.4 1208.9 634.8 1210.0 637.1 1211.0 639.5 1211.8 641.9 1212.6 644.3 1213.3 646.6 1214.4 649.0 1215.7 651.4 1216.9 653.8 1218.1 656.1 1219.3 658.5 1220.5 660.9 1221.6 663.3 1222.7 665.6 1223.7 668.0 1224.8 670.4 1224.9 672.8 1224.4 675.1 1223.9 677.5 1223.6 679.9 1223.3 682.2 1223.1 684.6 1223.0 687.0 1222.8 689.4 1222.5 691.7 1221.8 694.1 1220.9 696.5 1220.1 698.9 1219.2 701.2 1218.2 703.6 1216.4 706.0 1214.4 708.4 1212.4 710.7 1210.4 713.1 1208.3 715.5 1206.2 717.9 1203.6 720.2 1200.2 722.6 1197.0 725.0 1193.9 725.7 1192.7 727.4 1164.5 727.9 1154.7 729.7 1124.6 730.0 1116.7 732.1 1116.7 734.5 1116.7 736.9 1116.7 739.2 1116.7 741.6 1116.7 744.0 1116.7 746.3 1116.7 748.7 1116.7 751.1 1116.7 753.5 1116.7 755.8 1116.7 758.2 1116.7 760.6 1116.7 763.0 1116.7 765.3 1116.7 767.7 1116.7 770.1 1116.7 772.5 1116.7 774.8 1116.7 777.2 1116.7 779.6 1116.7 782.0 1116.7 784.3 1116.7 786.7 1116.7 789.1 1116.7 791.5 1116.7 793.8 1116.7 796.2 1116.7 796.2 1154.7 796.2 1192.7 796.2 1230.7 796.2 1268.8 796.2 1297.3 796.2 1316.3 796.2 1325.8 796.2 1354.3 796.2 1378.3 793.8 1377.9 791.5 1377.2 789.1 1376.7 786.7 1376.3 784.3 1376.8 782.0 1377.3 779.6 1377.6 777.2 1377.9 774.8 1378.6 772.5 1379.3 770.1 1379.7 767.7 1380.2 765.3 1380.7 763.0 1381.3 760.6 1382.0 758.2 1382.9 758.2 1382.9 755.8 1382.9 753.5 1382.9 751.1 1382.9 748.7 1382.9 746.3 1382.9 744.0 1382.9 741.6 1382.9 739.2 1382.9 736.9 1382.9 734.5 1382.9 732.1 1382.9 729.7 1382.9 727.4 1382.9 725.0 1382.9 722.6 1382.9 720.2 1382.9 717.9 1382.9 715.5 1382.9 713.1 1382.9 710.7 1382.9 708.4 1382.9 708.2 1382.9 707.5 1354.3 706.0 1353.2 703.6 1351.7 701.2 1350.3 698.9 1348.8 696.5 1347.4 694.1 1346.0 691.7 1344.6 689.4 1343.3 687.0 1341.9 684.6 1340.5 682.2 1338.9 679.9 1334.7 677.5 1335.1 675.1 1336.0 672.8 1336.4 670.4 1337.1 668.0 1330.9 666.4 1325.8 665.6 1318.7 665.5 1316.3 664.3 1297.3 663.3 1287.5 660.9 1274.8 658.9 1268.8 658.5 1267.3 656.1 1260.6 653.8 1256.7 651.4 1254.1 649.0 1252.2 646.6 1250.8 644.3 1253.4 641.9 1256.4 639.5 1259.7 637.1 1263.5 634.8 1268.0 634.2 1268.8 634.8 1269.8 637.1 1275.8 639.5 1281.4 641.9 1289.2 643.4 1297.3 644.3 1303.0 645.7 1316.3 646.5 1325.8 646.6 1328.2 647.2 1354.3 649.0 1360.9 651.4 1364.9 653.8 1368.0 656.1 1370.4 658.5 1370.0 660.9 1368.4 663.3 1365.7 665.6 1364.4 668.0 1362.4 670.4 1361.0 672.8 1364.8 675.1 1368.0 677.5 1371.5 679.9 1374.1 682.2 1372.4 684.6 1372.9 687.0 1373.0 689.4 1373.2 691.7 1373.4 694.1 1373.6 696.5 1374.0 698.9 1374.7 701.2 1375.9 703.6 1379.0 703.7 1382.9 703.6 1382.9 701.2 1382.9 698.9 1382.9 696.5 1382.9 694.1 1382.9 691.7 1382.9 689.4 1382.9 687.0 1382.9 684.6 1382.9 682.2 1382.9 679.9 1382.9 677.5 1382.9 675.1 1382.9 672.8 1382.9 670.4 1382.9 668.0 1382.9 665.6 1382.9 663.3 1382.9 660.9 1382.9 658.5 1382.9 656.1 1382.9 653.8 1382.9 651.4 1382.9 649.0 1382.9 646.6 1382.9 644.3 1382.9 641.9 1382.9 639.5 1382.9 637.1 1382.9 634.8 1382.9 632.4 1382.9 630.0 1382.9 627.6 1382.9 625.3 1382.9 622.9 1382.9 620.5 1382.9 618.2 1382.9 615.8 1382.9 613.4 1382.9 611.0 1382.9 608.7 1382.9 606.3 1382.9 603.9 1382.9 601.5 1382.9 599.2 1382.9 596.8 1382.9 594.4 1382.9 592.0 1382.9 589.7 1382.9 587.9 1382.9 587.3 1382.7 584.9 1382.4 582.5 1382.1 580.2 1381.7 577.8 1381.4 575.4 1381.0 573.0 1380.6 570.7 1380.2 568.3 1379.8 565.9 1379.4 563.6 1378.9 561.2 1378.4 558.8 1377.9 556.4 1377.3 554.1 1376.7 551.7 1376.1 549.3 1375.4 546.9 1374.7 544.6 1373.9 542.2 1373.5 539.8 1373.3 537.4 1373.0 535.1 1372.7 532.7 1372.6 530.3 1372.5 527.9 1372.4 525.6 1372.2 523.2 1372.0 520.8 1371.8 518.4 1371.5 516.1 1371.1 513.7 1370.5 511.3 1373.1 509.0 1375.5 506.6 1377.6 504.2 1379.4 501.8 1381.0 499.5 1382.5 498.7 1382.9 497.1 1382.9 494.7 1382.9 492.3 1382.9 490.0 1382.9 487.6 1382.9 485.2 1382.9 482.8 1382.9 480.5 1382.9 478.1 1382.9 475.7 1382.9 473.3 1382.9 471.0 1382.9 468.6 1382.9 466.2 1382.9 463.8 1382.9 461.5 1382.9 459.1 1382.9 456.7 1382.9 454.4 1382.9 452.0 1382.9 449.6 1382.9 447.2 1382.9 444.9 1382.9 442.5 1382.9 440.1 1382.9 437.7 1382.9 435.4 1382.9 433.0 1382.9 430.6 1382.9 428.2 1382.9 425.9 1382.9 423.5 1382.9 421.1 1382.9 418.7 1382.9 416.4 1382.9 414.0 1382.9 411.6 1382.9 409.2 1382.9 406.9 1382.9 404.5 1382.9 402.1 1382.9 399.7 1382.9 397.4 1382.9 395.0 1382.9 392.6 1382.9 390.3 1382.9 387.9 1382.9 386.6 1382.9 385.5 1382.5 383.1 1381.0 380.8 1379.7 378.4 1378.5 376.0 1377.5 373.6 1376.5 371.3 1375.7 368.9 1376.1 366.5 1377.1 364.1 1378.2 361.8 1379.4 359.4 1380.6 357.0 1381.8 354.8 1382.9 354.6 1382.9 352.3 1382.9 349.9 1382.9 347.5 1382.9 345.1 1382.9 342.8 1382.9 340.4 1382.9 338.0 1382.9 335.7 1382.9 333.3 1382.9 330.9 1382.9 328.5 1382.9 326.2 1382.9 323.8 1382.9 321.4 1382.9 319.0 1382.9 316.7 1382.9 314.3 1382.9 311.9 1382.9 309.5 1382.9 307.2 1382.9 304.8 1382.9 302.4 1382.9 300.0 1382.9 297.7 1382.9 295.3 1382.9 292.9 1382.9 290.5 1382.9 288.2 1382.9 285.8 1382.9 283.4 1382.9 281.1 1382.9 278.7 1382.9 276.3 1382.9 273.9 1382.9 271.6 1382.9 269.2 1382.9 266.8 1382.9 264.4 1382.9 262.1 1382.9 259.7 1382.9 257.3 1382.9 254.9 1382.9 252.6 1382.9 250.2 1382.9 247.8 1382.9 245.4 1382.9 243.1 1382.9 240.7 1382.9 238.3 1382.9 235.9 1382.9 235.9 1382.9 233.6 1381.5 231.2 1380.3 228.8 1379.0 226.4 1377.8 224.1 1376.6 221.7 1375.5 219.3 1374.3 217.0 1373.0 214.6 1370.7 212.2 1367.7 209.8 1366.1 207.5 1362.4 205.3 1354.3 205.1 1353.5 202.7 1349.6 200.3 1346.2 198.0 1346.3 195.6 1349.2 193.2 1354.3 193.2 1354.3 193.2 1354.3 195.6 1363.4 198.0 1369.0 200.1 1382.9 198.0 1382.9 195.6 1382.9 193.2 1382.9 190.8 1382.9 188.5 1382.9 186.1 1382.9 183.7 1382.9 181.3 1382.9 179.0 1382.9 176.6 1382.9 174.2 1382.9 171.8 1382.9 169.5 1382.9 167.1 1382.9 164.7 1382.9 162.4 1382.9 160.0 1382.9 157.6 1382.9 155.2 1382.9 152.9 1382.9 150.5 1382.9 148.1 1382.9 145.7 1382.9 143.4 1382.9 141.0 1382.9 138.6 1382.9 136.2 1382.9 133.9 1382.9 131.5 1382.9 129.1 1382.9 126.7 1382.9 124.4 1382.9 122.0 1382.9 119.6 1382.9 117.2 1382.9 114.9 1382.9 112.5 1382.9 112.5 1354.3 112.5 1325.8 112.5 1316.3 112.5 1297.3 112.5 1282.2 114.9 1282.2 117.2 1282.2 119.6 1282.2 122.0 1282.2 124.4 1282.2 126.7 1282.2 129.1 1282.2 131.5 1282.8 133.9 1283.7 136.2 1284.0 138.6 1283.3 141.0 1282.6 143.4 1282.0 145.7 1282.3 148.1 1283.9 150.5 1286.7 152.9 1290.0 155.2 1295.2 155.8 1297.3 157.6 1305.9 159.1 1316.3 160.0 1325.8 158.2 1354.3 160.0 1360.1 162.4 1365.0 164.7 1366.9 167.1 1368.1 169.5 1369.3 171.8 1370.4 174.2 1370.7 176.6 1369.8 179.0 1368.6 181.3 1366.9 183.7 1364.5 185.7 1354.3 186.1 1337.7 186.4 1325.8 186.4 1316.3 186.6 1297.3 187.2 1268.8 188.5 1262.4 190.8 1254.7 193.2 1249.7 195.6 1253.5 198.0 1260.5 200.0 1268.8 200.3 1269.7 202.7 1272.0 205.1 1273.8 207.5 1275.2 209.8 1276.3 212.2 1276.7 214.6 1277.0 217.0 1277.2 219.3 1277.9 221.7 1278.5 224.1 1278.2 226.4 1277.1 228.8 1276.0 231.2 1275.0 233.6 1274.2 235.9 1273.4 238.3 1272.5 240.7 1271.6 243.1 1270.4 245.4 1269.2 245.9 1268.8 245.6 1230.7 245.4 1229.1 243.8 1192.7 245.4 1185.4 247.8 1176.9 250.2 1171.7 252.6 1170.5 254.9 1169.5 257.3 1168.5 259.7 1167.5 262.1 1166.5 264.4 1165.5 266.8 1164.4 269.2 1163.3 271.6 1162.2 273.9 1161.1 276.3 1159.9 278.7 1158.7 281.1 1157.4 283.4 1156.2 285.8 1154.8 285.9 1154.7 288.2 1149.9ZM310.7 1268.8 311.9 1271.4 314.3 1274.5 316.7 1271.7 318.6 1268.8 316.7 1263.4 314.3 1258.7 311.9 1263.2 310.7 1268.8ZM533.4 1268.8 535.1 1276.2 537.4 1282.0 539.8 1285.4 542.2 1288.1 544.6 1290.2 546.9 1291.9 549.3 1293.2 551.7 1293.1 554.1 1292.9 556.4 1292.6 558.8 1292.4 561.2 1292.2 563.6 1292.0 565.9 1291.1 568.3 1290.0 570.7 1289.0 573.0 1288.1 575.4 1287.1 577.8 1286.2 580.2 1283.9 582.5 1281.3 584.9 1278.6 587.3 1275.7 589.7 1272.6 592.0 1269.3 592.7 1268.8 592.0 1266.1 589.7 1255.6 587.3 1252.6 584.9 1251.1 582.5 1250.2 580.2 1249.6 577.8 1249.4 575.4 1250.0 573.0 1250.4 570.7 1250.8 568.3 1251.1 565.9 1251.4 563.6 1251.8 561.2 1252.6 558.8 1253.5 556.4 1254.3 554.1 1255.1 551.7 1255.8 549.3 1256.7 546.9 1258.3 544.6 1260.0 542.2 1261.8 539.8 1263.6 537.4 1265.4 535.1 1267.3 533.4 1268.8ZM615.8 1116.7 618.2 1116.7 620.5 1116.7 622.9 1116.7 625.3 1116.7 627.6 1116.7 630.0 1116.7 632.4 1116.7 634.8 1116.7 637.1 1116.7 639.5 1116.7 641.9 1116.7 644.3 1116.7 646.6 1116.7 649.0 1116.7 651.4 1116.7 653.8 1116.7 656.1 1116.7 657.9 1116.7 656.1 1126.9 653.8 1137.5 651.4 1144.0 649.0 1149.2 646.6 1154.5 646.5 1154.7 644.3 1161.0 641.9 1165.9 639.5 1169.6 637.1 1169.5 634.8 1166.0 632.4 1161.0 630.1 1154.7 630.0 1154.4 627.6 1152.7 625.3 1150.5 622.9 1147.6 620.5 1143.7 618.2 1138.1 615.8 1129.5 613.5 1116.7 615.8 1116.7Z"/>
<path fill="#ffc8b0" fill-rule="evenodd" d="M114.9 1116.7 117.2 1116.7 119.6 1116.7 122.0 1116.7 124.4 1116.7 126.7 1116.7 129.1 1116.7 130.1 1116.7 129.1 1119.7 126.7 1126.2 124.4 1132.5 122.0 1138.5 119.6 1144.2 117.2 1149.7 115.5 1154.7 117.2 1161.4 119.6 1167.3 122.0 1176.2 124.4 1187.7 125.0 1192.7 124.4 1198.1 122.0 1212.9 119.6 1227.8 119.3 1230.7 117.2 1239.2 114.9 1243.4 112.5 1243.4 112.5 1230.7 112.5 1192.7 112.5 1154.7 112.5 1116.7 114.9 1116.7ZM300.0 1153.8 302.4 1152.5 304.8 1151.2 307.2 1149.8 309.5 1148.4 311.9 1146.9 314.3 1145.3 316.7 1143.7 319.0 1141.8 321.4 1138.3 323.8 1133.7 326.2 1129.4 328.5 1134.2 330.9 1138.3 333.3 1141.5 335.7 1144.0 338.0 1146.1 340.4 1147.8 342.8 1149.3 345.1 1150.3 347.5 1151.3 349.9 1152.2 352.3 1153.1 354.6 1154.0 355.9 1154.7 357.0 1155.6 359.4 1158.5 361.8 1160.9 364.1 1162.9 366.5 1164.5 368.9 1164.8 371.3 1162.9 373.6 1160.9 376.0 1158.6 378.4 1156.2 380.1 1154.7 380.8 1154.4 383.1 1153.5 385.5 1152.7 387.9 1151.8 390.3 1151.0 392.6 1150.2 395.0 1149.5 397.4 1148.7 399.7 1147.9 402.1 1147.2 404.5 1146.4 406.9 1145.7 409.2 1145.0 411.6 1144.3 414.0 1143.6 416.4 1141.4 418.7 1139.3 421.1 1137.4 423.5 1136.5 425.9 1136.0 428.2 1135.6 430.6 1135.1 433.0 1134.6 435.4 1134.1 437.7 1133.6 440.1 1133.3 442.5 1133.2 444.9 1133.1 447.2 1132.9 449.6 1132.8 452.0 1132.6 454.4 1132.5 456.7 1132.8 459.1 1133.3 461.5 1134.8 463.8 1136.3 466.2 1137.9 468.6 1139.6 471.0 1141.0 473.3 1142.3 475.7 1143.6 478.1 1145.0 480.5 1146.4 482.8 1147.8 485.2 1149.3 487.6 1150.8 490.0 1152.3 492.3 1153.8 493.6 1154.7 494.7 1155.7 497.1 1157.9 499.5 1160.1 501.8 1162.3 504.2 1164.5 506.6 1166.7 509.0 1168.9 511.3 1171.2 513.7 1173.9 516.1 1176.8 518.4 1179.5 520.8 1182.3 523.2 1185.5 525.6 1189.4 527.3 1192.7 527.9 1193.5 530.3 1196.1 532.7 1198.7 535.1 1201.1 537.4 1203.4 539.8 1205.7 542.2 1207.8 544.6 1209.4 546.9 1210.3 549.3 1211.3 551.7 1212.4 554.1 1213.5 556.4 1214.8 558.8 1216.0 561.2 1217.4 563.6 1219.0 565.9 1220.6 568.3 1222.4 570.7 1224.3 573.0 1226.4 575.4 1228.8 577.1 1230.7 575.4 1232.0 573.0 1233.5 570.7 1234.8 568.3 1236.0 565.9 1237.1 563.6 1238.1 561.2 1239.2 558.8 1240.3 556.4 1241.3 554.1 1242.3 551.7 1243.3 549.3 1244.3 546.9 1245.8 544.6 1247.3 542.2 1248.8 539.8 1250.4 537.4 1252.0 535.1 1253.7 532.7 1255.5 530.3 1257.3 527.9 1259.2 525.6 1261.0 523.2 1263.0 520.8 1265.1 518.4 1267.5 517.0 1268.8 516.1 1296.9 516.1 1297.3 515.2 1316.3 514.8 1325.8 513.7 1327.6 511.3 1330.4 509.0 1333.4 506.6 1336.3 504.2 1339.3 501.8 1342.4 499.5 1345.4 497.1 1348.5 494.7 1351.7 492.4 1354.3 492.3 1354.4 490.0 1355.0 487.6 1355.7 485.2 1356.3 482.8 1356.9 480.5 1357.6 478.1 1358.3 475.7 1359.0 473.3 1359.7 471.0 1360.4 468.6 1361.1 466.2 1361.9 463.8 1362.7 461.5 1363.5 459.1 1364.3 456.7 1365.2 454.4 1366.0 452.0 1366.9 449.6 1367.8 447.2 1368.8 444.9 1369.7 442.5 1370.7 440.1 1370.5 437.7 1370.2 435.4 1369.9 433.0 1369.7 430.6 1369.5 428.2 1369.3 425.9 1369.1 423.5 1369.0 421.1 1368.8 418.7 1368.7 416.4 1368.6 414.0 1368.4 411.6 1368.3 409.2 1368.2 406.9 1368.2 404.5 1368.1 402.1 1368.0 399.7 1367.9 397.4 1367.9 395.0 1367.8 392.6 1367.7 390.3 1367.7 387.9 1367.6 385.5 1367.5 383.1 1366.9 380.8 1366.4 378.4 1366.0 376.0 1365.6 373.6 1365.2 371.3 1364.9 368.9 1365.3 366.5 1366.0 364.1 1366.8 361.8 1367.7 359.4 1368.5 357.0 1369.5 354.6 1370.3 352.3 1370.8 349.9 1371.2 347.5 1371.6 345.1 1372.1 342.8 1372.5 340.4 1372.9 338.0 1373.3 335.7 1373.7 333.3 1374.1 330.9 1374.5 328.5 1374.9 326.2 1375.3 323.8 1375.7 321.4 1376.1 319.0 1376.4 316.7 1376.8 314.3 1377.2 311.9 1378.3 309.5 1378.4 307.2 1377.8 304.8 1377.5 302.4 1377.1 300.0 1377.8 297.7 1378.7 295.3 1379.5 292.9 1380.4 290.5 1380.7 288.2 1380.6 285.8 1380.6 283.4 1380.8 281.1 1381.3 278.7 1381.8 276.3 1382.3 273.9 1382.9 273.9 1382.9 271.6 1382.9 269.2 1382.9 266.8 1382.9 264.4 1382.9 262.1 1382.9 259.7 1382.9 257.3 1382.9 256.2 1382.9 254.9 1381.7 252.6 1380.2 250.2 1379.0 247.8 1378.1 245.4 1378.1 243.1 1376.3 240.7 1374.8 238.3 1373.6 235.9 1372.5 233.6 1371.4 231.2 1370.2 228.8 1369.1 226.4 1368.0 224.1 1367.0 221.7 1366.0 219.3 1365.0 217.0 1363.9 214.6 1361.7 212.2 1358.4 209.8 1354.9 209.6 1354.3 207.5 1343.7 205.1 1337.7 202.7 1335.0 200.3 1332.6 198.0 1331.3 195.6 1330.3 193.2 1328.5 191.8 1325.8 192.8 1316.3 193.2 1311.5 195.6 1309.0 198.0 1308.4 200.3 1307.3 202.7 1305.1 205.1 1303.4 207.5 1302.0 209.8 1300.6 212.2 1297.4 212.3 1297.3 214.6 1295.1 217.0 1293.4 219.3 1293.2 221.7 1293.1 224.1 1292.4 226.4 1291.1 228.8 1289.9 231.2 1288.7 233.6 1288.7 235.9 1288.6 238.3 1288.5 240.7 1288.4 243.1 1288.3 245.4 1288.1 247.8 1287.1 250.2 1285.5 252.6 1283.5 254.9 1281.0 257.3 1277.8 259.7 1273.5 261.7 1268.8 259.7 1248.7 257.3 1234.4 256.9 1230.7 254.9 1203.8 252.6 1195.4 251.4 1192.7 252.6 1192.1 254.9 1191.4 257.3 1190.7 259.7 1189.9 262.1 1189.2 264.4 1188.4 266.8 1187.6 269.2 1186.8 271.6 1186.0 273.9 1185.1 276.3 1184.2 278.7 1183.3 281.1 1182.4 283.4 1181.5 285.8 1180.5 288.2 1178.3 290.5 1175.2 292.9 1171.2 295.3 1165.6 297.7 1157.3 298.9 1154.7 300.0 1153.8ZM297.1 1230.7 295.3 1244.9 293.2 1268.8 295.3 1273.0 297.7 1277.9 300.0 1282.5 302.4 1286.9 304.8 1291.2 307.2 1297.3 307.2 1297.3 309.5 1305.3 311.9 1311.9 314.3 1306.2 316.7 1300.3 318.4 1297.3 319.0 1296.3 321.4 1291.9 323.8 1286.8 326.2 1280.8 328.5 1273.7 330.0 1268.8 328.5 1250.4 326.2 1237.2 323.8 1230.9 323.7 1230.7 321.4 1226.5 319.0 1222.7 316.7 1219.5 314.3 1216.8 311.9 1214.4 309.5 1213.6 307.2 1215.3 304.8 1217.3 302.4 1220.1 300.0 1223.9 297.7 1229.6 297.1 1230.7ZM348.8 1268.8 349.9 1270.6 352.3 1273.2 354.6 1275.9 357.0 1278.6 359.4 1277.3 361.8 1275.1 364.1 1272.4 366.4 1268.8 364.1 1266.8 361.8 1264.8 359.4 1262.6 357.0 1260.9 354.6 1262.3 352.3 1264.1 349.9 1266.5 348.8 1268.8ZM637.1 1116.7 639.5 1116.7 641.9 1116.7 644.3 1116.7 646.6 1116.7 649.0 1116.7 651.4 1116.7 652.2 1116.7 651.4 1119.3 649.0 1124.4 646.6 1129.6 644.3 1134.0 641.9 1133.4 639.5 1132.0 637.1 1121.3 636.1 1116.7 637.1 1116.7ZM734.5 1116.7 736.9 1116.7 739.2 1116.7 741.6 1116.7 744.0 1116.7 746.3 1116.7 748.7 1116.7 751.1 1116.7 753.5 1116.7 755.8 1116.7 758.2 1116.7 760.6 1116.7 763.0 1116.7 765.3 1116.7 767.7 1116.7 770.1 1116.7 772.5 1116.7 774.8 1116.7 777.2 1116.7 779.6 1116.7 782.0 1116.7 784.3 1116.7 786.7 1116.7 789.1 1116.7 791.5 1116.7 793.8 1116.7 796.2 1116.7 796.2 1154.7 796.2 1192.7 796.2 1230.7 796.2 1255.5 793.8 1255.5 791.5 1255.5 789.1 1259.6 786.7 1266.5 785.8 1268.8 786.7 1273.5 789.1 1286.1 790.9 1297.3 791.5 1301.5 793.8 1308.7 796.2 1308.7 796.2 1316.3 796.2 1325.8 796.2 1354.3 796.2 1371.8 793.8 1370.8 791.5 1369.0 789.1 1367.8 786.7 1366.9 784.3 1368.2 782.0 1369.4 779.6 1370.1 777.2 1370.7 774.8 1371.6 772.5 1372.4 770.1 1372.6 767.7 1372.6 765.3 1372.5 763.0 1372.4 760.6 1372.6 758.2 1372.8 755.8 1373.1 753.5 1373.3 751.1 1373.6 748.7 1374.0 746.3 1374.3 744.0 1374.8 741.6 1375.3 739.2 1376.0 736.9 1376.8 734.5 1377.8 732.1 1378.6 729.7 1380.0 729.1 1382.9 727.4 1382.9 725.0 1382.9 723.1 1382.9 723.7 1354.3 722.6 1352.9 720.2 1350.4 717.9 1347.5 715.5 1344.5 713.1 1342.3 710.7 1340.2 708.4 1338.4 706.0 1336.9 703.6 1335.5 701.2 1334.2 698.9 1332.9 696.5 1331.6 694.1 1330.3 691.7 1329.1 689.4 1327.9 687.0 1326.7 685.5 1325.8 684.6 1319.0 684.3 1316.3 682.2 1299.4 681.9 1297.3 679.9 1285.0 677.5 1273.9 676.6 1268.8 677.5 1266.1 679.9 1261.5 682.2 1257.2 684.6 1253.2 687.0 1249.5 689.4 1246.0 691.7 1242.6 694.1 1239.5 696.5 1236.6 698.9 1233.8 701.2 1231.2 701.4 1230.7 703.6 1229.2 706.0 1227.3 708.4 1225.4 710.7 1223.4 713.1 1221.4 715.5 1219.4 717.9 1217.1 720.2 1213.5 722.6 1210.0 725.0 1206.7 727.4 1202.7 729.7 1197.9 732.0 1192.7 732.1 1191.0 734.2 1154.7 734.3 1116.7 734.5 1116.7ZM606.3 1229.1 608.7 1227.0 611.0 1225.2 613.4 1223.6 615.8 1222.2 618.2 1221.0 620.5 1219.9 622.9 1221.2 625.3 1222.6 627.6 1224.1 630.0 1225.7 632.4 1227.4 634.8 1229.3 636.8 1230.7 634.8 1233.3 632.4 1236.9 630.0 1240.2 627.6 1243.4 625.3 1246.5 622.9 1249.4 620.5 1252.3 618.2 1252.2 615.8 1252.2 613.4 1252.2 611.0 1247.0 608.7 1241.4 606.3 1235.4 604.7 1230.7 606.3 1229.1ZM584.9 1297.2 587.3 1294.9 589.7 1292.4 592.0 1290.8 594.4 1290.2 596.8 1289.8 599.2 1289.2 601.5 1288.6 603.9 1287.9 606.3 1287.0 608.7 1285.9 611.0 1284.6 613.4 1282.9 615.8 1286.7 618.2 1290.4 620.5 1294.2 622.5 1297.3 622.9 1297.9 625.3 1301.7 627.6 1305.5 630.0 1309.2 632.4 1313.0 634.4 1316.3 634.8 1316.8 637.1 1320.8 639.5 1324.4 639.8 1325.8 641.9 1331.2 644.3 1348.3 644.7 1354.3 646.6 1363.2 649.0 1369.7 651.4 1372.6 653.8 1374.9 656.1 1376.6 658.5 1377.0 660.9 1377.1 663.3 1377.2 665.6 1377.7 668.0 1378.5 670.4 1379.9 672.8 1382.1 673.6 1382.9 672.8 1382.9 670.4 1382.9 668.0 1382.9 665.6 1382.9 663.3 1382.9 660.9 1382.9 658.5 1382.9 656.1 1382.9 653.8 1382.9 651.4 1382.9 649.0 1382.9 646.6 1382.9 644.3 1382.9 641.9 1382.9 639.5 1382.9 637.1 1382.9 634.8 1382.9 632.4 1382.9 630.0 1382.9 627.6 1382.9 625.3 1382.9 622.9 1382.9 620.5 1382.9 618.2 1382.9 615.8 1382.9 613.4 1382.9 611.0 1382.9 610.0 1382.9 608.7 1382.3 606.3 1381.3 603.9 1380.3 601.5 1379.4 599.2 1378.4 596.8 1377.5 594.4 1376.6 592.0 1375.8 589.7 1374.9 587.3 1374.3 584.9 1373.9 582.5 1373.4 580.2 1373.0 577.8 1372.5 575.4 1372.0 573.0 1371.4 570.7 1370.8 568.3 1370.1 565.9 1369.4 563.6 1368.7 561.2 1367.9 558.8 1367.1 556.4 1366.3 554.1 1365.3 551.7 1364.3 549.3 1363.2 546.9 1362.1 544.6 1360.8 542.2 1359.6 539.8 1358.3 537.4 1356.7 535.1 1354.8 534.3 1354.3 535.1 1351.9 537.4 1341.3 539.8 1329.7 540.8 1325.8 542.2 1323.8 544.6 1321.4 546.9 1319.6 549.3 1318.2 551.7 1316.6 552.2 1316.3 554.1 1315.2 556.4 1313.9 558.8 1312.8 561.2 1311.7 563.6 1310.7 565.9 1309.5 568.3 1308.2 570.7 1306.9 573.0 1305.8 575.4 1304.6 577.8 1303.5 580.2 1301.6 582.5 1299.5 584.8 1297.3 584.9 1297.2ZM114.9 1308.5 117.2 1308.5 119.6 1308.5 122.0 1308.5 124.4 1308.5 126.7 1308.5 129.1 1308.5 131.5 1309.6 133.9 1311.1 136.2 1311.9 138.6 1311.4 141.0 1310.8 143.4 1310.2 145.7 1309.8 148.1 1312.4 149.8 1316.3 150.5 1317.4 152.9 1323.8 153.3 1325.8 154.3 1354.3 155.2 1361.8 157.6 1370.8 160.0 1374.6 162.4 1376.9 164.7 1378.0 167.1 1378.9 169.5 1379.7 171.8 1380.4 174.2 1381.1 176.6 1381.6 179.0 1382.3 180.5 1382.9 179.0 1382.9 176.6 1382.9 174.2 1382.9 171.8 1382.9 169.5 1382.9 167.1 1382.9 164.7 1382.9 162.4 1382.9 160.0 1382.9 157.6 1382.9 155.2 1382.9 152.9 1382.9 150.5 1382.9 148.1 1382.9 145.7 1382.9 143.4 1382.9 141.0 1382.9 138.6 1382.9 136.2 1382.9 133.9 1382.9 131.5 1382.9 129.1 1382.9 126.7 1382.9 124.4 1382.9 122.0 1382.9 119.6 1382.9 117.2 1382.9 114.9 1382.9 112.5 1382.9 112.5 1354.3 112.5 1325.8 112.5 1316.3 112.5 1308.5 114.9 1308.5Z"/>
<path fill="#ffa07a" fill-rule="evenodd" d="M114.9 1116.7 117.2 1116.7 114.9 1132.4 112.5 1143.3 112.5 1116.7 114.9 1116.7ZM416.4 1151.9 418.7 1149.1 421.1 1146.6 423.5 1145.4 425.9 1144.9 428.2 1144.4 430.6 1143.9 433.0 1143.5 435.4 1143.0 437.7 1142.4 440.1 1142.4 442.5 1142.6 444.9 1142.8 447.2 1142.9 449.6 1143.1 452.0 1143.3 454.4 1143.6 456.7 1144.7 459.1 1146.0 461.5 1147.8 463.8 1149.7 466.2 1151.8 468.6 1154.0 469.6 1154.7 471.0 1156.0 473.3 1157.9 475.7 1159.9 478.1 1162.0 480.5 1164.1 482.8 1166.3 485.2 1168.6 487.6 1171.0 490.0 1173.2 492.3 1175.3 494.7 1177.5 497.1 1179.7 499.5 1182.0 501.8 1184.2 504.2 1186.4 506.6 1188.6 509.0 1190.8 510.8 1192.7 511.3 1193.4 513.7 1197.3 516.1 1200.7 518.4 1203.6 520.8 1206.2 523.2 1208.4 525.6 1210.4 527.9 1212.4 530.3 1214.6 532.7 1216.7 535.1 1218.7 537.4 1220.7 539.8 1222.5 542.2 1224.3 544.6 1225.9 546.9 1227.4 549.3 1229.0 551.7 1230.7 551.8 1230.7 551.7 1230.8 549.3 1232.0 546.9 1233.2 544.6 1234.5 542.2 1235.8 539.8 1237.2 537.4 1238.6 535.1 1240.1 532.7 1241.6 530.3 1243.1 527.9 1244.8 525.6 1246.1 523.2 1247.4 520.8 1248.8 518.4 1250.3 516.1 1251.8 513.7 1253.2 511.3 1254.7 509.0 1256.3 506.6 1258.0 504.2 1259.9 501.8 1261.9 499.5 1264.0 497.1 1266.3 494.8 1268.8 494.7 1269.4 492.3 1284.4 490.0 1297.3 490.0 1297.6 487.6 1309.1 486.0 1316.3 485.2 1319.4 483.4 1325.8 482.8 1326.3 480.5 1327.9 478.1 1329.3 475.7 1330.6 473.3 1331.9 471.0 1333.0 468.6 1334.2 466.2 1335.2 463.8 1336.2 461.5 1337.1 459.1 1338.0 456.7 1338.8 454.4 1339.6 452.0 1340.4 449.6 1340.0 447.2 1339.7 444.9 1339.2 442.5 1338.7 440.1 1338.2 437.7 1337.5 435.4 1336.7 433.0 1335.8 430.6 1334.8 428.2 1333.5 425.9 1331.8 423.5 1329.7 421.1 1326.9 420.8 1325.8 418.7 1318.3 418.3 1316.3 416.4 1308.5 414.0 1299.8 413.2 1297.3 411.6 1292.2 409.2 1291.1 406.9 1291.1 404.5 1291.1 402.1 1268.8 402.1 1268.8 399.7 1267.3 397.4 1265.7 395.0 1264.0 392.6 1262.1 390.3 1260.1 387.9 1257.9 385.5 1256.0 383.1 1254.0 380.8 1251.9 378.4 1249.8 376.0 1247.6 373.6 1245.4 371.3 1243.1 368.9 1240.8 366.5 1238.4 364.1 1235.9 361.8 1233.4 359.4 1230.7 359.4 1230.7 357.0 1226.8 354.6 1223.2 352.3 1219.8 349.9 1216.6 347.5 1213.6 345.1 1210.9 342.8 1208.3 340.4 1205.8 338.0 1203.5 335.7 1201.3 333.3 1199.2 330.9 1197.3 328.5 1195.4 326.2 1193.7 324.7 1192.7 326.2 1190.1 328.5 1186.3 330.9 1184.4 333.3 1183.1 335.7 1182.1 338.0 1181.4 340.4 1180.9 342.8 1180.4 345.1 1180.1 347.5 1179.8 349.9 1179.5 352.3 1179.3 354.6 1179.1 357.0 1179.2 359.4 1179.6 361.8 1180.0 364.1 1180.4 366.5 1180.7 368.9 1180.4 371.3 1179.2 373.6 1177.9 376.0 1176.4 378.4 1174.8 380.8 1173.3 383.1 1171.0 385.5 1168.9 387.9 1167.1 390.3 1165.4 392.6 1163.9 395.0 1162.8 397.4 1161.9 399.7 1160.9 402.1 1159.9 404.5 1159.0 406.9 1157.9 409.2 1156.9 411.6 1155.9 414.0 1154.8 414.1 1154.7 416.4 1151.9ZM744.0 1116.7 746.3 1116.7 748.7 1116.7 751.1 1116.7 753.5 1116.7 755.8 1116.7 758.2 1116.7 760.6 1116.7 763.0 1116.7 765.3 1116.7 767.7 1116.7 770.1 1116.7 772.5 1116.7 774.8 1116.7 777.2 1116.7 779.6 1116.7 782.0 1116.7 784.3 1116.7 786.7 1116.7 789.1 1116.7 790.6 1116.7 789.1 1128.7 786.7 1147.4 785.5 1154.7 786.7 1160.3 789.1 1175.6 791.5 1181.3 793.8 1181.3 796.2 1181.3 796.2 1192.7 796.2 1230.7 796.2 1236.5 793.8 1236.5 791.5 1236.5 789.1 1238.2 786.7 1244.1 784.3 1250.1 782.0 1255.5 779.6 1261.0 777.2 1267.6 776.8 1268.8 777.2 1271.9 779.6 1288.3 781.2 1297.3 782.0 1300.9 784.3 1311.0 785.8 1316.3 786.7 1319.3 788.8 1325.8 789.1 1326.8 791.5 1336.5 793.8 1335.8 796.2 1334.1 796.2 1354.3 796.2 1365.4 793.8 1363.6 791.5 1360.9 789.1 1359.0 786.7 1357.6 784.3 1359.6 782.0 1361.4 779.6 1362.6 777.2 1363.6 774.8 1364.6 772.5 1365.6 770.1 1365.5 767.7 1364.9 765.3 1364.3 763.0 1363.5 760.6 1363.1 758.2 1362.8 755.8 1362.4 753.5 1362.0 751.1 1361.5 748.7 1361.0 746.3 1360.4 744.0 1359.6 741.6 1358.7 739.2 1357.6 736.9 1356.3 734.5 1354.6 734.3 1354.3 732.1 1350.3 729.7 1346.3 727.4 1343.2 725.0 1340.1 722.6 1336.7 720.2 1333.2 717.9 1329.4 715.6 1325.8 715.5 1324.4 713.8 1316.3 713.1 1312.1 711.4 1297.3 710.7 1289.0 709.0 1268.8 710.7 1262.1 713.1 1249.9 715.5 1239.4 717.7 1230.7 717.9 1230.6 720.2 1226.7 722.6 1223.0 725.0 1219.5 727.4 1215.8 729.7 1211.8 732.1 1207.2 734.5 1202.0 736.9 1196.2 738.1 1192.7 739.2 1180.2 741.6 1159.5 742.0 1154.7 741.9 1116.7 744.0 1116.7ZM335.7 1297.3 338.0 1290.1 340.4 1289.8 342.8 1296.6 343.0 1297.3 345.1 1302.2 347.5 1307.0 349.9 1310.3 352.3 1313.2 354.6 1316.0 354.9 1316.3 357.0 1319.0 359.4 1321.6 361.8 1324.8 362.2 1325.8 364.1 1339.4 366.5 1348.5 368.9 1353.5 369.9 1354.3 368.9 1354.4 366.5 1354.9 364.1 1355.4 361.8 1356.0 359.4 1356.5 357.0 1357.1 354.6 1357.7 352.3 1358.2 349.9 1358.7 347.5 1359.2 345.1 1359.7 342.8 1360.2 340.4 1360.7 338.0 1361.2 335.7 1361.7 333.3 1362.1 330.9 1362.6 328.5 1363.1 326.2 1363.5 323.8 1364.0 321.4 1364.4 319.0 1364.8 316.7 1365.3 314.3 1365.7 311.9 1368.6 309.5 1368.1 307.2 1365.4 304.8 1363.4 302.4 1360.6 300.0 1361.9 297.7 1364.7 295.3 1366.9 292.9 1369.8 290.5 1370.0 288.2 1367.5 285.8 1365.2 283.4 1363.2 281.1 1363.3 278.7 1363.5 276.3 1363.7 273.9 1363.8 271.6 1365.2 269.2 1367.1 266.8 1369.7 264.4 1370.9 262.1 1368.8 259.7 1367.6 257.3 1366.7 254.9 1366.4 252.6 1366.3 250.2 1366.3 247.8 1366.8 245.4 1369.1 243.1 1366.3 240.7 1364.3 238.3 1363.2 235.9 1362.2 233.6 1361.2 231.2 1360.2 228.8 1359.2 226.4 1358.3 224.1 1357.4 221.7 1356.5 219.3 1355.6 217.0 1354.8 216.4 1354.3 214.6 1348.7 212.2 1337.1 209.8 1327.0 209.2 1325.8 209.8 1324.9 212.2 1318.2 213.0 1316.3 214.6 1313.2 217.0 1309.5 219.3 1308.6 221.7 1307.7 224.1 1306.5 226.4 1305.1 228.8 1303.7 231.2 1302.5 233.6 1303.1 235.9 1303.7 238.3 1304.4 240.7 1305.2 243.1 1306.1 245.4 1307.0 247.8 1307.6 250.2 1308.0 252.6 1308.6 254.9 1309.3 257.3 1310.2 259.7 1311.3 262.1 1313.1 264.4 1316.1 264.6 1316.3 266.8 1320.6 267.5 1325.8 269.2 1334.0 271.6 1337.9 273.6 1325.8 273.9 1319.5 274.6 1316.3 276.3 1308.1 278.7 1301.7 281.1 1300.7 283.4 1300.2 285.8 1299.8 288.2 1299.5 290.5 1301.9 292.9 1305.7 295.3 1309.9 297.7 1313.9 299.2 1316.3 300.0 1317.7 302.4 1321.4 304.8 1324.9 305.1 1325.8 307.2 1331.0 309.5 1333.2 311.9 1334.6 314.3 1333.8 316.7 1328.8 318.3 1325.8 319.0 1324.6 321.4 1322.2 323.8 1319.5 326.2 1316.3 326.2 1316.3 328.5 1312.6 330.9 1308.2 333.3 1303.2 335.6 1297.3 335.7 1297.3ZM392.6 1295.3 395.0 1283.4 397.4 1279.9 399.7 1279.9 402.1 1297.3 402.1 1316.3 402.1 1325.8 399.7 1340.8 397.4 1346.0 395.0 1346.8 392.6 1343.5 390.3 1330.5 389.7 1325.8 390.3 1320.7 390.5 1316.3 392.3 1297.3 392.6 1295.3ZM584.9 1315.9 587.3 1314.0 589.7 1312.1 592.0 1312.3 594.4 1313.2 596.8 1314.3 599.2 1315.6 600.3 1316.3 601.5 1317.1 603.9 1318.8 606.3 1320.8 608.7 1323.3 610.7 1325.8 611.0 1326.0 613.4 1326.9 615.8 1327.7 618.2 1328.4 620.5 1329.0 622.9 1329.6 625.3 1330.4 627.6 1331.1 630.0 1331.9 632.4 1332.8 634.8 1333.6 637.1 1334.4 639.5 1337.0 641.9 1354.3 641.9 1354.3 644.3 1370.7 646.6 1375.0 649.0 1378.5 651.4 1380.3 653.8 1381.7 656.1 1382.9 653.8 1382.9 651.4 1382.9 649.0 1382.9 646.6 1382.9 644.3 1382.9 641.9 1382.9 639.5 1382.9 637.1 1382.9 634.8 1382.9 632.4 1382.9 630.0 1382.9 629.2 1382.9 627.6 1382.0 625.3 1380.8 622.9 1379.8 620.5 1378.7 618.2 1377.5 615.8 1376.4 613.4 1375.3 611.0 1374.2 608.7 1373.2 606.3 1372.3 603.9 1371.4 601.5 1370.5 599.2 1369.7 596.8 1368.9 594.4 1368.1 592.0 1367.3 589.7 1366.5 587.3 1365.9 584.9 1365.3 582.5 1364.8 580.2 1364.2 577.8 1363.7 575.4 1363.0 573.0 1362.2 570.7 1361.4 568.3 1360.5 565.9 1359.5 563.6 1358.5 561.2 1357.5 558.8 1356.4 556.4 1355.2 554.8 1354.3 556.4 1350.2 558.8 1344.6 561.2 1339.5 563.6 1334.9 565.9 1330.8 568.3 1327.0 569.1 1325.8 570.7 1324.8 573.0 1323.4 575.4 1322.1 577.8 1320.7 580.2 1319.2 582.5 1317.6 584.3 1316.3 584.9 1315.9ZM114.9 1320.8 117.2 1320.8 119.6 1320.8 122.0 1320.8 124.4 1320.8 126.7 1320.8 129.1 1320.8 131.5 1321.3 133.9 1321.9 136.2 1322.5 138.6 1323.0 141.0 1323.6 143.4 1324.4 145.7 1325.3 146.1 1325.8 148.1 1334.6 150.5 1354.3 148.1 1371.9 145.7 1376.1 143.4 1376.9 141.0 1377.4 138.6 1377.8 136.2 1378.2 133.9 1378.5 131.5 1378.8 129.1 1379.1 126.7 1379.4 124.4 1379.8 122.0 1379.9 119.6 1379.5 117.2 1378.8 114.9 1377.5 112.5 1377.5 112.5 1354.3 112.5 1325.8 112.5 1320.8 114.9 1320.8Z"/>
<path fill="#ff7442" fill-rule="evenodd" d="M423.5 1154.4 425.9 1153.8 428.2 1153.3 430.6 1152.8 433.0 1152.3 435.4 1151.8 437.7 1151.3 440.1 1151.5 442.5 1151.9 444.9 1152.4 447.2 1152.9 449.6 1153.5 452.0 1154.1 454.4 1154.7 454.4 1154.7 456.7 1158.9 459.1 1162.5 461.5 1165.7 463.8 1168.5 466.2 1170.9 468.6 1173.1 471.0 1175.2 473.3 1177.4 475.7 1179.8 478.1 1182.2 480.5 1184.7 482.8 1187.3 485.2 1189.9 487.6 1192.7 487.6 1192.7 490.0 1198.2 492.3 1202.8 494.7 1206.7 497.1 1210.0 499.5 1212.9 501.8 1215.5 504.2 1217.7 506.6 1219.7 509.0 1221.5 511.3 1223.1 513.7 1224.8 516.1 1226.2 518.4 1227.4 520.8 1228.4 523.2 1229.4 525.6 1230.2 526.8 1230.7 525.6 1231.2 523.2 1231.8 520.8 1232.4 518.4 1233.2 516.1 1234.0 513.7 1234.8 511.3 1235.6 509.0 1236.6 506.6 1237.6 504.2 1238.6 501.8 1239.8 499.5 1241.0 497.1 1242.4 494.7 1243.9 492.3 1245.4 490.0 1247.1 487.6 1249.0 485.2 1251.0 482.8 1253.3 480.5 1255.8 478.1 1258.6 475.7 1261.7 473.3 1265.2 471.2 1268.8 471.0 1269.4 468.6 1274.6 466.2 1279.6 463.8 1284.4 461.5 1289.0 459.1 1293.4 457.0 1297.3 456.7 1297.7 454.4 1301.8 452.0 1305.8 449.6 1305.2 447.2 1304.7 444.9 1302.1 442.5 1299.0 441.2 1297.3 440.1 1295.8 437.7 1292.5 435.4 1289.1 433.0 1285.6 430.6 1282.0 428.2 1278.3 425.9 1274.5 423.5 1270.6 422.7 1268.8 421.1 1267.0 418.7 1264.1 416.4 1261.4 414.0 1258.9 411.6 1256.6 409.2 1254.4 406.9 1252.4 404.5 1250.1 402.1 1247.4 399.7 1245.2 397.4 1242.7 395.0 1240.1 392.6 1237.2 390.3 1234.1 387.9 1230.7 387.9 1230.7 385.5 1224.1 383.1 1213.5 380.8 1193.9 380.4 1192.7 380.8 1192.6 383.1 1189.1 385.5 1186.0 387.9 1183.3 390.3 1180.8 392.6 1178.5 395.0 1177.5 397.4 1176.6 399.7 1175.8 402.1 1174.9 404.5 1174.0 406.9 1173.1 409.2 1172.2 411.6 1171.3 414.0 1170.4 416.4 1167.2 418.7 1162.9 421.1 1157.4 423.0 1154.7 423.5 1154.4ZM746.3 1116.7 748.7 1116.7 751.1 1116.7 753.5 1116.7 755.8 1116.7 758.2 1116.7 760.6 1116.7 763.0 1116.7 765.3 1116.7 767.7 1116.7 770.1 1116.7 772.5 1116.7 774.8 1116.7 777.2 1116.7 779.6 1116.7 780.5 1116.7 779.6 1119.9 777.2 1126.0 774.8 1133.2 772.5 1141.8 770.1 1152.3 769.6 1154.7 770.1 1156.9 772.5 1166.7 774.8 1174.5 777.2 1181.0 779.6 1186.4 782.0 1191.1 782.4 1192.7 782.6 1230.7 782.0 1232.0 779.6 1235.4 777.2 1239.5 774.8 1244.2 772.5 1249.7 770.1 1256.3 767.7 1264.3 766.2 1268.8 767.7 1292.8 768.0 1297.3 770.1 1314.8 770.4 1316.3 772.5 1324.7 772.7 1325.8 774.8 1331.8 777.2 1339.6 779.6 1348.5 780.8 1354.3 779.6 1355.1 777.2 1356.4 774.8 1357.6 772.5 1358.8 770.1 1358.4 767.7 1357.3 765.3 1356.1 763.0 1354.6 762.3 1354.3 760.6 1349.8 758.2 1346.9 755.8 1345.3 753.5 1344.2 751.1 1343.4 748.7 1342.4 746.3 1340.6 744.0 1338.7 741.6 1336.9 739.2 1335.1 736.9 1333.4 734.5 1331.7 732.1 1329.6 729.7 1327.9 727.4 1326.5 726.6 1325.8 725.2 1316.3 725.0 1314.3 723.7 1297.3 722.6 1280.1 721.7 1268.8 722.6 1262.4 725.0 1239.8 726.1 1230.7 727.4 1228.9 729.7 1225.6 732.1 1221.9 734.5 1217.7 736.9 1213.2 739.2 1208.5 741.6 1202.5 744.0 1194.3 745.1 1192.7 746.3 1154.7 746.3 1116.7 746.3 1116.7ZM231.2 1316.3 231.2 1316.3 233.6 1317.5 235.9 1318.9 238.3 1320.4 240.7 1322.0 243.1 1323.9 245.3 1325.8 245.4 1326.2 247.8 1340.1 249.3 1354.3 247.8 1355.6 245.4 1360.2 243.1 1356.3 241.2 1354.3 240.7 1348.5 238.3 1345.8 235.9 1344.6 233.6 1344.0 231.2 1343.6 228.8 1341.2 226.4 1338.5 224.1 1335.7 221.7 1332.6 219.3 1329.5 217.0 1326.1 216.9 1325.8 217.0 1325.7 219.3 1323.9 221.7 1322.3 224.1 1320.7 226.4 1319.1 228.8 1317.6 231.2 1316.3 231.2 1316.3ZM114.9 1340.1 117.2 1333.5 119.6 1331.4 122.0 1330.5 124.4 1330.5 126.7 1331.5 129.1 1332.7 131.5 1334.9 133.9 1337.6 136.2 1340.5 138.6 1343.7 141.0 1347.0 143.4 1350.7 145.2 1354.3 143.4 1356.9 141.0 1359.1 138.6 1361.1 136.2 1362.7 133.9 1364.1 131.5 1365.3 129.1 1366.4 126.7 1368.1 124.4 1369.8 122.0 1369.8 119.6 1368.1 117.2 1365.3 114.9 1359.7 112.5 1359.7 112.5 1354.3 112.5 1340.1 114.9 1340.1ZM290.5 1338.2 292.9 1340.3 295.2 1354.3 292.9 1359.2 290.5 1359.4 288.2 1354.3 290.5 1338.2ZM309.5 1348.9 311.9 1348.1 314.2 1354.3 311.9 1358.9 309.5 1357.9 307.7 1354.3 309.5 1348.9ZM577.8 1352.2 580.2 1349.3 582.5 1346.4 584.9 1343.4 587.3 1340.5 589.7 1337.5 592.0 1337.7 594.4 1338.1 596.8 1338.4 599.2 1338.6 601.5 1338.8 603.9 1338.9 606.3 1339.0 608.7 1339.0 611.0 1338.9 613.4 1338.9 615.8 1338.8 618.2 1338.8 620.5 1338.7 622.9 1338.8 625.3 1339.6 627.6 1340.5 630.0 1341.4 632.4 1342.3 634.8 1343.2 637.1 1344.1 639.5 1348.6 640.3 1354.3 639.5 1367.6 637.1 1371.8 634.8 1371.5 632.4 1371.3 630.0 1371.1 627.6 1370.9 625.3 1370.6 622.9 1370.3 620.5 1369.3 618.2 1368.3 615.8 1367.2 613.4 1366.2 611.0 1365.2 608.7 1364.2 606.3 1363.2 603.9 1362.5 601.5 1361.7 599.2 1360.9 596.8 1360.2 594.4 1359.5 592.0 1358.8 589.7 1358.1 587.3 1357.4 584.9 1356.8 582.5 1356.2 580.2 1355.5 577.8 1354.8 576.3 1354.3 577.8 1352.2ZM793.8 1350.0 796.2 1346.0 796.2 1354.3 796.2 1358.9 793.8 1356.5 792.4 1354.3 793.8 1350.0Z"/>
<path fill="#ff4a14" fill-rule="evenodd" d="M395.0 1192.1 397.4 1191.4 399.7 1190.6 402.1 1189.9 404.5 1189.1 406.9 1188.3 409.2 1187.5 411.6 1186.7 414.0 1185.9 416.4 1184.3 418.7 1182.3 421.1 1179.6 423.5 1177.6 425.9 1176.3 428.2 1175.0 430.6 1173.7 433.0 1173.3 435.4 1173.1 437.7 1172.9 440.1 1174.2 442.5 1175.8 444.9 1177.4 447.2 1179.0 449.6 1180.6 452.0 1182.1 454.4 1183.6 456.7 1185.6 459.1 1187.4 461.5 1188.9 463.8 1190.2 466.2 1191.4 468.6 1192.4 469.0 1192.7 468.6 1201.2 466.2 1223.0 465.4 1230.7 463.8 1232.2 461.5 1234.9 459.1 1237.6 456.7 1240.5 454.4 1243.4 452.0 1246.4 449.6 1249.5 447.2 1252.7 444.9 1252.6 442.5 1252.0 440.1 1251.5 437.7 1251.2 435.4 1250.7 433.0 1248.9 430.6 1247.1 428.2 1245.4 425.9 1243.7 423.5 1242.1 421.1 1240.3 418.7 1238.4 416.4 1236.7 414.0 1235.2 411.6 1233.7 409.2 1232.4 406.9 1231.1 406.5 1230.7 404.5 1220.5 402.1 1210.4 399.7 1203.7 397.4 1198.8 395.0 1195.2 393.6 1192.7 395.0 1192.1ZM736.9 1230.2 739.2 1227.9 741.6 1224.8 744.0 1220.7 746.3 1217.4 748.7 1214.7 751.1 1212.9 753.5 1213.6 755.8 1214.5 758.2 1215.9 760.6 1218.3 763.0 1222.9 764.6 1230.7 763.0 1234.3 760.6 1239.2 758.2 1244.1 755.8 1249.0 753.5 1253.9 751.1 1258.8 748.7 1262.5 746.3 1268.4 746.3 1268.8 744.0 1285.9 741.6 1293.4 739.3 1297.3 739.2 1297.4 739.1 1297.3 736.9 1295.3 734.5 1288.0 732.1 1278.8 730.2 1268.8 732.1 1257.3 734.5 1242.4 736.5 1230.7 736.9 1230.2ZM119.6 1350.2 122.0 1345.9 124.4 1346.1 126.7 1350.4 128.7 1354.3 126.7 1356.7 124.4 1359.7 122.0 1359.8 119.6 1356.8 118.4 1354.3 119.6 1350.2ZM608.7 1353.1 611.0 1351.9 613.4 1350.8 615.8 1349.9 618.2 1349.1 620.5 1348.4 622.9 1348.0 625.3 1348.9 627.6 1349.9 630.0 1350.8 632.4 1351.8 634.8 1352.7 637.1 1353.7 637.4 1354.3 637.1 1355.4 634.8 1356.8 632.4 1358.0 630.0 1358.9 627.6 1359.7 625.3 1360.3 622.9 1360.8 620.5 1360.0 618.2 1359.0 615.8 1358.0 613.4 1357.0 611.0 1356.1 608.7 1355.1 606.6 1354.3 608.7 1353.1Z"/>
<rect x="128.5" y="1355.1" width="69.6" height="27.8" fill="#000"/>
<rect x="166.4" y="1326.6" width="20.9" height="56.3" fill="#000"/>
<rect x="295.7" y="1355.1" width="21.4" height="27.8" fill="#000"/>
<rect x="322.1" y="1355.1" width="32.6" height="27.8" fill="#000"/>
<rect x="639.8" y="1355.1" width="64.7" height="27.8" fill="#000"/>
</g>
<rect x="112.5" y="1116.7" width="683.7" height="266.2" fill="none" stroke="#000" stroke-width="2.2"/>
<g stroke="#000"><line x1="112.5" y1="1116.7" x2="112.5" y2="1100.1" stroke-width="2.2"/><line x1="112.5" y1="1382.9" x2="112.5" y2="1399.5" stroke-width="2.2"/><line x1="169.9" y1="1116.7" x2="169.9" y2="1108.5" stroke-width="1.4"/><line x1="169.9" y1="1382.9" x2="169.9" y2="1391.1" stroke-width="1.4"/><line x1="227.2" y1="1116.7" x2="227.2" y2="1100.1" stroke-width="2.2"/><line x1="227.2" y1="1382.9" x2="227.2" y2="1399.5" stroke-width="2.2"/><line x1="284.6" y1="1116.7" x2="284.6" y2="1108.5" stroke-width="1.4"/><line x1="284.6" y1="1382.9" x2="284.6" y2="1391.1" stroke-width="1.4"/><line x1="342.0" y1="1116.7" x2="342.0" y2="1100.1" stroke-width="2.2"/><line x1="342.0" y1="1382.9" x2="342.0" y2="1399.5" stroke-width="2.2"/><line x1="399.4" y1="1116.7" x2="399.4" y2="1108.5" stroke-width="1.4"/><line x1="399.4" y1="1382.9" x2="399.4" y2="1391.1" stroke-width="1.4"/><line x1="456.7" y1="1116.7" x2="456.7" y2="1100.1" stroke-width="2.2"/><line x1="456.7" y1="1382.9" x2="456.7" y2="1399.5" stroke-width="2.2"/><line x1="514.1" y1="1116.7" x2="514.1" y2="1108.5" stroke-width="1.4"/><line x1="514.1" y1="1382.9" x2="514.1" y2="1391.1" stroke-width="1.4"/><line x1="571.5" y1="1116.7" x2="571.5" y2="1100.1" stroke-width="2.2"/><line x1="571.5" y1="1382.9" x2="571.5" y2="1399.5" stroke-width="2.2"/><line x1="628.9" y1="1116.7" x2="628.9" y2="1108.5" stroke-width="1.4"/><line x1="628.9" y1="1382.9" x2="628.9" y2="1391.1" stroke-width="1.4"/><line x1="686.2" y1="1116.7" x2="686.2" y2="1100.1" stroke-width="2.2"/><line x1="686.2" y1="1382.9" x2="686.2" y2="1399.5" stroke-width="2.2"/><line x1="743.6" y1="1116.7" x2="743.6" y2="1108.5" stroke-width="1.4"/><line x1="743.6" y1="1382.9" x2="743.6" y2="1391.1" stroke-width="1.4"/><line x1="112.5" y1="1116.7" x2="95.7" y2="1116.7" stroke-width="2.2"/><line x1="112.5" y1="1154.7" x2="95.7" y2="1154.7" stroke-width="2.2"/><line x1="112.5" y1="1192.7" x2="95.7" y2="1192.7" stroke-width="2.2"/><line x1="112.5" y1="1268.8" x2="95.7" y2="1268.8" stroke-width="2.2"/><line x1="112.5" y1="1325.8" x2="95.7" y2="1325.8" stroke-width="2.2"/><line x1="112.5" y1="1382.9" x2="95.7" y2="1382.9" stroke-width="2.2"/><line x1="796.2" y1="1138.6" x2="812.7" y2="1138.6" stroke-width="2.2"/><line x1="796.2" y1="1236.7" x2="812.7" y2="1236.7" stroke-width="2.2"/></g>
<text x="84.3" y="1122.7" text-anchor="end" font-size="16.7">300</text><text x="84.3" y="1160.7" text-anchor="end" font-size="16.7">400</text><text x="84.3" y="1198.7" text-anchor="end" font-size="16.7">500</text><text x="84.3" y="1274.8" text-anchor="end" font-size="16.7">700</text><text x="84.3" y="1331.8" text-anchor="end" font-size="16.7">850</text><text x="84.3" y="1388.9" text-anchor="end" font-size="16.7">1000</text><text x="823.3" y="1144.6" font-size="16.7">8</text><text x="823.3" y="1242.7" font-size="16.7">4</text><text x="112.5" y="1423.8" text-anchor="middle" font-size="16.9">0</text><text x="227.2" y="1423.8" text-anchor="middle" font-size="16.9">60E</text><text x="342.0" y="1423.8" text-anchor="middle" font-size="16.9">120E</text><text x="456.7" y="1423.8" text-anchor="middle" font-size="16.9">180</text><text x="571.5" y="1423.8" text-anchor="middle" font-size="16.9">120W</text><text x="686.2" y="1423.8" text-anchor="middle" font-size="16.9">60W</text><text x="454.3" y="1440.5" text-anchor="middle" font-size="15.6" xml:space="preserve">MIN = -28.09  MAX =  28.83</text><text x="110.6" y="1094.5" font-size="21">relative humidity</text><text x="797.1" y="1094.5" text-anchor="end" font-size="21.2">percent</text><text x="454.3" y="1057.7" text-anchor="middle" font-size="26.3">NBF1850OC_f19_tn11_01 - NCEP</text><text transform="translate(25.3 1250.2) rotate(-90) scale(0.94 1)" text-anchor="middle" font-size="28.3">Pressure (mb)</text><text transform="translate(874.6 1249.9) rotate(-90) scale(0.95 1)" text-anchor="middle" font-size="28.3">Height (km)</text>
<rect x="116.10" y="1457.2" width="42.26" height="11.3" fill="#00008f"/><rect x="158.36" y="1457.2" width="42.26" height="11.3" fill="#0022c0"/><rect x="200.61" y="1457.2" width="42.26" height="11.3" fill="#0033e0"/><rect x="242.87" y="1457.2" width="42.26" height="11.3" fill="#1a4cff"/><rect x="285.12" y="1457.2" width="42.26" height="11.3" fill="#4477ff"/><rect x="327.38" y="1457.2" width="42.26" height="11.3" fill="#80a5ff"/><rect x="369.64" y="1457.2" width="42.26" height="11.3" fill="#b0c8ff"/><rect x="411.89" y="1457.2" width="42.26" height="11.3" fill="#dceaff"/><rect x="454.15" y="1457.2" width="42.26" height="11.3" fill="#ffebdc"/><rect x="496.41" y="1457.2" width="42.26" height="11.3" fill="#ffc8b0"/><rect x="538.66" y="1457.2" width="42.26" height="11.3" fill="#ffa07a"/><rect x="580.92" y="1457.2" width="42.26" height="11.3" fill="#ff7442"/><rect x="623.18" y="1457.2" width="42.26" height="11.3" fill="#ff4a14"/><rect x="665.43" y="1457.2" width="42.26" height="11.3" fill="#e03000"/><rect x="707.69" y="1457.2" width="42.26" height="11.3" fill="#b82000"/><rect x="749.94" y="1457.2" width="42.26" height="11.3" fill="#8a0000"/><g stroke="#000" stroke-width="1.4" fill="none"><rect x="116.1" y="1457.2" width="676.1" height="11.3"/><line x1="158.36" y1="1457.2" x2="158.36" y2="1468.5"/><line x1="200.61" y1="1457.2" x2="200.61" y2="1468.5"/><line x1="242.87" y1="1457.2" x2="242.87" y2="1468.5"/><line x1="285.12" y1="1457.2" x2="285.12" y2="1468.5"/><line x1="327.38" y1="1457.2" x2="327.38" y2="1468.5"/><line x1="369.64" y1="1457.2" x2="369.64" y2="1468.5"/><line x1="411.89" y1="1457.2" x2="411.89" y2="1468.5"/><line x1="454.15" y1="1457.2" x2="454.15" y2="1468.5"/><line x1="496.41" y1="1457.2" x2="496.41" y2="1468.5"/><line x1="538.66" y1="1457.2" x2="538.66" y2="1468.5"/><line x1="580.92" y1="1457.2" x2="580.92" y2="1468.5"/><line x1="623.18" y1="1457.2" x2="623.18" y2="1468.5"/><line x1="665.43" y1="1457.2" x2="665.43" y2="1468.5"/><line x1="707.69" y1="1457.2" x2="707.69" y2="1468.5"/><line x1="749.94" y1="1457.2" x2="749.94" y2="1468.5"/></g><text x="158.36" y="1486.0" text-anchor="middle" font-size="15.5">-50</text><text x="200.61" y="1486.0" text-anchor="middle" font-size="15.5">-40</text><text x="242.87" y="1486.0" text-anchor="middle" font-size="15.5">-30</text><text x="285.12" y="1486.0" text-anchor="middle" font-size="15.5">-20</text><text x="327.38" y="1486.0" text-anchor="middle" font-size="15.5">-15</text><text x="369.64" y="1486.0" text-anchor="middle" font-size="15.5">-10</text><text x="411.89" y="1486.0" text-anchor="middle" font-size="15.5">-5</text><text x="454.15" y="1486.0" text-anchor="middle" font-size="15.5">0</text><text x="496.41" y="1486.0" text-anchor="middle" font-size="15.5">5</text><text x="538.66" y="1486.0" text-anchor="middle" font-size="15.5">10</text><text x="580.92" y="1486.0" text-anchor="middle" font-size="15.5">15</text><text x="623.18" y="1486.0" text-anchor="middle" font-size="15.5">20</text><text x="665.43" y="1486.0" text-anchor="middle" font-size="15.5">30</text><text x="707.69" y="1486.0" text-anchor="middle" font-size="15.5">40</text><text x="749.94" y="1486.0" text-anchor="middle" font-size="15.5">50</text>
</svg>
</body></html>
